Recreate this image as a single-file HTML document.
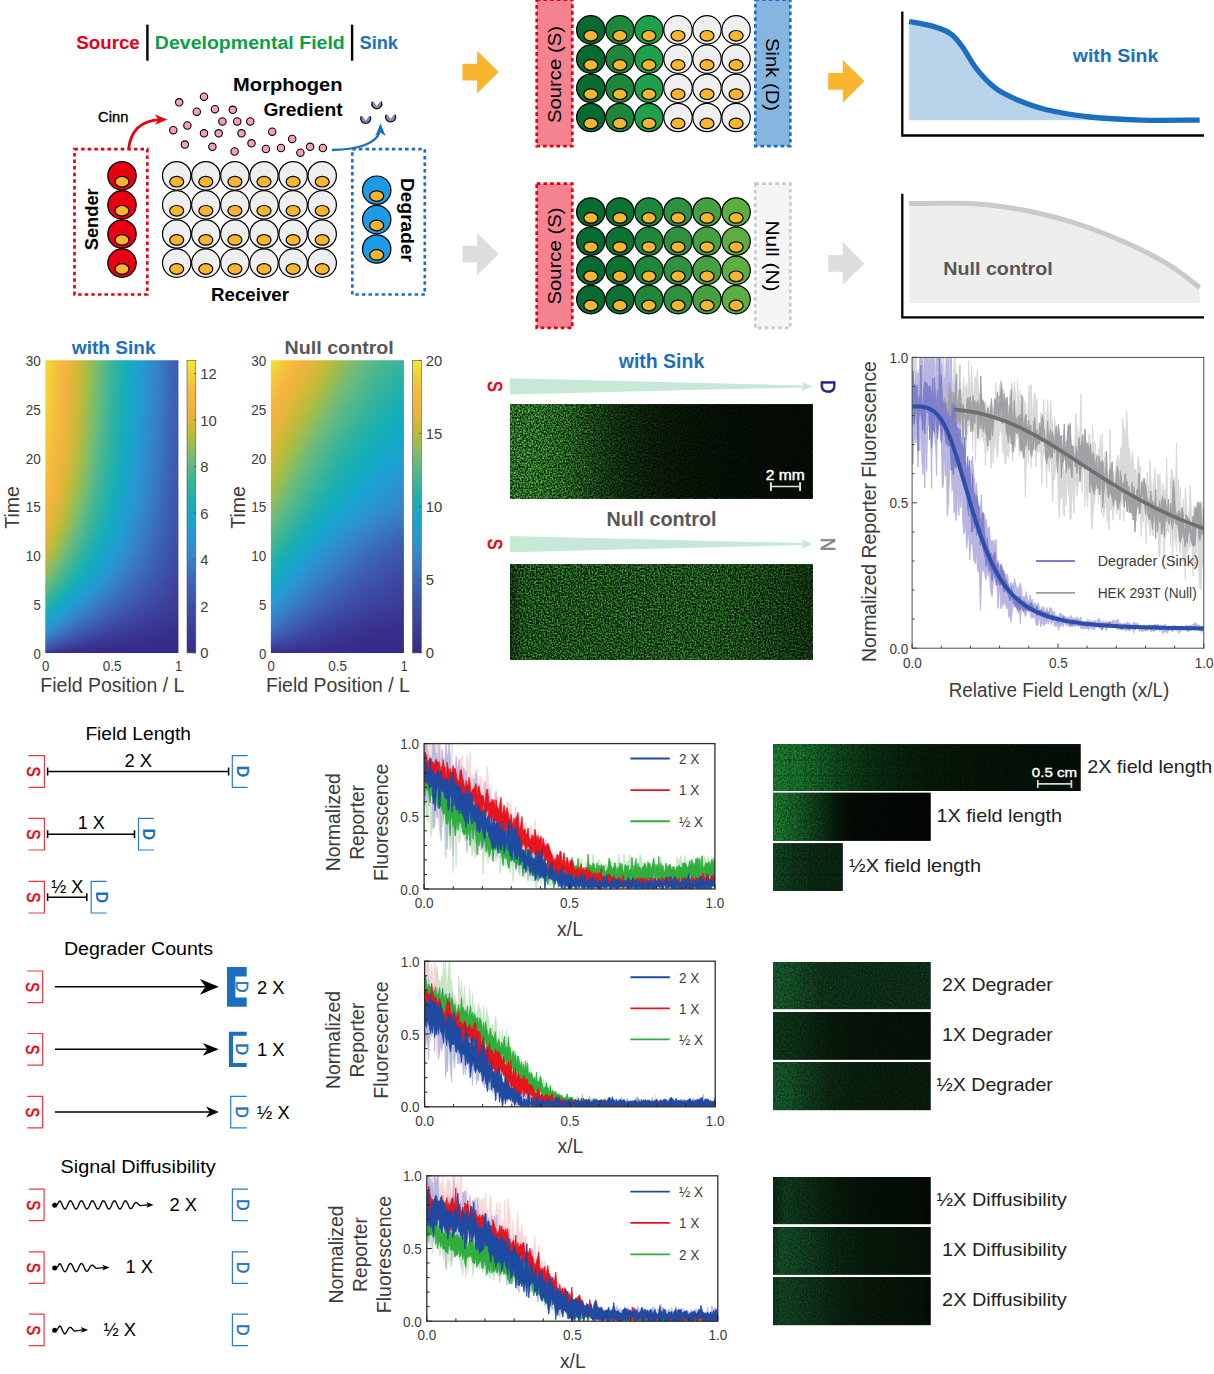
<!DOCTYPE html>
<html><head><meta charset="utf-8"><title>figure</title>
<style>
html,body{margin:0;padding:0;background:#fff;}
svg{display:block;font-family:"Liberation Sans", sans-serif;}
text{font-family:"Liberation Sans", sans-serif;}
</style></head><body>
<svg width="1214" height="1374" viewBox="0 0 1214 1374">
<rect width="1214" height="1374" fill="#fff"/>
<text x="76.30" y="48.80" font-size="18" text-anchor="start" fill="#e60012" font-weight="bold" textLength="63.50" lengthAdjust="spacingAndGlyphs">Source</text>
<rect x="146.2" y="24.7" width="2.4" height="36" fill="#000"/>
<text x="154.80" y="48.80" font-size="18" text-anchor="start" fill="#0b9f48" font-weight="bold" textLength="190.00" lengthAdjust="spacingAndGlyphs">Developmental Field</text>
<rect x="350.9" y="24.7" width="2.4" height="36" fill="#000"/>
<text x="359.50" y="48.80" font-size="18" text-anchor="start" fill="#1b6fbe" font-weight="bold" textLength="38.50" lengthAdjust="spacingAndGlyphs">Sink</text>
<text x="342.60" y="91.40" font-size="18.5" text-anchor="end" fill="#000" font-weight="bold" textLength="109.50" lengthAdjust="spacingAndGlyphs">Morphogen</text>
<text x="342.60" y="115.50" font-size="18.5" text-anchor="end" fill="#000" font-weight="bold" textLength="79.20" lengthAdjust="spacingAndGlyphs">Gredient</text>
<text x="98.10" y="121.70" font-size="14.5" text-anchor="start" fill="#000" textLength="30.30" lengthAdjust="spacingAndGlyphs" stroke="#000" stroke-width="0.35">Cinn</text>
<path d="M128.7 148.5 C131 128 144 120.5 160 119.6" fill="none" stroke="#e60012" stroke-width="2.8"/>
<path d="M167.5 119.5 L154.6 114.6 L158.6 119.7 L154.9 124.8 Z" fill="#e60012"/>
<path d="M332 150 C356 149.5 376 145 380 131" fill="none" stroke="#1b6fbe" stroke-width="2.4"/>
<path d="M380.5 123.3 L375.3 135.9 L380.3 132.6 L385.6 136 Z" fill="#1b6fbe"/>
<circle cx="179.2" cy="102.3" r="3.7" fill="#f4a1b1" stroke="#000" stroke-width="1.1"/><circle cx="204.0" cy="96.7" r="3.7" fill="#f4a1b1" stroke="#000" stroke-width="1.1"/><circle cx="196.8" cy="111.7" r="3.7" fill="#f4a1b1" stroke="#000" stroke-width="1.1"/><circle cx="214.9" cy="109.2" r="3.7" fill="#f4a1b1" stroke="#000" stroke-width="1.1"/><circle cx="232.8" cy="109.8" r="3.7" fill="#f4a1b1" stroke="#000" stroke-width="1.1"/><circle cx="222.4" cy="121.4" r="3.7" fill="#f4a1b1" stroke="#000" stroke-width="1.1"/><circle cx="237.2" cy="121.4" r="3.7" fill="#f4a1b1" stroke="#000" stroke-width="1.1"/><circle cx="250.3" cy="121.4" r="3.7" fill="#f4a1b1" stroke="#000" stroke-width="1.1"/><circle cx="173.3" cy="130.2" r="3.7" fill="#f4a1b1" stroke="#000" stroke-width="1.1"/><circle cx="187.4" cy="125.5" r="3.7" fill="#f4a1b1" stroke="#000" stroke-width="1.1"/><circle cx="204.0" cy="133.3" r="3.7" fill="#f4a1b1" stroke="#000" stroke-width="1.1"/><circle cx="218.7" cy="133.3" r="3.7" fill="#f4a1b1" stroke="#000" stroke-width="1.1"/><circle cx="241.5" cy="133.3" r="3.7" fill="#f4a1b1" stroke="#000" stroke-width="1.1"/><circle cx="272.2" cy="131.7" r="3.7" fill="#f4a1b1" stroke="#000" stroke-width="1.1"/><circle cx="184.9" cy="144.6" r="3.7" fill="#f4a1b1" stroke="#000" stroke-width="1.1"/><circle cx="212.4" cy="146.8" r="3.7" fill="#f4a1b1" stroke="#000" stroke-width="1.1"/><circle cx="234.6" cy="151.5" r="3.7" fill="#f4a1b1" stroke="#000" stroke-width="1.1"/><circle cx="251.5" cy="143.3" r="3.7" fill="#f4a1b1" stroke="#000" stroke-width="1.1"/><circle cx="265.9" cy="149.0" r="3.7" fill="#f4a1b1" stroke="#000" stroke-width="1.1"/><circle cx="281.0" cy="148.0" r="3.7" fill="#f4a1b1" stroke="#000" stroke-width="1.1"/><circle cx="292.2" cy="138.9" r="3.7" fill="#f4a1b1" stroke="#000" stroke-width="1.1"/><circle cx="300.4" cy="152.7" r="3.7" fill="#f4a1b1" stroke="#000" stroke-width="1.1"/><circle cx="310.1" cy="146.8" r="3.7" fill="#f4a1b1" stroke="#000" stroke-width="1.1"/><circle cx="322.9" cy="148.0" r="3.7" fill="#f4a1b1" stroke="#000" stroke-width="1.1"/>
<path d="M372.1 102.1 A5.0 5.0 0 1 0 381.5 102.1 L380.2 101.4 L376.8 106.0 L373.4 101.4 Z" fill="#8189b7"/><path d="M372.1 102.1 A5.0 5.0 0 1 0 381.5 102.1" fill="none" stroke="#111" stroke-width="1.3" stroke-linecap="round"/>
<path d="M361.0 116.7 A5.0 5.0 0 1 0 370.4 116.7 L369.1 116.0 L365.7 120.6 L362.3 116.0 Z" fill="#8189b7"/><path d="M361.0 116.7 A5.0 5.0 0 1 0 370.4 116.7" fill="none" stroke="#111" stroke-width="1.3" stroke-linecap="round"/>
<path d="M385.9 115.2 A5.0 5.0 0 1 0 395.3 115.2 L394.0 114.5 L390.6 119.1 L387.2 114.5 Z" fill="#8189b7"/><path d="M385.9 115.2 A5.0 5.0 0 1 0 395.3 115.2" fill="none" stroke="#111" stroke-width="1.3" stroke-linecap="round"/>
<rect x="74.5" y="149.2" width="72.8" height="145.3" fill="none" stroke="#e60012" stroke-width="2.7" stroke-dasharray="3.5 3.1"/>
<rect x="352.3" y="149.2" width="72.5" height="145.3" fill="none" stroke="#1b6fbe" stroke-width="2.7" stroke-dasharray="3.5 3.1"/>
<circle cx="122.0" cy="175.8" r="14.2" fill="#e60012" stroke="#000" stroke-width="1.2"/><ellipse cx="122.0" cy="181.7" rx="7" ry="5.3" fill="#f9b52e" stroke="#000" stroke-width="1.2"/>
<circle cx="122.0" cy="204.9" r="14.2" fill="#e60012" stroke="#000" stroke-width="1.2"/><ellipse cx="122.0" cy="210.8" rx="7" ry="5.3" fill="#f9b52e" stroke="#000" stroke-width="1.2"/>
<circle cx="122.0" cy="234.0" r="14.2" fill="#e60012" stroke="#000" stroke-width="1.2"/><ellipse cx="122.0" cy="239.9" rx="7" ry="5.3" fill="#f9b52e" stroke="#000" stroke-width="1.2"/>
<circle cx="122.0" cy="263.1" r="14.2" fill="#e60012" stroke="#000" stroke-width="1.2"/><ellipse cx="122.0" cy="269.0" rx="7" ry="5.3" fill="#f9b52e" stroke="#000" stroke-width="1.2"/>
<circle cx="176.7" cy="175.8" r="14.2" fill="#efefef" stroke="#000" stroke-width="1.2"/><ellipse cx="176.7" cy="181.7" rx="7" ry="5.3" fill="#f9b52e" stroke="#000" stroke-width="1.2"/>
<circle cx="205.8" cy="175.8" r="14.2" fill="#efefef" stroke="#000" stroke-width="1.2"/><ellipse cx="205.8" cy="181.7" rx="7" ry="5.3" fill="#f9b52e" stroke="#000" stroke-width="1.2"/>
<circle cx="234.9" cy="175.8" r="14.2" fill="#efefef" stroke="#000" stroke-width="1.2"/><ellipse cx="234.9" cy="181.7" rx="7" ry="5.3" fill="#f9b52e" stroke="#000" stroke-width="1.2"/>
<circle cx="264.0" cy="175.8" r="14.2" fill="#efefef" stroke="#000" stroke-width="1.2"/><ellipse cx="264.0" cy="181.7" rx="7" ry="5.3" fill="#f9b52e" stroke="#000" stroke-width="1.2"/>
<circle cx="293.1" cy="175.8" r="14.2" fill="#efefef" stroke="#000" stroke-width="1.2"/><ellipse cx="293.1" cy="181.7" rx="7" ry="5.3" fill="#f9b52e" stroke="#000" stroke-width="1.2"/>
<circle cx="322.2" cy="175.8" r="14.2" fill="#efefef" stroke="#000" stroke-width="1.2"/><ellipse cx="322.2" cy="181.7" rx="7" ry="5.3" fill="#f9b52e" stroke="#000" stroke-width="1.2"/>
<circle cx="176.7" cy="204.9" r="14.2" fill="#efefef" stroke="#000" stroke-width="1.2"/><ellipse cx="176.7" cy="210.8" rx="7" ry="5.3" fill="#f9b52e" stroke="#000" stroke-width="1.2"/>
<circle cx="205.8" cy="204.9" r="14.2" fill="#efefef" stroke="#000" stroke-width="1.2"/><ellipse cx="205.8" cy="210.8" rx="7" ry="5.3" fill="#f9b52e" stroke="#000" stroke-width="1.2"/>
<circle cx="234.9" cy="204.9" r="14.2" fill="#efefef" stroke="#000" stroke-width="1.2"/><ellipse cx="234.9" cy="210.8" rx="7" ry="5.3" fill="#f9b52e" stroke="#000" stroke-width="1.2"/>
<circle cx="264.0" cy="204.9" r="14.2" fill="#efefef" stroke="#000" stroke-width="1.2"/><ellipse cx="264.0" cy="210.8" rx="7" ry="5.3" fill="#f9b52e" stroke="#000" stroke-width="1.2"/>
<circle cx="293.1" cy="204.9" r="14.2" fill="#efefef" stroke="#000" stroke-width="1.2"/><ellipse cx="293.1" cy="210.8" rx="7" ry="5.3" fill="#f9b52e" stroke="#000" stroke-width="1.2"/>
<circle cx="322.2" cy="204.9" r="14.2" fill="#efefef" stroke="#000" stroke-width="1.2"/><ellipse cx="322.2" cy="210.8" rx="7" ry="5.3" fill="#f9b52e" stroke="#000" stroke-width="1.2"/>
<circle cx="176.7" cy="234.0" r="14.2" fill="#efefef" stroke="#000" stroke-width="1.2"/><ellipse cx="176.7" cy="239.9" rx="7" ry="5.3" fill="#f9b52e" stroke="#000" stroke-width="1.2"/>
<circle cx="205.8" cy="234.0" r="14.2" fill="#efefef" stroke="#000" stroke-width="1.2"/><ellipse cx="205.8" cy="239.9" rx="7" ry="5.3" fill="#f9b52e" stroke="#000" stroke-width="1.2"/>
<circle cx="234.9" cy="234.0" r="14.2" fill="#efefef" stroke="#000" stroke-width="1.2"/><ellipse cx="234.9" cy="239.9" rx="7" ry="5.3" fill="#f9b52e" stroke="#000" stroke-width="1.2"/>
<circle cx="264.0" cy="234.0" r="14.2" fill="#efefef" stroke="#000" stroke-width="1.2"/><ellipse cx="264.0" cy="239.9" rx="7" ry="5.3" fill="#f9b52e" stroke="#000" stroke-width="1.2"/>
<circle cx="293.1" cy="234.0" r="14.2" fill="#efefef" stroke="#000" stroke-width="1.2"/><ellipse cx="293.1" cy="239.9" rx="7" ry="5.3" fill="#f9b52e" stroke="#000" stroke-width="1.2"/>
<circle cx="322.2" cy="234.0" r="14.2" fill="#efefef" stroke="#000" stroke-width="1.2"/><ellipse cx="322.2" cy="239.9" rx="7" ry="5.3" fill="#f9b52e" stroke="#000" stroke-width="1.2"/>
<circle cx="176.7" cy="263.1" r="14.2" fill="#efefef" stroke="#000" stroke-width="1.2"/><ellipse cx="176.7" cy="269.0" rx="7" ry="5.3" fill="#f9b52e" stroke="#000" stroke-width="1.2"/>
<circle cx="205.8" cy="263.1" r="14.2" fill="#efefef" stroke="#000" stroke-width="1.2"/><ellipse cx="205.8" cy="269.0" rx="7" ry="5.3" fill="#f9b52e" stroke="#000" stroke-width="1.2"/>
<circle cx="234.9" cy="263.1" r="14.2" fill="#efefef" stroke="#000" stroke-width="1.2"/><ellipse cx="234.9" cy="269.0" rx="7" ry="5.3" fill="#f9b52e" stroke="#000" stroke-width="1.2"/>
<circle cx="264.0" cy="263.1" r="14.2" fill="#efefef" stroke="#000" stroke-width="1.2"/><ellipse cx="264.0" cy="269.0" rx="7" ry="5.3" fill="#f9b52e" stroke="#000" stroke-width="1.2"/>
<circle cx="293.1" cy="263.1" r="14.2" fill="#efefef" stroke="#000" stroke-width="1.2"/><ellipse cx="293.1" cy="269.0" rx="7" ry="5.3" fill="#f9b52e" stroke="#000" stroke-width="1.2"/>
<circle cx="322.2" cy="263.1" r="14.2" fill="#efefef" stroke="#000" stroke-width="1.2"/><ellipse cx="322.2" cy="269.0" rx="7" ry="5.3" fill="#f9b52e" stroke="#000" stroke-width="1.2"/>
<circle cx="376.7" cy="190.2" r="14.2" fill="#1e9be6" stroke="#000" stroke-width="1.2"/><ellipse cx="376.7" cy="196.1" rx="7" ry="5.3" fill="#f9b52e" stroke="#000" stroke-width="1.2"/>
<circle cx="376.7" cy="219.6" r="14.2" fill="#1e9be6" stroke="#000" stroke-width="1.2"/><ellipse cx="376.7" cy="225.5" rx="7" ry="5.3" fill="#f9b52e" stroke="#000" stroke-width="1.2"/>
<circle cx="376.7" cy="249.0" r="14.2" fill="#1e9be6" stroke="#000" stroke-width="1.2"/><ellipse cx="376.7" cy="254.9" rx="7" ry="5.3" fill="#f9b52e" stroke="#000" stroke-width="1.2"/>
<text x="97.80" y="219.30" font-size="18.5" text-anchor="middle" fill="#000" font-weight="bold" transform="rotate(-90 97.80 219.30)" textLength="62.00" lengthAdjust="spacingAndGlyphs">Sender</text>
<text x="401.20" y="220.00" font-size="18.5" text-anchor="middle" fill="#000" font-weight="bold" transform="rotate(90 401.20 220.00)" textLength="84.00" lengthAdjust="spacingAndGlyphs">Degrader</text>
<text x="250.00" y="300.90" font-size="18.5" text-anchor="middle" fill="#000" font-weight="bold" textLength="78.00" lengthAdjust="spacingAndGlyphs">Receiver</text>
<path d="M462.5 63.7 H477.1 V50.7 L498.7 72.1 L477.1 93.5 V80.5 H462.5 Z" fill="#f9b52e"/>
<path d="M828.2 72.9 H842.8 V59.9 L864.4 81.3 L842.8 102.7 V89.7 H828.2 Z" fill="#f9b52e"/>
<path d="M462.5 245.7 H477.1 V232.7 L498.7 254.1 L477.1 275.5 V262.5 H462.5 Z" fill="#dcdddd"/>
<path d="M828.2 255.0 H842.8 V242.0 L864.4 263.4 L842.8 284.8 V271.8 H828.2 Z" fill="#dcdddd"/>
<rect x="536.7" y="-0.3" width="35.6" height="146.5" fill="#f5828f" stroke="#e60012" stroke-width="2.7" stroke-dasharray="3.7 3"/>
<rect x="755.3" y="-0.3" width="35.0" height="146.5" fill="#86b5df" stroke="#1b6fbe" stroke-width="2.7" stroke-dasharray="3.7 3"/>
<circle cx="590.8" cy="29.9" r="14.2" fill="#066b31" stroke="#000" stroke-width="1.2"/><ellipse cx="590.8" cy="35.8" rx="7" ry="5.3" fill="#f9b52e" stroke="#000" stroke-width="1.2"/>
<circle cx="619.9" cy="29.9" r="14.2" fill="#1f873b" stroke="#000" stroke-width="1.2"/><ellipse cx="619.9" cy="35.8" rx="7" ry="5.3" fill="#f9b52e" stroke="#000" stroke-width="1.2"/>
<circle cx="648.9" cy="29.9" r="14.2" fill="#1fa04a" stroke="#000" stroke-width="1.2"/><ellipse cx="648.9" cy="35.8" rx="7" ry="5.3" fill="#f9b52e" stroke="#000" stroke-width="1.2"/>
<circle cx="678.0" cy="29.9" r="14.2" fill="#efefef" stroke="#000" stroke-width="1.2"/><ellipse cx="678.0" cy="35.8" rx="7" ry="5.3" fill="#f9b52e" stroke="#000" stroke-width="1.2"/>
<circle cx="707.0" cy="29.9" r="14.2" fill="#efefef" stroke="#000" stroke-width="1.2"/><ellipse cx="707.0" cy="35.8" rx="7" ry="5.3" fill="#f9b52e" stroke="#000" stroke-width="1.2"/>
<circle cx="736.1" cy="29.9" r="14.2" fill="#efefef" stroke="#000" stroke-width="1.2"/><ellipse cx="736.1" cy="35.8" rx="7" ry="5.3" fill="#f9b52e" stroke="#000" stroke-width="1.2"/>
<circle cx="590.8" cy="59.1" r="14.2" fill="#066b31" stroke="#000" stroke-width="1.2"/><ellipse cx="590.8" cy="65.0" rx="7" ry="5.3" fill="#f9b52e" stroke="#000" stroke-width="1.2"/>
<circle cx="619.9" cy="59.1" r="14.2" fill="#1f873b" stroke="#000" stroke-width="1.2"/><ellipse cx="619.9" cy="65.0" rx="7" ry="5.3" fill="#f9b52e" stroke="#000" stroke-width="1.2"/>
<circle cx="648.9" cy="59.1" r="14.2" fill="#1fa04a" stroke="#000" stroke-width="1.2"/><ellipse cx="648.9" cy="65.0" rx="7" ry="5.3" fill="#f9b52e" stroke="#000" stroke-width="1.2"/>
<circle cx="678.0" cy="59.1" r="14.2" fill="#efefef" stroke="#000" stroke-width="1.2"/><ellipse cx="678.0" cy="65.0" rx="7" ry="5.3" fill="#f9b52e" stroke="#000" stroke-width="1.2"/>
<circle cx="707.0" cy="59.1" r="14.2" fill="#efefef" stroke="#000" stroke-width="1.2"/><ellipse cx="707.0" cy="65.0" rx="7" ry="5.3" fill="#f9b52e" stroke="#000" stroke-width="1.2"/>
<circle cx="736.1" cy="59.1" r="14.2" fill="#efefef" stroke="#000" stroke-width="1.2"/><ellipse cx="736.1" cy="65.0" rx="7" ry="5.3" fill="#f9b52e" stroke="#000" stroke-width="1.2"/>
<circle cx="590.8" cy="88.3" r="14.2" fill="#066b31" stroke="#000" stroke-width="1.2"/><ellipse cx="590.8" cy="94.2" rx="7" ry="5.3" fill="#f9b52e" stroke="#000" stroke-width="1.2"/>
<circle cx="619.9" cy="88.3" r="14.2" fill="#1f873b" stroke="#000" stroke-width="1.2"/><ellipse cx="619.9" cy="94.2" rx="7" ry="5.3" fill="#f9b52e" stroke="#000" stroke-width="1.2"/>
<circle cx="648.9" cy="88.3" r="14.2" fill="#1fa04a" stroke="#000" stroke-width="1.2"/><ellipse cx="648.9" cy="94.2" rx="7" ry="5.3" fill="#f9b52e" stroke="#000" stroke-width="1.2"/>
<circle cx="678.0" cy="88.3" r="14.2" fill="#efefef" stroke="#000" stroke-width="1.2"/><ellipse cx="678.0" cy="94.2" rx="7" ry="5.3" fill="#f9b52e" stroke="#000" stroke-width="1.2"/>
<circle cx="707.0" cy="88.3" r="14.2" fill="#efefef" stroke="#000" stroke-width="1.2"/><ellipse cx="707.0" cy="94.2" rx="7" ry="5.3" fill="#f9b52e" stroke="#000" stroke-width="1.2"/>
<circle cx="736.1" cy="88.3" r="14.2" fill="#efefef" stroke="#000" stroke-width="1.2"/><ellipse cx="736.1" cy="94.2" rx="7" ry="5.3" fill="#f9b52e" stroke="#000" stroke-width="1.2"/>
<circle cx="590.8" cy="117.5" r="14.2" fill="#066b31" stroke="#000" stroke-width="1.2"/><ellipse cx="590.8" cy="123.4" rx="7" ry="5.3" fill="#f9b52e" stroke="#000" stroke-width="1.2"/>
<circle cx="619.9" cy="117.5" r="14.2" fill="#1f873b" stroke="#000" stroke-width="1.2"/><ellipse cx="619.9" cy="123.4" rx="7" ry="5.3" fill="#f9b52e" stroke="#000" stroke-width="1.2"/>
<circle cx="648.9" cy="117.5" r="14.2" fill="#1fa04a" stroke="#000" stroke-width="1.2"/><ellipse cx="648.9" cy="123.4" rx="7" ry="5.3" fill="#f9b52e" stroke="#000" stroke-width="1.2"/>
<circle cx="678.0" cy="117.5" r="14.2" fill="#efefef" stroke="#000" stroke-width="1.2"/><ellipse cx="678.0" cy="123.4" rx="7" ry="5.3" fill="#f9b52e" stroke="#000" stroke-width="1.2"/>
<circle cx="707.0" cy="117.5" r="14.2" fill="#efefef" stroke="#000" stroke-width="1.2"/><ellipse cx="707.0" cy="123.4" rx="7" ry="5.3" fill="#f9b52e" stroke="#000" stroke-width="1.2"/>
<circle cx="736.1" cy="117.5" r="14.2" fill="#efefef" stroke="#000" stroke-width="1.2"/><ellipse cx="736.1" cy="123.4" rx="7" ry="5.3" fill="#f9b52e" stroke="#000" stroke-width="1.2"/>
<text x="561.30" y="74.50" font-size="18.5" text-anchor="middle" fill="#000" transform="rotate(-90 561.30 74.50)" textLength="97.00" lengthAdjust="spacingAndGlyphs">Source (S)</text>
<text x="766.30" y="74.50" font-size="18.5" text-anchor="middle" fill="#000" transform="rotate(90 766.30 74.50)" textLength="73.00" lengthAdjust="spacingAndGlyphs">Sink (D)</text>
<rect x="536.7" y="183.7" width="35.6" height="144.1" fill="#f5828f" stroke="#e60012" stroke-width="2.7" stroke-dasharray="3.7 3"/>
<rect x="755.3" y="183.7" width="35.0" height="144.1" fill="#f5f5f5" stroke="#c9caca" stroke-width="2.7" stroke-dasharray="3.7 3"/>
<circle cx="590.8" cy="212.0" r="14.2" fill="#066b31" stroke="#000" stroke-width="1.2"/><ellipse cx="590.8" cy="217.9" rx="7" ry="5.3" fill="#f9b52e" stroke="#000" stroke-width="1.2"/>
<circle cx="619.9" cy="212.0" r="14.2" fill="#0c7234" stroke="#000" stroke-width="1.2"/><ellipse cx="619.9" cy="217.9" rx="7" ry="5.3" fill="#f9b52e" stroke="#000" stroke-width="1.2"/>
<circle cx="648.9" cy="212.0" r="14.2" fill="#1f873b" stroke="#000" stroke-width="1.2"/><ellipse cx="648.9" cy="217.9" rx="7" ry="5.3" fill="#f9b52e" stroke="#000" stroke-width="1.2"/>
<circle cx="678.0" cy="212.0" r="14.2" fill="#2f9140" stroke="#000" stroke-width="1.2"/><ellipse cx="678.0" cy="217.9" rx="7" ry="5.3" fill="#f9b52e" stroke="#000" stroke-width="1.2"/>
<circle cx="707.0" cy="212.0" r="14.2" fill="#45a041" stroke="#000" stroke-width="1.2"/><ellipse cx="707.0" cy="217.9" rx="7" ry="5.3" fill="#f9b52e" stroke="#000" stroke-width="1.2"/>
<circle cx="736.1" cy="212.0" r="14.2" fill="#5bae3f" stroke="#000" stroke-width="1.2"/><ellipse cx="736.1" cy="217.9" rx="7" ry="5.3" fill="#f9b52e" stroke="#000" stroke-width="1.2"/>
<circle cx="590.8" cy="241.2" r="14.2" fill="#066b31" stroke="#000" stroke-width="1.2"/><ellipse cx="590.8" cy="247.1" rx="7" ry="5.3" fill="#f9b52e" stroke="#000" stroke-width="1.2"/>
<circle cx="619.9" cy="241.2" r="14.2" fill="#0c7234" stroke="#000" stroke-width="1.2"/><ellipse cx="619.9" cy="247.1" rx="7" ry="5.3" fill="#f9b52e" stroke="#000" stroke-width="1.2"/>
<circle cx="648.9" cy="241.2" r="14.2" fill="#1f873b" stroke="#000" stroke-width="1.2"/><ellipse cx="648.9" cy="247.1" rx="7" ry="5.3" fill="#f9b52e" stroke="#000" stroke-width="1.2"/>
<circle cx="678.0" cy="241.2" r="14.2" fill="#2f9140" stroke="#000" stroke-width="1.2"/><ellipse cx="678.0" cy="247.1" rx="7" ry="5.3" fill="#f9b52e" stroke="#000" stroke-width="1.2"/>
<circle cx="707.0" cy="241.2" r="14.2" fill="#45a041" stroke="#000" stroke-width="1.2"/><ellipse cx="707.0" cy="247.1" rx="7" ry="5.3" fill="#f9b52e" stroke="#000" stroke-width="1.2"/>
<circle cx="736.1" cy="241.2" r="14.2" fill="#5bae3f" stroke="#000" stroke-width="1.2"/><ellipse cx="736.1" cy="247.1" rx="7" ry="5.3" fill="#f9b52e" stroke="#000" stroke-width="1.2"/>
<circle cx="590.8" cy="270.4" r="14.2" fill="#066b31" stroke="#000" stroke-width="1.2"/><ellipse cx="590.8" cy="276.3" rx="7" ry="5.3" fill="#f9b52e" stroke="#000" stroke-width="1.2"/>
<circle cx="619.9" cy="270.4" r="14.2" fill="#0c7234" stroke="#000" stroke-width="1.2"/><ellipse cx="619.9" cy="276.3" rx="7" ry="5.3" fill="#f9b52e" stroke="#000" stroke-width="1.2"/>
<circle cx="648.9" cy="270.4" r="14.2" fill="#1f873b" stroke="#000" stroke-width="1.2"/><ellipse cx="648.9" cy="276.3" rx="7" ry="5.3" fill="#f9b52e" stroke="#000" stroke-width="1.2"/>
<circle cx="678.0" cy="270.4" r="14.2" fill="#2f9140" stroke="#000" stroke-width="1.2"/><ellipse cx="678.0" cy="276.3" rx="7" ry="5.3" fill="#f9b52e" stroke="#000" stroke-width="1.2"/>
<circle cx="707.0" cy="270.4" r="14.2" fill="#45a041" stroke="#000" stroke-width="1.2"/><ellipse cx="707.0" cy="276.3" rx="7" ry="5.3" fill="#f9b52e" stroke="#000" stroke-width="1.2"/>
<circle cx="736.1" cy="270.4" r="14.2" fill="#5bae3f" stroke="#000" stroke-width="1.2"/><ellipse cx="736.1" cy="276.3" rx="7" ry="5.3" fill="#f9b52e" stroke="#000" stroke-width="1.2"/>
<circle cx="590.8" cy="299.6" r="14.2" fill="#066b31" stroke="#000" stroke-width="1.2"/><ellipse cx="590.8" cy="305.5" rx="7" ry="5.3" fill="#f9b52e" stroke="#000" stroke-width="1.2"/>
<circle cx="619.9" cy="299.6" r="14.2" fill="#0c7234" stroke="#000" stroke-width="1.2"/><ellipse cx="619.9" cy="305.5" rx="7" ry="5.3" fill="#f9b52e" stroke="#000" stroke-width="1.2"/>
<circle cx="648.9" cy="299.6" r="14.2" fill="#1f873b" stroke="#000" stroke-width="1.2"/><ellipse cx="648.9" cy="305.5" rx="7" ry="5.3" fill="#f9b52e" stroke="#000" stroke-width="1.2"/>
<circle cx="678.0" cy="299.6" r="14.2" fill="#2f9140" stroke="#000" stroke-width="1.2"/><ellipse cx="678.0" cy="305.5" rx="7" ry="5.3" fill="#f9b52e" stroke="#000" stroke-width="1.2"/>
<circle cx="707.0" cy="299.6" r="14.2" fill="#45a041" stroke="#000" stroke-width="1.2"/><ellipse cx="707.0" cy="305.5" rx="7" ry="5.3" fill="#f9b52e" stroke="#000" stroke-width="1.2"/>
<circle cx="736.1" cy="299.6" r="14.2" fill="#5bae3f" stroke="#000" stroke-width="1.2"/><ellipse cx="736.1" cy="305.5" rx="7" ry="5.3" fill="#f9b52e" stroke="#000" stroke-width="1.2"/>
<text x="561.30" y="256.00" font-size="18.5" text-anchor="middle" fill="#000" transform="rotate(-90 561.30 256.00)" textLength="97.00" lengthAdjust="spacingAndGlyphs">Source (S)</text>
<text x="766.30" y="256.00" font-size="18.5" text-anchor="middle" fill="#000" transform="rotate(90 766.30 256.00)" textLength="71.00" lengthAdjust="spacingAndGlyphs">Null (N)</text>
<path d="M909.1 21.5 C913.4 22.4 927.7 24.8 934.7 26.9 C941.7 29.0 946.5 30.8 951.1 34.1 C955.7 37.4 958.0 40.8 962.3 46.7 C966.7 52.7 971.7 62.9 977.4 69.9 C983.0 76.9 989.3 83.6 996.1 88.7 C1002.9 93.7 1010.0 96.8 1018.3 100.3 C1026.5 103.7 1033.6 106.7 1045.6 109.5 C1057.5 112.3 1074.0 115.2 1089.9 117.0 C1105.8 118.7 1122.8 119.5 1141.1 120.1 C1159.4 120.6 1189.9 120.1 1199.7 120.1 L1199.7 120.3 L909.1 120.3 Z" fill="#b9d4ea"/>
<path d="M909.1 21.5 C913.4 22.4 927.7 24.8 934.7 26.9 C941.7 29.0 946.5 30.8 951.1 34.1 C955.7 37.4 958.0 40.8 962.3 46.7 C966.7 52.7 971.7 62.9 977.4 69.9 C983.0 76.9 989.3 83.6 996.1 88.7 C1002.9 93.7 1010.0 96.8 1018.3 100.3 C1026.5 103.7 1033.6 106.7 1045.6 109.5 C1057.5 112.3 1074.0 115.2 1089.9 117.0 C1105.8 118.7 1122.8 119.5 1141.1 120.1 C1159.4 120.6 1189.9 120.1 1199.7 120.1" fill="none" stroke="#1b6fbe" stroke-width="5.3"/>
<path d="M902.3 11.6 V135.5 H1204" fill="none" stroke="#000" stroke-width="2.3"/>
<text x="1072.80" y="62.00" font-size="19" text-anchor="start" fill="#1b6fbe" font-weight="bold" textLength="85.50" lengthAdjust="spacingAndGlyphs">with Sink</text>
<path d="M909.1 203.6 C914.8 203.6 933.0 203.3 943.2 203.3 C953.5 203.3 960.3 203.0 970.5 203.6 C980.8 204.2 993.3 205.4 1004.6 207.0 C1016.0 208.6 1027.4 210.6 1038.7 213.2 C1050.1 215.7 1061.5 218.8 1072.9 222.4 C1084.2 226.0 1095.6 230.1 1107.0 234.7 C1118.3 239.2 1130.3 244.3 1141.1 249.7 C1151.9 255.0 1162.0 260.4 1171.8 266.7 C1181.5 273.0 1195.1 284.0 1199.7 287.5 L1199.7 303 L909.1 303 Z" fill="#eeeeee"/>
<path d="M909.1 203.6 C914.8 203.6 933.0 203.3 943.2 203.3 C953.5 203.3 960.3 203.0 970.5 203.6 C980.8 204.2 993.3 205.4 1004.6 207.0 C1016.0 208.6 1027.4 210.6 1038.7 213.2 C1050.1 215.7 1061.5 218.8 1072.9 222.4 C1084.2 226.0 1095.6 230.1 1107.0 234.7 C1118.3 239.2 1130.3 244.3 1141.1 249.7 C1151.9 255.0 1162.0 260.4 1171.8 266.7 C1181.5 273.0 1195.1 284.0 1199.7 287.5" fill="none" stroke="#c9caca" stroke-width="5"/>
<path d="M902.3 193.7 V317.3 H1204" fill="none" stroke="#000" stroke-width="2.3"/>
<text x="943.20" y="274.50" font-size="19" text-anchor="start" fill="#595757" font-weight="bold" textLength="109.50" lengthAdjust="spacingAndGlyphs">Null control</text>
<defs>
<linearGradient id="h0r0"><stop offset="0%" stop-color="#3a3a96"/><stop offset="8.3%" stop-color="#393490"/><stop offset="16.7%" stop-color="#37308d"/><stop offset="25%" stop-color="#372d8a"/><stop offset="33.3%" stop-color="#362c89"/><stop offset="41.7%" stop-color="#362b88"/><stop offset="50%" stop-color="#362b88"/><stop offset="58.3%" stop-color="#362b88"/><stop offset="66.7%" stop-color="#362b88"/><stop offset="75%" stop-color="#362b88"/><stop offset="83.3%" stop-color="#362b88"/><stop offset="91.7%" stop-color="#362b88"/><stop offset="100%" stop-color="#362b88"/></linearGradient>
<linearGradient id="h0r1"><stop offset="0%" stop-color="#3d52a9"/><stop offset="8.3%" stop-color="#3c449e"/><stop offset="16.7%" stop-color="#3a3a96"/><stop offset="25%" stop-color="#393490"/><stop offset="33.3%" stop-color="#37308d"/><stop offset="41.7%" stop-color="#372e8b"/><stop offset="50%" stop-color="#362c89"/><stop offset="58.3%" stop-color="#362c89"/><stop offset="66.7%" stop-color="#362b88"/><stop offset="75%" stop-color="#362b88"/><stop offset="83.3%" stop-color="#362b88"/><stop offset="91.7%" stop-color="#362b88"/><stop offset="100%" stop-color="#362b88"/></linearGradient>
<linearGradient id="h0r2"><stop offset="0%" stop-color="#3b61b4"/><stop offset="8.3%" stop-color="#3d50a7"/><stop offset="16.7%" stop-color="#3c449e"/><stop offset="25%" stop-color="#3b3c98"/><stop offset="33.3%" stop-color="#393692"/><stop offset="41.7%" stop-color="#38328e"/><stop offset="50%" stop-color="#372f8c"/><stop offset="58.3%" stop-color="#372d8a"/><stop offset="66.7%" stop-color="#362c89"/><stop offset="75%" stop-color="#362c89"/><stop offset="83.3%" stop-color="#362b88"/><stop offset="91.7%" stop-color="#362b88"/><stop offset="100%" stop-color="#362b88"/></linearGradient>
<linearGradient id="h0r3"><stop offset="0%" stop-color="#3a6ebd"/><stop offset="8.3%" stop-color="#3c5bb0"/><stop offset="16.7%" stop-color="#3d4da5"/><stop offset="25%" stop-color="#3c439e"/><stop offset="33.3%" stop-color="#3b3c98"/><stop offset="41.7%" stop-color="#393793"/><stop offset="50%" stop-color="#38338f"/><stop offset="58.3%" stop-color="#38308d"/><stop offset="66.7%" stop-color="#372e8b"/><stop offset="75%" stop-color="#372d8a"/><stop offset="83.3%" stop-color="#362c89"/><stop offset="91.7%" stop-color="#362c89"/><stop offset="100%" stop-color="#362c88"/></linearGradient>
<linearGradient id="h0r4"><stop offset="0%" stop-color="#387ac4"/><stop offset="8.3%" stop-color="#3b65b7"/><stop offset="16.7%" stop-color="#3c56ac"/><stop offset="25%" stop-color="#3d4aa3"/><stop offset="33.3%" stop-color="#3c429d"/><stop offset="41.7%" stop-color="#3b3b97"/><stop offset="50%" stop-color="#393793"/><stop offset="58.3%" stop-color="#383390"/><stop offset="66.7%" stop-color="#38318d"/><stop offset="75%" stop-color="#372f8c"/><stop offset="83.3%" stop-color="#372e8a"/><stop offset="91.7%" stop-color="#372d8a"/><stop offset="100%" stop-color="#362c89"/></linearGradient>
<linearGradient id="h0r5"><stop offset="0%" stop-color="#3584ca"/><stop offset="8.3%" stop-color="#3a70be"/><stop offset="16.7%" stop-color="#3c5fb3"/><stop offset="25%" stop-color="#3d52a9"/><stop offset="33.3%" stop-color="#3c48a2"/><stop offset="41.7%" stop-color="#3b419c"/><stop offset="50%" stop-color="#3b3b97"/><stop offset="58.3%" stop-color="#393793"/><stop offset="66.7%" stop-color="#383390"/><stop offset="75%" stop-color="#38318e"/><stop offset="83.3%" stop-color="#372f8c"/><stop offset="91.7%" stop-color="#372e8b"/><stop offset="100%" stop-color="#372d8a"/></linearGradient>
<linearGradient id="h0r6"><stop offset="0%" stop-color="#2e8dce"/><stop offset="8.3%" stop-color="#3879c3"/><stop offset="16.7%" stop-color="#3b67b8"/><stop offset="25%" stop-color="#3c59ae"/><stop offset="33.3%" stop-color="#3d4ea6"/><stop offset="41.7%" stop-color="#3c46a0"/><stop offset="50%" stop-color="#3b3f9a"/><stop offset="58.3%" stop-color="#3a3a96"/><stop offset="66.7%" stop-color="#393693"/><stop offset="75%" stop-color="#383390"/><stop offset="83.3%" stop-color="#38318e"/><stop offset="91.7%" stop-color="#372f8c"/><stop offset="100%" stop-color="#372e8b"/></linearGradient>
<linearGradient id="h0r7"><stop offset="0%" stop-color="#2995d1"/><stop offset="8.3%" stop-color="#3682c9"/><stop offset="16.7%" stop-color="#3a70be"/><stop offset="25%" stop-color="#3c60b4"/><stop offset="33.3%" stop-color="#3d54ab"/><stop offset="41.7%" stop-color="#3d4ba4"/><stop offset="50%" stop-color="#3c449e"/><stop offset="58.3%" stop-color="#3b3e99"/><stop offset="66.7%" stop-color="#3a3995"/><stop offset="75%" stop-color="#393692"/><stop offset="83.3%" stop-color="#383390"/><stop offset="91.7%" stop-color="#38318e"/><stop offset="100%" stop-color="#372f8c"/></linearGradient>
<linearGradient id="h0r8"><stop offset="0%" stop-color="#229cd2"/><stop offset="8.3%" stop-color="#318acc"/><stop offset="16.7%" stop-color="#3878c2"/><stop offset="25%" stop-color="#3b67b9"/><stop offset="33.3%" stop-color="#3c5aaf"/><stop offset="41.7%" stop-color="#3d50a7"/><stop offset="50%" stop-color="#3c48a1"/><stop offset="58.3%" stop-color="#3c429c"/><stop offset="66.7%" stop-color="#3b3c98"/><stop offset="75%" stop-color="#3a3895"/><stop offset="83.3%" stop-color="#393592"/><stop offset="91.7%" stop-color="#38338f"/><stop offset="100%" stop-color="#38318d"/></linearGradient>
<linearGradient id="h0r9"><stop offset="0%" stop-color="#1ba2cf"/><stop offset="8.3%" stop-color="#2c91cf"/><stop offset="16.7%" stop-color="#377fc7"/><stop offset="25%" stop-color="#3a6ebd"/><stop offset="33.3%" stop-color="#3c60b4"/><stop offset="41.7%" stop-color="#3c55ab"/><stop offset="50%" stop-color="#3d4ca5"/><stop offset="58.3%" stop-color="#3c459f"/><stop offset="66.7%" stop-color="#3b409b"/><stop offset="75%" stop-color="#3b3b97"/><stop offset="83.3%" stop-color="#3a3794"/><stop offset="91.7%" stop-color="#393491"/><stop offset="100%" stop-color="#38328e"/></linearGradient>
<linearGradient id="h0r10"><stop offset="0%" stop-color="#16a6c9"/><stop offset="8.3%" stop-color="#2797d2"/><stop offset="16.7%" stop-color="#3386ca"/><stop offset="25%" stop-color="#3975c1"/><stop offset="33.3%" stop-color="#3b66b8"/><stop offset="41.7%" stop-color="#3c5aaf"/><stop offset="50%" stop-color="#3d50a8"/><stop offset="58.3%" stop-color="#3c49a2"/><stop offset="66.7%" stop-color="#3c439d"/><stop offset="75%" stop-color="#3b3e99"/><stop offset="83.3%" stop-color="#3a3996"/><stop offset="91.7%" stop-color="#393692"/><stop offset="100%" stop-color="#383390"/></linearGradient>
<linearGradient id="h0r11"><stop offset="0%" stop-color="#12aac2"/><stop offset="8.3%" stop-color="#219dd1"/><stop offset="16.7%" stop-color="#2f8ccd"/><stop offset="25%" stop-color="#387cc5"/><stop offset="33.3%" stop-color="#3a6cbc"/><stop offset="41.7%" stop-color="#3c60b3"/><stop offset="50%" stop-color="#3c55ac"/><stop offset="58.3%" stop-color="#3d4da5"/><stop offset="66.7%" stop-color="#3c46a0"/><stop offset="75%" stop-color="#3b409b"/><stop offset="83.3%" stop-color="#3b3c98"/><stop offset="91.7%" stop-color="#3a3894"/><stop offset="100%" stop-color="#393491"/></linearGradient>
<linearGradient id="h0r12"><stop offset="0%" stop-color="#16acba"/><stop offset="8.3%" stop-color="#1ba2cf"/><stop offset="16.7%" stop-color="#2b92d0"/><stop offset="25%" stop-color="#3682c9"/><stop offset="33.3%" stop-color="#3973bf"/><stop offset="41.7%" stop-color="#3b65b7"/><stop offset="50%" stop-color="#3c5aaf"/><stop offset="58.3%" stop-color="#3d50a8"/><stop offset="66.7%" stop-color="#3c49a2"/><stop offset="75%" stop-color="#3c439e"/><stop offset="83.3%" stop-color="#3b3e99"/><stop offset="91.7%" stop-color="#3a3996"/><stop offset="100%" stop-color="#393692"/></linearGradient>
<linearGradient id="h0r13"><stop offset="0%" stop-color="#1aafb2"/><stop offset="8.3%" stop-color="#17a6ca"/><stop offset="16.7%" stop-color="#2798d3"/><stop offset="25%" stop-color="#3288cb"/><stop offset="33.3%" stop-color="#3879c3"/><stop offset="41.7%" stop-color="#3a6aba"/><stop offset="50%" stop-color="#3c5eb2"/><stop offset="58.3%" stop-color="#3d54ab"/><stop offset="66.7%" stop-color="#3d4ca5"/><stop offset="75%" stop-color="#3c46a0"/><stop offset="83.3%" stop-color="#3b409b"/><stop offset="91.7%" stop-color="#3b3b97"/><stop offset="100%" stop-color="#393793"/></linearGradient>
<linearGradient id="h0r14"><stop offset="0%" stop-color="#22b1aa"/><stop offset="8.3%" stop-color="#13a9c4"/><stop offset="16.7%" stop-color="#229dd2"/><stop offset="25%" stop-color="#2e8dce"/><stop offset="33.3%" stop-color="#377ec6"/><stop offset="41.7%" stop-color="#3a6fbd"/><stop offset="50%" stop-color="#3b62b5"/><stop offset="58.3%" stop-color="#3c58ae"/><stop offset="66.7%" stop-color="#3d4fa7"/><stop offset="75%" stop-color="#3c48a2"/><stop offset="83.3%" stop-color="#3c429d"/><stop offset="91.7%" stop-color="#3b3d98"/><stop offset="100%" stop-color="#3a3894"/></linearGradient>
<linearGradient id="h0r15"><stop offset="0%" stop-color="#2ab3a2"/><stop offset="8.3%" stop-color="#14abbd"/><stop offset="16.7%" stop-color="#1ca1d0"/><stop offset="25%" stop-color="#2b92d0"/><stop offset="33.3%" stop-color="#3583c9"/><stop offset="41.7%" stop-color="#3974c1"/><stop offset="50%" stop-color="#3b67b8"/><stop offset="58.3%" stop-color="#3c5cb1"/><stop offset="66.7%" stop-color="#3d52a9"/><stop offset="75%" stop-color="#3d4ba3"/><stop offset="83.3%" stop-color="#3c449e"/><stop offset="91.7%" stop-color="#3b3e9a"/><stop offset="100%" stop-color="#3a3995"/></linearGradient>
<linearGradient id="h0r16"><stop offset="0%" stop-color="#34b49b"/><stop offset="8.3%" stop-color="#18aeb7"/><stop offset="16.7%" stop-color="#18a5cc"/><stop offset="25%" stop-color="#2797d2"/><stop offset="33.3%" stop-color="#3288cb"/><stop offset="41.7%" stop-color="#3879c4"/><stop offset="50%" stop-color="#3a6bbb"/><stop offset="58.3%" stop-color="#3c60b3"/><stop offset="66.7%" stop-color="#3c56ac"/><stop offset="75%" stop-color="#3d4da5"/><stop offset="83.3%" stop-color="#3c46a0"/><stop offset="91.7%" stop-color="#3b409b"/><stop offset="100%" stop-color="#3a3a96"/></linearGradient>
<linearGradient id="h0r17"><stop offset="0%" stop-color="#3eb596"/><stop offset="8.3%" stop-color="#1cafb0"/><stop offset="16.7%" stop-color="#15a7c7"/><stop offset="25%" stop-color="#239bd2"/><stop offset="33.3%" stop-color="#2f8dcd"/><stop offset="41.7%" stop-color="#377ec6"/><stop offset="50%" stop-color="#3a70be"/><stop offset="58.3%" stop-color="#3b63b6"/><stop offset="66.7%" stop-color="#3c59ae"/><stop offset="75%" stop-color="#3d4fa7"/><stop offset="83.3%" stop-color="#3c48a1"/><stop offset="91.7%" stop-color="#3c419c"/><stop offset="100%" stop-color="#3b3b97"/></linearGradient>
<linearGradient id="h0r18"><stop offset="0%" stop-color="#48b790"/><stop offset="8.3%" stop-color="#23b1a9"/><stop offset="16.7%" stop-color="#12aac2"/><stop offset="25%" stop-color="#1f9fd1"/><stop offset="33.3%" stop-color="#2c91cf"/><stop offset="41.7%" stop-color="#3683c9"/><stop offset="50%" stop-color="#3974c0"/><stop offset="58.3%" stop-color="#3b66b8"/><stop offset="66.7%" stop-color="#3c5cb0"/><stop offset="75%" stop-color="#3d52a9"/><stop offset="83.3%" stop-color="#3c4aa3"/><stop offset="91.7%" stop-color="#3c439d"/><stop offset="100%" stop-color="#3b3c98"/></linearGradient>
<linearGradient id="h0r19"><stop offset="0%" stop-color="#52b88b"/><stop offset="8.3%" stop-color="#2ab3a2"/><stop offset="16.7%" stop-color="#15acbc"/><stop offset="25%" stop-color="#1aa3cf"/><stop offset="33.3%" stop-color="#2995d1"/><stop offset="41.7%" stop-color="#3387cb"/><stop offset="50%" stop-color="#3878c3"/><stop offset="58.3%" stop-color="#3a6aba"/><stop offset="66.7%" stop-color="#3c5fb3"/><stop offset="75%" stop-color="#3d54ab"/><stop offset="83.3%" stop-color="#3d4ca4"/><stop offset="91.7%" stop-color="#3c449f"/><stop offset="100%" stop-color="#3b3d99"/></linearGradient>
<linearGradient id="h0r20"><stop offset="0%" stop-color="#5cba86"/><stop offset="8.3%" stop-color="#32b49c"/><stop offset="16.7%" stop-color="#18aeb6"/><stop offset="25%" stop-color="#17a5cb"/><stop offset="33.3%" stop-color="#2699d3"/><stop offset="41.7%" stop-color="#308acc"/><stop offset="50%" stop-color="#387cc5"/><stop offset="58.3%" stop-color="#3a6ebd"/><stop offset="66.7%" stop-color="#3b61b5"/><stop offset="75%" stop-color="#3c57ad"/><stop offset="83.3%" stop-color="#3d4da6"/><stop offset="91.7%" stop-color="#3c46a0"/><stop offset="100%" stop-color="#3b3e9a"/></linearGradient>
<linearGradient id="h0r21"><stop offset="0%" stop-color="#66ba7f"/><stop offset="8.3%" stop-color="#3bb597"/><stop offset="16.7%" stop-color="#1cafb0"/><stop offset="25%" stop-color="#15a8c6"/><stop offset="33.3%" stop-color="#229cd2"/><stop offset="41.7%" stop-color="#2e8ece"/><stop offset="50%" stop-color="#3780c7"/><stop offset="58.3%" stop-color="#3971bf"/><stop offset="66.7%" stop-color="#3b64b7"/><stop offset="75%" stop-color="#3c59af"/><stop offset="83.3%" stop-color="#3d4fa7"/><stop offset="91.7%" stop-color="#3c47a1"/><stop offset="100%" stop-color="#3b3f9b"/></linearGradient>
<linearGradient id="h0r22"><stop offset="0%" stop-color="#71bb76"/><stop offset="8.3%" stop-color="#44b693"/><stop offset="16.7%" stop-color="#22b1aa"/><stop offset="25%" stop-color="#12aac2"/><stop offset="33.3%" stop-color="#1e9fd0"/><stop offset="41.7%" stop-color="#2b91d0"/><stop offset="50%" stop-color="#3583c9"/><stop offset="58.3%" stop-color="#3975c1"/><stop offset="66.7%" stop-color="#3b67b8"/><stop offset="75%" stop-color="#3c5bb0"/><stop offset="83.3%" stop-color="#3d51a8"/><stop offset="91.7%" stop-color="#3c48a2"/><stop offset="100%" stop-color="#3b409b"/></linearGradient>
<linearGradient id="h0r23"><stop offset="0%" stop-color="#7bbc6f"/><stop offset="8.3%" stop-color="#4cb78e"/><stop offset="16.7%" stop-color="#27b2a5"/><stop offset="25%" stop-color="#14abbd"/><stop offset="33.3%" stop-color="#1ba2cf"/><stop offset="41.7%" stop-color="#2995d1"/><stop offset="50%" stop-color="#3386cb"/><stop offset="58.3%" stop-color="#3878c3"/><stop offset="66.7%" stop-color="#3a6aba"/><stop offset="75%" stop-color="#3c5eb2"/><stop offset="83.3%" stop-color="#3d53aa"/><stop offset="91.7%" stop-color="#3c49a3"/><stop offset="100%" stop-color="#3c419c"/></linearGradient>
<linearGradient id="h0r24"><stop offset="0%" stop-color="#86bc64"/><stop offset="8.3%" stop-color="#54b88a"/><stop offset="16.7%" stop-color="#2db39f"/><stop offset="25%" stop-color="#17adb9"/><stop offset="33.3%" stop-color="#18a5cc"/><stop offset="41.7%" stop-color="#2798d3"/><stop offset="50%" stop-color="#3189cc"/><stop offset="58.3%" stop-color="#387bc4"/><stop offset="66.7%" stop-color="#3a6cbc"/><stop offset="75%" stop-color="#3c60b3"/><stop offset="83.3%" stop-color="#3d54ab"/><stop offset="91.7%" stop-color="#3d4ba4"/><stop offset="100%" stop-color="#3c429d"/></linearGradient>
<linearGradient id="h0r25"><stop offset="0%" stop-color="#92bd58"/><stop offset="8.3%" stop-color="#5cba86"/><stop offset="16.7%" stop-color="#34b49b"/><stop offset="25%" stop-color="#19aeb4"/><stop offset="33.3%" stop-color="#16a6c9"/><stop offset="41.7%" stop-color="#249bd2"/><stop offset="50%" stop-color="#2f8ccd"/><stop offset="58.3%" stop-color="#377ec6"/><stop offset="66.7%" stop-color="#3a6fbd"/><stop offset="75%" stop-color="#3b62b5"/><stop offset="83.3%" stop-color="#3c56ac"/><stop offset="91.7%" stop-color="#3d4ca4"/><stop offset="100%" stop-color="#3c439e"/></linearGradient>
<linearGradient id="h0r26"><stop offset="0%" stop-color="#9cbd4c"/><stop offset="8.3%" stop-color="#64ba80"/><stop offset="16.7%" stop-color="#3bb597"/><stop offset="25%" stop-color="#1db0af"/><stop offset="33.3%" stop-color="#14a8c5"/><stop offset="41.7%" stop-color="#219dd1"/><stop offset="50%" stop-color="#2d8fce"/><stop offset="58.3%" stop-color="#3781c8"/><stop offset="66.7%" stop-color="#3972bf"/><stop offset="75%" stop-color="#3b64b6"/><stop offset="83.3%" stop-color="#3c58ae"/><stop offset="91.7%" stop-color="#3d4da5"/><stop offset="100%" stop-color="#3c449e"/></linearGradient>
<linearGradient id="h0r27"><stop offset="0%" stop-color="#a6bd43"/><stop offset="8.3%" stop-color="#6dbb79"/><stop offset="16.7%" stop-color="#42b694"/><stop offset="25%" stop-color="#21b1ab"/><stop offset="33.3%" stop-color="#12aac2"/><stop offset="41.7%" stop-color="#1ea0d0"/><stop offset="50%" stop-color="#2b92d0"/><stop offset="58.3%" stop-color="#3583c9"/><stop offset="66.7%" stop-color="#3974c0"/><stop offset="75%" stop-color="#3b65b8"/><stop offset="83.3%" stop-color="#3c59af"/><stop offset="91.7%" stop-color="#3d4ea6"/><stop offset="100%" stop-color="#3c459f"/></linearGradient>
<linearGradient id="h0r28"><stop offset="0%" stop-color="#afbc40"/><stop offset="8.3%" stop-color="#76bb73"/><stop offset="16.7%" stop-color="#49b790"/><stop offset="25%" stop-color="#26b2a6"/><stop offset="33.3%" stop-color="#14abbe"/><stop offset="41.7%" stop-color="#1ba2cf"/><stop offset="50%" stop-color="#2994d1"/><stop offset="58.3%" stop-color="#3486ca"/><stop offset="66.7%" stop-color="#3977c2"/><stop offset="75%" stop-color="#3b68b9"/><stop offset="83.3%" stop-color="#3c5bb0"/><stop offset="91.7%" stop-color="#3d4fa7"/><stop offset="100%" stop-color="#3c459f"/></linearGradient>
<linearGradient id="h0r29"><stop offset="0%" stop-color="#b7bb3c"/><stop offset="8.3%" stop-color="#7ebc6d"/><stop offset="16.7%" stop-color="#4fb88c"/><stop offset="25%" stop-color="#2ab3a2"/><stop offset="33.3%" stop-color="#16acba"/><stop offset="41.7%" stop-color="#19a4cd"/><stop offset="50%" stop-color="#2797d2"/><stop offset="58.3%" stop-color="#3288cb"/><stop offset="66.7%" stop-color="#3879c3"/><stop offset="75%" stop-color="#3a6aba"/><stop offset="83.3%" stop-color="#3c5cb1"/><stop offset="91.7%" stop-color="#3d50a8"/><stop offset="100%" stop-color="#3c46a0"/></linearGradient>
<linearGradient id="h0r30"><stop offset="0%" stop-color="#bfba39"/><stop offset="8.3%" stop-color="#87bc64"/><stop offset="16.7%" stop-color="#56b989"/><stop offset="25%" stop-color="#30b39e"/><stop offset="33.3%" stop-color="#18aeb7"/><stop offset="41.7%" stop-color="#17a5cb"/><stop offset="50%" stop-color="#2699d3"/><stop offset="58.3%" stop-color="#308acc"/><stop offset="66.7%" stop-color="#387bc5"/><stop offset="75%" stop-color="#3a6bbb"/><stop offset="83.3%" stop-color="#3c5eb2"/><stop offset="91.7%" stop-color="#3d51a9"/><stop offset="100%" stop-color="#3c47a1"/></linearGradient>
<linearGradient id="h0r31"><stop offset="0%" stop-color="#c6ba37"/><stop offset="8.3%" stop-color="#8fbc5a"/><stop offset="16.7%" stop-color="#5cb986"/><stop offset="25%" stop-color="#35b49b"/><stop offset="33.3%" stop-color="#19afb3"/><stop offset="41.7%" stop-color="#16a7c8"/><stop offset="50%" stop-color="#239bd2"/><stop offset="58.3%" stop-color="#2f8ccd"/><stop offset="66.7%" stop-color="#387dc6"/><stop offset="75%" stop-color="#3a6dbc"/><stop offset="83.3%" stop-color="#3c5fb3"/><stop offset="91.7%" stop-color="#3d52aa"/><stop offset="100%" stop-color="#3c48a1"/></linearGradient>
<linearGradient id="h0r32"><stop offset="0%" stop-color="#ccb938"/><stop offset="8.3%" stop-color="#98bd51"/><stop offset="16.7%" stop-color="#62ba82"/><stop offset="25%" stop-color="#3bb598"/><stop offset="33.3%" stop-color="#1cb0b0"/><stop offset="41.7%" stop-color="#14a8c5"/><stop offset="50%" stop-color="#219dd1"/><stop offset="58.3%" stop-color="#2e8ece"/><stop offset="66.7%" stop-color="#377fc7"/><stop offset="75%" stop-color="#3a6fbd"/><stop offset="83.3%" stop-color="#3b60b4"/><stop offset="91.7%" stop-color="#3d53aa"/><stop offset="100%" stop-color="#3c48a2"/></linearGradient>
<linearGradient id="h0r33"><stop offset="0%" stop-color="#d2b839"/><stop offset="8.3%" stop-color="#a0bd49"/><stop offset="16.7%" stop-color="#69bb7d"/><stop offset="25%" stop-color="#40b595"/><stop offset="33.3%" stop-color="#20b0ac"/><stop offset="41.7%" stop-color="#13aac3"/><stop offset="50%" stop-color="#1f9fd1"/><stop offset="58.3%" stop-color="#2c90cf"/><stop offset="66.7%" stop-color="#3781c8"/><stop offset="75%" stop-color="#3971be"/><stop offset="83.3%" stop-color="#3b62b5"/><stop offset="91.7%" stop-color="#3d54ab"/><stop offset="100%" stop-color="#3c49a2"/></linearGradient>
<linearGradient id="h0r34"><stop offset="0%" stop-color="#d8b839"/><stop offset="8.3%" stop-color="#a7bd43"/><stop offset="16.7%" stop-color="#70bb78"/><stop offset="25%" stop-color="#45b692"/><stop offset="33.3%" stop-color="#23b1a9"/><stop offset="41.7%" stop-color="#13abc0"/><stop offset="50%" stop-color="#1da0d0"/><stop offset="58.3%" stop-color="#2b92d0"/><stop offset="66.7%" stop-color="#3683c9"/><stop offset="75%" stop-color="#3973bf"/><stop offset="83.3%" stop-color="#3b63b6"/><stop offset="91.7%" stop-color="#3c55ac"/><stop offset="100%" stop-color="#3c49a3"/></linearGradient>
<linearGradient id="h0r35"><stop offset="0%" stop-color="#ddb73a"/><stop offset="8.3%" stop-color="#aebc40"/><stop offset="16.7%" stop-color="#76bb73"/><stop offset="25%" stop-color="#4ab78f"/><stop offset="33.3%" stop-color="#27b2a5"/><stop offset="41.7%" stop-color="#14abbd"/><stop offset="50%" stop-color="#1ba2cf"/><stop offset="58.3%" stop-color="#2a94d1"/><stop offset="66.7%" stop-color="#3485ca"/><stop offset="75%" stop-color="#3974c0"/><stop offset="83.3%" stop-color="#3b64b7"/><stop offset="91.7%" stop-color="#3c56ac"/><stop offset="100%" stop-color="#3c4aa3"/></linearGradient>
<linearGradient id="h0r36"><stop offset="0%" stop-color="#e1b63b"/><stop offset="8.3%" stop-color="#b4bc3e"/><stop offset="16.7%" stop-color="#7cbc6e"/><stop offset="25%" stop-color="#4fb78d"/><stop offset="33.3%" stop-color="#2ab3a2"/><stop offset="41.7%" stop-color="#16acbb"/><stop offset="50%" stop-color="#19a3ce"/><stop offset="58.3%" stop-color="#2896d2"/><stop offset="66.7%" stop-color="#3386ca"/><stop offset="75%" stop-color="#3976c1"/><stop offset="83.3%" stop-color="#3b65b7"/><stop offset="91.7%" stop-color="#3c57ad"/><stop offset="100%" stop-color="#3d4ba3"/></linearGradient>
<linearGradient id="h0r37"><stop offset="0%" stop-color="#e5b63c"/><stop offset="8.3%" stop-color="#babb3b"/><stop offset="16.7%" stop-color="#82bc68"/><stop offset="25%" stop-color="#53b88a"/><stop offset="33.3%" stop-color="#2eb39f"/><stop offset="41.7%" stop-color="#17adb8"/><stop offset="50%" stop-color="#18a5cc"/><stop offset="58.3%" stop-color="#2797d2"/><stop offset="66.7%" stop-color="#3288cb"/><stop offset="75%" stop-color="#3877c2"/><stop offset="83.3%" stop-color="#3b66b8"/><stop offset="91.7%" stop-color="#3c58ae"/><stop offset="100%" stop-color="#3d4ba4"/></linearGradient>
<linearGradient id="h0r38"><stop offset="0%" stop-color="#e8b53d"/><stop offset="8.3%" stop-color="#bfba39"/><stop offset="16.7%" stop-color="#89bc61"/><stop offset="25%" stop-color="#58b988"/><stop offset="33.3%" stop-color="#32b49d"/><stop offset="41.7%" stop-color="#18aeb6"/><stop offset="50%" stop-color="#17a6ca"/><stop offset="58.3%" stop-color="#2699d3"/><stop offset="66.7%" stop-color="#3189cc"/><stop offset="75%" stop-color="#3879c3"/><stop offset="83.3%" stop-color="#3b67b9"/><stop offset="91.7%" stop-color="#3c59ae"/><stop offset="100%" stop-color="#3d4ca4"/></linearGradient>
<linearGradient id="h0r39"><stop offset="0%" stop-color="#ebb43d"/><stop offset="8.3%" stop-color="#c5ba37"/><stop offset="16.7%" stop-color="#8fbc5b"/><stop offset="25%" stop-color="#5cba86"/><stop offset="33.3%" stop-color="#36b49b"/><stop offset="41.7%" stop-color="#19afb3"/><stop offset="50%" stop-color="#16a7c8"/><stop offset="58.3%" stop-color="#249ad2"/><stop offset="66.7%" stop-color="#308acc"/><stop offset="75%" stop-color="#387ac4"/><stop offset="83.3%" stop-color="#3b69ba"/><stop offset="91.7%" stop-color="#3c5aaf"/><stop offset="100%" stop-color="#3d4ca5"/></linearGradient>
<linearGradient id="h0r40"><stop offset="0%" stop-color="#eeb43e"/><stop offset="8.3%" stop-color="#c9b938"/><stop offset="16.7%" stop-color="#95bd54"/><stop offset="25%" stop-color="#60ba83"/><stop offset="33.3%" stop-color="#39b599"/><stop offset="41.7%" stop-color="#1bafb1"/><stop offset="50%" stop-color="#15a7c7"/><stop offset="58.3%" stop-color="#239cd2"/><stop offset="66.7%" stop-color="#2f8ccd"/><stop offset="75%" stop-color="#387bc5"/><stop offset="83.3%" stop-color="#3a6aba"/><stop offset="91.7%" stop-color="#3c5bb0"/><stop offset="100%" stop-color="#3d4da5"/></linearGradient>
<linearGradient id="h0r41"><stop offset="0%" stop-color="#f1b33f"/><stop offset="8.3%" stop-color="#ceb938"/><stop offset="16.7%" stop-color="#9bbd4e"/><stop offset="25%" stop-color="#65ba7f"/><stop offset="33.3%" stop-color="#3db596"/><stop offset="41.7%" stop-color="#1eb0ae"/><stop offset="50%" stop-color="#14a8c5"/><stop offset="58.3%" stop-color="#229dd2"/><stop offset="66.7%" stop-color="#2e8dce"/><stop offset="75%" stop-color="#387cc5"/><stop offset="83.3%" stop-color="#3a6bbb"/><stop offset="91.7%" stop-color="#3c5bb0"/><stop offset="100%" stop-color="#3d4da5"/></linearGradient>
<linearGradient id="h0r42"><stop offset="0%" stop-color="#f2b33f"/><stop offset="8.3%" stop-color="#d2b839"/><stop offset="16.7%" stop-color="#a0bd48"/><stop offset="25%" stop-color="#6abb7c"/><stop offset="33.3%" stop-color="#41b594"/><stop offset="41.7%" stop-color="#20b0ac"/><stop offset="50%" stop-color="#13a9c3"/><stop offset="58.3%" stop-color="#209ed1"/><stop offset="66.7%" stop-color="#2e8ece"/><stop offset="75%" stop-color="#377ec6"/><stop offset="83.3%" stop-color="#3a6cbb"/><stop offset="91.7%" stop-color="#3c5cb1"/><stop offset="100%" stop-color="#3d4da6"/></linearGradient>
<linearGradient id="h0r43"><stop offset="0%" stop-color="#f3b43f"/><stop offset="8.3%" stop-color="#d6b839"/><stop offset="16.7%" stop-color="#a6bd43"/><stop offset="25%" stop-color="#6ebb78"/><stop offset="33.3%" stop-color="#44b693"/><stop offset="41.7%" stop-color="#22b1aa"/><stop offset="50%" stop-color="#12aac2"/><stop offset="58.3%" stop-color="#1f9fd1"/><stop offset="66.7%" stop-color="#2d8fcf"/><stop offset="75%" stop-color="#377fc7"/><stop offset="83.3%" stop-color="#3a6dbc"/><stop offset="91.7%" stop-color="#3c5db1"/><stop offset="100%" stop-color="#3d4ea6"/></linearGradient>
<linearGradient id="h0r44"><stop offset="0%" stop-color="#f3b43f"/><stop offset="8.3%" stop-color="#dab839"/><stop offset="16.7%" stop-color="#aabc42"/><stop offset="25%" stop-color="#73bb75"/><stop offset="33.3%" stop-color="#47b691"/><stop offset="41.7%" stop-color="#25b1a7"/><stop offset="50%" stop-color="#13abc0"/><stop offset="58.3%" stop-color="#1ea0d0"/><stop offset="66.7%" stop-color="#2c91cf"/><stop offset="75%" stop-color="#3780c7"/><stop offset="83.3%" stop-color="#3a6ebd"/><stop offset="91.7%" stop-color="#3c5db2"/><stop offset="100%" stop-color="#3d4ea6"/></linearGradient>
<linearGradient id="h0r45"><stop offset="0%" stop-color="#f4b540"/><stop offset="8.3%" stop-color="#ddb73a"/><stop offset="16.7%" stop-color="#aebc40"/><stop offset="25%" stop-color="#77bc72"/><stop offset="33.3%" stop-color="#4bb78f"/><stop offset="41.7%" stop-color="#27b2a5"/><stop offset="50%" stop-color="#14abbe"/><stop offset="58.3%" stop-color="#1ca1d0"/><stop offset="66.7%" stop-color="#2b92d0"/><stop offset="75%" stop-color="#3781c8"/><stop offset="83.3%" stop-color="#3a6fbd"/><stop offset="91.7%" stop-color="#3c5eb2"/><stop offset="100%" stop-color="#3d4fa7"/></linearGradient>
<linearGradient id="h0r46"><stop offset="0%" stop-color="#f5b540"/><stop offset="8.3%" stop-color="#e0b73a"/><stop offset="16.7%" stop-color="#b2bc3e"/><stop offset="25%" stop-color="#7bbc6f"/><stop offset="33.3%" stop-color="#4eb78d"/><stop offset="41.7%" stop-color="#29b2a3"/><stop offset="50%" stop-color="#15acbc"/><stop offset="58.3%" stop-color="#1ba2cf"/><stop offset="66.7%" stop-color="#2a93d0"/><stop offset="75%" stop-color="#3682c8"/><stop offset="83.3%" stop-color="#3a70be"/><stop offset="91.7%" stop-color="#3c5fb2"/><stop offset="100%" stop-color="#3d4fa7"/></linearGradient>
<linearGradient id="h0r47"><stop offset="0%" stop-color="#f5b640"/><stop offset="8.3%" stop-color="#e2b63b"/><stop offset="16.7%" stop-color="#b6bb3d"/><stop offset="25%" stop-color="#7fbc6c"/><stop offset="33.3%" stop-color="#51b88c"/><stop offset="41.7%" stop-color="#2bb3a1"/><stop offset="50%" stop-color="#16acbb"/><stop offset="58.3%" stop-color="#1aa3cf"/><stop offset="66.7%" stop-color="#2a94d1"/><stop offset="75%" stop-color="#3683c9"/><stop offset="83.3%" stop-color="#3970be"/><stop offset="91.7%" stop-color="#3c5fb3"/><stop offset="100%" stop-color="#3d50a7"/></linearGradient>
<linearGradient id="h0r48"><stop offset="0%" stop-color="#f6b640"/><stop offset="8.3%" stop-color="#e5b63c"/><stop offset="16.7%" stop-color="#babb3b"/><stop offset="25%" stop-color="#83bc68"/><stop offset="33.3%" stop-color="#54b88a"/><stop offset="41.7%" stop-color="#2db39f"/><stop offset="50%" stop-color="#16adb9"/><stop offset="58.3%" stop-color="#19a4ce"/><stop offset="66.7%" stop-color="#2995d1"/><stop offset="75%" stop-color="#3584c9"/><stop offset="83.3%" stop-color="#3971bf"/><stop offset="91.7%" stop-color="#3c60b3"/><stop offset="100%" stop-color="#3d50a8"/></linearGradient>
<linearGradient id="h0r49"><stop offset="0%" stop-color="#f6b73f"/><stop offset="8.3%" stop-color="#e7b53c"/><stop offset="16.7%" stop-color="#bebb39"/><stop offset="25%" stop-color="#87bc63"/><stop offset="33.3%" stop-color="#56b989"/><stop offset="41.7%" stop-color="#30b39e"/><stop offset="50%" stop-color="#17adb8"/><stop offset="58.3%" stop-color="#19a4cd"/><stop offset="66.7%" stop-color="#2896d1"/><stop offset="75%" stop-color="#3485ca"/><stop offset="83.3%" stop-color="#3972bf"/><stop offset="91.7%" stop-color="#3c60b4"/><stop offset="100%" stop-color="#3d50a8"/></linearGradient>
<linearGradient id="h0r50"><stop offset="0%" stop-color="#f6b93f"/><stop offset="8.3%" stop-color="#e9b53d"/><stop offset="16.7%" stop-color="#c1ba38"/><stop offset="25%" stop-color="#8bbc5f"/><stop offset="33.3%" stop-color="#59b987"/><stop offset="41.7%" stop-color="#32b49d"/><stop offset="50%" stop-color="#18aeb6"/><stop offset="58.3%" stop-color="#18a5cc"/><stop offset="66.7%" stop-color="#2897d2"/><stop offset="75%" stop-color="#3485ca"/><stop offset="83.3%" stop-color="#3973c0"/><stop offset="91.7%" stop-color="#3b61b4"/><stop offset="100%" stop-color="#3d51a8"/></linearGradient>
<linearGradient id="h0r51"><stop offset="0%" stop-color="#f6ba3e"/><stop offset="8.3%" stop-color="#ebb43d"/><stop offset="16.7%" stop-color="#c5ba37"/><stop offset="25%" stop-color="#8fbc5b"/><stop offset="33.3%" stop-color="#5cb986"/><stop offset="41.7%" stop-color="#34b49b"/><stop offset="50%" stop-color="#19aeb5"/><stop offset="58.3%" stop-color="#17a5cb"/><stop offset="66.7%" stop-color="#2797d2"/><stop offset="75%" stop-color="#3386ca"/><stop offset="83.3%" stop-color="#3973c0"/><stop offset="91.7%" stop-color="#3b61b4"/><stop offset="100%" stop-color="#3d51a9"/></linearGradient>
<linearGradient id="h0r52"><stop offset="0%" stop-color="#f6bc3d"/><stop offset="8.3%" stop-color="#edb43e"/><stop offset="16.7%" stop-color="#c7ba37"/><stop offset="25%" stop-color="#93bd57"/><stop offset="33.3%" stop-color="#5eba85"/><stop offset="41.7%" stop-color="#37b49a"/><stop offset="50%" stop-color="#19afb4"/><stop offset="58.3%" stop-color="#17a6ca"/><stop offset="66.7%" stop-color="#2798d3"/><stop offset="75%" stop-color="#3387cb"/><stop offset="83.3%" stop-color="#3974c0"/><stop offset="91.7%" stop-color="#3b62b5"/><stop offset="100%" stop-color="#3d51a9"/></linearGradient>
<linearGradient id="h0r53"><stop offset="0%" stop-color="#f5bd3c"/><stop offset="8.3%" stop-color="#eeb43e"/><stop offset="16.7%" stop-color="#cab938"/><stop offset="25%" stop-color="#96bd53"/><stop offset="33.3%" stop-color="#61ba83"/><stop offset="41.7%" stop-color="#39b599"/><stop offset="50%" stop-color="#1aafb2"/><stop offset="58.3%" stop-color="#16a6c9"/><stop offset="66.7%" stop-color="#2699d3"/><stop offset="75%" stop-color="#3288cb"/><stop offset="83.3%" stop-color="#3975c1"/><stop offset="91.7%" stop-color="#3b62b5"/><stop offset="100%" stop-color="#3d52a9"/></linearGradient>
<linearGradient id="h0r54"><stop offset="0%" stop-color="#f5be3c"/><stop offset="8.3%" stop-color="#f0b33f"/><stop offset="16.7%" stop-color="#cdb938"/><stop offset="25%" stop-color="#9abd4f"/><stop offset="33.3%" stop-color="#64ba81"/><stop offset="41.7%" stop-color="#3bb598"/><stop offset="50%" stop-color="#1bafb1"/><stop offset="58.3%" stop-color="#16a7c8"/><stop offset="66.7%" stop-color="#259ad3"/><stop offset="75%" stop-color="#3288cb"/><stop offset="83.3%" stop-color="#3975c1"/><stop offset="91.7%" stop-color="#3b63b5"/><stop offset="100%" stop-color="#3d52a9"/></linearGradient>
<linearGradient id="h0r55"><stop offset="0%" stop-color="#f5c03b"/><stop offset="8.3%" stop-color="#f1b33f"/><stop offset="16.7%" stop-color="#cfb938"/><stop offset="25%" stop-color="#9dbd4c"/><stop offset="33.3%" stop-color="#66ba7f"/><stop offset="41.7%" stop-color="#3db597"/><stop offset="50%" stop-color="#1cb0b0"/><stop offset="58.3%" stop-color="#15a7c7"/><stop offset="66.7%" stop-color="#249ad2"/><stop offset="75%" stop-color="#3189cc"/><stop offset="83.3%" stop-color="#3976c2"/><stop offset="91.7%" stop-color="#3b63b6"/><stop offset="100%" stop-color="#3d52aa"/></linearGradient>
<linearGradient id="h0r56"><stop offset="0%" stop-color="#f5c13b"/><stop offset="8.3%" stop-color="#f2b33f"/><stop offset="16.7%" stop-color="#d1b938"/><stop offset="25%" stop-color="#a0bd48"/><stop offset="33.3%" stop-color="#69bb7d"/><stop offset="41.7%" stop-color="#3fb596"/><stop offset="50%" stop-color="#1eb0ae"/><stop offset="58.3%" stop-color="#14a8c6"/><stop offset="66.7%" stop-color="#249bd2"/><stop offset="75%" stop-color="#3189cc"/><stop offset="83.3%" stop-color="#3977c2"/><stop offset="91.7%" stop-color="#3b63b6"/><stop offset="100%" stop-color="#3d53aa"/></linearGradient>
<linearGradient id="h0r57"><stop offset="0%" stop-color="#f5c23a"/><stop offset="8.3%" stop-color="#f2b43f"/><stop offset="16.7%" stop-color="#d4b839"/><stop offset="25%" stop-color="#a3bd45"/><stop offset="33.3%" stop-color="#6bbb7b"/><stop offset="41.7%" stop-color="#41b594"/><stop offset="50%" stop-color="#1fb0ad"/><stop offset="58.3%" stop-color="#14a8c5"/><stop offset="66.7%" stop-color="#239bd2"/><stop offset="75%" stop-color="#318acc"/><stop offset="83.3%" stop-color="#3877c2"/><stop offset="91.7%" stop-color="#3b64b6"/><stop offset="100%" stop-color="#3d53aa"/></linearGradient>
<linearGradient id="h0r58"><stop offset="0%" stop-color="#f5c339"/><stop offset="8.3%" stop-color="#f2b43f"/><stop offset="16.7%" stop-color="#d6b839"/><stop offset="25%" stop-color="#a6bd43"/><stop offset="33.3%" stop-color="#6ebb79"/><stop offset="41.7%" stop-color="#42b693"/><stop offset="50%" stop-color="#20b0ac"/><stop offset="58.3%" stop-color="#13a9c4"/><stop offset="66.7%" stop-color="#229cd2"/><stop offset="75%" stop-color="#308bcc"/><stop offset="83.3%" stop-color="#3878c3"/><stop offset="91.7%" stop-color="#3b64b7"/><stop offset="100%" stop-color="#3d53aa"/></linearGradient>
<linearGradient id="h0r59"><stop offset="0%" stop-color="#f5c539"/><stop offset="8.3%" stop-color="#f3b43f"/><stop offset="16.7%" stop-color="#d8b839"/><stop offset="25%" stop-color="#a8bd42"/><stop offset="33.3%" stop-color="#70bb77"/><stop offset="41.7%" stop-color="#44b693"/><stop offset="50%" stop-color="#21b1ab"/><stop offset="58.3%" stop-color="#13a9c4"/><stop offset="66.7%" stop-color="#229dd2"/><stop offset="75%" stop-color="#308bcd"/><stop offset="83.3%" stop-color="#3878c3"/><stop offset="91.7%" stop-color="#3b65b7"/><stop offset="100%" stop-color="#3d54aa"/></linearGradient>
<linearGradient id="h0r60"><stop offset="0%" stop-color="#f5c638"/><stop offset="8.3%" stop-color="#f3b43f"/><stop offset="16.7%" stop-color="#dab839"/><stop offset="25%" stop-color="#aabc41"/><stop offset="33.3%" stop-color="#72bb75"/><stop offset="41.7%" stop-color="#46b692"/><stop offset="50%" stop-color="#22b1aa"/><stop offset="58.3%" stop-color="#13aac3"/><stop offset="66.7%" stop-color="#219dd1"/><stop offset="75%" stop-color="#2f8ccd"/><stop offset="83.3%" stop-color="#3879c3"/><stop offset="91.7%" stop-color="#3b65b7"/><stop offset="100%" stop-color="#3d54ab"/></linearGradient>
<linearGradient id="h0r61"><stop offset="0%" stop-color="#f4c738"/><stop offset="8.3%" stop-color="#f4b540"/><stop offset="16.7%" stop-color="#dcb73a"/><stop offset="25%" stop-color="#adbc40"/><stop offset="33.3%" stop-color="#74bb74"/><stop offset="41.7%" stop-color="#47b691"/><stop offset="50%" stop-color="#24b1a8"/><stop offset="58.3%" stop-color="#12aac2"/><stop offset="66.7%" stop-color="#219ed1"/><stop offset="75%" stop-color="#2f8ccd"/><stop offset="83.3%" stop-color="#3879c3"/><stop offset="91.7%" stop-color="#3b65b7"/><stop offset="100%" stop-color="#3d54ab"/></linearGradient>
<linearGradient id="h0r62"><stop offset="0%" stop-color="#f4c937"/><stop offset="8.3%" stop-color="#f4b540"/><stop offset="16.7%" stop-color="#deb73a"/><stop offset="25%" stop-color="#afbc40"/><stop offset="33.3%" stop-color="#77bb72"/><stop offset="41.7%" stop-color="#49b790"/><stop offset="50%" stop-color="#25b1a7"/><stop offset="58.3%" stop-color="#12aac1"/><stop offset="66.7%" stop-color="#209ed1"/><stop offset="75%" stop-color="#2f8dcd"/><stop offset="83.3%" stop-color="#387ac4"/><stop offset="91.7%" stop-color="#3b66b8"/><stop offset="100%" stop-color="#3d54ab"/></linearGradient>
<linearGradient id="h0r63"><stop offset="0%" stop-color="#f4ca36"/><stop offset="8.3%" stop-color="#f4b540"/><stop offset="16.7%" stop-color="#dfb73a"/><stop offset="25%" stop-color="#b1bc3f"/><stop offset="33.3%" stop-color="#79bc71"/><stop offset="41.7%" stop-color="#4ab78f"/><stop offset="50%" stop-color="#26b2a6"/><stop offset="58.3%" stop-color="#13aac1"/><stop offset="66.7%" stop-color="#1f9ed1"/><stop offset="75%" stop-color="#2e8dce"/><stop offset="83.3%" stop-color="#387ac4"/><stop offset="91.7%" stop-color="#3b66b8"/><stop offset="100%" stop-color="#3d55ab"/></linearGradient>
<linearGradient id="h0r64"><stop offset="0%" stop-color="#f3cb36"/><stop offset="8.3%" stop-color="#f5b540"/><stop offset="16.7%" stop-color="#e1b73a"/><stop offset="25%" stop-color="#b3bc3e"/><stop offset="33.3%" stop-color="#7abc6f"/><stop offset="41.7%" stop-color="#4cb78e"/><stop offset="50%" stop-color="#26b2a6"/><stop offset="58.3%" stop-color="#13abc0"/><stop offset="66.7%" stop-color="#1f9fd1"/><stop offset="75%" stop-color="#2e8ece"/><stop offset="83.3%" stop-color="#387bc4"/><stop offset="91.7%" stop-color="#3b66b8"/><stop offset="100%" stop-color="#3c55ab"/></linearGradient>
<linearGradient id="h0r65"><stop offset="0%" stop-color="#f3cd35"/><stop offset="8.3%" stop-color="#f5b540"/><stop offset="16.7%" stop-color="#e2b63b"/><stop offset="25%" stop-color="#b5bb3d"/><stop offset="33.3%" stop-color="#7cbc6e"/><stop offset="41.7%" stop-color="#4db78d"/><stop offset="50%" stop-color="#27b2a5"/><stop offset="58.3%" stop-color="#13abbf"/><stop offset="66.7%" stop-color="#1e9fd0"/><stop offset="75%" stop-color="#2e8ece"/><stop offset="83.3%" stop-color="#387bc5"/><stop offset="91.7%" stop-color="#3b67b8"/><stop offset="100%" stop-color="#3c55ac"/></linearGradient>
<linearGradient id="h0r66"><stop offset="0%" stop-color="#f3ce35"/><stop offset="8.3%" stop-color="#f5b640"/><stop offset="16.7%" stop-color="#e3b63b"/><stop offset="25%" stop-color="#b7bb3c"/><stop offset="33.3%" stop-color="#7ebc6d"/><stop offset="41.7%" stop-color="#4fb78d"/><stop offset="50%" stop-color="#28b2a4"/><stop offset="58.3%" stop-color="#14abbe"/><stop offset="66.7%" stop-color="#1ea0d0"/><stop offset="75%" stop-color="#2d8fce"/><stop offset="83.3%" stop-color="#387cc5"/><stop offset="91.7%" stop-color="#3b67b9"/><stop offset="100%" stop-color="#3c55ac"/></linearGradient>
<linearGradient id="h0r67"><stop offset="0%" stop-color="#f3cf34"/><stop offset="8.3%" stop-color="#f6b640"/><stop offset="16.7%" stop-color="#e4b63b"/><stop offset="25%" stop-color="#b8bb3c"/><stop offset="33.3%" stop-color="#80bc6b"/><stop offset="41.7%" stop-color="#50b88c"/><stop offset="50%" stop-color="#29b2a3"/><stop offset="58.3%" stop-color="#14abbe"/><stop offset="66.7%" stop-color="#1da0d0"/><stop offset="75%" stop-color="#2d8fce"/><stop offset="83.3%" stop-color="#387cc5"/><stop offset="91.7%" stop-color="#3b67b9"/><stop offset="100%" stop-color="#3c56ac"/></linearGradient>
<linearGradient id="h0r68"><stop offset="0%" stop-color="#f3d034"/><stop offset="8.3%" stop-color="#f6b640"/><stop offset="16.7%" stop-color="#e5b63c"/><stop offset="25%" stop-color="#babb3b"/><stop offset="33.3%" stop-color="#82bc69"/><stop offset="41.7%" stop-color="#51b88b"/><stop offset="50%" stop-color="#2ab3a2"/><stop offset="58.3%" stop-color="#14acbd"/><stop offset="66.7%" stop-color="#1da0d0"/><stop offset="75%" stop-color="#2d8fcf"/><stop offset="83.3%" stop-color="#387cc5"/><stop offset="91.7%" stop-color="#3b68b9"/><stop offset="100%" stop-color="#3c56ac"/></linearGradient>
<linearGradient id="h0r69"><stop offset="0%" stop-color="#f2d134"/><stop offset="8.3%" stop-color="#f6b640"/><stop offset="16.7%" stop-color="#e6b63c"/><stop offset="25%" stop-color="#bcbb3a"/><stop offset="33.3%" stop-color="#83bc67"/><stop offset="41.7%" stop-color="#52b88b"/><stop offset="50%" stop-color="#2bb3a1"/><stop offset="58.3%" stop-color="#15acbc"/><stop offset="66.7%" stop-color="#1da1d0"/><stop offset="75%" stop-color="#2d90cf"/><stop offset="83.3%" stop-color="#387dc5"/><stop offset="91.7%" stop-color="#3b68b9"/><stop offset="100%" stop-color="#3c56ac"/></linearGradient>
<linearGradient id="h0r70"><stop offset="0%" stop-color="#f2d233"/><stop offset="8.3%" stop-color="#f6b740"/><stop offset="16.7%" stop-color="#e7b53c"/><stop offset="25%" stop-color="#bdbb3a"/><stop offset="33.3%" stop-color="#85bc65"/><stop offset="41.7%" stop-color="#54b88a"/><stop offset="50%" stop-color="#2bb3a1"/><stop offset="58.3%" stop-color="#15acbc"/><stop offset="66.7%" stop-color="#1ca1d0"/><stop offset="75%" stop-color="#2c90cf"/><stop offset="83.3%" stop-color="#387dc6"/><stop offset="91.7%" stop-color="#3b68b9"/><stop offset="100%" stop-color="#3c56ac"/></linearGradient>
<linearGradient id="h0r71"><stop offset="0%" stop-color="#f2d333"/><stop offset="8.3%" stop-color="#f6b83f"/><stop offset="16.7%" stop-color="#e7b53c"/><stop offset="25%" stop-color="#bfba39"/><stop offset="33.3%" stop-color="#87bc63"/><stop offset="41.7%" stop-color="#55b88a"/><stop offset="50%" stop-color="#2cb3a0"/><stop offset="58.3%" stop-color="#15acbb"/><stop offset="66.7%" stop-color="#1ca1d0"/><stop offset="75%" stop-color="#2c90cf"/><stop offset="83.3%" stop-color="#387dc6"/><stop offset="91.7%" stop-color="#3b68b9"/><stop offset="100%" stop-color="#3c56ac"/></linearGradient>
<linearGradient id="h0r72"><stop offset="0%" stop-color="#f2d432"/><stop offset="8.3%" stop-color="#f6b83f"/><stop offset="16.7%" stop-color="#e8b53d"/><stop offset="25%" stop-color="#c0ba39"/><stop offset="33.3%" stop-color="#89bc62"/><stop offset="41.7%" stop-color="#56b989"/><stop offset="50%" stop-color="#2db39f"/><stop offset="58.3%" stop-color="#16acbb"/><stop offset="66.7%" stop-color="#1ba2cf"/><stop offset="75%" stop-color="#2c91cf"/><stop offset="83.3%" stop-color="#387ec6"/><stop offset="91.7%" stop-color="#3b69ba"/><stop offset="100%" stop-color="#3c56ac"/></linearGradient>
<linearGradient id="h0r73"><stop offset="0%" stop-color="#f2d532"/><stop offset="8.3%" stop-color="#f6b93f"/><stop offset="16.7%" stop-color="#e9b53d"/><stop offset="25%" stop-color="#c2ba38"/><stop offset="33.3%" stop-color="#8abc60"/><stop offset="41.7%" stop-color="#57b988"/><stop offset="50%" stop-color="#2eb39f"/><stop offset="58.3%" stop-color="#16acba"/><stop offset="66.7%" stop-color="#1ba2cf"/><stop offset="75%" stop-color="#2c91cf"/><stop offset="83.3%" stop-color="#377ec6"/><stop offset="91.7%" stop-color="#3b69ba"/><stop offset="100%" stop-color="#3c57ad"/></linearGradient>
<linearGradient id="h0r74"><stop offset="0%" stop-color="#f1d532"/><stop offset="8.3%" stop-color="#f6ba3e"/><stop offset="16.7%" stop-color="#eab53d"/><stop offset="25%" stop-color="#c3ba37"/><stop offset="33.3%" stop-color="#8cbc5e"/><stop offset="41.7%" stop-color="#58b988"/><stop offset="50%" stop-color="#2fb39e"/><stop offset="58.3%" stop-color="#16adba"/><stop offset="66.7%" stop-color="#1ba2cf"/><stop offset="75%" stop-color="#2b91d0"/><stop offset="83.3%" stop-color="#377ec6"/><stop offset="91.7%" stop-color="#3b69ba"/><stop offset="100%" stop-color="#3c57ad"/></linearGradient>
<linearGradient id="h0r75"><stop offset="0%" stop-color="#f1d631"/><stop offset="8.3%" stop-color="#f6ba3e"/><stop offset="16.7%" stop-color="#ebb43d"/><stop offset="25%" stop-color="#c4ba37"/><stop offset="33.3%" stop-color="#8dbc5d"/><stop offset="41.7%" stop-color="#59b987"/><stop offset="50%" stop-color="#30b39e"/><stop offset="58.3%" stop-color="#16adb9"/><stop offset="66.7%" stop-color="#1aa3cf"/><stop offset="75%" stop-color="#2b92d0"/><stop offset="83.3%" stop-color="#377ec7"/><stop offset="91.7%" stop-color="#3b69ba"/><stop offset="100%" stop-color="#3c57ad"/></linearGradient>
<linearGradient id="h0r76"><stop offset="0%" stop-color="#f1d731"/><stop offset="8.3%" stop-color="#f6bb3e"/><stop offset="16.7%" stop-color="#ebb43d"/><stop offset="25%" stop-color="#c5ba37"/><stop offset="33.3%" stop-color="#8ebc5b"/><stop offset="41.7%" stop-color="#5ab987"/><stop offset="50%" stop-color="#31b49d"/><stop offset="58.3%" stop-color="#17adb9"/><stop offset="66.7%" stop-color="#1aa3cf"/><stop offset="75%" stop-color="#2b92d0"/><stop offset="83.3%" stop-color="#377fc7"/><stop offset="91.7%" stop-color="#3a6aba"/><stop offset="100%" stop-color="#3c57ad"/></linearGradient>
<linearGradient id="h0r77"><stop offset="0%" stop-color="#f1d831"/><stop offset="8.3%" stop-color="#f6bb3d"/><stop offset="16.7%" stop-color="#ecb43e"/><stop offset="25%" stop-color="#c6ba37"/><stop offset="33.3%" stop-color="#90bc5a"/><stop offset="41.7%" stop-color="#5bb986"/><stop offset="50%" stop-color="#31b49d"/><stop offset="58.3%" stop-color="#17adb8"/><stop offset="66.7%" stop-color="#1aa3cf"/><stop offset="75%" stop-color="#2b92d0"/><stop offset="83.3%" stop-color="#377fc7"/><stop offset="91.7%" stop-color="#3a6aba"/><stop offset="100%" stop-color="#3c57ad"/></linearGradient>
<linearGradient id="h0r78"><stop offset="0%" stop-color="#f1d831"/><stop offset="8.3%" stop-color="#f6bc3d"/><stop offset="16.7%" stop-color="#edb43e"/><stop offset="25%" stop-color="#c7ba37"/><stop offset="33.3%" stop-color="#91bc59"/><stop offset="41.7%" stop-color="#5bb986"/><stop offset="50%" stop-color="#32b49d"/><stop offset="58.3%" stop-color="#17adb8"/><stop offset="66.7%" stop-color="#1aa3ce"/><stop offset="75%" stop-color="#2b92d0"/><stop offset="83.3%" stop-color="#377fc7"/><stop offset="91.7%" stop-color="#3a6aba"/><stop offset="100%" stop-color="#3c57ad"/></linearGradient>
<linearGradient id="h0r79"><stop offset="0%" stop-color="#f1d931"/><stop offset="8.3%" stop-color="#f6bc3d"/><stop offset="16.7%" stop-color="#edb43e"/><stop offset="25%" stop-color="#c8ba37"/><stop offset="33.3%" stop-color="#92bd57"/><stop offset="41.7%" stop-color="#5cba85"/><stop offset="50%" stop-color="#33b49c"/><stop offset="58.3%" stop-color="#17adb7"/><stop offset="66.7%" stop-color="#19a3ce"/><stop offset="75%" stop-color="#2a93d0"/><stop offset="83.3%" stop-color="#3780c7"/><stop offset="91.7%" stop-color="#3a6aba"/><stop offset="100%" stop-color="#3c57ad"/></linearGradient>
<linearGradient id="h0r80"><stop offset="0%" stop-color="#f1da31"/><stop offset="8.3%" stop-color="#f6bd3d"/><stop offset="16.7%" stop-color="#eeb43e"/><stop offset="25%" stop-color="#c9b938"/><stop offset="33.3%" stop-color="#93bd56"/><stop offset="41.7%" stop-color="#5dba85"/><stop offset="50%" stop-color="#34b49c"/><stop offset="58.3%" stop-color="#18adb7"/><stop offset="66.7%" stop-color="#19a4ce"/><stop offset="75%" stop-color="#2a93d0"/><stop offset="83.3%" stop-color="#3780c7"/><stop offset="91.7%" stop-color="#3a6abb"/><stop offset="100%" stop-color="#3c58ad"/></linearGradient>
<linearGradient id="h0r81"><stop offset="0%" stop-color="#f1da32"/><stop offset="8.3%" stop-color="#f5bd3c"/><stop offset="16.7%" stop-color="#eeb43e"/><stop offset="25%" stop-color="#cab938"/><stop offset="33.3%" stop-color="#94bd55"/><stop offset="41.7%" stop-color="#5eba85"/><stop offset="50%" stop-color="#34b49b"/><stop offset="58.3%" stop-color="#18aeb6"/><stop offset="66.7%" stop-color="#19a4cd"/><stop offset="75%" stop-color="#2a93d0"/><stop offset="83.3%" stop-color="#3780c7"/><stop offset="91.7%" stop-color="#3a6bbb"/><stop offset="100%" stop-color="#3c58ad"/></linearGradient>
<linearGradient id="h0r82"><stop offset="0%" stop-color="#f1db32"/><stop offset="8.3%" stop-color="#f5be3c"/><stop offset="16.7%" stop-color="#efb33e"/><stop offset="25%" stop-color="#cbb938"/><stop offset="33.3%" stop-color="#96bd54"/><stop offset="41.7%" stop-color="#5fba84"/><stop offset="50%" stop-color="#35b49b"/><stop offset="58.3%" stop-color="#18aeb6"/><stop offset="66.7%" stop-color="#19a4cd"/><stop offset="75%" stop-color="#2a93d0"/><stop offset="83.3%" stop-color="#3780c8"/><stop offset="91.7%" stop-color="#3a6bbb"/><stop offset="100%" stop-color="#3c58ad"/></linearGradient>
<linearGradient id="h0r83"><stop offset="0%" stop-color="#f1db32"/><stop offset="8.3%" stop-color="#f5be3c"/><stop offset="16.7%" stop-color="#f0b33f"/><stop offset="25%" stop-color="#cbb938"/><stop offset="33.3%" stop-color="#97bd52"/><stop offset="41.7%" stop-color="#5fba84"/><stop offset="50%" stop-color="#36b49b"/><stop offset="58.3%" stop-color="#18aeb6"/><stop offset="66.7%" stop-color="#19a4cd"/><stop offset="75%" stop-color="#2a94d1"/><stop offset="83.3%" stop-color="#3780c8"/><stop offset="91.7%" stop-color="#3a6bbb"/><stop offset="100%" stop-color="#3c58ae"/></linearGradient>
<linearGradient id="h0r84"><stop offset="0%" stop-color="#f0dc32"/><stop offset="8.3%" stop-color="#f5bf3c"/><stop offset="16.7%" stop-color="#f0b33f"/><stop offset="25%" stop-color="#ccb938"/><stop offset="33.3%" stop-color="#98bd51"/><stop offset="41.7%" stop-color="#60ba83"/><stop offset="50%" stop-color="#36b49a"/><stop offset="58.3%" stop-color="#18aeb5"/><stop offset="66.7%" stop-color="#19a4cd"/><stop offset="75%" stop-color="#2a94d1"/><stop offset="83.3%" stop-color="#3781c8"/><stop offset="91.7%" stop-color="#3a6bbb"/><stop offset="100%" stop-color="#3c58ae"/></linearGradient>
<linearGradient id="h0r85"><stop offset="0%" stop-color="#f0dc32"/><stop offset="8.3%" stop-color="#f5bf3c"/><stop offset="16.7%" stop-color="#f1b33f"/><stop offset="25%" stop-color="#cdb938"/><stop offset="33.3%" stop-color="#99bd50"/><stop offset="41.7%" stop-color="#61ba83"/><stop offset="50%" stop-color="#37b49a"/><stop offset="58.3%" stop-color="#18aeb5"/><stop offset="66.7%" stop-color="#18a4cc"/><stop offset="75%" stop-color="#2994d1"/><stop offset="83.3%" stop-color="#3781c8"/><stop offset="91.7%" stop-color="#3a6bbb"/><stop offset="100%" stop-color="#3c58ae"/></linearGradient>
<linearGradient id="h0r86"><stop offset="0%" stop-color="#f0dd32"/><stop offset="8.3%" stop-color="#f5bf3b"/><stop offset="16.7%" stop-color="#f1b33f"/><stop offset="25%" stop-color="#ceb938"/><stop offset="33.3%" stop-color="#9abd4f"/><stop offset="41.7%" stop-color="#62ba82"/><stop offset="50%" stop-color="#37b49a"/><stop offset="58.3%" stop-color="#19aeb5"/><stop offset="66.7%" stop-color="#18a5cc"/><stop offset="75%" stop-color="#2994d1"/><stop offset="83.3%" stop-color="#3781c8"/><stop offset="91.7%" stop-color="#3a6bbb"/><stop offset="100%" stop-color="#3c58ae"/></linearGradient>
<linearGradient id="h0r87"><stop offset="0%" stop-color="#f0dd32"/><stop offset="8.3%" stop-color="#f5c03b"/><stop offset="16.7%" stop-color="#f1b33f"/><stop offset="25%" stop-color="#ceb938"/><stop offset="33.3%" stop-color="#9abd4e"/><stop offset="41.7%" stop-color="#62ba81"/><stop offset="50%" stop-color="#38b499"/><stop offset="58.3%" stop-color="#19aeb4"/><stop offset="66.7%" stop-color="#18a5cc"/><stop offset="75%" stop-color="#2994d1"/><stop offset="83.3%" stop-color="#3781c8"/><stop offset="91.7%" stop-color="#3a6bbb"/><stop offset="100%" stop-color="#3c58ae"/></linearGradient>
<linearGradient id="h0r88"><stop offset="0%" stop-color="#f0de32"/><stop offset="8.3%" stop-color="#f5c03b"/><stop offset="16.7%" stop-color="#f1b33f"/><stop offset="25%" stop-color="#cfb938"/><stop offset="33.3%" stop-color="#9bbd4d"/><stop offset="41.7%" stop-color="#63ba81"/><stop offset="50%" stop-color="#38b499"/><stop offset="58.3%" stop-color="#19aeb4"/><stop offset="66.7%" stop-color="#18a5cc"/><stop offset="75%" stop-color="#2995d1"/><stop offset="83.3%" stop-color="#3781c8"/><stop offset="91.7%" stop-color="#3a6cbb"/><stop offset="100%" stop-color="#3c58ae"/></linearGradient>
<linearGradient id="h0r89"><stop offset="0%" stop-color="#f0de32"/><stop offset="8.3%" stop-color="#f5c03b"/><stop offset="16.7%" stop-color="#f1b33f"/><stop offset="25%" stop-color="#d0b938"/><stop offset="33.3%" stop-color="#9cbd4d"/><stop offset="41.7%" stop-color="#64ba80"/><stop offset="50%" stop-color="#39b599"/><stop offset="58.3%" stop-color="#19aeb4"/><stop offset="66.7%" stop-color="#18a5cc"/><stop offset="75%" stop-color="#2995d1"/><stop offset="83.3%" stop-color="#3781c8"/><stop offset="91.7%" stop-color="#3a6cbb"/><stop offset="100%" stop-color="#3c58ae"/></linearGradient>
<linearGradient id="h0r90"><stop offset="0%" stop-color="#f0df32"/><stop offset="8.3%" stop-color="#f5c13b"/><stop offset="16.7%" stop-color="#f2b33f"/><stop offset="25%" stop-color="#d0b938"/><stop offset="33.3%" stop-color="#9dbd4c"/><stop offset="41.7%" stop-color="#64ba80"/><stop offset="50%" stop-color="#39b599"/><stop offset="58.3%" stop-color="#19afb4"/><stop offset="66.7%" stop-color="#18a5cb"/><stop offset="75%" stop-color="#2995d1"/><stop offset="83.3%" stop-color="#3782c8"/><stop offset="91.7%" stop-color="#3a6cbb"/><stop offset="100%" stop-color="#3c58ae"/></linearGradient>
<linearGradient id="h0r91"><stop offset="0%" stop-color="#f0df32"/><stop offset="8.3%" stop-color="#f5c13b"/><stop offset="16.7%" stop-color="#f2b33f"/><stop offset="25%" stop-color="#d1b938"/><stop offset="33.3%" stop-color="#9ebd4b"/><stop offset="41.7%" stop-color="#65ba7f"/><stop offset="50%" stop-color="#3ab598"/><stop offset="58.3%" stop-color="#19afb3"/><stop offset="66.7%" stop-color="#18a5cb"/><stop offset="75%" stop-color="#2995d1"/><stop offset="83.3%" stop-color="#3782c8"/><stop offset="91.7%" stop-color="#3a6cbc"/><stop offset="100%" stop-color="#3c59ae"/></linearGradient>
<linearGradient id="h0r92"><stop offset="0%" stop-color="#f0df32"/><stop offset="8.3%" stop-color="#f5c13a"/><stop offset="16.7%" stop-color="#f2b33f"/><stop offset="25%" stop-color="#d1b938"/><stop offset="33.3%" stop-color="#9ebd4a"/><stop offset="41.7%" stop-color="#66ba7f"/><stop offset="50%" stop-color="#3ab598"/><stop offset="58.3%" stop-color="#1aafb3"/><stop offset="66.7%" stop-color="#18a5cb"/><stop offset="75%" stop-color="#2995d1"/><stop offset="83.3%" stop-color="#3682c8"/><stop offset="91.7%" stop-color="#3a6cbc"/><stop offset="100%" stop-color="#3c59ae"/></linearGradient>
<linearGradient id="h0r93"><stop offset="0%" stop-color="#f0e032"/><stop offset="8.3%" stop-color="#f5c23a"/><stop offset="16.7%" stop-color="#f2b43f"/><stop offset="25%" stop-color="#d2b839"/><stop offset="33.3%" stop-color="#9fbd49"/><stop offset="41.7%" stop-color="#66ba7f"/><stop offset="50%" stop-color="#3bb598"/><stop offset="58.3%" stop-color="#1aafb3"/><stop offset="66.7%" stop-color="#17a5cb"/><stop offset="75%" stop-color="#2995d1"/><stop offset="83.3%" stop-color="#3682c8"/><stop offset="91.7%" stop-color="#3a6cbc"/><stop offset="100%" stop-color="#3c59ae"/></linearGradient>
<linearGradient id="h0r94"><stop offset="0%" stop-color="#f0e033"/><stop offset="8.3%" stop-color="#f5c23a"/><stop offset="16.7%" stop-color="#f2b43f"/><stop offset="25%" stop-color="#d2b839"/><stop offset="33.3%" stop-color="#a0bd49"/><stop offset="41.7%" stop-color="#67ba7e"/><stop offset="50%" stop-color="#3bb598"/><stop offset="58.3%" stop-color="#1aafb2"/><stop offset="66.7%" stop-color="#17a5cb"/><stop offset="75%" stop-color="#2896d1"/><stop offset="83.3%" stop-color="#3682c8"/><stop offset="91.7%" stop-color="#3a6cbc"/><stop offset="100%" stop-color="#3c59ae"/></linearGradient>
<linearGradient id="h0r95"><stop offset="0%" stop-color="#f0e133"/><stop offset="8.3%" stop-color="#f5c23a"/><stop offset="16.7%" stop-color="#f2b43f"/><stop offset="25%" stop-color="#d3b839"/><stop offset="33.3%" stop-color="#a0bd48"/><stop offset="41.7%" stop-color="#67bb7e"/><stop offset="50%" stop-color="#3bb597"/><stop offset="58.3%" stop-color="#1aafb2"/><stop offset="66.7%" stop-color="#17a5ca"/><stop offset="75%" stop-color="#2896d1"/><stop offset="83.3%" stop-color="#3682c9"/><stop offset="91.7%" stop-color="#3a6cbc"/><stop offset="100%" stop-color="#3c59ae"/></linearGradient>
<linearGradient id="h0r96"><stop offset="0%" stop-color="#f0e133"/><stop offset="8.3%" stop-color="#f5c23a"/><stop offset="16.7%" stop-color="#f2b43f"/><stop offset="25%" stop-color="#d3b839"/><stop offset="33.3%" stop-color="#a1bd47"/><stop offset="41.7%" stop-color="#68bb7d"/><stop offset="50%" stop-color="#3cb597"/><stop offset="58.3%" stop-color="#1aafb2"/><stop offset="66.7%" stop-color="#17a6ca"/><stop offset="75%" stop-color="#2896d2"/><stop offset="83.3%" stop-color="#3682c9"/><stop offset="91.7%" stop-color="#3a6dbc"/><stop offset="100%" stop-color="#3c59ae"/></linearGradient>
<linearGradient id="h0r97"><stop offset="0%" stop-color="#f0e133"/><stop offset="8.3%" stop-color="#f5c33a"/><stop offset="16.7%" stop-color="#f2b43f"/><stop offset="25%" stop-color="#d4b839"/><stop offset="33.3%" stop-color="#a2bd47"/><stop offset="41.7%" stop-color="#68bb7d"/><stop offset="50%" stop-color="#3cb597"/><stop offset="58.3%" stop-color="#1aafb2"/><stop offset="66.7%" stop-color="#17a6ca"/><stop offset="75%" stop-color="#2896d2"/><stop offset="83.3%" stop-color="#3682c9"/><stop offset="91.7%" stop-color="#3a6dbc"/><stop offset="100%" stop-color="#3c59ae"/></linearGradient>
<linearGradient id="cb0" x1="0" y1="1" x2="0" y2="0"><stop offset="0%" stop-color="#362b88"/><stop offset="3.1%" stop-color="#38328e"/><stop offset="6.2%" stop-color="#3a3894"/><stop offset="9.4%" stop-color="#3b3f9b"/><stop offset="12.5%" stop-color="#3c47a0"/><stop offset="15.6%" stop-color="#3d4ea6"/><stop offset="18.8%" stop-color="#3c57ad"/><stop offset="21.9%" stop-color="#3c60b3"/><stop offset="25%" stop-color="#3a69ba"/><stop offset="28.1%" stop-color="#3974c0"/><stop offset="31.2%" stop-color="#377ec6"/><stop offset="34.4%" stop-color="#3288cb"/><stop offset="37.5%" stop-color="#2b92d0"/><stop offset="40.6%" stop-color="#249bd2"/><stop offset="43.8%" stop-color="#1ba2cf"/><stop offset="46.9%" stop-color="#14a8c6"/><stop offset="50%" stop-color="#16acba"/><stop offset="53.1%" stop-color="#1fb0ad"/><stop offset="56.2%" stop-color="#2eb39f"/><stop offset="59.4%" stop-color="#41b694"/><stop offset="62.5%" stop-color="#55b889"/><stop offset="65.6%" stop-color="#6cbb7a"/><stop offset="68.8%" stop-color="#86bc65"/><stop offset="71.9%" stop-color="#a3bd45"/><stop offset="75%" stop-color="#bcbb3a"/><stop offset="78.1%" stop-color="#d2b839"/><stop offset="81.2%" stop-color="#e5b63c"/><stop offset="84.4%" stop-color="#f1b33f"/><stop offset="87.5%" stop-color="#f5b640"/><stop offset="90.6%" stop-color="#f5bf3b"/><stop offset="93.8%" stop-color="#f3cc36"/><stop offset="96.9%" stop-color="#f1db32"/><stop offset="100%" stop-color="#efe934"/></linearGradient>
<clipPath id="hc0"><rect x="45.3" y="360.3" width="133.1" height="292.6"/></clipPath>
</defs>
<g clip-path="url(#hc0)"><rect x="44" y="650" width="135" height="3.5" fill="url(#h0r0)"/><rect x="44" y="647" width="135" height="3.5" fill="url(#h0r1)"/><rect x="44" y="644" width="135" height="3.5" fill="url(#h0r2)"/><rect x="44" y="641" width="135" height="3.5" fill="url(#h0r3)"/><rect x="44" y="638" width="135" height="3.5" fill="url(#h0r4)"/><rect x="44" y="635" width="135" height="3.5" fill="url(#h0r5)"/><rect x="44" y="632" width="135" height="3.5" fill="url(#h0r6)"/><rect x="44" y="629" width="135" height="3.5" fill="url(#h0r7)"/><rect x="44" y="626" width="135" height="3.5" fill="url(#h0r8)"/><rect x="44" y="623" width="135" height="3.5" fill="url(#h0r9)"/><rect x="44" y="620" width="135" height="3.5" fill="url(#h0r10)"/><rect x="44" y="617" width="135" height="3.5" fill="url(#h0r11)"/><rect x="44" y="614" width="135" height="3.5" fill="url(#h0r12)"/><rect x="44" y="611" width="135" height="3.5" fill="url(#h0r13)"/><rect x="44" y="608" width="135" height="3.5" fill="url(#h0r14)"/><rect x="44" y="605" width="135" height="3.5" fill="url(#h0r15)"/><rect x="44" y="602" width="135" height="3.5" fill="url(#h0r16)"/><rect x="44" y="599" width="135" height="3.5" fill="url(#h0r17)"/><rect x="44" y="596" width="135" height="3.5" fill="url(#h0r18)"/><rect x="44" y="593" width="135" height="3.5" fill="url(#h0r19)"/><rect x="44" y="590" width="135" height="3.5" fill="url(#h0r20)"/><rect x="44" y="587" width="135" height="3.5" fill="url(#h0r21)"/><rect x="44" y="584" width="135" height="3.5" fill="url(#h0r22)"/><rect x="44" y="581" width="135" height="3.5" fill="url(#h0r23)"/><rect x="44" y="578" width="135" height="3.5" fill="url(#h0r24)"/><rect x="44" y="575" width="135" height="3.5" fill="url(#h0r25)"/><rect x="44" y="572" width="135" height="3.5" fill="url(#h0r26)"/><rect x="44" y="569" width="135" height="3.5" fill="url(#h0r27)"/><rect x="44" y="566" width="135" height="3.5" fill="url(#h0r28)"/><rect x="44" y="563" width="135" height="3.5" fill="url(#h0r29)"/><rect x="44" y="560" width="135" height="3.5" fill="url(#h0r30)"/><rect x="44" y="557" width="135" height="3.5" fill="url(#h0r31)"/><rect x="44" y="554" width="135" height="3.5" fill="url(#h0r32)"/><rect x="44" y="551" width="135" height="3.5" fill="url(#h0r33)"/><rect x="44" y="548" width="135" height="3.5" fill="url(#h0r34)"/><rect x="44" y="545" width="135" height="3.5" fill="url(#h0r35)"/><rect x="44" y="542" width="135" height="3.5" fill="url(#h0r36)"/><rect x="44" y="539" width="135" height="3.5" fill="url(#h0r37)"/><rect x="44" y="536" width="135" height="3.5" fill="url(#h0r38)"/><rect x="44" y="533" width="135" height="3.5" fill="url(#h0r39)"/><rect x="44" y="530" width="135" height="3.5" fill="url(#h0r40)"/><rect x="44" y="527" width="135" height="3.5" fill="url(#h0r41)"/><rect x="44" y="524" width="135" height="3.5" fill="url(#h0r42)"/><rect x="44" y="521" width="135" height="3.5" fill="url(#h0r43)"/><rect x="44" y="518" width="135" height="3.5" fill="url(#h0r44)"/><rect x="44" y="515" width="135" height="3.5" fill="url(#h0r45)"/><rect x="44" y="512" width="135" height="3.5" fill="url(#h0r46)"/><rect x="44" y="509" width="135" height="3.5" fill="url(#h0r47)"/><rect x="44" y="506" width="135" height="3.5" fill="url(#h0r48)"/><rect x="44" y="503" width="135" height="3.5" fill="url(#h0r49)"/><rect x="44" y="500" width="135" height="3.5" fill="url(#h0r50)"/><rect x="44" y="497" width="135" height="3.5" fill="url(#h0r51)"/><rect x="44" y="494" width="135" height="3.5" fill="url(#h0r52)"/><rect x="44" y="491" width="135" height="3.5" fill="url(#h0r53)"/><rect x="44" y="488" width="135" height="3.5" fill="url(#h0r54)"/><rect x="44" y="485" width="135" height="3.5" fill="url(#h0r55)"/><rect x="44" y="482" width="135" height="3.5" fill="url(#h0r56)"/><rect x="44" y="479" width="135" height="3.5" fill="url(#h0r57)"/><rect x="44" y="476" width="135" height="3.5" fill="url(#h0r58)"/><rect x="44" y="473" width="135" height="3.5" fill="url(#h0r59)"/><rect x="44" y="470" width="135" height="3.5" fill="url(#h0r60)"/><rect x="44" y="467" width="135" height="3.5" fill="url(#h0r61)"/><rect x="44" y="464" width="135" height="3.5" fill="url(#h0r62)"/><rect x="44" y="461" width="135" height="3.5" fill="url(#h0r63)"/><rect x="44" y="458" width="135" height="3.5" fill="url(#h0r64)"/><rect x="44" y="455" width="135" height="3.5" fill="url(#h0r65)"/><rect x="44" y="452" width="135" height="3.5" fill="url(#h0r66)"/><rect x="44" y="449" width="135" height="3.5" fill="url(#h0r67)"/><rect x="44" y="446" width="135" height="3.5" fill="url(#h0r68)"/><rect x="44" y="443" width="135" height="3.5" fill="url(#h0r69)"/><rect x="44" y="440" width="135" height="3.5" fill="url(#h0r70)"/><rect x="44" y="437" width="135" height="3.5" fill="url(#h0r71)"/><rect x="44" y="434" width="135" height="3.5" fill="url(#h0r72)"/><rect x="44" y="431" width="135" height="3.5" fill="url(#h0r73)"/><rect x="44" y="428" width="135" height="3.5" fill="url(#h0r74)"/><rect x="44" y="425" width="135" height="3.5" fill="url(#h0r75)"/><rect x="44" y="422" width="135" height="3.5" fill="url(#h0r76)"/><rect x="44" y="419" width="135" height="3.5" fill="url(#h0r77)"/><rect x="44" y="416" width="135" height="3.5" fill="url(#h0r78)"/><rect x="44" y="413" width="135" height="3.5" fill="url(#h0r79)"/><rect x="44" y="410" width="135" height="3.5" fill="url(#h0r80)"/><rect x="44" y="407" width="135" height="3.5" fill="url(#h0r81)"/><rect x="44" y="404" width="135" height="3.5" fill="url(#h0r82)"/><rect x="44" y="401" width="135" height="3.5" fill="url(#h0r83)"/><rect x="44" y="398" width="135" height="3.5" fill="url(#h0r84)"/><rect x="44" y="395" width="135" height="3.5" fill="url(#h0r85)"/><rect x="44" y="392" width="135" height="3.5" fill="url(#h0r86)"/><rect x="44" y="389" width="135" height="3.5" fill="url(#h0r87)"/><rect x="44" y="386" width="135" height="3.5" fill="url(#h0r88)"/><rect x="44" y="383" width="135" height="3.5" fill="url(#h0r89)"/><rect x="44" y="380" width="135" height="3.5" fill="url(#h0r90)"/><rect x="44" y="377" width="135" height="3.5" fill="url(#h0r91)"/><rect x="44" y="374" width="135" height="3.5" fill="url(#h0r92)"/><rect x="44" y="371" width="135" height="3.5" fill="url(#h0r93)"/><rect x="44" y="368" width="135" height="3.5" fill="url(#h0r94)"/><rect x="44" y="365" width="135" height="3.5" fill="url(#h0r95)"/><rect x="44" y="362" width="135" height="3.5" fill="url(#h0r96)"/><rect x="44" y="359" width="135" height="3.5" fill="url(#h0r97)"/></g>
<rect x="187.0" y="360.3" width="8.8" height="292.6" fill="url(#cb0)" stroke="#555" stroke-width="0.6"/>
<path d="M193.6 652.9 H195.8" stroke="#333" stroke-width="0.6"/><text x="200.20" y="658.40" font-size="14.8" text-anchor="start" fill="#3c3c3c">0</text>
<path d="M193.6 606.3 H195.8" stroke="#333" stroke-width="0.6"/><text x="200.20" y="611.84" font-size="14.8" text-anchor="start" fill="#3c3c3c">2</text>
<path d="M193.6 559.8 H195.8" stroke="#333" stroke-width="0.6"/><text x="200.20" y="565.29" font-size="14.8" text-anchor="start" fill="#3c3c3c">4</text>
<path d="M193.6 513.2 H195.8" stroke="#333" stroke-width="0.6"/><text x="200.20" y="518.73" font-size="14.8" text-anchor="start" fill="#3c3c3c">6</text>
<path d="M193.6 466.7 H195.8" stroke="#333" stroke-width="0.6"/><text x="200.20" y="472.18" font-size="14.8" text-anchor="start" fill="#3c3c3c">8</text>
<path d="M193.6 420.1 H195.8" stroke="#333" stroke-width="0.6"/><text x="200.20" y="425.62" font-size="14.8" text-anchor="start" fill="#3c3c3c">10</text>
<path d="M193.6 373.6 H195.8" stroke="#333" stroke-width="0.6"/><text x="200.20" y="379.07" font-size="14.8" text-anchor="start" fill="#3c3c3c">12</text>
<text x="40.70" y="658.60" font-size="14.8" text-anchor="end" fill="#3c3c3c" textLength="7.30" lengthAdjust="spacingAndGlyphs">0</text>
<text x="40.70" y="609.83" font-size="14.8" text-anchor="end" fill="#3c3c3c" textLength="7.30" lengthAdjust="spacingAndGlyphs">5</text>
<text x="40.70" y="561.07" font-size="14.8" text-anchor="end" fill="#3c3c3c" textLength="15.00" lengthAdjust="spacingAndGlyphs">10</text>
<text x="40.70" y="512.30" font-size="14.8" text-anchor="end" fill="#3c3c3c" textLength="15.00" lengthAdjust="spacingAndGlyphs">15</text>
<text x="40.70" y="463.53" font-size="14.8" text-anchor="end" fill="#3c3c3c" textLength="15.00" lengthAdjust="spacingAndGlyphs">20</text>
<text x="40.70" y="414.77" font-size="14.8" text-anchor="end" fill="#3c3c3c" textLength="15.00" lengthAdjust="spacingAndGlyphs">25</text>
<text x="40.70" y="366.00" font-size="14.8" text-anchor="end" fill="#3c3c3c" textLength="15.00" lengthAdjust="spacingAndGlyphs">30</text>
<text x="45.60" y="671.20" font-size="14.8" text-anchor="middle" fill="#3c3c3c" textLength="7.30" lengthAdjust="spacingAndGlyphs">0</text>
<text x="112.15" y="671.20" font-size="14.8" text-anchor="middle" fill="#3c3c3c" textLength="18.80" lengthAdjust="spacingAndGlyphs">0.5</text>
<text x="178.70" y="671.20" font-size="14.8" text-anchor="middle" fill="#3c3c3c" textLength="7.30" lengthAdjust="spacingAndGlyphs">1</text>
<text x="112.35" y="691.90" font-size="19.3" text-anchor="middle" fill="#3c3c3c" textLength="144.00" lengthAdjust="spacingAndGlyphs">Field Position / L</text>
<text x="19.30" y="507.40" font-size="19.3" text-anchor="middle" fill="#3c3c3c" transform="rotate(-90 19.30 507.40)" textLength="42.50" lengthAdjust="spacingAndGlyphs">Time</text>
<text x="113.65" y="354.40" font-size="18" text-anchor="middle" fill="#1b6fbe" font-weight="bold" textLength="83.70" lengthAdjust="spacingAndGlyphs">with Sink</text>
<defs>
<linearGradient id="h1r0"><stop offset="0%" stop-color="#37308d"/><stop offset="8.3%" stop-color="#372f8c"/><stop offset="16.7%" stop-color="#372e8b"/><stop offset="25%" stop-color="#372e8a"/><stop offset="33.3%" stop-color="#372d8a"/><stop offset="41.7%" stop-color="#362c89"/><stop offset="50%" stop-color="#362c89"/><stop offset="58.3%" stop-color="#362b88"/><stop offset="66.7%" stop-color="#362b88"/><stop offset="75%" stop-color="#362b88"/><stop offset="83.3%" stop-color="#362b88"/><stop offset="91.7%" stop-color="#362b88"/><stop offset="100%" stop-color="#362b88"/></linearGradient>
<linearGradient id="h1r1"><stop offset="0%" stop-color="#3a3a96"/><stop offset="8.3%" stop-color="#3a3793"/><stop offset="16.7%" stop-color="#393591"/><stop offset="25%" stop-color="#38328f"/><stop offset="33.3%" stop-color="#38318d"/><stop offset="41.7%" stop-color="#372f8c"/><stop offset="50%" stop-color="#372e8a"/><stop offset="58.3%" stop-color="#362d89"/><stop offset="66.7%" stop-color="#362c89"/><stop offset="75%" stop-color="#362b88"/><stop offset="83.3%" stop-color="#362b88"/><stop offset="91.7%" stop-color="#362b88"/><stop offset="100%" stop-color="#362b88"/></linearGradient>
<linearGradient id="h1r2"><stop offset="0%" stop-color="#3c449e"/><stop offset="8.3%" stop-color="#3b3f9a"/><stop offset="16.7%" stop-color="#3b3b97"/><stop offset="25%" stop-color="#3a3794"/><stop offset="33.3%" stop-color="#393491"/><stop offset="41.7%" stop-color="#38328e"/><stop offset="50%" stop-color="#372f8c"/><stop offset="58.3%" stop-color="#372e8b"/><stop offset="66.7%" stop-color="#362c89"/><stop offset="75%" stop-color="#362c88"/><stop offset="83.3%" stop-color="#362b88"/><stop offset="91.7%" stop-color="#362b88"/><stop offset="100%" stop-color="#362b88"/></linearGradient>
<linearGradient id="h1r3"><stop offset="0%" stop-color="#3d4ea6"/><stop offset="8.3%" stop-color="#3c47a1"/><stop offset="16.7%" stop-color="#3c419c"/><stop offset="25%" stop-color="#3b3c98"/><stop offset="33.3%" stop-color="#3a3894"/><stop offset="41.7%" stop-color="#393491"/><stop offset="50%" stop-color="#38318e"/><stop offset="58.3%" stop-color="#372f8c"/><stop offset="66.7%" stop-color="#372d8a"/><stop offset="75%" stop-color="#362c89"/><stop offset="83.3%" stop-color="#362b88"/><stop offset="91.7%" stop-color="#362b88"/><stop offset="100%" stop-color="#362c89"/></linearGradient>
<linearGradient id="h1r4"><stop offset="0%" stop-color="#3c58ae"/><stop offset="8.3%" stop-color="#3d4ea7"/><stop offset="16.7%" stop-color="#3c47a1"/><stop offset="25%" stop-color="#3c419c"/><stop offset="33.3%" stop-color="#3b3b97"/><stop offset="41.7%" stop-color="#3a3793"/><stop offset="50%" stop-color="#383390"/><stop offset="58.3%" stop-color="#38308d"/><stop offset="66.7%" stop-color="#372e8b"/><stop offset="75%" stop-color="#362d8a"/><stop offset="83.3%" stop-color="#362c89"/><stop offset="91.7%" stop-color="#362c89"/><stop offset="100%" stop-color="#362c89"/></linearGradient>
<linearGradient id="h1r5"><stop offset="0%" stop-color="#3b61b4"/><stop offset="8.3%" stop-color="#3c56ac"/><stop offset="16.7%" stop-color="#3d4da5"/><stop offset="25%" stop-color="#3c459f"/><stop offset="33.3%" stop-color="#3b3f9a"/><stop offset="41.7%" stop-color="#3a3a96"/><stop offset="50%" stop-color="#393692"/><stop offset="58.3%" stop-color="#38328f"/><stop offset="66.7%" stop-color="#372f8c"/><stop offset="75%" stop-color="#372e8a"/><stop offset="83.3%" stop-color="#362c89"/><stop offset="91.7%" stop-color="#362c89"/><stop offset="100%" stop-color="#362d8a"/></linearGradient>
<linearGradient id="h1r6"><stop offset="0%" stop-color="#3b69ba"/><stop offset="8.3%" stop-color="#3c5db1"/><stop offset="16.7%" stop-color="#3d52a9"/><stop offset="25%" stop-color="#3c49a3"/><stop offset="33.3%" stop-color="#3c429d"/><stop offset="41.7%" stop-color="#3b3c98"/><stop offset="50%" stop-color="#3a3894"/><stop offset="58.3%" stop-color="#393490"/><stop offset="66.7%" stop-color="#38318e"/><stop offset="75%" stop-color="#372f8b"/><stop offset="83.3%" stop-color="#372d8a"/><stop offset="91.7%" stop-color="#372d8a"/><stop offset="100%" stop-color="#372d8a"/></linearGradient>
<linearGradient id="h1r7"><stop offset="0%" stop-color="#3970be"/><stop offset="8.3%" stop-color="#3b62b5"/><stop offset="16.7%" stop-color="#3c57ad"/><stop offset="25%" stop-color="#3d4da6"/><stop offset="33.3%" stop-color="#3c46a0"/><stop offset="41.7%" stop-color="#3b3f9b"/><stop offset="50%" stop-color="#3a3a96"/><stop offset="58.3%" stop-color="#393692"/><stop offset="66.7%" stop-color="#38338f"/><stop offset="75%" stop-color="#38308d"/><stop offset="83.3%" stop-color="#372f8b"/><stop offset="91.7%" stop-color="#372e8b"/><stop offset="100%" stop-color="#372e8b"/></linearGradient>
<linearGradient id="h1r8"><stop offset="0%" stop-color="#3977c2"/><stop offset="8.3%" stop-color="#3b68b9"/><stop offset="16.7%" stop-color="#3c5cb1"/><stop offset="25%" stop-color="#3d51a9"/><stop offset="33.3%" stop-color="#3c49a2"/><stop offset="41.7%" stop-color="#3c429d"/><stop offset="50%" stop-color="#3b3d98"/><stop offset="58.3%" stop-color="#3a3894"/><stop offset="66.7%" stop-color="#393591"/><stop offset="75%" stop-color="#38328e"/><stop offset="83.3%" stop-color="#37308d"/><stop offset="91.7%" stop-color="#372f8c"/><stop offset="100%" stop-color="#372f8c"/></linearGradient>
<linearGradient id="h1r9"><stop offset="0%" stop-color="#387dc5"/><stop offset="8.3%" stop-color="#3a6dbc"/><stop offset="16.7%" stop-color="#3b60b4"/><stop offset="25%" stop-color="#3c56ac"/><stop offset="33.3%" stop-color="#3d4da5"/><stop offset="41.7%" stop-color="#3c46a0"/><stop offset="50%" stop-color="#3b3f9b"/><stop offset="58.3%" stop-color="#3b3b97"/><stop offset="66.7%" stop-color="#393793"/><stop offset="75%" stop-color="#393490"/><stop offset="83.3%" stop-color="#38328e"/><stop offset="91.7%" stop-color="#38308d"/><stop offset="100%" stop-color="#37308d"/></linearGradient>
<linearGradient id="h1r10"><stop offset="0%" stop-color="#3682c8"/><stop offset="8.3%" stop-color="#3973c0"/><stop offset="16.7%" stop-color="#3b65b7"/><stop offset="25%" stop-color="#3c5aaf"/><stop offset="33.3%" stop-color="#3d50a8"/><stop offset="41.7%" stop-color="#3c49a2"/><stop offset="50%" stop-color="#3c439d"/><stop offset="58.3%" stop-color="#3b3d99"/><stop offset="66.7%" stop-color="#3a3995"/><stop offset="75%" stop-color="#393692"/><stop offset="83.3%" stop-color="#393490"/><stop offset="91.7%" stop-color="#38328f"/><stop offset="100%" stop-color="#38328e"/></linearGradient>
<linearGradient id="h1r11"><stop offset="0%" stop-color="#3386ca"/><stop offset="8.3%" stop-color="#3878c2"/><stop offset="16.7%" stop-color="#3a6aba"/><stop offset="25%" stop-color="#3c5eb2"/><stop offset="33.3%" stop-color="#3d54ab"/><stop offset="41.7%" stop-color="#3d4ca5"/><stop offset="50%" stop-color="#3c46a0"/><stop offset="58.3%" stop-color="#3b409b"/><stop offset="66.7%" stop-color="#3b3c98"/><stop offset="75%" stop-color="#3a3895"/><stop offset="83.3%" stop-color="#393692"/><stop offset="91.7%" stop-color="#393491"/><stop offset="100%" stop-color="#383390"/></linearGradient>
<linearGradient id="h1r12"><stop offset="0%" stop-color="#308acc"/><stop offset="8.3%" stop-color="#387cc5"/><stop offset="16.7%" stop-color="#3a6ebd"/><stop offset="25%" stop-color="#3b62b5"/><stop offset="33.3%" stop-color="#3c58ae"/><stop offset="41.7%" stop-color="#3d4fa7"/><stop offset="50%" stop-color="#3c49a2"/><stop offset="58.3%" stop-color="#3c439e"/><stop offset="66.7%" stop-color="#3b3e9a"/><stop offset="75%" stop-color="#3b3b97"/><stop offset="83.3%" stop-color="#3a3894"/><stop offset="91.7%" stop-color="#393692"/><stop offset="100%" stop-color="#393591"/></linearGradient>
<linearGradient id="h1r13"><stop offset="0%" stop-color="#2e8ece"/><stop offset="8.3%" stop-color="#3781c8"/><stop offset="16.7%" stop-color="#3973c0"/><stop offset="25%" stop-color="#3b66b8"/><stop offset="33.3%" stop-color="#3c5cb1"/><stop offset="41.7%" stop-color="#3d53aa"/><stop offset="50%" stop-color="#3d4ca4"/><stop offset="58.3%" stop-color="#3c46a0"/><stop offset="66.7%" stop-color="#3c419c"/><stop offset="75%" stop-color="#3b3d99"/><stop offset="83.3%" stop-color="#3a3a96"/><stop offset="91.7%" stop-color="#3a3894"/><stop offset="100%" stop-color="#393693"/></linearGradient>
<linearGradient id="h1r14"><stop offset="0%" stop-color="#2b92d0"/><stop offset="8.3%" stop-color="#3485ca"/><stop offset="16.7%" stop-color="#3877c2"/><stop offset="25%" stop-color="#3a6abb"/><stop offset="33.3%" stop-color="#3c60b3"/><stop offset="41.7%" stop-color="#3c57ad"/><stop offset="50%" stop-color="#3d4fa7"/><stop offset="58.3%" stop-color="#3c49a2"/><stop offset="66.7%" stop-color="#3c449e"/><stop offset="75%" stop-color="#3b409b"/><stop offset="83.3%" stop-color="#3b3c98"/><stop offset="91.7%" stop-color="#3a3a96"/><stop offset="100%" stop-color="#3a3894"/></linearGradient>
<linearGradient id="h1r15"><stop offset="0%" stop-color="#2896d2"/><stop offset="8.3%" stop-color="#3288cb"/><stop offset="16.7%" stop-color="#387bc5"/><stop offset="25%" stop-color="#3a6fbd"/><stop offset="33.3%" stop-color="#3b63b6"/><stop offset="41.7%" stop-color="#3c5aaf"/><stop offset="50%" stop-color="#3d52a9"/><stop offset="58.3%" stop-color="#3d4ca4"/><stop offset="66.7%" stop-color="#3c46a0"/><stop offset="75%" stop-color="#3c429d"/><stop offset="83.3%" stop-color="#3b3e9a"/><stop offset="91.7%" stop-color="#3b3c98"/><stop offset="100%" stop-color="#3a3a96"/></linearGradient>
<linearGradient id="h1r16"><stop offset="0%" stop-color="#259ad3"/><stop offset="8.3%" stop-color="#2f8ccd"/><stop offset="16.7%" stop-color="#3780c7"/><stop offset="25%" stop-color="#3973c0"/><stop offset="33.3%" stop-color="#3b67b8"/><stop offset="41.7%" stop-color="#3c5eb2"/><stop offset="50%" stop-color="#3c55ac"/><stop offset="58.3%" stop-color="#3d4ea6"/><stop offset="66.7%" stop-color="#3c49a2"/><stop offset="75%" stop-color="#3c449e"/><stop offset="83.3%" stop-color="#3b409b"/><stop offset="91.7%" stop-color="#3b3d99"/><stop offset="100%" stop-color="#3b3b97"/></linearGradient>
<linearGradient id="h1r17"><stop offset="0%" stop-color="#229dd2"/><stop offset="8.3%" stop-color="#2c90cf"/><stop offset="16.7%" stop-color="#3583c9"/><stop offset="25%" stop-color="#3977c2"/><stop offset="33.3%" stop-color="#3a6bbb"/><stop offset="41.7%" stop-color="#3b61b4"/><stop offset="50%" stop-color="#3c58ae"/><stop offset="58.3%" stop-color="#3d51a8"/><stop offset="66.7%" stop-color="#3d4ba4"/><stop offset="75%" stop-color="#3c46a0"/><stop offset="83.3%" stop-color="#3c429d"/><stop offset="91.7%" stop-color="#3b3f9a"/><stop offset="100%" stop-color="#3b3d98"/></linearGradient>
<linearGradient id="h1r18"><stop offset="0%" stop-color="#1ea0d0"/><stop offset="8.3%" stop-color="#2a94d1"/><stop offset="16.7%" stop-color="#3387cb"/><stop offset="25%" stop-color="#387bc4"/><stop offset="33.3%" stop-color="#3a6ebd"/><stop offset="41.7%" stop-color="#3b64b6"/><stop offset="50%" stop-color="#3c5bb0"/><stop offset="58.3%" stop-color="#3d53aa"/><stop offset="66.7%" stop-color="#3d4da5"/><stop offset="75%" stop-color="#3c48a2"/><stop offset="83.3%" stop-color="#3c449e"/><stop offset="91.7%" stop-color="#3b419c"/><stop offset="100%" stop-color="#3b3e9a"/></linearGradient>
<linearGradient id="h1r19"><stop offset="0%" stop-color="#1aa3cf"/><stop offset="8.3%" stop-color="#2797d2"/><stop offset="16.7%" stop-color="#308acc"/><stop offset="25%" stop-color="#377ec6"/><stop offset="33.3%" stop-color="#3972bf"/><stop offset="41.7%" stop-color="#3b67b8"/><stop offset="50%" stop-color="#3c5eb2"/><stop offset="58.3%" stop-color="#3c56ac"/><stop offset="66.7%" stop-color="#3d4fa7"/><stop offset="75%" stop-color="#3c4aa3"/><stop offset="83.3%" stop-color="#3c46a0"/><stop offset="91.7%" stop-color="#3c429d"/><stop offset="100%" stop-color="#3b3f9b"/></linearGradient>
<linearGradient id="h1r20"><stop offset="0%" stop-color="#18a5cb"/><stop offset="8.3%" stop-color="#249ad2"/><stop offset="16.7%" stop-color="#2e8ece"/><stop offset="25%" stop-color="#3682c8"/><stop offset="33.3%" stop-color="#3976c1"/><stop offset="41.7%" stop-color="#3a6aba"/><stop offset="50%" stop-color="#3b61b4"/><stop offset="58.3%" stop-color="#3c59ae"/><stop offset="66.7%" stop-color="#3d52a9"/><stop offset="75%" stop-color="#3d4ca5"/><stop offset="83.3%" stop-color="#3c48a1"/><stop offset="91.7%" stop-color="#3c449e"/><stop offset="100%" stop-color="#3c419c"/></linearGradient>
<linearGradient id="h1r21"><stop offset="0%" stop-color="#16a7c8"/><stop offset="8.3%" stop-color="#219dd1"/><stop offset="16.7%" stop-color="#2c91cf"/><stop offset="25%" stop-color="#3485ca"/><stop offset="33.3%" stop-color="#3879c3"/><stop offset="41.7%" stop-color="#3a6ebc"/><stop offset="50%" stop-color="#3b63b6"/><stop offset="58.3%" stop-color="#3c5bb0"/><stop offset="66.7%" stop-color="#3d54ab"/><stop offset="75%" stop-color="#3d4ea6"/><stop offset="83.3%" stop-color="#3c49a2"/><stop offset="91.7%" stop-color="#3c459f"/><stop offset="100%" stop-color="#3c429d"/></linearGradient>
<linearGradient id="h1r22"><stop offset="0%" stop-color="#13a9c4"/><stop offset="8.3%" stop-color="#1ea0d0"/><stop offset="16.7%" stop-color="#2994d1"/><stop offset="25%" stop-color="#3288cb"/><stop offset="33.3%" stop-color="#387cc5"/><stop offset="41.7%" stop-color="#3971be"/><stop offset="50%" stop-color="#3b66b8"/><stop offset="58.3%" stop-color="#3c5eb2"/><stop offset="66.7%" stop-color="#3c56ac"/><stop offset="75%" stop-color="#3d50a8"/><stop offset="83.3%" stop-color="#3d4ba4"/><stop offset="91.7%" stop-color="#3c47a1"/><stop offset="100%" stop-color="#3c449e"/></linearGradient>
<linearGradient id="h1r23"><stop offset="0%" stop-color="#13abc0"/><stop offset="8.3%" stop-color="#1ba3cf"/><stop offset="16.7%" stop-color="#2797d2"/><stop offset="25%" stop-color="#308bcd"/><stop offset="33.3%" stop-color="#3780c7"/><stop offset="41.7%" stop-color="#3974c0"/><stop offset="50%" stop-color="#3b69ba"/><stop offset="58.3%" stop-color="#3b60b4"/><stop offset="66.7%" stop-color="#3c59ae"/><stop offset="75%" stop-color="#3d52a9"/><stop offset="83.3%" stop-color="#3d4da5"/><stop offset="91.7%" stop-color="#3c48a2"/><stop offset="100%" stop-color="#3c459f"/></linearGradient>
<linearGradient id="h1r24"><stop offset="0%" stop-color="#15acbc"/><stop offset="8.3%" stop-color="#18a5cc"/><stop offset="16.7%" stop-color="#249ad2"/><stop offset="25%" stop-color="#2e8ece"/><stop offset="33.3%" stop-color="#3683c9"/><stop offset="41.7%" stop-color="#3877c2"/><stop offset="50%" stop-color="#3a6cbc"/><stop offset="58.3%" stop-color="#3b63b6"/><stop offset="66.7%" stop-color="#3c5bb0"/><stop offset="75%" stop-color="#3d54ab"/><stop offset="83.3%" stop-color="#3d4ea6"/><stop offset="91.7%" stop-color="#3c4aa3"/><stop offset="100%" stop-color="#3c46a0"/></linearGradient>
<linearGradient id="h1r25"><stop offset="0%" stop-color="#17adb8"/><stop offset="8.3%" stop-color="#16a6c9"/><stop offset="16.7%" stop-color="#219dd1"/><stop offset="25%" stop-color="#2c91cf"/><stop offset="33.3%" stop-color="#3486ca"/><stop offset="41.7%" stop-color="#387ac4"/><stop offset="50%" stop-color="#3a6fbd"/><stop offset="58.3%" stop-color="#3b65b7"/><stop offset="66.7%" stop-color="#3c5db2"/><stop offset="75%" stop-color="#3c56ac"/><stop offset="83.3%" stop-color="#3d50a8"/><stop offset="91.7%" stop-color="#3d4ba4"/><stop offset="100%" stop-color="#3c48a1"/></linearGradient>
<linearGradient id="h1r26"><stop offset="0%" stop-color="#19afb4"/><stop offset="8.3%" stop-color="#14a8c5"/><stop offset="16.7%" stop-color="#1e9fd0"/><stop offset="25%" stop-color="#2994d1"/><stop offset="33.3%" stop-color="#3288cb"/><stop offset="41.7%" stop-color="#387dc6"/><stop offset="50%" stop-color="#3972bf"/><stop offset="58.3%" stop-color="#3b68b9"/><stop offset="66.7%" stop-color="#3c60b3"/><stop offset="75%" stop-color="#3c58ae"/><stop offset="83.3%" stop-color="#3d52a9"/><stop offset="91.7%" stop-color="#3d4da5"/><stop offset="100%" stop-color="#3c49a2"/></linearGradient>
<linearGradient id="h1r27"><stop offset="0%" stop-color="#1db0af"/><stop offset="8.3%" stop-color="#12aac2"/><stop offset="16.7%" stop-color="#1ca2d0"/><stop offset="25%" stop-color="#2797d2"/><stop offset="33.3%" stop-color="#308bcd"/><stop offset="41.7%" stop-color="#3780c8"/><stop offset="50%" stop-color="#3975c1"/><stop offset="58.3%" stop-color="#3a6bbb"/><stop offset="66.7%" stop-color="#3b62b5"/><stop offset="75%" stop-color="#3c5bb0"/><stop offset="83.3%" stop-color="#3d54ab"/><stop offset="91.7%" stop-color="#3d4fa7"/><stop offset="100%" stop-color="#3d4aa3"/></linearGradient>
<linearGradient id="h1r28"><stop offset="0%" stop-color="#21b1ab"/><stop offset="8.3%" stop-color="#14abbe"/><stop offset="16.7%" stop-color="#19a4ce"/><stop offset="25%" stop-color="#259ad3"/><stop offset="33.3%" stop-color="#2e8ece"/><stop offset="41.7%" stop-color="#3683c9"/><stop offset="50%" stop-color="#3878c3"/><stop offset="58.3%" stop-color="#3a6dbc"/><stop offset="66.7%" stop-color="#3b64b7"/><stop offset="75%" stop-color="#3c5db1"/><stop offset="83.3%" stop-color="#3c56ac"/><stop offset="91.7%" stop-color="#3d50a8"/><stop offset="100%" stop-color="#3d4ca5"/></linearGradient>
<linearGradient id="h1r29"><stop offset="0%" stop-color="#26b2a6"/><stop offset="8.3%" stop-color="#16acbb"/><stop offset="16.7%" stop-color="#17a5ca"/><stop offset="25%" stop-color="#229cd2"/><stop offset="33.3%" stop-color="#2c91cf"/><stop offset="41.7%" stop-color="#3486ca"/><stop offset="50%" stop-color="#387bc4"/><stop offset="58.3%" stop-color="#3970be"/><stop offset="66.7%" stop-color="#3b67b8"/><stop offset="75%" stop-color="#3c5fb3"/><stop offset="83.3%" stop-color="#3c58ae"/><stop offset="91.7%" stop-color="#3d52a9"/><stop offset="100%" stop-color="#3d4da6"/></linearGradient>
<linearGradient id="h1r30"><stop offset="0%" stop-color="#2ab3a2"/><stop offset="8.3%" stop-color="#18adb7"/><stop offset="16.7%" stop-color="#15a7c7"/><stop offset="25%" stop-color="#209ed1"/><stop offset="33.3%" stop-color="#2a94d1"/><stop offset="41.7%" stop-color="#3288cb"/><stop offset="50%" stop-color="#377ec6"/><stop offset="58.3%" stop-color="#3973c0"/><stop offset="66.7%" stop-color="#3a69ba"/><stop offset="75%" stop-color="#3b61b5"/><stop offset="83.3%" stop-color="#3c5aaf"/><stop offset="91.7%" stop-color="#3d54ab"/><stop offset="100%" stop-color="#3d4fa7"/></linearGradient>
<linearGradient id="h1r31"><stop offset="0%" stop-color="#2fb39e"/><stop offset="8.3%" stop-color="#19afb3"/><stop offset="16.7%" stop-color="#13a9c4"/><stop offset="25%" stop-color="#1da1d0"/><stop offset="33.3%" stop-color="#2896d2"/><stop offset="41.7%" stop-color="#308bcd"/><stop offset="50%" stop-color="#3781c8"/><stop offset="58.3%" stop-color="#3976c2"/><stop offset="66.7%" stop-color="#3a6cbc"/><stop offset="75%" stop-color="#3b64b6"/><stop offset="83.3%" stop-color="#3c5db1"/><stop offset="91.7%" stop-color="#3c56ac"/><stop offset="100%" stop-color="#3d51a8"/></linearGradient>
<linearGradient id="h1r32"><stop offset="0%" stop-color="#34b49b"/><stop offset="8.3%" stop-color="#1db0af"/><stop offset="16.7%" stop-color="#12aac1"/><stop offset="25%" stop-color="#1aa3cf"/><stop offset="33.3%" stop-color="#2699d3"/><stop offset="41.7%" stop-color="#2e8ece"/><stop offset="50%" stop-color="#3584c9"/><stop offset="58.3%" stop-color="#3879c3"/><stop offset="66.7%" stop-color="#3a6fbd"/><stop offset="75%" stop-color="#3b66b8"/><stop offset="83.3%" stop-color="#3c5fb3"/><stop offset="91.7%" stop-color="#3c59ae"/><stop offset="100%" stop-color="#3d53aa"/></linearGradient>
<linearGradient id="h1r33"><stop offset="0%" stop-color="#3ab598"/><stop offset="8.3%" stop-color="#21b1ab"/><stop offset="16.7%" stop-color="#14abbe"/><stop offset="25%" stop-color="#18a5cc"/><stop offset="33.3%" stop-color="#239bd2"/><stop offset="41.7%" stop-color="#2c91cf"/><stop offset="50%" stop-color="#3386ca"/><stop offset="58.3%" stop-color="#387cc5"/><stop offset="66.7%" stop-color="#3972bf"/><stop offset="75%" stop-color="#3b69ba"/><stop offset="83.3%" stop-color="#3b61b5"/><stop offset="91.7%" stop-color="#3c5bb0"/><stop offset="100%" stop-color="#3c55ac"/></linearGradient>
<linearGradient id="h1r34"><stop offset="0%" stop-color="#3fb595"/><stop offset="8.3%" stop-color="#25b1a7"/><stop offset="16.7%" stop-color="#16adba"/><stop offset="25%" stop-color="#16a6c9"/><stop offset="33.3%" stop-color="#209ed1"/><stop offset="41.7%" stop-color="#2a93d0"/><stop offset="50%" stop-color="#3189cc"/><stop offset="58.3%" stop-color="#377fc7"/><stop offset="66.7%" stop-color="#3975c1"/><stop offset="75%" stop-color="#3a6cbb"/><stop offset="83.3%" stop-color="#3b64b6"/><stop offset="91.7%" stop-color="#3c5db2"/><stop offset="100%" stop-color="#3c58ad"/></linearGradient>
<linearGradient id="h1r35"><stop offset="0%" stop-color="#45b692"/><stop offset="8.3%" stop-color="#29b2a3"/><stop offset="16.7%" stop-color="#18aeb6"/><stop offset="25%" stop-color="#15a8c6"/><stop offset="33.3%" stop-color="#1ea0d0"/><stop offset="41.7%" stop-color="#2896d2"/><stop offset="50%" stop-color="#2f8ccd"/><stop offset="58.3%" stop-color="#3682c9"/><stop offset="66.7%" stop-color="#3878c3"/><stop offset="75%" stop-color="#3a6fbd"/><stop offset="83.3%" stop-color="#3b66b8"/><stop offset="91.7%" stop-color="#3c60b3"/><stop offset="100%" stop-color="#3c5aaf"/></linearGradient>
<linearGradient id="h1r36"><stop offset="0%" stop-color="#4ab78f"/><stop offset="8.3%" stop-color="#2db39f"/><stop offset="16.7%" stop-color="#1aafb3"/><stop offset="25%" stop-color="#13a9c3"/><stop offset="33.3%" stop-color="#1ba2cf"/><stop offset="41.7%" stop-color="#2699d3"/><stop offset="50%" stop-color="#2d8fce"/><stop offset="58.3%" stop-color="#3485ca"/><stop offset="66.7%" stop-color="#387bc5"/><stop offset="75%" stop-color="#3972bf"/><stop offset="83.3%" stop-color="#3a6aba"/><stop offset="91.7%" stop-color="#3b63b5"/><stop offset="100%" stop-color="#3c5db1"/></linearGradient>
<linearGradient id="h1r37"><stop offset="0%" stop-color="#50b88c"/><stop offset="8.3%" stop-color="#33b49c"/><stop offset="16.7%" stop-color="#1db0af"/><stop offset="25%" stop-color="#13abc0"/><stop offset="33.3%" stop-color="#19a4cd"/><stop offset="41.7%" stop-color="#239bd2"/><stop offset="50%" stop-color="#2b92d0"/><stop offset="58.3%" stop-color="#3288cb"/><stop offset="66.7%" stop-color="#377fc7"/><stop offset="75%" stop-color="#3975c1"/><stop offset="83.3%" stop-color="#3a6dbc"/><stop offset="91.7%" stop-color="#3b65b7"/><stop offset="100%" stop-color="#3c5fb3"/></linearGradient>
<linearGradient id="h1r38"><stop offset="0%" stop-color="#55b889"/><stop offset="8.3%" stop-color="#38b499"/><stop offset="16.7%" stop-color="#21b1ab"/><stop offset="25%" stop-color="#15acbc"/><stop offset="33.3%" stop-color="#17a6ca"/><stop offset="41.7%" stop-color="#209ed1"/><stop offset="50%" stop-color="#2994d1"/><stop offset="58.3%" stop-color="#308bcd"/><stop offset="66.7%" stop-color="#3682c8"/><stop offset="75%" stop-color="#3879c3"/><stop offset="83.3%" stop-color="#3970be"/><stop offset="91.7%" stop-color="#3b68b9"/><stop offset="100%" stop-color="#3b62b5"/></linearGradient>
<linearGradient id="h1r39"><stop offset="0%" stop-color="#5ab987"/><stop offset="8.3%" stop-color="#3db597"/><stop offset="16.7%" stop-color="#25b1a7"/><stop offset="25%" stop-color="#17adb9"/><stop offset="33.3%" stop-color="#15a7c7"/><stop offset="41.7%" stop-color="#1da0d0"/><stop offset="50%" stop-color="#2797d2"/><stop offset="58.3%" stop-color="#2e8ece"/><stop offset="66.7%" stop-color="#3485ca"/><stop offset="75%" stop-color="#387cc5"/><stop offset="83.3%" stop-color="#3974c0"/><stop offset="91.7%" stop-color="#3a6cbb"/><stop offset="100%" stop-color="#3b65b7"/></linearGradient>
<linearGradient id="h1r40"><stop offset="0%" stop-color="#5fba84"/><stop offset="8.3%" stop-color="#42b694"/><stop offset="16.7%" stop-color="#29b2a3"/><stop offset="25%" stop-color="#18aeb5"/><stop offset="33.3%" stop-color="#13a9c4"/><stop offset="41.7%" stop-color="#1ba2cf"/><stop offset="50%" stop-color="#259ad3"/><stop offset="58.3%" stop-color="#2c91cf"/><stop offset="66.7%" stop-color="#3288cb"/><stop offset="75%" stop-color="#377fc7"/><stop offset="83.3%" stop-color="#3877c2"/><stop offset="91.7%" stop-color="#3a6fbd"/><stop offset="100%" stop-color="#3b68b9"/></linearGradient>
<linearGradient id="h1r41"><stop offset="0%" stop-color="#65ba7f"/><stop offset="8.3%" stop-color="#47b691"/><stop offset="16.7%" stop-color="#2db3a0"/><stop offset="25%" stop-color="#1aafb2"/><stop offset="33.3%" stop-color="#13aac1"/><stop offset="41.7%" stop-color="#19a4cd"/><stop offset="50%" stop-color="#229cd2"/><stop offset="58.3%" stop-color="#2a94d0"/><stop offset="66.7%" stop-color="#308bcc"/><stop offset="75%" stop-color="#3683c9"/><stop offset="83.3%" stop-color="#387ac4"/><stop offset="91.7%" stop-color="#3973bf"/><stop offset="100%" stop-color="#3a6cbb"/></linearGradient>
<linearGradient id="h1r42"><stop offset="0%" stop-color="#6bbb7b"/><stop offset="8.3%" stop-color="#4cb78e"/><stop offset="16.7%" stop-color="#32b49d"/><stop offset="25%" stop-color="#1eb0ae"/><stop offset="33.3%" stop-color="#14abbd"/><stop offset="41.7%" stop-color="#17a6ca"/><stop offset="50%" stop-color="#1f9fd1"/><stop offset="58.3%" stop-color="#2896d2"/><stop offset="66.7%" stop-color="#2e8ece"/><stop offset="75%" stop-color="#3485ca"/><stop offset="83.3%" stop-color="#377ec6"/><stop offset="91.7%" stop-color="#3976c1"/><stop offset="100%" stop-color="#3a6fbd"/></linearGradient>
<linearGradient id="h1r43"><stop offset="0%" stop-color="#71bb77"/><stop offset="8.3%" stop-color="#51b88b"/><stop offset="16.7%" stop-color="#37b49a"/><stop offset="25%" stop-color="#22b1aa"/><stop offset="33.3%" stop-color="#16acba"/><stop offset="41.7%" stop-color="#15a7c7"/><stop offset="50%" stop-color="#1da1d0"/><stop offset="58.3%" stop-color="#2699d3"/><stop offset="66.7%" stop-color="#2c90cf"/><stop offset="75%" stop-color="#3288cb"/><stop offset="83.3%" stop-color="#3781c8"/><stop offset="91.7%" stop-color="#3879c3"/><stop offset="100%" stop-color="#3972bf"/></linearGradient>
<linearGradient id="h1r44"><stop offset="0%" stop-color="#77bb72"/><stop offset="8.3%" stop-color="#56b989"/><stop offset="16.7%" stop-color="#3bb597"/><stop offset="25%" stop-color="#25b2a7"/><stop offset="33.3%" stop-color="#18aeb7"/><stop offset="41.7%" stop-color="#13a9c4"/><stop offset="50%" stop-color="#1aa3cf"/><stop offset="58.3%" stop-color="#239bd2"/><stop offset="66.7%" stop-color="#2a93d0"/><stop offset="75%" stop-color="#308bcd"/><stop offset="83.3%" stop-color="#3584c9"/><stop offset="91.7%" stop-color="#387dc5"/><stop offset="100%" stop-color="#3976c1"/></linearGradient>
<linearGradient id="h1r45"><stop offset="0%" stop-color="#7cbc6e"/><stop offset="8.3%" stop-color="#5bb986"/><stop offset="16.7%" stop-color="#40b595"/><stop offset="25%" stop-color="#29b2a3"/><stop offset="33.3%" stop-color="#19afb4"/><stop offset="41.7%" stop-color="#12aac1"/><stop offset="50%" stop-color="#18a4cc"/><stop offset="58.3%" stop-color="#219dd1"/><stop offset="66.7%" stop-color="#2896d2"/><stop offset="75%" stop-color="#2e8ece"/><stop offset="83.3%" stop-color="#3386cb"/><stop offset="91.7%" stop-color="#3780c7"/><stop offset="100%" stop-color="#3879c3"/></linearGradient>
<linearGradient id="h1r46"><stop offset="0%" stop-color="#82bc69"/><stop offset="8.3%" stop-color="#5fba84"/><stop offset="16.7%" stop-color="#45b692"/><stop offset="25%" stop-color="#2cb3a0"/><stop offset="33.3%" stop-color="#1cafb0"/><stop offset="41.7%" stop-color="#14abbe"/><stop offset="50%" stop-color="#17a6ca"/><stop offset="58.3%" stop-color="#1ea0d0"/><stop offset="66.7%" stop-color="#2798d3"/><stop offset="75%" stop-color="#2c90cf"/><stop offset="83.3%" stop-color="#3189cc"/><stop offset="91.7%" stop-color="#3682c9"/><stop offset="100%" stop-color="#387cc5"/></linearGradient>
<linearGradient id="h1r47"><stop offset="0%" stop-color="#88bc62"/><stop offset="8.3%" stop-color="#65ba80"/><stop offset="16.7%" stop-color="#49b790"/><stop offset="25%" stop-color="#31b49d"/><stop offset="33.3%" stop-color="#1fb0ad"/><stop offset="41.7%" stop-color="#15acbb"/><stop offset="50%" stop-color="#15a7c7"/><stop offset="58.3%" stop-color="#1ca1d0"/><stop offset="66.7%" stop-color="#249ad2"/><stop offset="75%" stop-color="#2a93d0"/><stop offset="83.3%" stop-color="#308ccd"/><stop offset="91.7%" stop-color="#3485ca"/><stop offset="100%" stop-color="#377fc7"/></linearGradient>
<linearGradient id="h1r48"><stop offset="0%" stop-color="#8fbc5b"/><stop offset="8.3%" stop-color="#6abb7c"/><stop offset="16.7%" stop-color="#4eb78d"/><stop offset="25%" stop-color="#35b49b"/><stop offset="33.3%" stop-color="#22b1aa"/><stop offset="41.7%" stop-color="#17adb8"/><stop offset="50%" stop-color="#14a9c5"/><stop offset="58.3%" stop-color="#1aa3cf"/><stop offset="66.7%" stop-color="#229cd2"/><stop offset="75%" stop-color="#2995d1"/><stop offset="83.3%" stop-color="#2e8ece"/><stop offset="91.7%" stop-color="#3387cb"/><stop offset="100%" stop-color="#3781c8"/></linearGradient>
<linearGradient id="h1r49"><stop offset="0%" stop-color="#94bd55"/><stop offset="8.3%" stop-color="#6fbb78"/><stop offset="16.7%" stop-color="#52b88b"/><stop offset="25%" stop-color="#39b599"/><stop offset="33.3%" stop-color="#25b1a7"/><stop offset="41.7%" stop-color="#18aeb6"/><stop offset="50%" stop-color="#12aac3"/><stop offset="58.3%" stop-color="#18a4cc"/><stop offset="66.7%" stop-color="#209ed1"/><stop offset="75%" stop-color="#2797d2"/><stop offset="83.3%" stop-color="#2c90cf"/><stop offset="91.7%" stop-color="#318acc"/><stop offset="100%" stop-color="#3584c9"/></linearGradient>
<linearGradient id="h1r50"><stop offset="0%" stop-color="#9abd4f"/><stop offset="8.3%" stop-color="#74bb74"/><stop offset="16.7%" stop-color="#56b989"/><stop offset="25%" stop-color="#3db596"/><stop offset="33.3%" stop-color="#28b2a4"/><stop offset="41.7%" stop-color="#19afb3"/><stop offset="50%" stop-color="#13abc0"/><stop offset="58.3%" stop-color="#17a6ca"/><stop offset="66.7%" stop-color="#1ea0d0"/><stop offset="75%" stop-color="#2699d3"/><stop offset="83.3%" stop-color="#2b92d0"/><stop offset="91.7%" stop-color="#2f8ccd"/><stop offset="100%" stop-color="#3486ca"/></linearGradient>
<linearGradient id="h1r51"><stop offset="0%" stop-color="#a0bd49"/><stop offset="8.3%" stop-color="#79bc70"/><stop offset="16.7%" stop-color="#5ab987"/><stop offset="25%" stop-color="#41b694"/><stop offset="33.3%" stop-color="#2bb3a1"/><stop offset="41.7%" stop-color="#1bafb1"/><stop offset="50%" stop-color="#14abbe"/><stop offset="58.3%" stop-color="#16a7c8"/><stop offset="66.7%" stop-color="#1ca1d0"/><stop offset="75%" stop-color="#249bd2"/><stop offset="83.3%" stop-color="#2994d1"/><stop offset="91.7%" stop-color="#2e8ece"/><stop offset="100%" stop-color="#3288cb"/></linearGradient>
<linearGradient id="h1r52"><stop offset="0%" stop-color="#a5bd44"/><stop offset="8.3%" stop-color="#7ebc6d"/><stop offset="16.7%" stop-color="#5eba85"/><stop offset="25%" stop-color="#45b692"/><stop offset="33.3%" stop-color="#2eb39f"/><stop offset="41.7%" stop-color="#1eb0ae"/><stop offset="50%" stop-color="#15acbb"/><stop offset="58.3%" stop-color="#15a8c6"/><stop offset="66.7%" stop-color="#1aa3cf"/><stop offset="75%" stop-color="#229cd2"/><stop offset="83.3%" stop-color="#2896d2"/><stop offset="91.7%" stop-color="#2d90cf"/><stop offset="100%" stop-color="#318acc"/></linearGradient>
<linearGradient id="h1r53"><stop offset="0%" stop-color="#aabc42"/><stop offset="8.3%" stop-color="#83bc68"/><stop offset="16.7%" stop-color="#62ba82"/><stop offset="25%" stop-color="#48b790"/><stop offset="33.3%" stop-color="#32b49d"/><stop offset="41.7%" stop-color="#21b0ab"/><stop offset="50%" stop-color="#17adb9"/><stop offset="58.3%" stop-color="#13a9c4"/><stop offset="66.7%" stop-color="#19a4cd"/><stop offset="75%" stop-color="#209ed1"/><stop offset="83.3%" stop-color="#2798d3"/><stop offset="91.7%" stop-color="#2b92d0"/><stop offset="100%" stop-color="#2f8ccd"/></linearGradient>
<linearGradient id="h1r54"><stop offset="0%" stop-color="#aebc40"/><stop offset="8.3%" stop-color="#88bc62"/><stop offset="16.7%" stop-color="#66ba7e"/><stop offset="25%" stop-color="#4cb78e"/><stop offset="33.3%" stop-color="#35b49b"/><stop offset="41.7%" stop-color="#23b1a9"/><stop offset="50%" stop-color="#18aeb7"/><stop offset="58.3%" stop-color="#12aac2"/><stop offset="66.7%" stop-color="#18a5cb"/><stop offset="75%" stop-color="#1e9fd0"/><stop offset="83.3%" stop-color="#259ad3"/><stop offset="91.7%" stop-color="#2a93d0"/><stop offset="100%" stop-color="#2e8ece"/></linearGradient>
<linearGradient id="h1r55"><stop offset="0%" stop-color="#b3bc3e"/><stop offset="8.3%" stop-color="#8dbc5d"/><stop offset="16.7%" stop-color="#6bbb7b"/><stop offset="25%" stop-color="#50b88c"/><stop offset="33.3%" stop-color="#39b599"/><stop offset="41.7%" stop-color="#26b2a6"/><stop offset="50%" stop-color="#19aeb4"/><stop offset="58.3%" stop-color="#13abc0"/><stop offset="66.7%" stop-color="#17a6c9"/><stop offset="75%" stop-color="#1ca1d0"/><stop offset="83.3%" stop-color="#239bd2"/><stop offset="91.7%" stop-color="#2995d1"/><stop offset="100%" stop-color="#2d90cf"/></linearGradient>
<linearGradient id="h1r56"><stop offset="0%" stop-color="#b7bb3c"/><stop offset="8.3%" stop-color="#92bd57"/><stop offset="16.7%" stop-color="#6fbb78"/><stop offset="25%" stop-color="#53b88a"/><stop offset="33.3%" stop-color="#3cb597"/><stop offset="41.7%" stop-color="#28b2a4"/><stop offset="50%" stop-color="#1aafb2"/><stop offset="58.3%" stop-color="#14abbe"/><stop offset="66.7%" stop-color="#16a7c8"/><stop offset="75%" stop-color="#1ba2cf"/><stop offset="83.3%" stop-color="#229dd2"/><stop offset="91.7%" stop-color="#2797d2"/><stop offset="100%" stop-color="#2b92d0"/></linearGradient>
<linearGradient id="h1r57"><stop offset="0%" stop-color="#bbbb3b"/><stop offset="8.3%" stop-color="#97bd52"/><stop offset="16.7%" stop-color="#73bb75"/><stop offset="25%" stop-color="#56b989"/><stop offset="33.3%" stop-color="#3fb595"/><stop offset="41.7%" stop-color="#2ab3a2"/><stop offset="50%" stop-color="#1cafb0"/><stop offset="58.3%" stop-color="#15acbc"/><stop offset="66.7%" stop-color="#14a8c6"/><stop offset="75%" stop-color="#19a4ce"/><stop offset="83.3%" stop-color="#209ed1"/><stop offset="91.7%" stop-color="#2699d3"/><stop offset="100%" stop-color="#2a93d0"/></linearGradient>
<linearGradient id="h1r58"><stop offset="0%" stop-color="#bfba39"/><stop offset="8.3%" stop-color="#9cbd4d"/><stop offset="16.7%" stop-color="#77bc72"/><stop offset="25%" stop-color="#5ab987"/><stop offset="33.3%" stop-color="#42b694"/><stop offset="41.7%" stop-color="#2db39f"/><stop offset="50%" stop-color="#1eb0ae"/><stop offset="58.3%" stop-color="#16adba"/><stop offset="66.7%" stop-color="#13a9c4"/><stop offset="75%" stop-color="#18a4cc"/><stop offset="83.3%" stop-color="#1e9fd0"/><stop offset="91.7%" stop-color="#249ad2"/><stop offset="100%" stop-color="#2995d1"/></linearGradient>
<linearGradient id="h1r59"><stop offset="0%" stop-color="#c4ba37"/><stop offset="8.3%" stop-color="#a1bd48"/><stop offset="16.7%" stop-color="#7bbc6f"/><stop offset="25%" stop-color="#5dba85"/><stop offset="33.3%" stop-color="#45b692"/><stop offset="41.7%" stop-color="#30b39e"/><stop offset="50%" stop-color="#21b0ab"/><stop offset="58.3%" stop-color="#17adb8"/><stop offset="66.7%" stop-color="#12aac2"/><stop offset="75%" stop-color="#17a5cb"/><stop offset="83.3%" stop-color="#1da1d0"/><stop offset="91.7%" stop-color="#239cd2"/><stop offset="100%" stop-color="#2797d2"/></linearGradient>
<linearGradient id="h1r60"><stop offset="0%" stop-color="#c7ba37"/><stop offset="8.3%" stop-color="#a5bd44"/><stop offset="16.7%" stop-color="#7fbc6b"/><stop offset="25%" stop-color="#61ba83"/><stop offset="33.3%" stop-color="#49b790"/><stop offset="41.7%" stop-color="#33b49c"/><stop offset="50%" stop-color="#23b1a9"/><stop offset="58.3%" stop-color="#18aeb6"/><stop offset="66.7%" stop-color="#13aac1"/><stop offset="75%" stop-color="#16a6c9"/><stop offset="83.3%" stop-color="#1ba2cf"/><stop offset="91.7%" stop-color="#219dd1"/><stop offset="100%" stop-color="#2699d3"/></linearGradient>
<linearGradient id="h1r61"><stop offset="0%" stop-color="#cbb938"/><stop offset="8.3%" stop-color="#a9bd42"/><stop offset="16.7%" stop-color="#84bc66"/><stop offset="25%" stop-color="#65ba80"/><stop offset="33.3%" stop-color="#4cb78e"/><stop offset="41.7%" stop-color="#36b49a"/><stop offset="50%" stop-color="#25b2a7"/><stop offset="58.3%" stop-color="#19aeb4"/><stop offset="66.7%" stop-color="#14abbe"/><stop offset="75%" stop-color="#15a7c7"/><stop offset="83.3%" stop-color="#1aa3ce"/><stop offset="91.7%" stop-color="#1f9ed1"/><stop offset="100%" stop-color="#259ad3"/></linearGradient>
<linearGradient id="h1r62"><stop offset="0%" stop-color="#ceb938"/><stop offset="8.3%" stop-color="#adbc40"/><stop offset="16.7%" stop-color="#89bc61"/><stop offset="25%" stop-color="#69bb7d"/><stop offset="33.3%" stop-color="#4fb88c"/><stop offset="41.7%" stop-color="#3ab598"/><stop offset="50%" stop-color="#28b2a4"/><stop offset="58.3%" stop-color="#1aafb2"/><stop offset="66.7%" stop-color="#15acbc"/><stop offset="75%" stop-color="#14a8c5"/><stop offset="83.3%" stop-color="#19a4cd"/><stop offset="91.7%" stop-color="#1ea0d0"/><stop offset="100%" stop-color="#239bd2"/></linearGradient>
<linearGradient id="h1r63"><stop offset="0%" stop-color="#d2b839"/><stop offset="8.3%" stop-color="#b2bc3e"/><stop offset="16.7%" stop-color="#8ebc5c"/><stop offset="25%" stop-color="#6dbb7a"/><stop offset="33.3%" stop-color="#53b88b"/><stop offset="41.7%" stop-color="#3db597"/><stop offset="50%" stop-color="#2ab3a2"/><stop offset="58.3%" stop-color="#1db0af"/><stop offset="66.7%" stop-color="#16acba"/><stop offset="75%" stop-color="#13a9c4"/><stop offset="83.3%" stop-color="#17a5cb"/><stop offset="91.7%" stop-color="#1ca1d0"/><stop offset="100%" stop-color="#219dd1"/></linearGradient>
<linearGradient id="h1r64"><stop offset="0%" stop-color="#d5b839"/><stop offset="8.3%" stop-color="#b6bb3d"/><stop offset="16.7%" stop-color="#93bd57"/><stop offset="25%" stop-color="#71bb77"/><stop offset="33.3%" stop-color="#56b989"/><stop offset="41.7%" stop-color="#40b595"/><stop offset="50%" stop-color="#2cb3a0"/><stop offset="58.3%" stop-color="#1fb0ad"/><stop offset="66.7%" stop-color="#17adb8"/><stop offset="75%" stop-color="#12aac2"/><stop offset="83.3%" stop-color="#16a6c9"/><stop offset="91.7%" stop-color="#1ba3cf"/><stop offset="100%" stop-color="#209ed1"/></linearGradient>
<linearGradient id="h1r65"><stop offset="0%" stop-color="#d9b839"/><stop offset="8.3%" stop-color="#babb3b"/><stop offset="16.7%" stop-color="#97bd52"/><stop offset="25%" stop-color="#75bb73"/><stop offset="33.3%" stop-color="#59b987"/><stop offset="41.7%" stop-color="#43b693"/><stop offset="50%" stop-color="#30b39e"/><stop offset="58.3%" stop-color="#21b1ab"/><stop offset="66.7%" stop-color="#18aeb6"/><stop offset="75%" stop-color="#13abc0"/><stop offset="83.3%" stop-color="#15a7c7"/><stop offset="91.7%" stop-color="#19a4ce"/><stop offset="100%" stop-color="#1e9fd0"/></linearGradient>
<linearGradient id="h1r66"><stop offset="0%" stop-color="#dcb73a"/><stop offset="8.3%" stop-color="#bebb39"/><stop offset="16.7%" stop-color="#9cbd4c"/><stop offset="25%" stop-color="#79bc70"/><stop offset="33.3%" stop-color="#5dba85"/><stop offset="41.7%" stop-color="#47b691"/><stop offset="50%" stop-color="#33b49c"/><stop offset="58.3%" stop-color="#24b1a8"/><stop offset="66.7%" stop-color="#19aeb4"/><stop offset="75%" stop-color="#14abbe"/><stop offset="83.3%" stop-color="#14a8c6"/><stop offset="91.7%" stop-color="#18a4cc"/><stop offset="100%" stop-color="#1da1d0"/></linearGradient>
<linearGradient id="h1r67"><stop offset="0%" stop-color="#e0b73a"/><stop offset="8.3%" stop-color="#c2ba38"/><stop offset="16.7%" stop-color="#a1bd47"/><stop offset="25%" stop-color="#7ebc6d"/><stop offset="33.3%" stop-color="#61ba83"/><stop offset="41.7%" stop-color="#4ab78f"/><stop offset="50%" stop-color="#36b49a"/><stop offset="58.3%" stop-color="#26b2a6"/><stop offset="66.7%" stop-color="#1aafb2"/><stop offset="75%" stop-color="#15acbc"/><stop offset="83.3%" stop-color="#13a9c4"/><stop offset="91.7%" stop-color="#17a5cb"/><stop offset="100%" stop-color="#1ba2cf"/></linearGradient>
<linearGradient id="h1r68"><stop offset="0%" stop-color="#e2b63b"/><stop offset="8.3%" stop-color="#c6ba37"/><stop offset="16.7%" stop-color="#a6bd43"/><stop offset="25%" stop-color="#82bc68"/><stop offset="33.3%" stop-color="#65ba80"/><stop offset="41.7%" stop-color="#4eb78d"/><stop offset="50%" stop-color="#3ab598"/><stop offset="58.3%" stop-color="#29b2a3"/><stop offset="66.7%" stop-color="#1db0af"/><stop offset="75%" stop-color="#16adba"/><stop offset="83.3%" stop-color="#12aac2"/><stop offset="91.7%" stop-color="#16a6c9"/><stop offset="100%" stop-color="#1aa3cf"/></linearGradient>
<linearGradient id="h1r69"><stop offset="0%" stop-color="#e4b63b"/><stop offset="8.3%" stop-color="#cab938"/><stop offset="16.7%" stop-color="#aabc42"/><stop offset="25%" stop-color="#87bc63"/><stop offset="33.3%" stop-color="#69bb7c"/><stop offset="41.7%" stop-color="#51b88b"/><stop offset="50%" stop-color="#3db596"/><stop offset="58.3%" stop-color="#2bb3a1"/><stop offset="66.7%" stop-color="#1fb0ad"/><stop offset="75%" stop-color="#17adb8"/><stop offset="83.3%" stop-color="#13aac1"/><stop offset="91.7%" stop-color="#15a7c7"/><stop offset="100%" stop-color="#19a4cd"/></linearGradient>
<linearGradient id="h1r70"><stop offset="0%" stop-color="#e6b53c"/><stop offset="8.3%" stop-color="#cdb938"/><stop offset="16.7%" stop-color="#aebc40"/><stop offset="25%" stop-color="#8cbc5e"/><stop offset="33.3%" stop-color="#6dbb79"/><stop offset="41.7%" stop-color="#55b88a"/><stop offset="50%" stop-color="#40b595"/><stop offset="58.3%" stop-color="#2eb39f"/><stop offset="66.7%" stop-color="#21b1ab"/><stop offset="75%" stop-color="#18aeb5"/><stop offset="83.3%" stop-color="#14abbf"/><stop offset="91.7%" stop-color="#14a8c6"/><stop offset="100%" stop-color="#18a5cc"/></linearGradient>
<linearGradient id="h1r71"><stop offset="0%" stop-color="#e8b53d"/><stop offset="8.3%" stop-color="#d0b938"/><stop offset="16.7%" stop-color="#b2bc3e"/><stop offset="25%" stop-color="#91bc59"/><stop offset="33.3%" stop-color="#72bb76"/><stop offset="41.7%" stop-color="#58b988"/><stop offset="50%" stop-color="#44b693"/><stop offset="58.3%" stop-color="#31b49d"/><stop offset="66.7%" stop-color="#24b1a8"/><stop offset="75%" stop-color="#19afb3"/><stop offset="83.3%" stop-color="#15acbd"/><stop offset="91.7%" stop-color="#13a9c4"/><stop offset="100%" stop-color="#17a6ca"/></linearGradient>
<linearGradient id="h1r72"><stop offset="0%" stop-color="#ebb43d"/><stop offset="8.3%" stop-color="#d4b839"/><stop offset="16.7%" stop-color="#b6bb3d"/><stop offset="25%" stop-color="#96bd53"/><stop offset="33.3%" stop-color="#76bb73"/><stop offset="41.7%" stop-color="#5cb986"/><stop offset="50%" stop-color="#47b691"/><stop offset="58.3%" stop-color="#35b49b"/><stop offset="66.7%" stop-color="#26b2a6"/><stop offset="75%" stop-color="#1bafb1"/><stop offset="83.3%" stop-color="#16acbb"/><stop offset="91.7%" stop-color="#12aac3"/><stop offset="100%" stop-color="#16a6c9"/></linearGradient>
<linearGradient id="h1r73"><stop offset="0%" stop-color="#edb43e"/><stop offset="8.3%" stop-color="#d7b839"/><stop offset="16.7%" stop-color="#babb3b"/><stop offset="25%" stop-color="#9bbd4e"/><stop offset="33.3%" stop-color="#7abc70"/><stop offset="41.7%" stop-color="#5fba84"/><stop offset="50%" stop-color="#4bb78f"/><stop offset="58.3%" stop-color="#38b499"/><stop offset="66.7%" stop-color="#28b2a4"/><stop offset="75%" stop-color="#1db0af"/><stop offset="83.3%" stop-color="#17adb9"/><stop offset="91.7%" stop-color="#13aac1"/><stop offset="100%" stop-color="#15a7c7"/></linearGradient>
<linearGradient id="h1r74"><stop offset="0%" stop-color="#efb33e"/><stop offset="8.3%" stop-color="#dbb73a"/><stop offset="16.7%" stop-color="#bfbb39"/><stop offset="25%" stop-color="#a0bd49"/><stop offset="33.3%" stop-color="#7ebc6c"/><stop offset="41.7%" stop-color="#63ba81"/><stop offset="50%" stop-color="#4eb78d"/><stop offset="58.3%" stop-color="#3bb598"/><stop offset="66.7%" stop-color="#2bb3a1"/><stop offset="75%" stop-color="#1fb0ad"/><stop offset="83.3%" stop-color="#18aeb7"/><stop offset="91.7%" stop-color="#13abbf"/><stop offset="100%" stop-color="#14a8c6"/></linearGradient>
<linearGradient id="h1r75"><stop offset="0%" stop-color="#f1b33f"/><stop offset="8.3%" stop-color="#deb73a"/><stop offset="16.7%" stop-color="#c3ba38"/><stop offset="25%" stop-color="#a4bd44"/><stop offset="33.3%" stop-color="#83bc68"/><stop offset="41.7%" stop-color="#68bb7e"/><stop offset="50%" stop-color="#51b88b"/><stop offset="58.3%" stop-color="#3eb596"/><stop offset="66.7%" stop-color="#2db39f"/><stop offset="75%" stop-color="#21b1ab"/><stop offset="83.3%" stop-color="#19aeb5"/><stop offset="91.7%" stop-color="#14abbd"/><stop offset="100%" stop-color="#13a9c4"/></linearGradient>
<linearGradient id="h1r76"><stop offset="0%" stop-color="#f2b33f"/><stop offset="8.3%" stop-color="#e1b73a"/><stop offset="16.7%" stop-color="#c6ba37"/><stop offset="25%" stop-color="#a9bd42"/><stop offset="33.3%" stop-color="#88bc62"/><stop offset="41.7%" stop-color="#6cbb7a"/><stop offset="50%" stop-color="#55b88a"/><stop offset="58.3%" stop-color="#41b694"/><stop offset="66.7%" stop-color="#30b49e"/><stop offset="75%" stop-color="#24b1a8"/><stop offset="83.3%" stop-color="#1aafb3"/><stop offset="91.7%" stop-color="#15acbb"/><stop offset="100%" stop-color="#13a9c3"/></linearGradient>
<linearGradient id="h1r77"><stop offset="0%" stop-color="#f2b43f"/><stop offset="8.3%" stop-color="#e3b63b"/><stop offset="16.7%" stop-color="#cab938"/><stop offset="25%" stop-color="#adbc40"/><stop offset="33.3%" stop-color="#8dbc5d"/><stop offset="41.7%" stop-color="#70bb77"/><stop offset="50%" stop-color="#58b988"/><stop offset="58.3%" stop-color="#45b692"/><stop offset="66.7%" stop-color="#33b49c"/><stop offset="75%" stop-color="#26b2a6"/><stop offset="83.3%" stop-color="#1bafb1"/><stop offset="91.7%" stop-color="#16adba"/><stop offset="100%" stop-color="#12aac1"/></linearGradient>
<linearGradient id="h1r78"><stop offset="0%" stop-color="#f3b43f"/><stop offset="8.3%" stop-color="#e5b63c"/><stop offset="16.7%" stop-color="#ceb938"/><stop offset="25%" stop-color="#b1bc3f"/><stop offset="33.3%" stop-color="#92bd58"/><stop offset="41.7%" stop-color="#74bb74"/><stop offset="50%" stop-color="#5bb986"/><stop offset="58.3%" stop-color="#48b690"/><stop offset="66.7%" stop-color="#36b49a"/><stop offset="75%" stop-color="#28b2a4"/><stop offset="83.3%" stop-color="#1db0af"/><stop offset="91.7%" stop-color="#17adb8"/><stop offset="100%" stop-color="#13abc0"/></linearGradient>
<linearGradient id="h1r79"><stop offset="0%" stop-color="#f4b540"/><stop offset="8.3%" stop-color="#e8b53c"/><stop offset="16.7%" stop-color="#d1b938"/><stop offset="25%" stop-color="#b5bb3d"/><stop offset="33.3%" stop-color="#96bd53"/><stop offset="41.7%" stop-color="#78bc71"/><stop offset="50%" stop-color="#5fba84"/><stop offset="58.3%" stop-color="#4bb78f"/><stop offset="66.7%" stop-color="#39b599"/><stop offset="75%" stop-color="#2ab3a2"/><stop offset="83.3%" stop-color="#1fb0ad"/><stop offset="91.7%" stop-color="#18aeb6"/><stop offset="100%" stop-color="#14abbe"/></linearGradient>
<linearGradient id="h1r80"><stop offset="0%" stop-color="#f4b540"/><stop offset="8.3%" stop-color="#eab43d"/><stop offset="16.7%" stop-color="#d5b839"/><stop offset="25%" stop-color="#b9bb3b"/><stop offset="33.3%" stop-color="#9bbd4d"/><stop offset="41.7%" stop-color="#7cbc6e"/><stop offset="50%" stop-color="#62ba81"/><stop offset="58.3%" stop-color="#4eb78d"/><stop offset="66.7%" stop-color="#3cb597"/><stop offset="75%" stop-color="#2cb3a0"/><stop offset="83.3%" stop-color="#21b1ab"/><stop offset="91.7%" stop-color="#19aeb4"/><stop offset="100%" stop-color="#15acbc"/></linearGradient>
<linearGradient id="h1r81"><stop offset="0%" stop-color="#f5b640"/><stop offset="8.3%" stop-color="#edb43e"/><stop offset="16.7%" stop-color="#d9b839"/><stop offset="25%" stop-color="#bebb3a"/><stop offset="33.3%" stop-color="#a0bd48"/><stop offset="41.7%" stop-color="#80bc6b"/><stop offset="50%" stop-color="#66ba7e"/><stop offset="58.3%" stop-color="#51b88b"/><stop offset="66.7%" stop-color="#3fb595"/><stop offset="75%" stop-color="#2fb39e"/><stop offset="83.3%" stop-color="#23b1a9"/><stop offset="91.7%" stop-color="#1aafb2"/><stop offset="100%" stop-color="#16acba"/></linearGradient>
<linearGradient id="h1r82"><stop offset="0%" stop-color="#f6b640"/><stop offset="8.3%" stop-color="#f0b33f"/><stop offset="16.7%" stop-color="#ddb73a"/><stop offset="25%" stop-color="#c2ba38"/><stop offset="33.3%" stop-color="#a5bd44"/><stop offset="41.7%" stop-color="#85bc66"/><stop offset="50%" stop-color="#6abb7c"/><stop offset="58.3%" stop-color="#54b88a"/><stop offset="66.7%" stop-color="#42b694"/><stop offset="75%" stop-color="#32b49d"/><stop offset="83.3%" stop-color="#25b2a7"/><stop offset="91.7%" stop-color="#1cafb0"/><stop offset="100%" stop-color="#17adb8"/></linearGradient>
<linearGradient id="h1r83"><stop offset="0%" stop-color="#f6b83f"/><stop offset="8.3%" stop-color="#f1b33f"/><stop offset="16.7%" stop-color="#e0b73a"/><stop offset="25%" stop-color="#c6ba37"/><stop offset="33.3%" stop-color="#a9bd42"/><stop offset="41.7%" stop-color="#8abc61"/><stop offset="50%" stop-color="#6ebb79"/><stop offset="58.3%" stop-color="#57b988"/><stop offset="66.7%" stop-color="#45b692"/><stop offset="75%" stop-color="#35b49b"/><stop offset="83.3%" stop-color="#27b2a5"/><stop offset="91.7%" stop-color="#1eb0ae"/><stop offset="100%" stop-color="#18aeb7"/></linearGradient>
<linearGradient id="h1r84"><stop offset="0%" stop-color="#f6bb3e"/><stop offset="8.3%" stop-color="#f2b43f"/><stop offset="16.7%" stop-color="#e3b63b"/><stop offset="25%" stop-color="#cab938"/><stop offset="33.3%" stop-color="#adbc40"/><stop offset="41.7%" stop-color="#8ebc5c"/><stop offset="50%" stop-color="#72bb76"/><stop offset="58.3%" stop-color="#5bb986"/><stop offset="66.7%" stop-color="#48b690"/><stop offset="75%" stop-color="#38b49a"/><stop offset="83.3%" stop-color="#2ab2a2"/><stop offset="91.7%" stop-color="#20b0ac"/><stop offset="100%" stop-color="#19aeb5"/></linearGradient>
<linearGradient id="h1r85"><stop offset="0%" stop-color="#f5bd3c"/><stop offset="8.3%" stop-color="#f3b43f"/><stop offset="16.7%" stop-color="#e5b63c"/><stop offset="25%" stop-color="#ceb938"/><stop offset="33.3%" stop-color="#b1bc3f"/><stop offset="41.7%" stop-color="#93bd57"/><stop offset="50%" stop-color="#76bb73"/><stop offset="58.3%" stop-color="#5eba85"/><stop offset="66.7%" stop-color="#4bb78f"/><stop offset="75%" stop-color="#3ab598"/><stop offset="83.3%" stop-color="#2cb3a0"/><stop offset="91.7%" stop-color="#22b1aa"/><stop offset="100%" stop-color="#1aafb3"/></linearGradient>
<linearGradient id="h1r86"><stop offset="0%" stop-color="#f5c03b"/><stop offset="8.3%" stop-color="#f4b540"/><stop offset="16.7%" stop-color="#e8b53d"/><stop offset="25%" stop-color="#d1b938"/><stop offset="33.3%" stop-color="#b6bb3d"/><stop offset="41.7%" stop-color="#97bd52"/><stop offset="50%" stop-color="#7abc70"/><stop offset="58.3%" stop-color="#61ba83"/><stop offset="66.7%" stop-color="#4eb78d"/><stop offset="75%" stop-color="#3db596"/><stop offset="83.3%" stop-color="#2eb39f"/><stop offset="91.7%" stop-color="#24b1a8"/><stop offset="100%" stop-color="#1bafb1"/></linearGradient>
<linearGradient id="h1r87"><stop offset="0%" stop-color="#f5c23a"/><stop offset="8.3%" stop-color="#f5b540"/><stop offset="16.7%" stop-color="#ebb43d"/><stop offset="25%" stop-color="#d5b839"/><stop offset="33.3%" stop-color="#babb3b"/><stop offset="41.7%" stop-color="#9cbd4d"/><stop offset="50%" stop-color="#7dbc6d"/><stop offset="58.3%" stop-color="#64ba80"/><stop offset="66.7%" stop-color="#51b88c"/><stop offset="75%" stop-color="#40b595"/><stop offset="83.3%" stop-color="#31b49d"/><stop offset="91.7%" stop-color="#26b2a6"/><stop offset="100%" stop-color="#1db0af"/></linearGradient>
<linearGradient id="h1r88"><stop offset="0%" stop-color="#f5c539"/><stop offset="8.3%" stop-color="#f5b640"/><stop offset="16.7%" stop-color="#eeb43e"/><stop offset="25%" stop-color="#d9b839"/><stop offset="33.3%" stop-color="#bebb39"/><stop offset="41.7%" stop-color="#a1bd48"/><stop offset="50%" stop-color="#81bc69"/><stop offset="58.3%" stop-color="#68bb7d"/><stop offset="66.7%" stop-color="#54b88a"/><stop offset="75%" stop-color="#42b693"/><stop offset="83.3%" stop-color="#33b49c"/><stop offset="91.7%" stop-color="#28b2a4"/><stop offset="100%" stop-color="#1fb0ad"/></linearGradient>
<linearGradient id="h1r89"><stop offset="0%" stop-color="#f4c937"/><stop offset="8.3%" stop-color="#f6b740"/><stop offset="16.7%" stop-color="#f0b33f"/><stop offset="25%" stop-color="#ddb73a"/><stop offset="33.3%" stop-color="#c2ba38"/><stop offset="41.7%" stop-color="#a5bd44"/><stop offset="50%" stop-color="#86bc65"/><stop offset="58.3%" stop-color="#6cbb7b"/><stop offset="66.7%" stop-color="#56b989"/><stop offset="75%" stop-color="#45b692"/><stop offset="83.3%" stop-color="#36b49a"/><stop offset="91.7%" stop-color="#2ab2a2"/><stop offset="100%" stop-color="#21b1ab"/></linearGradient>
<linearGradient id="h1r90"><stop offset="0%" stop-color="#f3cc36"/><stop offset="8.3%" stop-color="#f6b93e"/><stop offset="16.7%" stop-color="#f2b33f"/><stop offset="25%" stop-color="#e0b73a"/><stop offset="33.3%" stop-color="#c6ba37"/><stop offset="41.7%" stop-color="#a9bd42"/><stop offset="50%" stop-color="#8abc60"/><stop offset="58.3%" stop-color="#6fbb78"/><stop offset="66.7%" stop-color="#59b987"/><stop offset="75%" stop-color="#48b690"/><stop offset="83.3%" stop-color="#39b599"/><stop offset="91.7%" stop-color="#2cb3a0"/><stop offset="100%" stop-color="#23b1a9"/></linearGradient>
<linearGradient id="h1r91"><stop offset="0%" stop-color="#f2d034"/><stop offset="8.3%" stop-color="#f6bc3d"/><stop offset="16.7%" stop-color="#f2b43f"/><stop offset="25%" stop-color="#e3b63b"/><stop offset="33.3%" stop-color="#cab938"/><stop offset="41.7%" stop-color="#adbc40"/><stop offset="50%" stop-color="#8ebc5c"/><stop offset="58.3%" stop-color="#72bb75"/><stop offset="66.7%" stop-color="#5cba86"/><stop offset="75%" stop-color="#4bb78f"/><stop offset="83.3%" stop-color="#3bb597"/><stop offset="91.7%" stop-color="#2eb39f"/><stop offset="100%" stop-color="#25b2a7"/></linearGradient>
<linearGradient id="h1r92"><stop offset="0%" stop-color="#f2d432"/><stop offset="8.3%" stop-color="#f5be3c"/><stop offset="16.7%" stop-color="#f3b43f"/><stop offset="25%" stop-color="#e5b63c"/><stop offset="33.3%" stop-color="#cdb938"/><stop offset="41.7%" stop-color="#b1bc3f"/><stop offset="50%" stop-color="#92bd57"/><stop offset="58.3%" stop-color="#76bb73"/><stop offset="66.7%" stop-color="#5eba84"/><stop offset="75%" stop-color="#4db78e"/><stop offset="83.3%" stop-color="#3eb596"/><stop offset="91.7%" stop-color="#31b49d"/><stop offset="100%" stop-color="#27b2a5"/></linearGradient>
<linearGradient id="h1r93"><stop offset="0%" stop-color="#f1d831"/><stop offset="8.3%" stop-color="#f5c13b"/><stop offset="16.7%" stop-color="#f4b540"/><stop offset="25%" stop-color="#e8b53d"/><stop offset="33.3%" stop-color="#d1b938"/><stop offset="41.7%" stop-color="#b5bb3d"/><stop offset="50%" stop-color="#96bd53"/><stop offset="58.3%" stop-color="#79bc70"/><stop offset="66.7%" stop-color="#62ba82"/><stop offset="75%" stop-color="#50b88c"/><stop offset="83.3%" stop-color="#41b594"/><stop offset="91.7%" stop-color="#34b49c"/><stop offset="100%" stop-color="#29b2a3"/></linearGradient>
<linearGradient id="h1r94"><stop offset="0%" stop-color="#f1db32"/><stop offset="8.3%" stop-color="#f5c439"/><stop offset="16.7%" stop-color="#f5b540"/><stop offset="25%" stop-color="#ebb43d"/><stop offset="33.3%" stop-color="#d4b839"/><stop offset="41.7%" stop-color="#b8bb3c"/><stop offset="50%" stop-color="#9bbd4e"/><stop offset="58.3%" stop-color="#7dbc6e"/><stop offset="66.7%" stop-color="#65ba80"/><stop offset="75%" stop-color="#52b88b"/><stop offset="83.3%" stop-color="#43b693"/><stop offset="91.7%" stop-color="#36b49a"/><stop offset="100%" stop-color="#2cb3a0"/></linearGradient>
<linearGradient id="h1r95"><stop offset="0%" stop-color="#f0df32"/><stop offset="8.3%" stop-color="#f4c738"/><stop offset="16.7%" stop-color="#f6b640"/><stop offset="25%" stop-color="#edb43e"/><stop offset="33.3%" stop-color="#d8b839"/><stop offset="41.7%" stop-color="#bcbb3a"/><stop offset="50%" stop-color="#9fbd4a"/><stop offset="58.3%" stop-color="#80bc6b"/><stop offset="66.7%" stop-color="#68bb7d"/><stop offset="75%" stop-color="#55b889"/><stop offset="83.3%" stop-color="#46b692"/><stop offset="91.7%" stop-color="#39b599"/><stop offset="100%" stop-color="#2eb39f"/></linearGradient>
<linearGradient id="h1r96"><stop offset="0%" stop-color="#f0e333"/><stop offset="8.3%" stop-color="#f4cb36"/><stop offset="16.7%" stop-color="#f6b83f"/><stop offset="25%" stop-color="#f0b33f"/><stop offset="33.3%" stop-color="#dcb73a"/><stop offset="41.7%" stop-color="#c0ba39"/><stop offset="50%" stop-color="#a3bd45"/><stop offset="58.3%" stop-color="#84bc67"/><stop offset="66.7%" stop-color="#6bbb7b"/><stop offset="75%" stop-color="#58b988"/><stop offset="83.3%" stop-color="#48b790"/><stop offset="91.7%" stop-color="#3cb597"/><stop offset="100%" stop-color="#31b49d"/></linearGradient>
<linearGradient id="h1r97"><stop offset="0%" stop-color="#efe734"/><stop offset="8.3%" stop-color="#f3ce35"/><stop offset="16.7%" stop-color="#f6ba3e"/><stop offset="25%" stop-color="#f1b33f"/><stop offset="33.3%" stop-color="#dfb73a"/><stop offset="41.7%" stop-color="#c4ba37"/><stop offset="50%" stop-color="#a6bd43"/><stop offset="58.3%" stop-color="#88bc63"/><stop offset="66.7%" stop-color="#6ebb78"/><stop offset="75%" stop-color="#5ab987"/><stop offset="83.3%" stop-color="#4bb78f"/><stop offset="91.7%" stop-color="#3eb596"/><stop offset="100%" stop-color="#34b49c"/></linearGradient>
<linearGradient id="cb1" x1="0" y1="1" x2="0" y2="0"><stop offset="0%" stop-color="#362b88"/><stop offset="3.1%" stop-color="#38328e"/><stop offset="6.2%" stop-color="#3a3894"/><stop offset="9.4%" stop-color="#3b3f9b"/><stop offset="12.5%" stop-color="#3c47a0"/><stop offset="15.6%" stop-color="#3d4ea6"/><stop offset="18.8%" stop-color="#3c57ad"/><stop offset="21.9%" stop-color="#3c60b3"/><stop offset="25%" stop-color="#3a69ba"/><stop offset="28.1%" stop-color="#3974c0"/><stop offset="31.2%" stop-color="#377ec6"/><stop offset="34.4%" stop-color="#3288cb"/><stop offset="37.5%" stop-color="#2b92d0"/><stop offset="40.6%" stop-color="#249bd2"/><stop offset="43.8%" stop-color="#1ba2cf"/><stop offset="46.9%" stop-color="#14a8c6"/><stop offset="50%" stop-color="#16acba"/><stop offset="53.1%" stop-color="#1fb0ad"/><stop offset="56.2%" stop-color="#2eb39f"/><stop offset="59.4%" stop-color="#41b694"/><stop offset="62.5%" stop-color="#55b889"/><stop offset="65.6%" stop-color="#6cbb7a"/><stop offset="68.8%" stop-color="#86bc65"/><stop offset="71.9%" stop-color="#a3bd45"/><stop offset="75%" stop-color="#bcbb3a"/><stop offset="78.1%" stop-color="#d2b839"/><stop offset="81.2%" stop-color="#e5b63c"/><stop offset="84.4%" stop-color="#f1b33f"/><stop offset="87.5%" stop-color="#f5b640"/><stop offset="90.6%" stop-color="#f5bf3b"/><stop offset="93.8%" stop-color="#f3cc36"/><stop offset="96.9%" stop-color="#f1db32"/><stop offset="100%" stop-color="#efe934"/></linearGradient>
<clipPath id="hc1"><rect x="270.9" y="360.3" width="133.0" height="292.6"/></clipPath>
</defs>
<g clip-path="url(#hc1)"><rect x="270" y="650" width="135" height="3.5" fill="url(#h1r0)"/><rect x="270" y="647" width="135" height="3.5" fill="url(#h1r1)"/><rect x="270" y="644" width="135" height="3.5" fill="url(#h1r2)"/><rect x="270" y="641" width="135" height="3.5" fill="url(#h1r3)"/><rect x="270" y="638" width="135" height="3.5" fill="url(#h1r4)"/><rect x="270" y="635" width="135" height="3.5" fill="url(#h1r5)"/><rect x="270" y="632" width="135" height="3.5" fill="url(#h1r6)"/><rect x="270" y="629" width="135" height="3.5" fill="url(#h1r7)"/><rect x="270" y="626" width="135" height="3.5" fill="url(#h1r8)"/><rect x="270" y="623" width="135" height="3.5" fill="url(#h1r9)"/><rect x="270" y="620" width="135" height="3.5" fill="url(#h1r10)"/><rect x="270" y="617" width="135" height="3.5" fill="url(#h1r11)"/><rect x="270" y="614" width="135" height="3.5" fill="url(#h1r12)"/><rect x="270" y="611" width="135" height="3.5" fill="url(#h1r13)"/><rect x="270" y="608" width="135" height="3.5" fill="url(#h1r14)"/><rect x="270" y="605" width="135" height="3.5" fill="url(#h1r15)"/><rect x="270" y="602" width="135" height="3.5" fill="url(#h1r16)"/><rect x="270" y="599" width="135" height="3.5" fill="url(#h1r17)"/><rect x="270" y="596" width="135" height="3.5" fill="url(#h1r18)"/><rect x="270" y="593" width="135" height="3.5" fill="url(#h1r19)"/><rect x="270" y="590" width="135" height="3.5" fill="url(#h1r20)"/><rect x="270" y="587" width="135" height="3.5" fill="url(#h1r21)"/><rect x="270" y="584" width="135" height="3.5" fill="url(#h1r22)"/><rect x="270" y="581" width="135" height="3.5" fill="url(#h1r23)"/><rect x="270" y="578" width="135" height="3.5" fill="url(#h1r24)"/><rect x="270" y="575" width="135" height="3.5" fill="url(#h1r25)"/><rect x="270" y="572" width="135" height="3.5" fill="url(#h1r26)"/><rect x="270" y="569" width="135" height="3.5" fill="url(#h1r27)"/><rect x="270" y="566" width="135" height="3.5" fill="url(#h1r28)"/><rect x="270" y="563" width="135" height="3.5" fill="url(#h1r29)"/><rect x="270" y="560" width="135" height="3.5" fill="url(#h1r30)"/><rect x="270" y="557" width="135" height="3.5" fill="url(#h1r31)"/><rect x="270" y="554" width="135" height="3.5" fill="url(#h1r32)"/><rect x="270" y="551" width="135" height="3.5" fill="url(#h1r33)"/><rect x="270" y="548" width="135" height="3.5" fill="url(#h1r34)"/><rect x="270" y="545" width="135" height="3.5" fill="url(#h1r35)"/><rect x="270" y="542" width="135" height="3.5" fill="url(#h1r36)"/><rect x="270" y="539" width="135" height="3.5" fill="url(#h1r37)"/><rect x="270" y="536" width="135" height="3.5" fill="url(#h1r38)"/><rect x="270" y="533" width="135" height="3.5" fill="url(#h1r39)"/><rect x="270" y="530" width="135" height="3.5" fill="url(#h1r40)"/><rect x="270" y="527" width="135" height="3.5" fill="url(#h1r41)"/><rect x="270" y="524" width="135" height="3.5" fill="url(#h1r42)"/><rect x="270" y="521" width="135" height="3.5" fill="url(#h1r43)"/><rect x="270" y="518" width="135" height="3.5" fill="url(#h1r44)"/><rect x="270" y="515" width="135" height="3.5" fill="url(#h1r45)"/><rect x="270" y="512" width="135" height="3.5" fill="url(#h1r46)"/><rect x="270" y="509" width="135" height="3.5" fill="url(#h1r47)"/><rect x="270" y="506" width="135" height="3.5" fill="url(#h1r48)"/><rect x="270" y="503" width="135" height="3.5" fill="url(#h1r49)"/><rect x="270" y="500" width="135" height="3.5" fill="url(#h1r50)"/><rect x="270" y="497" width="135" height="3.5" fill="url(#h1r51)"/><rect x="270" y="494" width="135" height="3.5" fill="url(#h1r52)"/><rect x="270" y="491" width="135" height="3.5" fill="url(#h1r53)"/><rect x="270" y="488" width="135" height="3.5" fill="url(#h1r54)"/><rect x="270" y="485" width="135" height="3.5" fill="url(#h1r55)"/><rect x="270" y="482" width="135" height="3.5" fill="url(#h1r56)"/><rect x="270" y="479" width="135" height="3.5" fill="url(#h1r57)"/><rect x="270" y="476" width="135" height="3.5" fill="url(#h1r58)"/><rect x="270" y="473" width="135" height="3.5" fill="url(#h1r59)"/><rect x="270" y="470" width="135" height="3.5" fill="url(#h1r60)"/><rect x="270" y="467" width="135" height="3.5" fill="url(#h1r61)"/><rect x="270" y="464" width="135" height="3.5" fill="url(#h1r62)"/><rect x="270" y="461" width="135" height="3.5" fill="url(#h1r63)"/><rect x="270" y="458" width="135" height="3.5" fill="url(#h1r64)"/><rect x="270" y="455" width="135" height="3.5" fill="url(#h1r65)"/><rect x="270" y="452" width="135" height="3.5" fill="url(#h1r66)"/><rect x="270" y="449" width="135" height="3.5" fill="url(#h1r67)"/><rect x="270" y="446" width="135" height="3.5" fill="url(#h1r68)"/><rect x="270" y="443" width="135" height="3.5" fill="url(#h1r69)"/><rect x="270" y="440" width="135" height="3.5" fill="url(#h1r70)"/><rect x="270" y="437" width="135" height="3.5" fill="url(#h1r71)"/><rect x="270" y="434" width="135" height="3.5" fill="url(#h1r72)"/><rect x="270" y="431" width="135" height="3.5" fill="url(#h1r73)"/><rect x="270" y="428" width="135" height="3.5" fill="url(#h1r74)"/><rect x="270" y="425" width="135" height="3.5" fill="url(#h1r75)"/><rect x="270" y="422" width="135" height="3.5" fill="url(#h1r76)"/><rect x="270" y="419" width="135" height="3.5" fill="url(#h1r77)"/><rect x="270" y="416" width="135" height="3.5" fill="url(#h1r78)"/><rect x="270" y="413" width="135" height="3.5" fill="url(#h1r79)"/><rect x="270" y="410" width="135" height="3.5" fill="url(#h1r80)"/><rect x="270" y="407" width="135" height="3.5" fill="url(#h1r81)"/><rect x="270" y="404" width="135" height="3.5" fill="url(#h1r82)"/><rect x="270" y="401" width="135" height="3.5" fill="url(#h1r83)"/><rect x="270" y="398" width="135" height="3.5" fill="url(#h1r84)"/><rect x="270" y="395" width="135" height="3.5" fill="url(#h1r85)"/><rect x="270" y="392" width="135" height="3.5" fill="url(#h1r86)"/><rect x="270" y="389" width="135" height="3.5" fill="url(#h1r87)"/><rect x="270" y="386" width="135" height="3.5" fill="url(#h1r88)"/><rect x="270" y="383" width="135" height="3.5" fill="url(#h1r89)"/><rect x="270" y="380" width="135" height="3.5" fill="url(#h1r90)"/><rect x="270" y="377" width="135" height="3.5" fill="url(#h1r91)"/><rect x="270" y="374" width="135" height="3.5" fill="url(#h1r92)"/><rect x="270" y="371" width="135" height="3.5" fill="url(#h1r93)"/><rect x="270" y="368" width="135" height="3.5" fill="url(#h1r94)"/><rect x="270" y="365" width="135" height="3.5" fill="url(#h1r95)"/><rect x="270" y="362" width="135" height="3.5" fill="url(#h1r96)"/><rect x="270" y="359" width="135" height="3.5" fill="url(#h1r97)"/></g>
<rect x="412.5" y="360.3" width="8.8" height="292.6" fill="url(#cb1)" stroke="#555" stroke-width="0.6"/>
<path d="M419.1 652.9 H421.3" stroke="#333" stroke-width="0.6"/><text x="425.70" y="658.40" font-size="14.8" text-anchor="start" fill="#3c3c3c">0</text>
<path d="M419.1 579.8 H421.3" stroke="#333" stroke-width="0.6"/><text x="425.70" y="585.25" font-size="14.8" text-anchor="start" fill="#3c3c3c">5</text>
<path d="M419.1 506.6 H421.3" stroke="#333" stroke-width="0.6"/><text x="425.70" y="512.10" font-size="14.8" text-anchor="start" fill="#3c3c3c">10</text>
<path d="M419.1 433.4 H421.3" stroke="#333" stroke-width="0.6"/><text x="425.70" y="438.95" font-size="14.8" text-anchor="start" fill="#3c3c3c">15</text>
<path d="M419.1 360.3 H421.3" stroke="#333" stroke-width="0.6"/><text x="425.70" y="365.80" font-size="14.8" text-anchor="start" fill="#3c3c3c">20</text>
<text x="266.30" y="658.60" font-size="14.8" text-anchor="end" fill="#3c3c3c" textLength="7.30" lengthAdjust="spacingAndGlyphs">0</text>
<text x="266.30" y="609.83" font-size="14.8" text-anchor="end" fill="#3c3c3c" textLength="7.30" lengthAdjust="spacingAndGlyphs">5</text>
<text x="266.30" y="561.07" font-size="14.8" text-anchor="end" fill="#3c3c3c" textLength="15.00" lengthAdjust="spacingAndGlyphs">10</text>
<text x="266.30" y="512.30" font-size="14.8" text-anchor="end" fill="#3c3c3c" textLength="15.00" lengthAdjust="spacingAndGlyphs">15</text>
<text x="266.30" y="463.53" font-size="14.8" text-anchor="end" fill="#3c3c3c" textLength="15.00" lengthAdjust="spacingAndGlyphs">20</text>
<text x="266.30" y="414.77" font-size="14.8" text-anchor="end" fill="#3c3c3c" textLength="15.00" lengthAdjust="spacingAndGlyphs">25</text>
<text x="266.30" y="366.00" font-size="14.8" text-anchor="end" fill="#3c3c3c" textLength="15.00" lengthAdjust="spacingAndGlyphs">30</text>
<text x="271.20" y="671.20" font-size="14.8" text-anchor="middle" fill="#3c3c3c" textLength="7.30" lengthAdjust="spacingAndGlyphs">0</text>
<text x="337.70" y="671.20" font-size="14.8" text-anchor="middle" fill="#3c3c3c" textLength="18.80" lengthAdjust="spacingAndGlyphs">0.5</text>
<text x="404.20" y="671.20" font-size="14.8" text-anchor="middle" fill="#3c3c3c" textLength="7.30" lengthAdjust="spacingAndGlyphs">1</text>
<text x="337.90" y="691.90" font-size="19.3" text-anchor="middle" fill="#3c3c3c" textLength="144.00" lengthAdjust="spacingAndGlyphs">Field Position / L</text>
<text x="244.90" y="507.40" font-size="19.3" text-anchor="middle" fill="#3c3c3c" transform="rotate(-90 244.90 507.40)" textLength="42.50" lengthAdjust="spacingAndGlyphs">Time</text>
<text x="339.20" y="354.40" font-size="18" text-anchor="middle" fill="#595757" font-weight="bold" textLength="109.30" lengthAdjust="spacingAndGlyphs">Null control</text>
<defs>
<filter id="gn" x="0" y="0" width="100%" height="100%" color-interpolation-filters="sRGB"><feTurbulence type="fractalNoise" baseFrequency="0.63 0.57" numOctaves="3" seed="7"/><feColorMatrix type="matrix" values="0.75 0 0 0 -0.22  1.4 0 0 0 -0.29  0.45 0 0 0 -0.09  0 0 0 0 1"/></filter>
<filter id="gn2" x="0" y="0" width="100%" height="100%" color-interpolation-filters="sRGB"><feTurbulence type="fractalNoise" baseFrequency="0.63 0.57" numOctaves="3" seed="23"/><feColorMatrix type="matrix" values="0.55 0 0 0 -0.175  1.15 0 0 0 -0.27  0.35 0 0 0 -0.08  0 0 0 0 1"/></filter>
<linearGradient id="fd1"><stop offset="0%" stop-color="#020602" stop-opacity="0.000"/><stop offset="4.2%" stop-color="#020602" stop-opacity="0.002"/><stop offset="8.3%" stop-color="#020602" stop-opacity="0.016"/><stop offset="12.5%" stop-color="#020602" stop-opacity="0.056"/><stop offset="16.7%" stop-color="#020602" stop-opacity="0.128"/><stop offset="20.8%" stop-color="#020602" stop-opacity="0.230"/><stop offset="25%" stop-color="#020602" stop-opacity="0.347"/><stop offset="29.2%" stop-color="#020602" stop-opacity="0.463"/><stop offset="33.3%" stop-color="#020602" stop-opacity="0.566"/><stop offset="37.5%" stop-color="#020602" stop-opacity="0.651"/><stop offset="41.7%" stop-color="#020602" stop-opacity="0.719"/><stop offset="45.8%" stop-color="#020602" stop-opacity="0.771"/><stop offset="50%" stop-color="#020602" stop-opacity="0.812"/><stop offset="54.2%" stop-color="#020602" stop-opacity="0.843"/><stop offset="58.3%" stop-color="#020602" stop-opacity="0.867"/><stop offset="62.5%" stop-color="#020602" stop-opacity="0.885"/><stop offset="66.7%" stop-color="#020602" stop-opacity="0.900"/><stop offset="70.8%" stop-color="#020602" stop-opacity="0.912"/><stop offset="75%" stop-color="#020602" stop-opacity="0.921"/><stop offset="79.2%" stop-color="#020602" stop-opacity="0.928"/><stop offset="83.3%" stop-color="#020602" stop-opacity="0.934"/><stop offset="87.5%" stop-color="#020602" stop-opacity="0.939"/><stop offset="91.7%" stop-color="#020602" stop-opacity="0.944"/><stop offset="95.8%" stop-color="#020602" stop-opacity="0.947"/><stop offset="100%" stop-color="#020602" stop-opacity="0.950"/></linearGradient>
<linearGradient id="fd2"><stop offset="0%" stop-color="#020602" stop-opacity="0.400"/><stop offset="2.5%" stop-color="#020602" stop-opacity="0.150"/><stop offset="5%" stop-color="#020602" stop-opacity="0.000"/><stop offset="7.5%" stop-color="#020602" stop-opacity="0.000"/><stop offset="10%" stop-color="#020602" stop-opacity="0.000"/><stop offset="12.5%" stop-color="#020602" stop-opacity="0.000"/><stop offset="15%" stop-color="#020602" stop-opacity="0.000"/><stop offset="17.5%" stop-color="#020602" stop-opacity="0.000"/><stop offset="20%" stop-color="#020602" stop-opacity="0.000"/><stop offset="22.5%" stop-color="#020602" stop-opacity="0.000"/><stop offset="25%" stop-color="#020602" stop-opacity="0.000"/><stop offset="27.5%" stop-color="#020602" stop-opacity="0.000"/><stop offset="30%" stop-color="#020602" stop-opacity="0.000"/><stop offset="32.5%" stop-color="#020602" stop-opacity="0.000"/><stop offset="35%" stop-color="#020602" stop-opacity="0.000"/><stop offset="37.5%" stop-color="#020602" stop-opacity="0.000"/><stop offset="40%" stop-color="#020602" stop-opacity="0.000"/><stop offset="42.5%" stop-color="#020602" stop-opacity="0.000"/><stop offset="45%" stop-color="#020602" stop-opacity="0.000"/><stop offset="47.5%" stop-color="#020602" stop-opacity="0.000"/><stop offset="50%" stop-color="#020602" stop-opacity="0.000"/><stop offset="52.5%" stop-color="#020602" stop-opacity="0.000"/><stop offset="55%" stop-color="#020602" stop-opacity="0.000"/><stop offset="57.5%" stop-color="#020602" stop-opacity="0.000"/><stop offset="60%" stop-color="#020602" stop-opacity="0.000"/><stop offset="62.5%" stop-color="#020602" stop-opacity="0.007"/><stop offset="65%" stop-color="#020602" stop-opacity="0.020"/><stop offset="67.5%" stop-color="#020602" stop-opacity="0.037"/><stop offset="70%" stop-color="#020602" stop-opacity="0.056"/><stop offset="72.5%" stop-color="#020602" stop-opacity="0.079"/><stop offset="75%" stop-color="#020602" stop-opacity="0.103"/><stop offset="77.5%" stop-color="#020602" stop-opacity="0.130"/><stop offset="80%" stop-color="#020602" stop-opacity="0.159"/><stop offset="82.5%" stop-color="#020602" stop-opacity="0.190"/><stop offset="85%" stop-color="#020602" stop-opacity="0.222"/><stop offset="87.5%" stop-color="#020602" stop-opacity="0.257"/><stop offset="90%" stop-color="#020602" stop-opacity="0.292"/><stop offset="92.5%" stop-color="#020602" stop-opacity="0.330"/><stop offset="95%" stop-color="#020602" stop-opacity="0.368"/><stop offset="97.5%" stop-color="#020602" stop-opacity="0.408"/><stop offset="100%" stop-color="#020602" stop-opacity="0.450"/></linearGradient>
</defs>
<rect x="510.0" y="404.2" width="302.7" height="94.5" fill="#0a2a0a"/><rect x="510.0" y="404.2" width="302.7" height="94.5" filter="url(#gn)"/><rect x="510.0" y="404.2" width="302.7" height="94.5" fill="url(#fd1)"/>
<rect x="510.0" y="564.7" width="302.7" height="94.5" fill="#0a2a0a"/><rect x="510.0" y="564.7" width="302.7" height="94.5" filter="url(#gn2)"/><rect x="510.0" y="564.7" width="302.7" height="94.5" fill="url(#fd2)"/>
<path d="M510.0 378.2 L803 385.4 L801.6 381.8 L812.6 386.4 L801.6 391.0 L803 387.4 L510.0 394.6 Z" fill="#c7e8d7"/>
<text x="487.90" y="386.40" font-size="20.5" text-anchor="middle" fill="#e60012" transform="rotate(90 487.90 386.40)" textLength="10.70" lengthAdjust="spacingAndGlyphs" stroke="#e60012" stroke-width="0.75">S</text>
<text x="821.00" y="386.70" font-size="20.5" text-anchor="middle" fill="#1d2088" transform="rotate(90 821.00 386.70)" textLength="13.40" lengthAdjust="spacingAndGlyphs" stroke="#1d2088" stroke-width="0.75">D</text>
<path d="M510.0 535.9 L803 543.1 L801.6 539.5 L812.6 544.1 L801.6 548.7 L803 545.1 L510.0 552.3 Z" fill="#c7e8d7"/>
<text x="487.90" y="544.10" font-size="20.5" text-anchor="middle" fill="#e60012" transform="rotate(90 487.90 544.10)" textLength="10.70" lengthAdjust="spacingAndGlyphs" stroke="#e60012" stroke-width="0.75">S</text>
<text x="821.00" y="544.40" font-size="20.5" text-anchor="middle" fill="#898989" transform="rotate(90 821.00 544.40)" textLength="13.40" lengthAdjust="spacingAndGlyphs" stroke="#898989" stroke-width="0.75">N</text>
<text x="661.50" y="368.20" font-size="19.5" text-anchor="middle" fill="#1b6fbe" font-weight="bold" textLength="85.50" lengthAdjust="spacingAndGlyphs">with Sink</text>
<text x="661.50" y="526.20" font-size="19.5" text-anchor="middle" fill="#595757" font-weight="bold" textLength="110.00" lengthAdjust="spacingAndGlyphs">Null control</text>
<text x="785.30" y="480.20" font-size="14.2" text-anchor="middle" fill="#fff" textLength="39.00" lengthAdjust="spacingAndGlyphs" stroke="#fff" stroke-width="0.45">2 mm</text>
<path d="M770.9 486.5 H800.1" stroke="#e4e4e0" stroke-width="1.5" fill="none"/><path d="M770.9 482.3 V490.9 M800.1 482.3 V490.9" stroke="#e4e4e0" stroke-width="1.9" fill="none"/>
<clipPath id="cF"><rect x="912.1" y="357.4" width="291.7" height="290.8"/></clipPath>
<g clip-path="url(#cF)" fill="none" stroke-linejoin="round">
<path d="M912.1 337.1L913.1 352.2L914.1 350.3L915 345L916 358.5L917 378.8L918 371.4L918.9 369.2L919.9 370.5L920.9 344.5L921.9 357.8L922.8 369.7L923.8 369.3L924.8 342.5L925.8 371L926.7 324.3L927.7 359.8L928.7 380.1L929.7 393.8L930.6 407.2L931.6 353L932.6 376.4L933.6 394.5L934.5 363.7L935.5 359.8L936.5 346.8L937.5 361.7L938.4 351.6L939.4 376.3L940.4 371.3L941.4 366.1L942.3 355.7L943.3 343.1L944.3 370.6L945.3 379L946.2 367.6L947.2 360.6L948.2 374.1L949.2 383.6L950.1 339.8L951.1 379.9L952.1 378.6L953.1 390.9L954.1 362.7L955 355.9L956 387.8L957 372.8L958 385.7L958.9 408.2L959.9 390.1L960.9 388.7L961.9 403.8L962.8 389.9L963.8 377.4L964.8 402.4L965.8 388L966.7 383.5L967.7 402.5L968.7 360.8L969.7 393.7L970.6 387L971.6 366L972.6 387.7L973.6 400.3L974.5 377.7L975.5 376.9L976.5 380L977.5 369.8L978.4 392.9L979.4 393.8L980.4 410.1L981.4 390L982.3 401.8L983.3 399.9L984.3 411.4L985.3 401.6L986.2 405.1L987.2 422.8L988.2 416.8L989.2 405.2L990.1 424.4L991.1 412.7L992.1 425L993.1 407.3L994 408.8L995 400.8L996 382.5L997 422.9L998 395L998.9 395.6L999.9 384.6L1000.9 379.8L1001.9 405.8L1002.8 410.2L1003.8 388.9L1004.8 415.3L1005.8 425.5L1006.7 420.6L1007.7 418.2L1008.7 439.2L1009.7 393.3L1010.6 404.7L1011.6 382.3L1012.6 387.5L1013.6 400.2L1014.5 381.5L1015.5 397.2L1016.5 423.2L1017.5 380.8L1018.4 396.6L1019.4 404.6L1020.4 390L1021.4 413.7L1022.3 427.1L1023.3 397.7L1024.3 401.7L1025.3 402.4L1026.2 414.1L1027.2 422.6L1028.2 401.3L1029.2 385.1L1030.1 398.2L1031.1 384.3L1032.1 408.4L1033.1 426.3L1034 394.5L1035 392.8L1036 401.8L1037 399.4L1038 429.3L1038.9 423.7L1039.9 438.4L1040.9 412.8L1041.9 438.8L1042.8 419.2L1043.8 399.2L1044.8 432.6L1045.8 424.6L1046.7 415.4L1047.7 399.6L1048.7 430.1L1049.7 421.1L1050.6 400.2L1051.6 415.5L1052.6 423.7L1053.6 449.1L1054.5 416.8L1055.5 426.6L1056.5 439.9L1057.5 431.5L1058.4 449.1L1059.4 449.5L1060.4 460.1L1061.4 436.3L1062.3 434.9L1063.3 465.3L1064.3 472.6L1065.3 472.9L1066.2 441L1067.2 461.6L1068.2 458.3L1069.2 452.7L1070.1 464.2L1071.1 446.6L1072.1 461.9L1073.1 474.9L1074 449.7L1075 439.1L1076 414L1077 427.3L1077.9 434.9L1078.9 444.8L1079.9 430.9L1080.9 393.6L1081.9 436.8L1082.8 447.2L1083.8 441.7L1084.8 448.8L1085.8 458.4L1086.7 454.4L1087.7 456L1088.7 435.4L1089.7 433.3L1090.6 462.2L1091.6 473.3L1092.6 425.8L1093.6 457.6L1094.5 441.8L1095.5 445.2L1096.5 465.9L1097.5 459.1L1098.4 448.5L1099.4 459.4L1100.4 436.1L1101.4 460.2L1102.3 433.7L1103.3 476.6L1104.3 464L1105.3 451.2L1106.2 458L1107.2 485L1108.2 492.8L1109.2 476.5L1110.1 430L1111.1 470.9L1112.1 475.8L1113.1 478.6L1114 471.8L1115 488.2L1116 466.8L1117 458.6L1117.9 454.6L1118.9 464.4L1119.9 460.3L1120.9 447.4L1121.9 454.3L1122.8 418.5L1123.8 442.5L1124.8 428.4L1125.8 441.4L1126.7 411.1L1127.7 433.9L1128.7 453.6L1129.7 448.3L1130.6 471.9L1131.6 457.1L1132.6 451.3L1133.6 467L1134.5 470L1135.5 469L1136.5 483.9L1137.5 463.6L1138.4 456.5L1139.4 468.2L1140.4 466.1L1141.4 505L1142.3 480.5L1143.3 479.7L1144.3 483.4L1145.3 502.4L1146.2 494.9L1147.2 472.4L1148.2 492L1149.2 484.8L1150.1 460.6L1151.1 483L1152.1 507.9L1153.1 485.3L1154 478.3L1155 468.3L1156 501.6L1157 492.8L1157.9 473.8L1158.9 484.7L1159.9 474.2L1160.9 497.8L1161.8 493.7L1162.8 483L1163.8 497.5L1164.8 489.3L1165.8 497.3L1166.7 458.5L1167.7 503.6L1168.7 503.4L1169.7 510.2L1170.6 481.8L1171.6 468.7L1172.6 473.9L1173.6 479.7L1174.5 478.4L1175.5 497L1176.5 443L1177.5 503.2L1178.4 479.2L1179.4 499.6L1180.4 487.2L1181.4 533.4L1182.3 521.6L1183.3 498.8L1184.3 531.7L1185.3 488.2L1186.2 501L1187.2 532.3L1188.2 522.4L1189.2 506.6L1190.1 485.8L1191.1 504.9L1192.1 532.2L1193.1 514.2L1194 505.4L1195 512.7L1196 507.7L1197 502.7L1197.9 501.7L1198.9 509.9L1199.9 515.4L1200.9 525.5L1201.8 501.1L1202.8 515.1L1203.8 515.7L1203.8 567.5L1202.8 561.1L1201.8 568.7L1200.9 589.8L1199.9 588.4L1198.9 575.7L1197.9 544.1L1197 537.8L1196 556.7L1195 570L1194 534.5L1193.1 576L1192.1 547.9L1191.1 532.3L1190.1 547.7L1189.2 540.1L1188.2 549.8L1187.2 553.7L1186.2 542.1L1185.3 579.8L1184.3 548.2L1183.3 561.7L1182.3 547L1181.4 535.5L1180.4 553.4L1179.4 549.8L1178.4 528.4L1177.5 512.1L1176.5 551.1L1175.5 540.7L1174.5 538.9L1173.6 519.2L1172.6 568.7L1171.6 517.4L1170.6 546.4L1169.7 505.1L1168.7 532.7L1167.7 530.7L1166.7 525L1165.8 538.3L1164.8 538.9L1163.8 562.2L1162.8 531L1161.8 513.8L1160.9 518.4L1159.9 557.3L1158.9 554.5L1157.9 524.2L1157 502.1L1156 533.3L1155 510.8L1154 500.5L1153.1 536L1152.1 532.6L1151.1 510.5L1150.1 535.6L1149.2 526L1148.2 522.6L1147.2 502.3L1146.2 543.5L1145.3 525.8L1144.3 502L1143.3 521.8L1142.3 510L1141.4 536.9L1140.4 515.1L1139.4 503L1138.4 516.1L1137.5 495.2L1136.5 521L1135.5 479.6L1134.5 502.4L1133.6 519.5L1132.6 489.8L1131.6 514.6L1130.6 491.5L1129.7 497.8L1128.7 504.4L1127.7 489.9L1126.7 510.2L1125.8 475.2L1124.8 468.9L1123.8 520.9L1122.8 477.4L1121.9 503.9L1120.9 505.3L1119.9 519.7L1118.9 492.9L1117.9 502.6L1117 514.3L1116 500.9L1115 503.5L1114 508.3L1113.1 520.3L1112.1 506.1L1111.1 510.2L1110.1 494.8L1109.2 529.5L1108.2 519L1107.2 521.9L1106.2 497.4L1105.3 503.1L1104.3 513.7L1103.3 517.6L1102.3 486.5L1101.4 512.8L1100.4 495.8L1099.4 483.8L1098.4 503.8L1097.5 486.4L1096.5 489.6L1095.5 488.8L1094.5 504.8L1093.6 503.5L1092.6 523.6L1091.6 529.4L1090.6 493.1L1089.7 490.7L1088.7 475.9L1087.7 506.9L1086.7 494.1L1085.8 470.3L1084.8 507.2L1083.8 458.4L1082.8 468.2L1081.9 493.2L1080.9 478.2L1079.9 441.2L1078.9 476.1L1077.9 486.9L1077 495.9L1076 472.5L1075 486.6L1074 513.2L1073.1 499.5L1072.1 477.9L1071.1 518.6L1070.1 519.9L1069.2 497.2L1068.2 490.8L1067.2 473.8L1066.2 505.5L1065.3 489.4L1064.3 516.9L1063.3 511.2L1062.3 479.3L1061.4 498.5L1060.4 492.2L1059.4 518.2L1058.4 506.9L1057.5 470.1L1056.5 455.8L1055.5 470L1054.5 479.9L1053.6 478.1L1052.6 501.6L1051.6 471.3L1050.6 444.3L1049.7 472.8L1048.7 468L1047.7 441.7L1046.7 487.5L1045.8 458.1L1044.8 452.4L1043.8 455.6L1042.8 451.4L1041.9 483.8L1040.9 454.6L1039.9 452L1038.9 437.9L1038 453L1037 442.9L1036 467.1L1035 433.1L1034 423.4L1033.1 451L1032.1 428.4L1031.1 467.7L1030.1 430.5L1029.2 449.9L1028.2 463.1L1027.2 432.3L1026.2 464.6L1025.3 497.3L1024.3 457L1023.3 458.5L1022.3 422.9L1021.4 427.8L1020.4 445.9L1019.4 455.6L1018.4 426.7L1017.5 438.5L1016.5 419.2L1015.5 447.6L1014.5 437.3L1013.6 444.7L1012.6 461.1L1011.6 447.6L1010.6 436.6L1009.7 438.9L1008.7 457.3L1007.7 455.6L1006.7 450L1005.8 464.1L1004.8 462.3L1003.8 444L1002.8 453L1001.9 434.4L1000.9 424.1L999.9 432.5L998.9 435.6L998 453.9L997 457.6L996 418.1L995 448.4L994 447.6L993.1 463.6L992.1 429.9L991.1 468.7L990.1 438.5L989.2 443.9L988.2 451.5L987.2 447.1L986.2 449.5L985.3 465.7L984.3 416.9L983.3 442L982.3 434.7L981.4 437.5L980.4 417.9L979.4 441.3L978.4 425.9L977.5 397.7L976.5 421.5L975.5 461.5L974.5 418.9L973.6 412.7L972.6 449.6L971.6 409.9L970.6 419.3L969.7 425.6L968.7 420L967.7 435.1L966.7 431.9L965.8 454L964.8 439.5L963.8 410.6L962.8 440.8L961.9 419.8L960.9 432.7L959.9 438.3L958.9 427.9L958 440.9L957 435.7L956 427L955 437.7L954.1 410.4L953.1 433.5L952.1 394L951.1 405.1L950.1 424.8L949.2 449.9L948.2 429.5L947.2 406.5L946.2 432.8L945.3 407.7L944.3 385.4L943.3 431.7L942.3 402.5L941.4 403.5L940.4 403.8L939.4 423.6L938.4 414L937.5 401.5L936.5 418.3L935.5 430.1L934.5 444.5L933.6 406.9L932.6 402.9L931.6 412.5L930.6 420L929.7 437.6L928.7 403.9L927.7 385.7L926.7 415.9L925.8 408.3L924.8 402.1L923.8 417.5L922.8 395L921.9 435.3L920.9 385.6L919.9 442.9L918.9 389.7L918 421.3L917 398.1L916 393.6L915 395.7L914.1 413.2L913.1 436.3L912.1 417.3Z" fill="#d8dad9" stroke="#d8dad9" stroke-width="1.0"/>
<path d="M912.1 396.6L913.1 387.9L914.1 384L915 388.3L916 371L917 406.9L918 372.8L918.9 409.8L919.9 354.7L920.9 358.6L921.9 327.7L922.8 362.1L923.8 386.9L924.8 352.4L925.8 339.5L926.7 396L927.7 352.6L928.7 367.8L929.7 347.5L930.6 378.3L931.6 341.7L932.6 321.3L933.6 346.4L934.5 371.5L935.5 393.9L936.5 360.4L937.5 320.1L938.4 340.6L939.4 385.2L940.4 338.6L941.4 377L942.3 363.9L943.3 395.3L944.3 377.6L945.3 410L946.2 357.1L947.2 379.2L948.2 354.7L949.2 400L950.1 373L951.1 337.8L952.1 401.9L953.1 392L954.1 406.6L955 383.1L956 398.5L957 399.1L958 434.5L958.9 420.5L959.9 364.9L960.9 435.7L961.9 437L962.8 422.7L963.8 439.5L964.8 446.9L965.8 465.1L966.7 489.7L967.7 471.4L968.7 466.4L969.7 480.3L970.6 475.4L971.6 461.6L972.6 456.5L973.6 477L974.5 478.3L975.5 493.9L976.5 483.2L977.5 498.1L978.4 511.4L979.4 507.7L980.4 509.4L981.4 494.6L982.3 518.1L983.3 531.9L984.3 514.5L985.3 520.2L986.2 519.7L987.2 529.4L988.2 528.2L989.2 526.6L990.1 538.2L991.1 542.6L992.1 540.3L993.1 548.8L994 540.1L995 555.8L996 539.4L997 565.1L998 559.9L998.9 563.3L999.9 569.1L1000.9 563.6L1001.9 565.8L1002.8 568.3L1003.8 578.3L1004.8 585.4L1005.8 573.7L1006.7 579.4L1007.7 574.3L1008.7 587.4L1009.7 592.4L1010.6 582.3L1011.6 583.2L1012.6 585.4L1013.6 584.5L1014.5 578.6L1015.5 584.5L1016.5 586.7L1017.5 592.1L1018.4 586.9L1019.4 588L1020.4 582.8L1021.4 589.4L1022.3 597.7L1023.3 596.9L1024.3 596.6L1025.3 599.8L1026.2 591.5L1027.2 598.2L1028.2 600.4L1029.2 601.4L1030.1 595.2L1031.1 601.7L1032.1 599.3L1033.1 603.3L1034 606.8L1035 602.5L1036 606.6L1037 604.5L1038 602.9L1038.9 605L1039.9 614.5L1040.9 609.7L1041.9 606.7L1042.8 610.7L1043.8 606.6L1044.8 614.4L1045.8 610.8L1046.7 607.6L1047.7 610.1L1048.7 614.8L1049.7 607.8L1050.6 607.7L1051.6 608.4L1052.6 614.3L1053.6 611L1054.5 611.7L1055.5 616L1056.5 615.5L1057.5 617.3L1058.4 617L1059.4 614.3L1060.4 612.9L1061.4 614.3L1062.3 617.1L1063.3 614.7L1064.3 617.3L1065.3 615.9L1066.2 618L1067.2 617.6L1068.2 617.9L1069.2 616.8L1070.1 619.4L1071.1 615.3L1072.1 619.3L1073.1 617.6L1074 621.2L1075 618.9L1076 617.4L1077 617L1077.9 618.5L1078.9 619.8L1079.9 618.4L1080.9 616.9L1081.9 625.3L1082.8 625.1L1083.8 622.1L1084.8 624.9L1085.8 621.6L1086.7 621.4L1087.7 619.5L1088.7 622.6L1089.7 620.1L1090.6 621.6L1091.6 622.8L1092.6 620.6L1093.6 622.4L1094.5 622L1095.5 620L1096.5 622.6L1097.5 620.8L1098.4 618.1L1099.4 618.8L1100.4 621.6L1101.4 621.7L1102.3 623.1L1103.3 621L1104.3 622.1L1105.3 622.8L1106.2 620.9L1107.2 623.2L1108.2 622.2L1109.2 624.8L1110.1 621.8L1111.1 622.4L1112.1 620.9L1113.1 620.2L1114 620.1L1115 623.1L1116 620.9L1117 620L1117.9 618.9L1118.9 622.6L1119.9 623.4L1120.9 622.9L1121.9 625.2L1122.8 623.6L1123.8 623.9L1124.8 623L1125.8 625.1L1126.7 622.5L1127.7 621.8L1128.7 624.4L1129.7 622.7L1130.6 625.9L1131.6 625L1132.6 625.1L1133.6 622.2L1134.5 622.6L1135.5 623.8L1136.5 623.8L1137.5 623.1L1138.4 625.2L1139.4 626.1L1140.4 625.4L1141.4 626L1142.3 627.7L1143.3 627.6L1144.3 627.3L1145.3 629.6L1146.2 626.4L1147.2 627.3L1148.2 625.4L1149.2 624.9L1150.1 625.6L1151.1 625.3L1152.1 626.3L1153.1 627L1154 626.5L1155 624.3L1156 626.1L1157 624.1L1157.9 624L1158.9 626.7L1159.9 625.5L1160.9 625L1161.8 627L1162.8 627.4L1163.8 629.2L1164.8 623.9L1165.8 626.8L1166.7 629.1L1167.7 626.5L1168.7 626L1169.7 626.8L1170.6 626.7L1171.6 628.3L1172.6 626L1173.6 625.8L1174.5 625.4L1175.5 625.9L1176.5 626.4L1177.5 628.1L1178.4 626.1L1179.4 626.5L1180.4 627.4L1181.4 626.6L1182.3 627.6L1183.3 626.3L1184.3 626.7L1185.3 626.1L1186.2 625.6L1187.2 625.3L1188.2 627.1L1189.2 625.3L1190.1 627.1L1191.1 624.9L1192.1 628L1193.1 624L1194 625.6L1195 622.6L1196 623.2L1197 626.1L1197.9 624.8L1198.9 624.7L1199.9 625.8L1200.9 627L1201.8 627.1L1202.8 626.6L1203.8 625.6L1203.8 630.8L1202.8 630.6L1201.8 632.5L1200.9 630.3L1199.9 630.3L1198.9 628.9L1197.9 628.3L1197 630L1196 628.9L1195 629.8L1194 629.4L1193.1 629.3L1192.1 629.5L1191.1 630.4L1190.1 629.8L1189.2 630.2L1188.2 632.2L1187.2 631.1L1186.2 629.7L1185.3 629.7L1184.3 627.9L1183.3 628.6L1182.3 630.6L1181.4 629.9L1180.4 630.5L1179.4 633.9L1178.4 630.5L1177.5 628.6L1176.5 631.2L1175.5 628.5L1174.5 628.8L1173.6 630.2L1172.6 631.7L1171.6 630.1L1170.6 631.1L1169.7 629.3L1168.7 629.3L1167.7 633.4L1166.7 631.7L1165.8 632L1164.8 632L1163.8 631.2L1162.8 633.7L1161.8 629.8L1160.9 629.3L1159.9 631.3L1158.9 629.6L1157.9 629.1L1157 629.3L1156 630.8L1155 629.6L1154 631.8L1153.1 631.3L1152.1 629.7L1151.1 632L1150.1 628.2L1149.2 629.9L1148.2 628.4L1147.2 631.4L1146.2 628.8L1145.3 631.1L1144.3 630.3L1143.3 631.2L1142.3 631.8L1141.4 631L1140.4 628.5L1139.4 631.9L1138.4 626.9L1137.5 626.8L1136.5 628.2L1135.5 628.5L1134.5 628.7L1133.6 632.9L1132.6 627.4L1131.6 627.4L1130.6 628.2L1129.7 628.2L1128.7 629.8L1127.7 629.9L1126.7 629.8L1125.8 631.2L1124.8 629.6L1123.8 628.2L1122.8 629.9L1121.9 627.3L1120.9 629.4L1119.9 629.1L1118.9 625.8L1117.9 630.1L1117 623.9L1116 628L1115 626.6L1114 627.8L1113.1 625.5L1112.1 626.5L1111.1 625.2L1110.1 627.1L1109.2 626.4L1108.2 627.3L1107.2 626.2L1106.2 631.1L1105.3 627.6L1104.3 626.7L1103.3 627.5L1102.3 630.5L1101.4 629.9L1100.4 626.6L1099.4 628.6L1098.4 625.9L1097.5 625.4L1096.5 627L1095.5 626.9L1094.5 629.8L1093.6 629.8L1092.6 626.4L1091.6 629.9L1090.6 627.4L1089.7 626.9L1088.7 630.3L1087.7 627.4L1086.7 629L1085.8 628.3L1084.8 628.1L1083.8 629.2L1082.8 627.1L1081.9 629.1L1080.9 628.3L1079.9 625.2L1078.9 625.4L1077.9 626.8L1077 624.5L1076 625.8L1075 626.9L1074 626.1L1073.1 625.2L1072.1 622.2L1071.1 625.8L1070.1 626.5L1069.2 627L1068.2 625.7L1067.2 622.3L1066.2 625.9L1065.3 622.4L1064.3 621L1063.3 626.7L1062.3 625.5L1061.4 624.1L1060.4 626.7L1059.4 626.9L1058.4 630L1057.5 624.6L1056.5 626.1L1055.5 626.1L1054.5 626.1L1053.6 620.9L1052.6 617.6L1051.6 625.1L1050.6 621.3L1049.7 618.2L1048.7 623.7L1047.7 619.8L1046.7 623.9L1045.8 620.8L1044.8 624.8L1043.8 625.6L1042.8 623.4L1041.9 620.1L1040.9 627L1039.9 620.5L1038.9 615.6L1038 625L1037 626L1036 624L1035 613.8L1034 618.4L1033.1 615.4L1032.1 618.5L1031.1 617.6L1030.1 612L1029.2 612.2L1028.2 610.5L1027.2 609.5L1026.2 614.9L1025.3 616.5L1024.3 611.3L1023.3 610.1L1022.3 601.2L1021.4 606.8L1020.4 623.4L1019.4 607.1L1018.4 613.9L1017.5 606.9L1016.5 606.9L1015.5 606.6L1014.5 608.2L1013.6 604.8L1012.6 606L1011.6 618.1L1010.6 622.4L1009.7 613.3L1008.7 617.3L1007.7 603.9L1006.7 608.8L1005.8 604.8L1004.8 604.3L1003.8 600.6L1002.8 606.3L1001.9 597.4L1000.9 608.7L999.9 591.9L998.9 591.8L998 608.5L997 582.8L996 586L995 581.7L994 569.9L993.1 585L992.1 596.5L991.1 593.3L990.1 585.5L989.2 564.9L988.2 576.4L987.2 565.1L986.2 579.7L985.3 577.4L984.3 569.8L983.3 571.5L982.3 565.7L981.4 580.9L980.4 610.4L979.4 567.5L978.4 572.4L977.5 568.2L976.5 552.2L975.5 563.8L974.5 561.4L973.6 560.2L972.6 542.4L971.6 542.1L970.6 546.6L969.7 559.9L968.7 529L967.7 538L966.7 547.9L965.8 527.5L964.8 529L963.8 533.8L962.8 521.2L961.9 480.9L960.9 507.5L959.9 475.7L958.9 515.3L958 470.3L957 508.3L956 520.4L955 497.6L954.1 512.7L953.1 468L952.1 491.3L951.1 454.4L950.1 447.1L949.2 483.5L948.2 505.8L947.2 515.8L946.2 426.3L945.3 475.8L944.3 448.9L943.3 484.8L942.3 487.8L941.4 441.4L940.4 438.9L939.4 392.5L938.4 428.4L937.5 416.4L936.5 475.6L935.5 436.2L934.5 436L933.6 398L932.6 395.3L931.6 488.4L930.6 429.6L929.7 392.7L928.7 425.4L927.7 418.2L926.7 471.3L925.8 399.8L924.8 487.5L923.8 458.6L922.8 474.3L921.9 458.8L920.9 392L919.9 451L918.9 423.2L918 467.1L917 422.7L916 442.5L915 442.5L914.1 426.1L913.1 463.6L912.1 464.5Z" fill="#b8b5e1" stroke="#b8b5e1" stroke-width="1.0"/>
<path d="M939.5 396.6L940.5 399.3L941.5 391.8L942.5 412.7L943.4 402.1L944.4 397.9L945.4 401.1L946.4 402.8L947.4 418.5L948.4 402.5L949.3 383.6L950.3 390.3L951.3 392.1L952.3 410L953.3 392L954.3 396.9L955.2 393.2L956.2 374.6L957.2 412.1L958.2 402.7L959.2 390L960.2 389.9L961.1 400.8L962.1 411.3L963.1 404.2L964.1 409L965.1 417.2L966 415L967 399.7L968 397.4L969 407.4L970 396.4L971 400.6L971.9 416.2L972.9 395.3L973.9 409.3L974.9 400.5L975.9 403.9L976.9 409.4L977.8 400.6L978.8 410.1L979.8 404.7L980.8 376L981.8 409.9L982.7 400.6L983.7 401.4L984.7 407.1L985.7 416.9L986.7 420L987.7 407.5L988.6 411.6L989.6 418.8L990.6 406.6L991.6 398.5L992.6 422.1L993.6 422.9L994.5 398.8L995.5 401.1L996.5 401.7L997.5 391.7L998.5 416.5L999.4 395.9L1000.4 397.7L1001.4 382.6L1002.4 392.4L1003.4 404.1L1004.4 393.7L1005.3 406L1006.3 397.3L1007.3 397.5L1008.3 426.5L1009.3 404.8L1010.3 409L1011.2 389.3L1012.2 414.7L1013.2 425.4L1014.2 400.4L1015.2 417.6L1016.2 417.6L1017.1 429.5L1018.1 415.8L1019.1 423.3L1020.1 414.2L1021.1 420.2L1022 395.4L1023 421.2L1024 434.9L1025 416.5L1026 414.6L1027 435.4L1027.9 425.6L1028.9 420.2L1029.9 435.2L1030.9 425L1031.9 443.1L1032.9 435.5L1033.8 422.1L1034.8 417.5L1035.8 433.9L1036.8 447.5L1037.8 433.5L1038.7 438.5L1039.7 423L1040.7 430.7L1041.7 418.3L1042.7 415.2L1043.7 429.6L1044.6 446.1L1045.6 440.9L1046.6 445.2L1047.6 420.9L1048.6 441.8L1049.6 435L1050.5 429.1L1051.5 438.1L1052.5 431.1L1053.5 439.6L1054.5 444L1055.4 431.6L1056.4 426L1057.4 441.4L1058.4 424.4L1059.4 434L1060.4 437.9L1061.3 435.4L1062.3 454.6L1063.3 442.3L1064.3 423.9L1065.3 450.2L1066.3 445.3L1067.2 438.6L1068.2 424.7L1069.2 429L1070.2 423.3L1071.2 444.5L1072.2 445.5L1073.1 452.6L1074.1 458L1075.1 462.4L1076.1 446.3L1077.1 450.4L1078 457.1L1079 437.6L1080 444.6L1081 451.5L1082 438.5L1083 434.7L1083.9 462.2L1084.9 428.8L1085.9 441.7L1086.9 448L1087.9 442.8L1088.9 452.4L1089.8 447.7L1090.8 443.6L1091.8 464.9L1092.8 452.4L1093.8 455.5L1094.7 462.1L1095.7 466.6L1096.7 455.6L1097.7 480.9L1098.7 456L1099.7 460.5L1100.6 463.4L1101.6 462.9L1102.6 460L1103.6 465.5L1104.6 481.2L1105.6 474.1L1106.5 451.6L1107.5 484.1L1108.5 482.2L1109.5 469.2L1110.5 471.5L1111.4 464.2L1112.4 461.9L1113.4 488.1L1114.4 489.6L1115.4 487.8L1116.4 475.5L1117.3 466.1L1118.3 473.1L1119.3 494.5L1120.3 471.2L1121.3 477.5L1122.3 487.7L1123.2 483.1L1124.2 481.8L1125.2 473.1L1126.2 480.2L1127.2 481.9L1128.2 489.2L1129.1 486.2L1130.1 496.6L1131.1 495.1L1132.1 481.8L1133.1 500.6L1134 486.7L1135 497.6L1136 495.5L1137 489.1L1138 489.5L1139 472.8L1139.9 490.4L1140.9 502.6L1141.9 481.7L1142.9 492.1L1143.9 478.1L1144.9 482.5L1145.8 486.6L1146.8 495.8L1147.8 502.6L1148.8 499.9L1149.8 506.4L1150.7 491.1L1151.7 500.6L1152.7 501.3L1153.7 502.2L1154.7 509.4L1155.7 489.2L1156.6 520.4L1157.6 510.5L1158.6 508.1L1159.6 500.5L1160.6 512.7L1161.6 501.5L1162.5 496.5L1163.5 502.2L1164.5 499.5L1165.5 499.2L1166.5 509.4L1167.4 512.5L1168.4 499.1L1169.4 524L1170.4 503L1171.4 516L1172.4 500.5L1173.3 480.6L1174.3 490.5L1175.3 509.3L1176.3 514L1177.3 516L1178.3 512L1179.2 510.3L1180.2 516.8L1181.2 512.1L1182.2 507.5L1183.2 513L1184.2 530.5L1185.1 528.5L1186.1 514.5L1187.1 516L1188.1 519.9L1189.1 518.6L1190 521.4L1191 538.8L1192 526.5L1193 516L1194 518.3L1195 508.5L1195.9 507.1L1196.9 511.6L1197.9 502.4L1198.9 516.1L1199.9 502L1200.9 506.6L1201.8 532.2L1202.8 526.6L1203.8 508.5L1203.8 530L1202.8 535.1L1201.8 533.7L1200.9 534.7L1199.9 541L1198.9 537.9L1197.9 523L1196.9 518.8L1195.9 530.6L1195 545.3L1194 546.3L1193 546L1192 543.4L1191 540.5L1190 528.2L1189.1 533.2L1188.1 534.1L1187.1 543.4L1186.1 533.9L1185.1 547.2L1184.2 538.8L1183.2 535L1182.2 532.5L1181.2 538.4L1180.2 542.3L1179.2 537.1L1178.3 528.7L1177.3 521.7L1176.3 524.8L1175.3 521.8L1174.3 516.1L1173.3 522.6L1172.4 529.1L1171.4 521.8L1170.4 514.8L1169.4 524.9L1168.4 521L1167.4 510.5L1166.5 521.4L1165.5 511.6L1164.5 536.5L1163.5 523.2L1162.5 527.9L1161.6 534.5L1160.6 517L1159.6 522.8L1158.6 506.9L1157.6 531.9L1156.6 511.3L1155.7 538.5L1154.7 514.6L1153.7 512.3L1152.7 529.6L1151.7 522.1L1150.7 518L1149.8 519.3L1148.8 519.6L1147.8 515.2L1146.8 498.1L1145.8 514.4L1144.9 508.3L1143.9 500.4L1142.9 496.7L1141.9 485.2L1140.9 505.6L1139.9 514L1139 506.8L1138 507.1L1137 505.4L1136 515.5L1135 531.8L1134 502.8L1133.1 520.2L1132.1 506.7L1131.1 513.1L1130.1 511.4L1129.1 512.6L1128.2 497.1L1127.2 511.9L1126.2 500.9L1125.2 499.4L1124.2 507.1L1123.2 491.7L1122.3 492.8L1121.3 491.3L1120.3 500.6L1119.3 502.7L1118.3 509.5L1117.3 505.9L1116.4 495.2L1115.4 499.9L1114.4 495L1113.4 506L1112.4 499L1111.4 494.9L1110.5 492.7L1109.5 493L1108.5 498.1L1107.5 493.2L1106.5 481.9L1105.6 478.6L1104.6 486.7L1103.6 494.9L1102.6 507.4L1101.6 471.9L1100.6 485L1099.7 495L1098.7 486.2L1097.7 488.5L1096.7 481.7L1095.7 487L1094.7 490.1L1093.8 494.4L1092.8 489.9L1091.8 486.1L1090.8 472.1L1089.8 492.5L1088.9 454.5L1087.9 468L1086.9 468.7L1085.9 467L1084.9 469.8L1083.9 464.2L1083 466.6L1082 466.1L1081 469.4L1080 481.5L1079 464.4L1078 453.6L1077.1 473.5L1076.1 464.7L1075.1 466.7L1074.1 456.8L1073.1 446.1L1072.2 477.6L1071.2 473.4L1070.2 463.6L1069.2 467.5L1068.2 469.3L1067.2 456.2L1066.3 472.8L1065.3 456.5L1064.3 458.4L1063.3 462.1L1062.3 464.1L1061.3 477.9L1060.4 443.5L1059.4 450.8L1058.4 460L1057.4 472.4L1056.4 450.2L1055.4 447.4L1054.5 452.8L1053.5 441.5L1052.5 458L1051.5 454.9L1050.5 458.9L1049.6 450.9L1048.6 457.5L1047.6 457.5L1046.6 464.2L1045.6 455L1044.6 429.4L1043.7 429.9L1042.7 435.6L1041.7 441.6L1040.7 436.4L1039.7 443.8L1038.7 441.9L1037.8 445L1036.8 429.5L1035.8 450.7L1034.8 433L1033.8 449.4L1032.9 445.1L1031.9 456.7L1030.9 454.7L1029.9 434.8L1028.9 450.3L1027.9 443.4L1027 428.4L1026 446.5L1025 443.3L1024 458.1L1023 453.5L1022 444.6L1021.1 451.4L1020.1 450.3L1019.1 435L1018.1 427.5L1017.1 434L1016.2 430.6L1015.2 432.2L1014.2 444.7L1013.2 452L1012.2 442.9L1011.2 443.8L1010.3 427.5L1009.3 433.6L1008.3 442.6L1007.3 434.6L1006.3 433.9L1005.3 416.1L1004.4 421.2L1003.4 422.2L1002.4 424.2L1001.4 400.1L1000.4 421.3L999.4 415.8L998.5 409.4L997.5 409.5L996.5 421.1L995.5 417.6L994.5 414.2L993.6 422.3L992.6 436.1L991.6 420.7L990.6 440.1L989.6 439.9L988.6 433.7L987.7 445.9L986.7 435.3L985.7 432.8L984.7 418.6L983.7 432.3L982.7 428.2L981.8 415.7L980.8 428.5L979.8 417.1L978.8 429.4L977.8 438.7L976.9 414.3L975.9 402.5L974.9 423.5L973.9 413.5L972.9 431.2L971.9 411L971 432.2L970 416.1L969 418.5L968 420.8L967 418.4L966 440.4L965.1 416.9L964.1 414.3L963.1 439.7L962.1 420.5L961.1 406.1L960.2 423.8L959.2 418.6L958.2 421.8L957.2 423.9L956.2 411.7L955.2 410.8L954.3 411.9L953.3 431.1L952.3 412.3L951.3 415.1L950.3 425.6L949.3 417.3L948.4 406.8L947.4 411.3L946.4 418.6L945.4 429.1L944.4 415.1L943.4 429.4L942.5 420.9L941.5 414.3L940.5 424.1L939.5 399.8Z" fill="#a1a0a4" stroke="#a1a0a4" stroke-width="1.0"/>
<path d="M912.1 371.9L913.1 370.6L914.1 391.2L915 383.8L916 396.8L917 385L918 403.7L918.9 397.2L919.9 395.4L920.9 365.2L921.9 419.9L922.8 404.3L923.8 388L924.8 381L925.8 384.2L926.7 382.8L927.7 385.7L928.7 390L929.7 385.5L930.6 388L931.6 402.6L932.6 378.5L933.6 404.7L934.5 377.7L935.5 398.5L936.5 402.1L937.5 390.4L938.4 424.3L939.4 358.5L940.4 385.7L941.4 375.4L942.3 401.9L943.3 401.3L944.3 408L945.3 402.8L946.2 409.2L947.2 419.8L948.2 411.4L949.2 422.2L950.1 415.6L951.1 439.3L952.1 403.3L953.1 408.5L954.1 403.7L955 404.9L956 420.4L957 431.9L958 427.3L958.9 440.1L959.9 429.1L960.9 442.2L961.9 442.2L962.8 447.3L963.8 449.4L964.8 437.6L965.8 470.8L966.7 469.3L967.7 456.5L968.7 476.2L969.7 460.5L970.6 486.8L971.6 491.3L972.6 473.7L973.6 496.7L974.5 492.9L975.5 497.4L976.5 495.2L977.5 499.8L978.4 505.7L979.4 506.6L980.4 526.2L981.4 526.4L982.3 512.9L983.3 512.8L984.3 531.2L985.3 537.8L986.2 551.6L987.2 538.3L988.2 547.2L989.2 550.3L990.1 553.1L991.1 552.9L992.1 557.5L993.1 557L994 553.4L995 552.4L996 564.1L997 564.4L998 562.9L998.9 569L999.9 574.9L1000.9 565L1001.9 568.7L1002.8 574L1003.8 570.6L1004.8 577.2L1005.8 580.7L1006.7 580.5L1007.7 583.6L1008.7 584.8L1009.7 590.3L1010.6 591.7L1011.6 586.6L1012.6 595.6L1013.6 594.7L1014.5 598.8L1015.5 601.5L1016.5 600.7L1017.5 601.1L1018.4 597.8L1019.4 596L1020.4 596.9L1021.4 602L1022.3 603.9L1023.3 600.3L1024.3 600.6L1025.3 605.5L1026.2 601.9L1027.2 604.6L1028.2 605.9L1029.2 603.4L1030.1 606.8L1031.1 602.3L1032.1 604.8L1033.1 605.7L1034 608.6L1035 608.2L1036 608.2L1037 606.2L1038 610L1038.9 611.1L1039.9 609.7L1040.9 610.5L1041.9 610.5L1042.8 611.3L1043.8 613L1044.8 612.3L1045.8 612.1L1046.7 613.1L1047.7 612.1L1048.7 612.2L1049.7 616.3L1050.6 616.8L1051.6 615L1052.6 614.6L1053.6 615.8L1054.5 616.3L1055.5 617.5L1056.5 617.4L1057.5 619.3L1058.4 618.5L1059.4 617L1060.4 618.5L1061.4 619L1062.3 618.6L1063.3 616.7L1064.3 618.8L1065.3 620.2L1066.2 620.2L1067.2 619.3L1068.2 621.8L1069.2 620.1L1070.1 621.1L1071.1 621.5L1072.1 623L1073.1 620.9L1074 620.5L1075 619.4L1076 620.4L1077 622.2L1077.9 621.7L1078.9 620.9L1079.9 621.8L1080.9 621.6L1081.9 622.4L1082.8 623.7L1083.8 624.8L1084.8 623.4L1085.8 623.3L1086.7 623.3L1087.7 625.4L1088.7 624.4L1089.7 623.4L1090.6 623L1091.6 623.3L1092.6 623.4L1093.6 624.4L1094.5 622.3L1095.5 624.2L1096.5 624.8L1097.5 624.2L1098.4 624.5L1099.4 624.7L1100.4 622.9L1101.4 624.5L1102.3 624.7L1103.3 623.4L1104.3 624.3L1105.3 624.1L1106.2 624.1L1107.2 623.2L1108.2 623.8L1109.2 621.4L1110.1 623.9L1111.1 624.4L1112.1 624.4L1113.1 625L1114 624.4L1115 625L1116 625.9L1117 626L1117.9 624.5L1118.9 625.7L1119.9 624.4L1120.9 625.3L1121.9 626.9L1122.8 626.8L1123.8 626.8L1124.8 625.3L1125.8 625.3L1126.7 626.2L1127.7 626.8L1128.7 627.4L1129.7 627.6L1130.6 627.1L1131.6 625.8L1132.6 626.5L1133.6 626.7L1134.5 626.1L1135.5 625.9L1136.5 626.6L1137.5 627.7L1138.4 625.8L1139.4 626.8L1140.4 625.4L1141.4 627.6L1142.3 627.4L1143.3 626.1L1144.3 625.2L1145.3 627.5L1146.2 626.5L1147.2 626.1L1148.2 625.9L1149.2 624.8L1150.1 625.8L1151.1 626.8L1152.1 625L1153.1 626.1L1154 625.1L1155 626.1L1156 625.3L1157 626.8L1157.9 625.1L1158.9 626.5L1159.9 626.8L1160.9 627.3L1161.8 625.7L1162.8 628L1163.8 625.7L1164.8 626.3L1165.8 627.4L1166.7 627.1L1167.7 626.6L1168.7 627.7L1169.7 627.5L1170.6 627.4L1171.6 625.9L1172.6 626.7L1173.6 627.5L1174.5 627.3L1175.5 626.8L1176.5 627.1L1177.5 627.3L1178.4 627.8L1179.4 627.4L1180.4 626.4L1181.4 627.9L1182.3 628.1L1183.3 627.8L1184.3 628L1185.3 626.9L1186.2 627L1187.2 627.5L1188.2 626.7L1189.2 627L1190.1 626.1L1191.1 627.2L1192.1 627.4L1193.1 628L1194 628.2L1195 629.7L1196 627.8L1197 627.1L1197.9 628L1198.9 627.7L1199.9 628.6L1200.9 627.9L1201.8 626.4L1202.8 627.6L1203.8 627L1203.8 628.8L1202.8 627.7L1201.8 629.9L1200.9 629.1L1199.9 629.1L1198.9 629.9L1197.9 629.9L1197 629.2L1196 628.6L1195 629.5L1194 629.9L1193.1 629.5L1192.1 628.4L1191.1 628L1190.1 628.4L1189.2 629.3L1188.2 630.1L1187.2 628.3L1186.2 629.6L1185.3 628.2L1184.3 629L1183.3 627.5L1182.3 629.1L1181.4 628.3L1180.4 628.8L1179.4 629.4L1178.4 629.7L1177.5 628L1176.5 628.4L1175.5 628.2L1174.5 629.2L1173.6 630.3L1172.6 628.9L1171.6 627.5L1170.6 628.3L1169.7 628.4L1168.7 629.3L1167.7 627.8L1166.7 627.8L1165.8 628L1164.8 629.2L1163.8 628.3L1162.8 628.1L1161.8 629.4L1160.9 628.8L1159.9 629.2L1158.9 627.8L1157.9 628.9L1157 627.5L1156 628.7L1155 626.8L1154 627.6L1153.1 627.9L1152.1 628.5L1151.1 626.8L1150.1 627.7L1149.2 627.2L1148.2 627.7L1147.2 627.7L1146.2 628.9L1145.3 628.9L1144.3 628.3L1143.3 628.1L1142.3 628.3L1141.4 628.1L1140.4 628.1L1139.4 628.3L1138.4 626.7L1137.5 628.1L1136.5 627.6L1135.5 629.7L1134.5 627.9L1133.6 628.2L1132.6 627.3L1131.6 627.6L1130.6 628.6L1129.7 630.6L1128.7 629.1L1127.7 628.2L1126.7 627.8L1125.8 627.9L1124.8 628.1L1123.8 628L1122.8 629L1121.9 629.6L1120.9 628.8L1119.9 627.4L1118.9 626.7L1117.9 627.5L1117 627.3L1116 628.4L1115 626L1114 626.5L1113.1 626.1L1112.1 627.7L1111.1 625.9L1110.1 625.9L1109.2 625.7L1108.2 626.6L1107.2 626.6L1106.2 626.9L1105.3 626.5L1104.3 625.1L1103.3 626.6L1102.3 629.2L1101.4 627.1L1100.4 626L1099.4 627.5L1098.4 625.1L1097.5 625.3L1096.5 627L1095.5 626.4L1094.5 626L1093.6 625.5L1092.6 625.9L1091.6 626.3L1090.6 624.2L1089.7 623.4L1088.7 626.5L1087.7 626.9L1086.7 625.1L1085.8 626.4L1084.8 624.8L1083.8 624.8L1082.8 625.5L1081.9 625.1L1080.9 625.4L1079.9 624.4L1078.9 625.4L1077.9 624.4L1077 621.8L1076 623.8L1075 623.5L1074 622.2L1073.1 623.6L1072.1 626.5L1071.1 623.1L1070.1 625.4L1069.2 623.4L1068.2 623.4L1067.2 622.7L1066.2 623.7L1065.3 622.8L1064.3 622.6L1063.3 622.4L1062.3 622.2L1061.4 621.8L1060.4 621.6L1059.4 621.4L1058.4 622L1057.5 622.9L1056.5 619.2L1055.5 620.1L1054.5 616.9L1053.6 618.7L1052.6 621.1L1051.6 616.6L1050.6 619.8L1049.7 617.6L1048.7 617.9L1047.7 616.4L1046.7 619.2L1045.8 617.7L1044.8 616.7L1043.8 618.1L1042.8 615.9L1041.9 617L1040.9 616.2L1039.9 615L1038.9 615.3L1038 613.2L1037 615.8L1036 611.2L1035 612L1034 611.8L1033.1 612L1032.1 611.5L1031.1 610.8L1030.1 609.8L1029.2 610.6L1028.2 610.9L1027.2 608.6L1026.2 611.1L1025.3 609L1024.3 610L1023.3 612.1L1022.3 606.5L1021.4 606.6L1020.4 610.2L1019.4 610.5L1018.4 604.8L1017.5 610.7L1016.5 607L1015.5 605.9L1014.5 604.7L1013.6 602.8L1012.6 600.1L1011.6 597.7L1010.6 598.9L1009.7 600.9L1008.7 594.9L1007.7 594L1006.7 589.9L1005.8 588.2L1004.8 592.3L1003.8 591.1L1002.8 587.1L1001.9 581.6L1000.9 585L999.9 585.5L998.9 583.2L998 579.2L997 585.4L996 578.6L995 578.1L994 575.5L993.1 567.9L992.1 581.2L991.1 571.3L990.1 568.9L989.2 571.9L988.2 561.7L987.2 563L986.2 566.3L985.3 558.3L984.3 553.6L983.3 550L982.3 542.2L981.4 540.1L980.4 545.1L979.4 531.4L978.4 529.6L977.5 527.3L976.5 535.5L975.5 517.7L974.5 529L973.6 516.2L972.6 532L971.6 531.7L970.6 509L969.7 493.3L968.7 515.8L967.7 508.1L966.7 492.2L965.8 484.3L964.8 467.6L963.8 478.2L962.8 480L961.9 480.9L960.9 474.3L959.9 469.6L958.9 461.8L958 464L957 459.5L956 467.9L955 465.1L954.1 466.6L953.1 474.7L952.1 462.7L951.1 470.3L950.1 442.4L949.2 445.7L948.2 446.3L947.2 443.1L946.2 444.4L945.3 437.2L944.3 427.6L943.3 419.3L942.3 432.6L941.4 442.6L940.4 421.2L939.4 424L938.4 426.2L937.5 439.1L936.5 424.4L935.5 406.7L934.5 433.3L933.6 429.5L932.6 431.6L931.6 447.7L930.6 411.8L929.7 439.6L928.7 408.7L927.7 412.9L926.7 399.6L925.8 408.7L924.8 433.8L923.8 418.3L922.8 431.1L921.9 412.8L920.9 401.9L919.9 416.3L918.9 407.3L918 451.1L917 415.3L916 400L915 416.7L914.1 424.2L913.1 424.1L912.1 393.2Z" fill="#7f80c9" stroke="#7f80c9" stroke-width="1.0"/>
<path d="M953.8 409.4L958.1 409.8L962.3 410.3L966.5 410.9L970.8 411.6L975 412.4L979.2 413.3L983.5 414.3L987.7 415.4L991.9 416.7L996.2 418L1000.4 419.5L1004.7 421L1008.9 422.7L1013.1 424.5L1017.4 426.4L1021.6 428.4L1025.8 430.5L1030.1 432.7L1034.3 434.9L1038.6 437.3L1042.8 439.7L1047 442.2L1051.3 444.8L1055.5 447.4L1059.7 450.1L1064 452.8L1068.2 455.5L1072.5 458.2L1076.7 461L1080.9 463.8L1085.2 466.5L1089.4 469.3L1093.6 472L1097.9 474.8L1102.1 477.5L1106.3 480.2L1110.6 482.8L1114.8 485.4L1119.1 488L1123.3 490.5L1127.5 493L1131.8 495.4L1136 497.8L1140.2 500.1L1144.5 502.4L1148.7 504.6L1153 506.8L1157.2 508.9L1161.4 510.9L1165.7 512.9L1169.9 514.9L1174.1 516.8L1178.4 518.6L1182.6 520.4L1186.9 522.1L1191.1 523.7L1195.3 525.3L1199.6 526.9L1203.8 528.4" stroke="#6f6f6f" stroke-width="3.7"/>
<path d="M912.1 406.5L914.6 406.5L917 406.6L919.5 406.6L921.9 406.8L924.4 407.2L926.8 407.7L929.3 408.6L931.7 409.9L934.2 411.6L936.6 413.9L939.1 416.7L941.5 420.2L944 424.4L946.4 429.4L948.9 435L951.3 441.2L953.8 448.1L956.2 455.5L958.7 463.4L961.1 471.5L963.6 479.9L966 488.4L968.5 496.8L970.9 505.2L973.4 513.3L975.8 521.1L978.3 528.7L980.7 535.8L983.2 542.6L985.6 549L988.1 554.9L990.5 560.5L993 565.7L995.4 570.4L997.9 574.8L1000.3 578.9L1002.8 582.6L1005.2 586.1L1007.7 589.2L1010.2 592.2L1012.6 594.8L1015.1 597.3L1017.5 599.5L1020 601.6L1022.4 603.5L1024.9 605.3L1027.3 606.9L1029.8 608.3L1032.2 609.7L1034.7 611L1037.1 612.1L1039.6 613.2L1042 614.2L1044.5 615.1L1046.9 616L1049.4 616.8L1051.8 617.5L1054.3 618.2L1056.7 618.8L1059.2 619.4L1061.6 619.9L1064.1 620.5L1066.5 620.9L1069 621.4L1071.4 621.8L1073.9 622.2L1076.3 622.5L1078.8 622.9L1081.2 623.2L1083.7 623.5L1086.1 623.8L1088.6 624.1L1091 624.3L1093.5 624.5L1095.9 624.8L1098.4 625L1100.8 625.2L1103.3 625.3L1105.7 625.5L1108.2 625.7L1110.7 625.8L1113.1 626L1115.6 626.1L1118 626.3L1120.5 626.4L1122.9 626.5L1125.4 626.6L1127.8 626.7L1130.3 626.8L1132.7 626.9L1135.2 627L1137.6 627.1L1140.1 627.2L1142.5 627.3L1145 627.3L1147.4 627.4L1149.9 627.5L1152.3 627.5L1154.8 627.6L1157.2 627.7L1159.7 627.7L1162.1 627.8L1164.6 627.8L1167 627.9L1169.5 627.9L1171.9 628L1174.4 628L1176.8 628.1L1179.3 628.1L1181.7 628.1L1184.2 628.2L1186.6 628.2L1189.1 628.2L1191.5 628.3L1194 628.3L1196.4 628.3L1198.9 628.4L1201.3 628.4L1203.8 628.4" stroke="#2b4ea8" stroke-width="4"/>
</g>
<rect x="912.1" y="357.4" width="291.7" height="290.8" fill="none" stroke="#4d4d4d" stroke-width="1"/>
<path d="M912.1 648.2 v-4.8 M912.1 648.2 h4.8 M941.3 648.2 v-2.5 M912.1 619.1 h2.5 M970.4 648.2 v-2.5 M912.1 590.0 h2.5 M999.6 648.2 v-2.5 M912.1 561.0 h2.5 M1028.8 648.2 v-2.5 M912.1 531.9 h2.5 M1058.0 648.2 v-4.8 M912.1 502.8 h4.8 M1087.1 648.2 v-2.5 M912.1 473.7 h2.5 M1116.3 648.2 v-2.5 M912.1 444.6 h2.5 M1145.5 648.2 v-2.5 M912.1 415.6 h2.5 M1174.6 648.2 v-2.5 M912.1 386.5 h2.5 M1203.8 648.2 v-4.8 M912.1 357.4 h4.8 " stroke="#333" stroke-width="0.9" fill="none"/>
<text x="908.20" y="653.70" font-size="14.8" text-anchor="end" fill="#3c3c3c" textLength="18.80" lengthAdjust="spacingAndGlyphs">0.0</text>
<text x="912.50" y="667.70" font-size="14.8" text-anchor="middle" fill="#3c3c3c" textLength="18.80" lengthAdjust="spacingAndGlyphs">0.0</text>
<text x="908.20" y="508.30" font-size="14.8" text-anchor="end" fill="#3c3c3c" textLength="18.80" lengthAdjust="spacingAndGlyphs">0.5</text>
<text x="1058.35" y="667.70" font-size="14.8" text-anchor="middle" fill="#3c3c3c" textLength="18.80" lengthAdjust="spacingAndGlyphs">0.5</text>
<text x="908.20" y="362.90" font-size="14.8" text-anchor="end" fill="#3c3c3c" textLength="18.80" lengthAdjust="spacingAndGlyphs">1.0</text>
<text x="1204.20" y="667.70" font-size="14.8" text-anchor="middle" fill="#3c3c3c" textLength="18.80" lengthAdjust="spacingAndGlyphs">1.0</text>
<text x="1059.00" y="696.80" font-size="19.3" text-anchor="middle" fill="#3c3c3c" textLength="220.70" lengthAdjust="spacingAndGlyphs">Relative Field Length (x/L)</text>
<text x="876.00" y="511.60" font-size="19.3" text-anchor="middle" fill="#3c3c3c" transform="rotate(-90 876.00 511.60)" textLength="301.00" lengthAdjust="spacingAndGlyphs">Normalized Reporter Fluorescence</text>
<path d="M1036 561 H1075" stroke="#7f80c9" stroke-width="1.8"/><path d="M1036 592.8 H1075" stroke="#9d9d9d" stroke-width="1.8"/>
<text x="1097.70" y="566.00" font-size="14" text-anchor="start" fill="#3c3c3c" textLength="101.00" lengthAdjust="spacingAndGlyphs">Degrader (Sink)</text>
<text x="1097.70" y="597.80" font-size="14" text-anchor="start" fill="#3c3c3c" textLength="99.00" lengthAdjust="spacingAndGlyphs">HEK 293T (Null)</text>
<text x="138.20" y="739.70" font-size="18" text-anchor="middle" fill="#000" textLength="105.60" lengthAdjust="spacingAndGlyphs">Field Length</text>
<path d="M28.5 755.7 H44.4 V787.3 H28.5" fill="none" stroke="#ea3a45" stroke-width="1.2"/><text x="27.18" y="771.70" font-size="18.5" text-anchor="middle" fill="#e60012" transform="rotate(90 27.18 771.70)" textLength="10.18" lengthAdjust="spacingAndGlyphs" stroke="#e60012" stroke-width="0.55">S</text>

<path d="M47.6 771.5 H228.6 M47.6 767.6 v7.8 M228.6 767.6 v7.8" stroke="#000" stroke-width="1.5" fill="none"/><text x="138.20" y="767.10" font-size="18" text-anchor="middle" fill="#000" textLength="27.50" lengthAdjust="spacingAndGlyphs">2 X</text>
<path d="M247.7 755.7 H232.3 V787.3 H247.7" fill="none" stroke="#2a7cc6" stroke-width="1.2"/><text x="237.25" y="771.50" font-size="16" text-anchor="middle" fill="#1b6fbe" font-weight="bold" transform="rotate(90 237.25 771.50)">D</text>

<path d="M28.5 818.4 H44.4 V850.0 H28.5" fill="none" stroke="#ea3a45" stroke-width="1.2"/><text x="27.18" y="834.40" font-size="18.5" text-anchor="middle" fill="#e60012" transform="rotate(90 27.18 834.40)" textLength="10.18" lengthAdjust="spacingAndGlyphs" stroke="#e60012" stroke-width="0.55">S</text>

<path d="M47.6 834.2 H134.5 M47.6 830.3 v7.8 M134.5 830.3 v7.8" stroke="#000" stroke-width="1.5" fill="none"/><text x="91.20" y="829.40" font-size="18" text-anchor="middle" fill="#000" textLength="27.00" lengthAdjust="spacingAndGlyphs">1 X</text>
<path d="M153.9 818.4 H138.5 V850.0 H153.9" fill="none" stroke="#2a7cc6" stroke-width="1.2"/><text x="143.45" y="834.20" font-size="16" text-anchor="middle" fill="#1b6fbe" font-weight="bold" transform="rotate(90 143.45 834.20)">D</text>

<path d="M28.5 881.4 H44.4 V913.0 H28.5" fill="none" stroke="#ea3a45" stroke-width="1.2"/><text x="27.18" y="897.40" font-size="18.5" text-anchor="middle" fill="#e60012" transform="rotate(90 27.18 897.40)" textLength="10.18" lengthAdjust="spacingAndGlyphs" stroke="#e60012" stroke-width="0.55">S</text>

<path d="M47.6 897.2 H86.8 M47.6 893.3 v7.8 M86.8 893.3 v7.8" stroke="#000" stroke-width="1.5" fill="none"/><text x="67.20" y="892.60" font-size="18" text-anchor="middle" fill="#000" textLength="32.00" lengthAdjust="spacingAndGlyphs">½ X</text>
<path d="M106.6 881.4 H91.2 V913.0 H106.6" fill="none" stroke="#2a7cc6" stroke-width="1.2"/><text x="96.15" y="897.20" font-size="16" text-anchor="middle" fill="#1b6fbe" font-weight="bold" transform="rotate(90 96.15 897.20)">D</text>

<text x="138.50" y="955.20" font-size="18" text-anchor="middle" fill="#000" textLength="149.20" lengthAdjust="spacingAndGlyphs">Degrader Counts</text>
<path d="M27.3 971.0 H42.6 V1002.6 H27.3" fill="none" stroke="#ea3a45" stroke-width="1.2"/><text x="25.73" y="987.00" font-size="17.5" text-anchor="middle" fill="#e60012" transform="rotate(90 25.73 987.00)" textLength="9.62" lengthAdjust="spacingAndGlyphs" stroke="#e60012" stroke-width="0.55">S</text>

<path d="M55 986.8 H207.4" stroke="#000" stroke-width="1.5" fill="none"/><path d="M218.8 986.8 L199.8 978.9 L205.5 986.8 L199.8 994.7 Z" fill="#000"/>
<text x="257.10" y="993.80" font-size="18" text-anchor="start" fill="#000" textLength="27.50" lengthAdjust="spacingAndGlyphs">2 X</text>
<path d="M27.3 1033.5 H42.6 V1065.1 H27.3" fill="none" stroke="#ea3a45" stroke-width="1.2"/><text x="25.73" y="1049.50" font-size="17.5" text-anchor="middle" fill="#e60012" transform="rotate(90 25.73 1049.50)" textLength="9.62" lengthAdjust="spacingAndGlyphs" stroke="#e60012" stroke-width="0.55">S</text>

<path d="M55 1049.3 H209.1" stroke="#000" stroke-width="1.5" fill="none"/><path d="M218.8 1049.3 L202.7 1042.9 L207.5 1049.3 L202.7 1055.7 Z" fill="#000"/>
<text x="257.10" y="1056.30" font-size="18" text-anchor="start" fill="#000" textLength="27.50" lengthAdjust="spacingAndGlyphs">1 X</text>
<path d="M27.3 1096.3 H42.6 V1127.9 H27.3" fill="none" stroke="#ea3a45" stroke-width="1.2"/><text x="25.73" y="1112.30" font-size="17.5" text-anchor="middle" fill="#e60012" transform="rotate(90 25.73 1112.30)" textLength="9.62" lengthAdjust="spacingAndGlyphs" stroke="#e60012" stroke-width="0.55">S</text>

<path d="M55 1112.1 H211.1" stroke="#000" stroke-width="1.5" fill="none"/><path d="M218.8 1112.1 L206.0 1106.6 L209.8 1112.1 L206.0 1117.5 Z" fill="#000"/>
<text x="257.10" y="1118.50" font-size="18" text-anchor="start" fill="#000" textLength="32.50" lengthAdjust="spacingAndGlyphs">½ X</text>
<path d="M227 967.1 H246.7 V976.5 H235.4 V997.5 H246.7 V1006.8 H227 Z" fill="#1b6fbe"/><text x="236.20" y="986.80" font-size="16" text-anchor="middle" fill="#1b6fbe" transform="rotate(90 236.20 986.80)" stroke="#1b6fbe" stroke-width="0.4">D</text>

<path d="M228.9 1031.8 H246.7 V1035.8 H233.1 V1062.9 H246.7 V1066.9 H228.9 Z" fill="#1b6fbe"/><text x="236.20" y="1049.30" font-size="16" text-anchor="middle" fill="#1b6fbe" transform="rotate(90 236.20 1049.30)" stroke="#1b6fbe" stroke-width="0.4">D</text>

<path d="M246.7 1096.3 H230.7 V1127.9 H246.7" fill="none" stroke="#2a7cc6" stroke-width="1.2"/><text x="235.70" y="1112.10" font-size="17" text-anchor="middle" fill="#1b6fbe" transform="rotate(90 235.70 1112.10)" textLength="11.30" lengthAdjust="spacingAndGlyphs" stroke="#1b6fbe" stroke-width="0.45">D</text>

<text x="138.10" y="1173.00" font-size="18" text-anchor="middle" fill="#000" textLength="155.00" lengthAdjust="spacingAndGlyphs">Signal Diffusibility</text>
<path d="M28.8 1189.1 H44.1 V1220.7 H28.8" fill="none" stroke="#ea3a45" stroke-width="1.2"/><text x="26.96" y="1205.10" font-size="18" text-anchor="middle" fill="#e60012" transform="rotate(90 26.96 1205.10)" textLength="9.90" lengthAdjust="spacingAndGlyphs" stroke="#e60012" stroke-width="0.55">S</text>

<circle cx="54.7" cy="1205.2" r="2.5" fill="#000"/><path d="M54.7 1204.9 L56.7 1204.9L57.2 1204.4L57.8 1203.6L58.4 1202.7L58.9 1201.8L59.5 1201.1L60.0 1201.0L60.6 1201.6L61.1 1202.5L61.7 1203.6L62.2 1204.9L62.8 1206.2L63.3 1207.3L63.9 1208.2L64.4 1208.8L65.0 1209.0L65.5 1208.8L66.0 1208.2L66.6 1207.3L67.2 1206.2L67.7 1204.9L68.2 1203.6L68.8 1202.5L69.3 1201.6L69.9 1201.0L70.5 1200.8L71.0 1201.0L71.5 1201.6L72.1 1202.5L72.7 1203.6L73.2 1204.9L73.8 1206.2L74.3 1207.3L74.8 1208.2L75.4 1208.8L76.0 1209.0L76.5 1208.8L77.0 1208.2L77.6 1207.3L78.2 1206.2L78.7 1204.9L79.2 1203.6L79.8 1202.5L80.3 1201.6L80.9 1201.0L81.5 1200.8L82.0 1201.0L82.6 1201.6L83.1 1202.5L83.7 1203.6L84.2 1204.9L84.8 1206.2L85.3 1207.3L85.8 1208.2L86.4 1208.8L87.0 1209.0L87.5 1208.8L88.0 1208.2L88.6 1207.3L89.2 1206.2L89.7 1204.9L90.2 1203.6L90.8 1202.5L91.3 1201.6L91.9 1201.0L92.5 1200.8L93.0 1201.0L93.5 1201.6L94.1 1202.5L94.7 1203.6L95.2 1204.9L95.8 1206.2L96.3 1207.3L96.8 1208.2L97.4 1208.8L97.9 1209.0L98.5 1208.8L99.0 1208.2L99.6 1207.3L100.2 1206.2L100.7 1204.9L101.2 1203.6L101.8 1202.5L102.3 1201.6L102.9 1201.0L103.5 1200.8L104.0 1201.0L104.5 1201.6L105.1 1202.5L105.7 1203.6L106.2 1204.9L106.8 1206.2L107.3 1207.3L107.8 1208.2L108.4 1208.8L109.0 1209.0L109.5 1208.8L110.1 1208.2L110.6 1207.3L111.2 1206.2L111.7 1204.9L112.2 1203.6L112.8 1202.5L113.3 1201.6L113.9 1201.0L114.4 1200.8L115.0 1201.0L115.6 1201.6L116.1 1202.5L116.6 1203.6L117.2 1204.9L117.8 1206.2L118.3 1207.3L118.8 1208.2L119.4 1208.8L119.9 1209.0L120.5 1208.8L121.0 1208.2L121.6 1207.3L122.2 1206.2L122.7 1204.9L123.2 1203.6L123.8 1202.5L124.3 1201.6L124.9 1201.0L125.4 1200.8L126.0 1201.0L126.5 1201.6L127.1 1202.5L127.7 1203.6L128.2 1204.9L128.8 1206.2L129.3 1207.3L129.8 1208.1L130.4 1208.5L130.9 1208.6L131.5 1208.3L132.1 1207.7L132.6 1206.8L133.2 1205.9L133.7 1204.9L134.2 1204.0L134.8 1203.3L135.3 1202.8L135.9 1202.5L136.4 1202.5L137.0 1202.8L137.6 1203.2L138.1 1203.7L138.6 1204.3L139.2 1204.9L139.8 1205.4L140.3 1205.7 L148.3 1204.9" fill="none" stroke="#000" stroke-width="1.35" stroke-linejoin="round"/><path d="M153.6 1204.9 L146.3 1202.0 L148.1 1204.9 L146.3 1207.8 Z" fill="#000"/>
<text x="169.40" y="1210.80" font-size="18" text-anchor="start" fill="#000" textLength="27.50" lengthAdjust="spacingAndGlyphs">2 X</text>
<path d="M248.0 1189.1 H232.4 V1220.7 H248.0" fill="none" stroke="#2a7cc6" stroke-width="1.2"/><text x="237.40" y="1204.90" font-size="17" text-anchor="middle" fill="#1b6fbe" transform="rotate(90 237.40 1204.90)" textLength="11.30" lengthAdjust="spacingAndGlyphs" stroke="#1b6fbe" stroke-width="0.45">D</text>

<path d="M28.8 1251.8 H44.1 V1283.4 H28.8" fill="none" stroke="#ea3a45" stroke-width="1.2"/><text x="26.96" y="1267.80" font-size="18" text-anchor="middle" fill="#e60012" transform="rotate(90 26.96 1267.80)" textLength="9.90" lengthAdjust="spacingAndGlyphs" stroke="#e60012" stroke-width="0.55">S</text>

<circle cx="54.7" cy="1267.9" r="2.5" fill="#000"/><path d="M54.7 1267.6 L56.7 1267.6L57.2 1267.1L57.8 1266.3L58.4 1265.4L58.9 1264.5L59.5 1263.8L60.0 1263.7L60.6 1264.3L61.1 1265.2L61.7 1266.3L62.2 1267.6L62.8 1268.9L63.3 1270.0L63.9 1270.9L64.4 1271.5L65.0 1271.7L65.5 1271.5L66.0 1270.9L66.6 1270.0L67.2 1268.9L67.7 1267.6L68.2 1266.3L68.8 1265.2L69.4 1264.3L69.9 1263.7L70.5 1263.5L71.0 1263.7L71.6 1264.3L72.1 1265.2L72.7 1266.3L73.2 1267.6L73.8 1268.9L74.3 1270.0L74.8 1270.9L75.4 1271.5L76.0 1271.7L76.5 1271.5L77.0 1270.9L77.6 1270.0L78.2 1268.9L78.7 1267.6L79.2 1266.3L79.8 1265.2L80.4 1264.3L80.9 1263.7L81.5 1263.5L82.0 1263.7L82.6 1264.3L83.1 1265.2L83.7 1266.3L84.2 1267.6L84.8 1268.9L85.3 1270.0L85.9 1270.8L86.4 1271.2L87.0 1271.3L87.5 1271.0L88.1 1270.4L88.6 1269.5L89.2 1268.6L89.7 1267.6L90.2 1266.7L90.8 1266.0L91.3 1265.5L91.9 1265.2L92.5 1265.2L93.0 1265.5L93.6 1265.9L94.1 1266.4L94.7 1267.0L95.2 1267.6L95.8 1268.1L96.3 1268.4 L104.3 1267.6" fill="none" stroke="#000" stroke-width="1.35" stroke-linejoin="round"/><path d="M109.6 1267.6 L102.3 1264.7 L104.1 1267.6 L102.3 1270.5 Z" fill="#000"/>
<text x="125.60" y="1273.30" font-size="18" text-anchor="start" fill="#000" textLength="27.50" lengthAdjust="spacingAndGlyphs">1 X</text>
<path d="M248.0 1251.8 H232.4 V1283.4 H248.0" fill="none" stroke="#2a7cc6" stroke-width="1.2"/><text x="237.40" y="1267.60" font-size="17" text-anchor="middle" fill="#1b6fbe" transform="rotate(90 237.40 1267.60)" textLength="11.30" lengthAdjust="spacingAndGlyphs" stroke="#1b6fbe" stroke-width="0.45">D</text>

<path d="M28.8 1314.1 H44.1 V1345.7 H28.8" fill="none" stroke="#ea3a45" stroke-width="1.2"/><text x="26.96" y="1330.10" font-size="18" text-anchor="middle" fill="#e60012" transform="rotate(90 26.96 1330.10)" textLength="9.90" lengthAdjust="spacingAndGlyphs" stroke="#e60012" stroke-width="0.55">S</text>

<circle cx="54.7" cy="1330.2" r="2.5" fill="#000"/><path d="M54.7 1329.9 L56.7 1329.9L57.2 1329.4L57.8 1328.6L58.4 1327.7L58.9 1326.8L59.5 1326.1L60.0 1326.0L60.6 1326.6L61.1 1327.5L61.7 1328.6L62.2 1329.9L62.8 1331.2L63.3 1332.3L63.9 1333.2L64.4 1333.7L65.0 1333.7L65.5 1333.4L66.0 1332.8L66.6 1331.9L67.2 1330.9L67.7 1329.9L68.2 1329.0L68.8 1328.2L69.4 1327.7L69.9 1327.4L70.5 1327.4L71.0 1327.6L71.5 1328.1L72.1 1328.7L72.7 1329.3L73.2 1329.9L73.8 1330.4L74.3 1330.8L74.8 1331.1 L82.8 1329.9" fill="none" stroke="#000" stroke-width="1.35" stroke-linejoin="round"/><path d="M88.1 1329.9 L80.8 1327.0 L82.6 1329.9 L80.8 1332.8 Z" fill="#000"/>
<text x="103.40" y="1335.80" font-size="18" text-anchor="start" fill="#000" textLength="32.50" lengthAdjust="spacingAndGlyphs">½ X</text>
<path d="M248.0 1314.1 H232.4 V1345.7 H248.0" fill="none" stroke="#2a7cc6" stroke-width="1.2"/><text x="237.40" y="1329.90" font-size="17" text-anchor="middle" fill="#1b6fbe" transform="rotate(90 237.40 1329.90)" textLength="11.30" lengthAdjust="spacingAndGlyphs" stroke="#1b6fbe" stroke-width="0.45">D</text>

<clipPath id="cH1"><rect x="424.1" y="743.6" width="290.8" height="145.4"/></clipPath>
<g clip-path="url(#cH1)" stroke-linejoin="round">
<path d="M424.1 728.6L425.1 735.9L426.1 742.7L427.1 746.1L428.1 753L429.1 788.2L430.1 750.3L431.1 786.5L432.1 752.5L433.1 783.9L434.1 745.6L435.1 717.1L436.1 774.5L437.1 770.5L438.1 761.7L439.1 786.7L440.1 768.3L441.1 807.7L442.1 795.1L443.1 781.7L444.1 761.8L445.1 777.6L446.1 760.4L447.1 753.9L448.1 774.5L449.1 801.8L450.1 764.4L451.1 783L452.1 796.5L453.1 807.2L454.1 785.3L455.1 793.3L456.1 768.8L457.1 792.9L458.1 804.2L459.1 796.7L460.1 775.2L461.1 800.1L462.1 800.7L463.1 782.9L464.1 801.1L465.1 788.7L466.1 799.9L467.1 815.4L468.1 819L469.1 804.9L470.1 821.7L471.1 821.8L472.1 813.5L473.1 825.8L474.1 812.4L475.1 819.5L476.1 819.7L477.1 826.7L478.1 818.7L479.1 818.7L480.1 821.6L481.1 823.7L482.1 816.4L483.1 800.2L484.1 826.6L485.1 820.6L486.1 813.6L487.1 827.9L488.1 813.2L489.1 812.1L490.1 809.1L491.1 805.7L492.1 829L493.1 823.8L494.1 825.5L495.1 826.8L496.1 840.1L497 828.3L498 823.3L499 816.8L500 824.9L501 832.4L502 830.9L503 828.5L504 840.8L505 834.9L506 833.9L507 842.1L508 834L509 835.3L510 830.7L511 830.4L512 841.4L513 837.5L514 833.3L515 837.7L516 849.4L517 829.5L518 835.8L519 848.6L520 836.4L521 852.4L522 841.7L523 846L524 844.8L525 856L526 854.8L527 859.7L528 858.3L529 847.4L530 848.8L531 854L532 863.8L533 864.4L534 857L535 862.7L536 852.8L537 870.7L538 869.6L539 850.7L540 860.7L541 849.7L542 854L543 856.3L544 861.5L545 866.8L546 852.4L547 873.3L548 869.5L549 863.8L550 871.1L551 864.2L552 859.6L553 864.3L554 869.8L555 872.7L556 857.4L557 873.6L558 857.6L559 864.8L560 863.9L561 857.8L562 867.4L563 861.2L564 867.1L565 874.2L566 866.1L567 865.4L568 865.7L569 864.6L570 857.8L571 868.2L572 878.3L573 860.9L574 863.6L575 866L576 865.4L577 871.8L578 864.7L579 857.7L580 861.5L581 860.5L582 858.4L583 877.9L584 869.3L585 867.3L586 861.9L587 870.8L588 873.1L589 869.9L590 874.5L591 867.2L592 867L593 853.9L594 866.7L595 868L596 867.1L597 870.7L598 860L599 859.5L600 866.9L601 862.3L602 866.7L603 864.8L604 865.2L605 863.1L606 865.4L607 864.9L608 867.3L609 863L610 859.2L611 864.7L612 869.3L613 862.4L614 868.9L615 862.8L616 865.5L617 866.5L618 860.2L619 854L620 866.6L621 861.7L622 871.6L623 869.8L624 854.4L625 860.7L626 868.8L627 861.7L628 860.8L629 861.4L630 854.4L631 862.1L632 858.7L633 861.9L634 861.3L635 863.5L636 864.6L637 864.5L638 869.3L639 865.3L640 854L641 856.6L642 862.4L642.9 862.8L643.9 865.9L644.9 868.3L645.9 870.1L646.9 867.5L647.9 872.3L648.9 863.3L649.9 864.1L650.9 869.9L651.9 868.7L652.9 869.2L653.9 863.6L654.9 860.5L655.9 866.5L656.9 863.5L657.9 867.5L658.9 873.4L659.9 872.8L660.9 857.6L661.9 865.9L662.9 870.1L663.9 867.9L664.9 869.9L665.9 869.9L666.9 863.9L667.9 870.5L668.9 868.5L669.9 868.5L670.9 863.3L671.9 876.4L672.9 869.8L673.9 868L674.9 871L675.9 868.2L676.9 856.4L677.9 866.9L678.9 859.2L679.9 860.4L680.9 855.7L681.9 863.7L682.9 863.7L683.9 861L684.9 855.6L685.9 861.9L686.9 867L687.9 859.9L688.9 863.7L689.9 868.8L690.9 862.2L691.9 858.9L692.9 868.1L693.9 869.1L694.9 864.5L695.9 871.5L696.9 867.5L697.9 873.1L698.9 868.9L699.9 868L700.9 860.2L701.9 862.9L702.9 855.7L703.9 859.4L704.9 856.8L705.9 860.4L706.9 863.6L707.9 855.7L708.9 870.2L709.9 860.1L710.9 870L711.9 856L712.9 867.3L713.9 870.8L714.9 865.3L714.9 878.9L713.9 877.2L712.9 881.4L711.9 886.2L710.9 879.6L709.9 891.4L708.9 885.1L707.9 880.2L706.9 892.4L705.9 878.1L704.9 892.1L703.9 866.3L702.9 883.8L701.9 875.7L700.9 887.8L699.9 881.4L698.9 878.3L697.9 890L696.9 892.7L695.9 881.7L694.9 885.7L693.9 881.4L692.9 875L691.9 881.9L690.9 882.4L689.9 875.7L688.9 882.4L687.9 874.4L686.9 877.5L685.9 886.9L684.9 882L683.9 875.4L682.9 883L681.9 886.8L680.9 882.6L679.9 883.1L678.9 885.7L677.9 883.5L676.9 890.8L675.9 886.3L674.9 883.7L673.9 886.2L672.9 885.5L671.9 889.6L670.9 881.5L669.9 891.8L668.9 886.7L667.9 883.8L666.9 881.2L665.9 890.4L664.9 878.4L663.9 885.3L662.9 881L661.9 879.6L660.9 881.8L659.9 886.2L658.9 889.2L657.9 896.3L656.9 881.9L655.9 887.6L654.9 881.3L653.9 886.3L652.9 882.2L651.9 895.8L650.9 880.2L649.9 879.4L648.9 879.6L647.9 886.7L646.9 875.2L645.9 884.3L644.9 878.9L643.9 875.9L642.9 882.4L642 873.2L641 874.9L640 874.1L639 875.5L638 883.6L637 877.4L636 880.4L635 883.2L634 882.6L633 887.7L632 889.9L631 876.3L630 881.8L629 877.2L628 881.8L627 893L626 880L625 870.4L624 883.1L623 873.1L622 882L621 877.1L620 884.8L619 882.8L618 883.4L617 880.4L616 886.7L615 882.5L614 881.6L613 882.7L612 884.6L611 886.8L610 885.7L609 881.3L608 882.6L607 886.3L606 877.4L605 892.1L604 884.5L603 884.6L602 890.9L601 890.2L600 884.2L599 881.1L598 879.8L597 884L596 875.3L595 884.3L594 887.9L593 885.8L592 878L591 879.1L590 894.9L589 878.4L588 885.7L587 883L586 890.4L585 877.7L584 877.6L583 887L582 887.1L581 883.3L580 875.9L579 893.5L578 878.7L577 887.7L576 884.3L575 889.7L574 882L573 885.7L572 887.4L571 884.8L570 885.6L569 885.7L568 889.5L567 882.1L566 889.3L565 876.9L564 883L563 887.7L562 888.6L561 887.7L560 883.6L559 879.5L558 889.9L557 873.4L556 875.8L555 878L554 887.4L553 880L552 881.4L551 885.6L550 886.2L549 882.2L548 875.1L547 883.2L546 877.7L545 882.7L544 874.3L543 874.6L542 876.4L541 884.4L540 876L539 875.5L538 871.3L537 887L536 892.3L535 876.3L534 872.5L533 882.1L532 873.1L531 882.1L530 860.9L529 878.4L528 879.5L527 861.6L526 870.7L525 877.7L524 866.4L523 871.8L522 871.3L521 863.8L520 876.5L519 868.9L518 857.7L517 858.9L516 867.9L515 858.2L514 864.5L513 882L512 856.4L511 866L510 873L509 859.3L508 863.2L507 853.3L506 862.7L505 865.6L504 859.2L503 867.3L502 849.1L501 861.5L500 873.2L499 841.7L498 858.8L497 843.8L496.1 861.6L495.1 858.6L494.1 847.2L493.1 851.1L492.1 854.4L491.1 860.3L490.1 853.9L489.1 842.7L488.1 862.8L487.1 846.9L486.1 849.7L485.1 855.6L484.1 849.9L483.1 874.2L482.1 843.6L481.1 842.6L480.1 846.1L479.1 846.9L478.1 842.1L477.1 834.2L476.1 856L475.1 857.7L474.1 844.9L473.1 852.2L472.1 855.8L471.1 848.3L470.1 837.4L469.1 841.2L468.1 825.2L467.1 835.8L466.1 839.7L465.1 841.5L464.1 834.8L463.1 828.3L462.1 831.9L461.1 826.5L460.1 841.2L459.1 842.6L458.1 825L457.1 826.9L456.1 866.9L455.1 828.9L454.1 836.4L453.1 872.8L452.1 838L451.1 842.3L450.1 850.2L449.1 838.6L448.1 821.1L447.1 835.7L446.1 857.9L445.1 854.7L444.1 799.2L443.1 823L442.1 827.1L441.1 826.7L440.1 834.2L439.1 825.5L438.1 814.1L437.1 816.6L436.1 812.1L435.1 826.4L434.1 824.8L433.1 826.2L432.1 830L431.1 836.6L430.1 809.7L429.1 784L428.1 822.8L427.1 815.3L426.1 815.7L425.1 765.2L424.1 796.8Z" fill="#c6e4c6" stroke="#c6e4c6" stroke-width="0.8"/>
<path d="M424.1 718.8L425.1 740.2L426.1 738.5L427.1 736.3L428.1 750.7L429.1 745.4L430.1 743L431.1 737L432.1 758.9L433.1 731.9L434.1 742.4L435.1 743L436.1 744.8L437.1 731.6L438.1 749.8L439.1 759.2L440.1 737.2L441.1 755L442.1 760.2L443.1 755.5L444.1 764.7L445.1 763.2L446.1 750.3L447.1 766.7L448.1 754.2L449.1 776.3L450.1 783.7L451.1 772.6L452.1 742.8L453.1 773.6L454.1 779.7L455.1 766.2L456.1 779.2L457.1 772.1L458.1 786.6L459.1 758.9L460.1 763L461.1 758.8L462.1 754.8L463.1 767.7L464.1 769.7L465.1 777.6L466.1 769.7L467.1 755.9L468.1 759.2L469.1 777.6L470.1 751.5L471.1 777.6L472.1 778.1L473.1 774.5L474.1 785.6L475.1 769.9L476.1 783.5L477.1 769.1L478.1 781.2L479.1 788.5L480.1 776.2L481.1 777.7L482.1 799.5L483.1 779.1L484.1 798.4L485.1 784.8L486.1 787.4L487.1 765.8L488.1 776L489.1 798.4L490.1 805.3L491.1 784.7L492.1 811.2L493.1 822.9L494.1 798.5L495.1 792.1L496.1 809.3L497 800.2L498 796.2L499 803.3L500 812.5L501 806.1L502 803.8L503 803.3L504 803.5L505 805.9L506 807.9L507 801L508 802.9L509 802.2L510 813.2L511 803.6L512 821.3L513 815L514 821.3L515 812.3L516 806L517 818.7L518 823.3L519 814.7L520 818L521 823.7L522 828.8L523 829.1L524 822L525 822.3L526 822.7L527 837.3L528 834.5L529 827.6L530 833.2L531 824.6L532 838.7L533 841.1L534 831L535 819.2L536 839.2L537 841.7L538 831L539 838.3L540 846.1L541 839.6L542 843.8L543 846.1L544 839.7L545 847.5L546 838.6L547 844L548 847.9L549 849.5L550 857.5L551 851.5L552 855.9L553 851.6L554 858.4L555 856.8L556 850.8L557 854.7L558 855.7L559 857L560 862.1L561 856.9L562 862.5L563 861.6L564 860.8L565 857.7L566 857.8L567 865.4L568 862.2L569 867.3L570 864.1L571 865.4L572 867.2L573 864.7L574 871L575 870.5L576 868.8L577 867.9L578 869.2L579 872L580 868.7L581 874.4L582 873.1L583 874.6L584 873.7L585 875.9L586 875.5L587 869.9L588 871.4L589 870.4L590 870.2L591 872.5L592 875.5L593 876.7L594 877.9L595 875.5L596 876.9L597 874.8L598 877L599 876.9L600 874.5L601 875.7L602 875.7L603 879.2L604 875L605 874.9L606 877.6L607 873.8L608 878L609 877L610 876.9L611 878.6L612 878L613 878L614 875.1L615 880.4L616 880.9L617 882L618 880.2L619 878.6L620 879.1L621 880.6L622 878.7L623 881.5L624 878.5L625 877.4L626 879.5L627 879.6L628 881.8L629 879.3L630 879.7L631 878.7L632 879.8L633 879.9L634 880.4L635 875.2L636 880.9L637 880.5L638 879.5L639 880.1L640 876.8L641 879.6L642 878.6L642.9 878.9L643.9 878.4L644.9 879.6L645.9 879.4L646.9 878.1L647.9 879.7L648.9 879.8L649.9 882.3L650.9 882.2L651.9 882.5L652.9 879.7L653.9 883.2L654.9 881L655.9 881.3L656.9 877.5L657.9 882.5L658.9 883L659.9 880.8L660.9 880.9L661.9 879.8L662.9 880.2L663.9 879.2L664.9 880.5L665.9 877.9L666.9 881.8L667.9 879.7L668.9 881L669.9 879.9L670.9 882.4L671.9 880.8L672.9 882.7L673.9 881.2L674.9 882.4L675.9 879.8L676.9 882L677.9 879.9L678.9 880.5L679.9 882.6L680.9 878.8L681.9 881.8L682.9 878.4L683.9 878.5L684.9 880.5L685.9 878.6L686.9 878.2L687.9 880.3L688.9 878.1L689.9 880.8L690.9 879.8L691.9 876.4L692.9 875.4L693.9 880.2L694.9 880.7L695.9 882.2L696.9 881.3L697.9 879.4L698.9 876.8L699.9 879.4L700.9 881.2L701.9 879.8L702.9 876L703.9 875.7L704.9 879.5L705.9 878.6L706.9 878.5L707.9 879.3L708.9 877.5L709.9 876.8L710.9 879.1L711.9 877.5L712.9 878.8L713.9 876L714.9 876.3L714.9 882.6L713.9 884.2L712.9 885.8L711.9 883.4L710.9 883.2L709.9 884.4L708.9 883.4L707.9 883.9L706.9 884.9L705.9 889.2L704.9 890.8L703.9 886.5L702.9 887.2L701.9 884.5L700.9 887.5L699.9 883.3L698.9 881.7L697.9 883.3L696.9 883L695.9 884L694.9 885.5L693.9 886.8L692.9 887.5L691.9 884.1L690.9 885.9L689.9 882.1L688.9 885.9L687.9 885.3L686.9 885.2L685.9 882.5L684.9 881.4L683.9 884.6L682.9 885.8L681.9 882.5L680.9 884.9L679.9 890L678.9 884.6L677.9 884.9L676.9 886.5L675.9 884.7L674.9 885.3L673.9 885.2L672.9 883.2L671.9 881.9L670.9 882.2L669.9 886L668.9 885.8L667.9 885.3L666.9 885.1L665.9 885.6L664.9 887.6L663.9 885.3L662.9 886.2L661.9 886.1L660.9 886.9L659.9 886.1L658.9 890.3L657.9 890.1L656.9 887.8L655.9 887.9L654.9 888.5L653.9 888L652.9 887.9L651.9 885.7L650.9 884L649.9 882.9L648.9 887.8L647.9 883.7L646.9 886.6L645.9 885.2L644.9 887.6L643.9 885L642.9 887.3L642 885.5L641 885.5L640 885.3L639 882.6L638 886.4L637 884.6L636 886.6L635 886L634 887.3L633 884.7L632 888.7L631 881.4L630 885.2L629 884L628 883.6L627 885.5L626 887.6L625 884.7L624 887.7L623 883.1L622 885.3L621 885.6L620 887.6L619 885.6L618 883.4L617 883.6L616 885.4L615 884.9L614 883.3L613 881.7L612 884.6L611 883.9L610 885.5L609 886L608 887.9L607 881.2L606 880.4L605 883.4L604 883.9L603 882.2L602 879.3L601 886.5L600 883.7L599 881.3L598 882.8L597 883.9L596 884.5L595 879L594 884.9L593 881.5L592 878.3L591 880.6L590 882.5L589 882.5L588 879.6L587 877.9L586 879.4L585 884.8L584 878.7L583 879.7L582 882.5L581 880.4L580 881.7L579 878.3L578 880.1L577 880.9L576 882.4L575 883.6L574 874L573 876.7L572 879.8L571 873.1L570 874L569 874.2L568 873.4L567 874.9L566 877.2L565 870.8L564 872.9L563 870.1L562 870.5L561 874.1L560 878.5L559 861.6L558 870.3L557 871.6L556 870.3L555 863.4L554 871.8L553 871.2L552 863.3L551 865.8L550 861.1L549 872.6L548 859L547 861.7L546 857.7L545 858.5L544 855L543 855.9L542 864.8L541 861L540 857.1L539 856.7L538 855.6L537 857.8L536 851.8L535 854L534 865.9L533 849.3L532 849.7L531 851.2L530 850.2L529 858.7L528 854L527 842.2L526 848.4L525 840.9L524 848.8L523 857.8L522 837.1L521 852.1L520 850.1L519 836.5L518 847.3L517 848.3L516 835.2L515 840.8L514 832.8L513 833.4L512 836.3L511 828.7L510 844L509 831.7L508 839.6L507 847L506 831L505 821.3L504 839.3L503 821.5L502 831L501 832.1L500 831.3L499 823.4L498 820.2L497 841.2L496.1 835L495.1 826.3L494.1 836.2L493.1 831.2L492.1 817.8L491.1 828.5L490.1 836.7L489.1 827.7L488.1 825.2L487.1 811.2L486.1 803.3L485.1 802.3L484.1 812L483.1 835.3L482.1 842.3L481.1 800.8L480.1 812.3L479.1 800.8L478.1 819.3L477.1 820.9L476.1 813.5L475.1 812L474.1 810L473.1 804.9L472.1 803L471.1 815.3L470.1 816.9L469.1 814.6L468.1 802.3L467.1 793L466.1 800.7L465.1 802.8L464.1 808.9L463.1 790.3L462.1 819.4L461.1 810.5L460.1 802.2L459.1 808.6L458.1 795.9L457.1 804.4L456.1 810.4L455.1 792.6L454.1 810.8L453.1 797.3L452.1 802.6L451.1 780L450.1 793.1L449.1 804.7L448.1 801.5L447.1 788.8L446.1 777.5L445.1 802L444.1 785.2L443.1 796.1L442.1 795.6L441.1 776.4L440.1 783.1L439.1 753.1L438.1 821.6L437.1 784.6L436.1 795.3L435.1 779L434.1 798.3L433.1 807L432.1 792.5L431.1 809.3L430.1 787.4L429.1 797.6L428.1 793.6L427.1 778.6L426.1 775L425.1 768.1L424.1 785.1Z" fill="#f9d7d7" stroke="#f9d7d7" stroke-width="0.8"/>
<path d="M424.1 737.6L425.1 745.5L426.1 724.4L427.1 749.4L428.1 755.9L429.1 754.4L430.1 758.1L431.1 772L432.1 766.9L433.1 734.2L434.1 742.8L435.1 750.3L436.1 758.1L437.1 752.9L438.1 778.1L439.1 741.2L440.1 766L441.1 760.9L442.1 749.4L443.1 761.1L444.1 767L445.1 757.5L446.1 739.5L447.1 756L448.1 762.9L449.1 739.4L450.1 754.8L451.1 766.6L452.1 788.5L453.1 779.7L454.1 788.5L455.1 774.5L456.1 756.4L457.1 765.5L458.1 773.5L459.1 759.6L460.1 791.3L461.1 766.1L462.1 774.6L463.1 770.5L464.1 767.5L465.1 791L466.1 770.6L467.1 796.9L468.1 781.5L469.1 784L470.1 811.5L471.1 795.7L472.1 796.2L473.1 790.9L474.1 778.7L475.1 803.3L476.1 773.2L477.1 788L478.1 793.8L479.1 818L480.1 800.4L481.1 794.1L482.1 802.5L483.1 797.2L484.1 814.1L485.1 781.5L486.1 811.8L487.1 817.7L488.1 800.2L489.1 788.1L490.1 797.4L491.1 804.5L492.1 835.1L493.1 812.9L494.1 824.4L495.1 833L496.1 791.3L497 825.7L498 819.4L499 825.4L500 829.3L501 816.7L502 816.6L503 814.4L504 819.6L505 824.1L506 829.8L507 831.3L508 835.7L509 824.7L510 830.3L511 830L512 836.1L513 838L514 827.5L515 839.9L516 827.4L517 831.9L518 836.6L519 842.4L520 847.9L521 847.2L522 842.6L523 851.2L524 849.9L525 846.8L526 857.4L527 842.3L528 847.1L529 845.1L530 850.8L531 854.9L532 851.3L533 855.5L534 848.3L535 857.3L536 849.1L537 857.7L538 852.3L539 861.5L540 860.4L541 871.3L542 861.7L543 862.8L544 861.8L545 865L546 865.3L547 865L548 861.7L549 862.3L550 865.1L551 867.6L552 868L553 869L554 867.3L555 873L556 872.5L557 868.8L558 869.3L559 878.6L560 876.6L561 870L562 875L563 877.6L564 874.9L565 875.9L566 877.2L567 878.6L568 878.4L569 881.1L570 877L571 881.8L572 876.9L573 882.7L574 877.2L575 877.8L576 877.2L577 877.9L578 880.9L579 876.1L580 872.6L581 878.8L582 880.5L583 877.9L584 880.8L585 880.1L586 880.7L587 879.3L588 879.6L589 880.8L590 880.5L591 880.1L592 881.2L593 879.5L594 882.2L595 881.7L596 878.2L597 884L598 882.8L599 884.2L600 882.1L601 879.9L602 879.2L603 880.1L604 881.6L605 882.3L606 882.5L607 883.3L608 878.4L609 878.9L610 881.4L611 883.7L612 880.8L613 879L614 877.5L615 880.8L616 880.5L617 881L618 880.7L619 878.7L620 882L621 879.3L622 883.7L623 880.5L624 882.2L625 880.5L626 885.2L627 882.5L628 878.1L629 881.7L630 882L631 878.6L632 884.1L633 883.8L634 875.1L635 881.1L636 882.2L637 875.5L638 881.5L639 879.5L640 883.2L641 877.3L642 879.4L642.9 882.1L643.9 880.1L644.9 881.8L645.9 882.1L646.9 883.8L647.9 882.9L648.9 882.9L649.9 881.4L650.9 879.5L651.9 880.6L652.9 881.3L653.9 880.2L654.9 880.2L655.9 882.3L656.9 876.7L657.9 881.2L658.9 881.7L659.9 882.2L660.9 880.7L661.9 881.4L662.9 883.8L663.9 881.1L664.9 880.9L665.9 880.3L666.9 883.6L667.9 883.7L668.9 880.9L669.9 881.1L670.9 881L671.9 882.1L672.9 882.2L673.9 879.9L674.9 875.9L675.9 880.8L676.9 882.9L677.9 882.4L678.9 885.4L679.9 882.1L680.9 884.8L681.9 879.7L682.9 881.6L683.9 879.9L684.9 883.2L685.9 885.9L686.9 881.7L687.9 881.7L688.9 880.3L689.9 880L690.9 882.1L691.9 881.2L692.9 878.7L693.9 877.8L694.9 884.6L695.9 882L696.9 876.6L697.9 880L698.9 883.8L699.9 877.3L700.9 880.4L701.9 879.3L702.9 879.6L703.9 880.3L704.9 878L705.9 877L706.9 875.4L707.9 878.1L708.9 879.9L709.9 876.3L710.9 871.9L711.9 879.3L712.9 877.4L713.9 874.2L714.9 879.4L714.9 886.6L713.9 881.8L712.9 884.6L711.9 888.1L710.9 886.1L709.9 884L708.9 886.1L707.9 882.9L706.9 887.2L705.9 884.8L704.9 880.8L703.9 889.5L702.9 889.5L701.9 886.4L700.9 887.4L699.9 886.4L698.9 885.8L697.9 887.9L696.9 887.8L695.9 887.8L694.9 889.6L693.9 889.9L692.9 884L691.9 885.3L690.9 890.8L689.9 883.8L688.9 886.7L687.9 886.9L686.9 890.3L685.9 884.9L684.9 893L683.9 889.9L682.9 886.1L681.9 885.4L680.9 884L679.9 889.1L678.9 889.9L677.9 890.8L676.9 888.5L675.9 889.7L674.9 888.1L673.9 889.3L672.9 886.7L671.9 888.6L670.9 885.4L669.9 887.7L668.9 889.5L667.9 889.5L666.9 888.6L665.9 888.1L664.9 890.5L663.9 887.7L662.9 893.1L661.9 887.8L660.9 890.1L659.9 890.3L658.9 887.8L657.9 883.4L656.9 884.3L655.9 885.9L654.9 888.5L653.9 892.7L652.9 885.6L651.9 884.7L650.9 885L649.9 886.6L648.9 887.7L647.9 888.8L646.9 886.7L645.9 883.3L644.9 887L643.9 888.5L642.9 885.5L642 886.7L641 886.7L640 887.8L639 883.9L638 888.3L637 888L636 886.9L635 888.4L634 888.1L633 889.8L632 885.5L631 887L630 887.5L629 889.2L628 886.9L627 890.8L626 889.1L625 890.1L624 890.2L623 886.5L622 886.1L621 887.2L620 888.1L619 888.7L618 890.7L617 889.3L616 886.1L615 890L614 887.6L613 884L612 891.1L611 891.1L610 889.5L609 885L608 887.7L607 889.2L606 890.4L605 890.6L604 889.5L603 888.8L602 891L601 888.5L600 886.1L599 889.8L598 887.6L597 891.3L596 889.3L595 888.1L594 890.1L593 890L592 890.3L591 889.1L590 888.6L589 887L588 885.3L587 885.6L586 887.6L585 889.7L584 885.8L583 888.5L582 889.5L581 883.8L580 888.5L579 887.2L578 888.1L577 888.7L576 884.7L575 884.5L574 884.9L573 888.9L572 884.4L571 887.7L570 889.2L569 887.6L568 889.7L567 888.5L566 884.3L565 882.3L564 884.4L563 879.7L562 886.7L561 884.2L560 886.1L559 886.4L558 887.8L557 880.5L556 877.8L555 875L554 878.7L553 874.5L552 878.8L551 878.1L550 880.8L549 878.5L548 880.2L547 872.7L546 880.6L545 876.5L544 874.3L543 876.5L542 873.6L541 876L540 868.3L539 871.5L538 880.2L537 864.8L536 879.7L535 865.5L534 873.6L533 867.3L532 867.4L531 868L530 876.5L529 863.6L528 880.8L527 868.1L526 864.7L525 864.1L524 873.6L523 868.3L522 859.2L521 855.7L520 862L519 872.8L518 859.6L517 851L516 871.2L515 862.4L514 847.5L513 856.1L512 858.1L511 859.7L510 855.9L509 868L508 866.2L507 859.7L506 856.8L505 853L504 845.7L503 865.5L502 838.9L501 833L500 849.5L499 845.9L498 849.6L497 856.2L496.1 838.1L495.1 839.9L494.1 834.9L493.1 861.7L492.1 845.1L491.1 835.3L490.1 837.5L489.1 820.4L488.1 853.8L487.1 828.3L486.1 833.9L485.1 832.9L484.1 848.2L483.1 832.8L482.1 842.2L481.1 850.1L480.1 832.8L479.1 830.1L478.1 855.3L477.1 817.6L476.1 843.2L475.1 843.3L474.1 836.3L473.1 832.5L472.1 826.1L471.1 841.6L470.1 816.3L469.1 835.4L468.1 819.9L467.1 852.8L466.1 835.5L465.1 816.2L464.1 829.6L463.1 820.7L462.1 817.3L461.1 827.4L460.1 798.6L459.1 828.2L458.1 808.4L457.1 819.4L456.1 789L455.1 807.8L454.1 802.4L453.1 855.9L452.1 806.3L451.1 814.7L450.1 800.7L449.1 811.6L448.1 818.5L447.1 849L446.1 839.2L445.1 804.7L444.1 808.3L443.1 820.3L442.1 802.7L441.1 840.8L440.1 818.2L439.1 809.8L438.1 797.8L437.1 818L436.1 800.8L435.1 782.3L434.1 828.5L433.1 826.6L432.1 783.6L431.1 786.1L430.1 786.7L429.1 806.3L428.1 784L427.1 801.5L426.1 774.2L425.1 806.4L424.1 788Z" fill="#b9b7de" stroke="#b9b7de" stroke-width="0.8"/>
<path d="M424.1 758.1L425.1 759.7L426.1 764.2L427.1 767.9L428.1 769.8L429.1 767.9L430.1 779L431.1 777.4L432.1 791L433.1 780.2L434.1 780.2L435.1 784.8L436.1 791.1L437.1 786.7L438.1 792L439.1 792.2L440.1 789.2L441.1 791.4L442.1 795.8L443.1 788.6L444.1 794.4L445.1 796.2L446.1 798.1L447.1 804.8L448.1 800L449.1 794.7L450.1 801.8L451.1 805.2L452.1 799.4L453.1 802.8L454.1 811.8L455.1 803.6L456.1 805.6L457.1 812.6L458.1 800.6L459.1 805.6L460.1 809L461.1 807.8L462.1 805L463.1 809.9L464.1 808.3L465.1 816.2L466.1 807.2L467.1 813.5L468.1 814.8L469.1 817.4L470.1 810.4L471.1 810.8L472.1 821.8L473.1 808.5L474.1 818.5L475.1 819.3L476.1 814.5L477.1 828.1L478.1 816L479.1 818L480.1 814.7L481.1 825.7L482.1 827.1L483.1 820.8L484.1 822.7L485.1 822.1L486.1 831.6L487.1 838.4L488.1 829.5L489.1 825L490.1 830.5L491.1 828.2L492.1 842.1L493.1 839.3L494.1 837.6L495.1 840.5L496.1 843L497 833.5L498 833.8L499 831.4L500 835.2L501 834.9L502 841.3L503 842.1L504 839.2L505 825.2L506 841L507 842.7L508 841.1L509 842.3L510 846.5L511 837.1L512 834.6L513 843.7L514 848.1L515 848.2L516 851.6L517 846.1L518 848.6L519 843.7L520 850.1L521 854.2L522 853.1L523 849.8L524 854.6L525 854L526 853.2L527 849.3L528 852.8L529 853.4L530 859.9L531 849.4L532 854.7L533 863.2L534 858.4L535 862.6L536 858.3L537 863L538 857.8L539 859.2L540 851.7L541 867.7L542 860.4L543 861.4L544 859.7L545 865.7L546 862.9L547 868.3L548 860.8L549 854.4L550 853.7L551 854.4L552 868.6L553 866.4L554 860.4L555 868.8L556 867.4L557 864.4L558 860.4L559 869.5L560 870.6L561 870.6L562 870.7L563 870.4L564 867.9L565 874.5L566 869.6L567 863.6L568 869.1L569 867.7L570 867.4L571 866.5L572 857.5L573 862L574 866.9L575 868L576 865.1L577 867.3L578 858.3L579 868.2L580 866.5L581 870.5L582 876.2L583 868.9L584 867L585 871.2L586 867.2L587 871.6L588 853.9L589 864.1L590 865.5L591 865.4L592 868.8L593 862.7L594 863.9L595 867.9L596 871.2L597 862.8L598 869.5L599 865.1L600 871.5L601 864.7L602 865.8L603 867.2L604 865.7L605 873.3L606 871L607 870L608 868L609 858.1L610 861.7L611 865.4L612 869.3L613 867.8L614 867.2L615 862.5L616 867.8L617 873.8L618 867.3L619 868.1L620 863L621 868.5L622 863.7L623 871.5L624 872.1L625 864.7L626 865.5L627 867.7L628 865L629 871.4L630 869.4L631 869.7L632 857.2L633 873.2L634 865.3L635 866.8L636 858.3L637 872.6L638 863.3L639 867.5L640 867.1L641 871.7L642 867.5L642.9 867.1L643.9 865.7L644.9 862.8L645.9 865.4L646.9 870.3L647.9 861.6L648.9 864.2L649.9 863.2L650.9 870.5L651.9 866.6L652.9 861.7L653.9 858L654.9 872.8L655.9 864.3L656.9 866.7L657.9 865.9L658.9 856.5L659.9 873L660.9 862.9L661.9 869.9L662.9 865.1L663.9 871.4L664.9 872.2L665.9 863L666.9 870.8L667.9 865.5L668.9 866.9L669.9 864.1L670.9 867.5L671.9 869.9L672.9 866.4L673.9 866.8L674.9 868.5L675.9 872L676.9 866.5L677.9 867.5L678.9 865L679.9 866.8L680.9 867.7L681.9 867.9L682.9 863.1L683.9 864.4L684.9 862.5L685.9 864.6L686.9 866.9L687.9 867.7L688.9 865L689.9 860.5L690.9 867.8L691.9 859.5L692.9 866.4L693.9 862.7L694.9 866.4L695.9 858.3L696.9 860L697.9 857.4L698.9 863.4L699.9 858.1L700.9 871.3L701.9 855.7L702.9 865.6L703.9 870.7L704.9 865L705.9 862.6L706.9 864.2L707.9 863.8L708.9 861.4L709.9 866.5L710.9 862.7L711.9 859.6L712.9 863.1L713.9 858.5L714.9 864.4L714.9 876.4L713.9 876.9L712.9 887L711.9 884.4L710.9 883.3L709.9 875.9L708.9 875.7L707.9 883.6L706.9 879.4L705.9 880.1L704.9 879.4L703.9 882.2L702.9 875.7L701.9 876.6L700.9 872.9L699.9 877.9L698.9 886.8L697.9 879.9L696.9 879.7L695.9 886.1L694.9 882.4L693.9 876.9L692.9 878.3L691.9 881.3L690.9 876.8L689.9 875.1L688.9 873.3L687.9 882.6L686.9 881L685.9 877.2L684.9 880.4L683.9 881.2L682.9 877.7L681.9 884.9L680.9 880.4L679.9 887.1L678.9 885.1L677.9 883.4L676.9 883.7L675.9 883.6L674.9 883.5L673.9 882.4L672.9 878.6L671.9 888.2L670.9 879.2L669.9 882.7L668.9 884.7L667.9 881L666.9 876.9L665.9 878.4L664.9 883.5L663.9 886.4L662.9 878L661.9 884L660.9 881.4L659.9 884.5L658.9 877.2L657.9 879.3L656.9 874.4L655.9 880L654.9 877.7L653.9 872.4L652.9 879.3L651.9 878.5L650.9 882.1L649.9 874.5L648.9 882.3L647.9 884.2L646.9 879.2L645.9 881.2L644.9 878.4L643.9 883.3L642.9 883.4L642 880.4L641 879.7L640 876.4L639 882.1L638 886.3L637 881.2L636 889.6L635 880.1L634 887.5L633 876.5L632 879.5L631 876.1L630 882.2L629 880.1L628 880.5L627 884.6L626 887.5L625 886.8L624 883L623 879.2L622 883.6L621 888.5L620 875.7L619 882.7L618 880.9L617 881.6L616 882.3L615 877L614 880.7L613 886.8L612 882.4L611 880.2L610 882.3L609 881.3L608 883L607 873.7L606 885.1L605 886.2L604 877.7L603 881.9L602 880L601 880L600 884.9L599 881.8L598 877.9L597 879.5L596 879.1L595 875.2L594 875.3L593 880.1L592 876.6L591 883.5L590 878.6L589 879.4L588 884.6L587 885.8L586 876.5L585 881.4L584 881L583 888.4L582 879.6L581 877.7L580 885.1L579 883.2L578 878.2L577 885.4L576 881.5L575 877L574 879.2L573 876L572 875.4L571 879.2L570 885.6L569 879L568 885.4L567 880.5L566 878.2L565 877.2L564 890L563 880.2L562 878.8L561 881.7L560 883.4L559 876.7L558 880.3L557 878.3L556 875.9L555 876.2L554 888.8L553 883.6L552 875.2L551 874.3L550 877.8L549 875.3L548 884.8L547 881.1L546 880.4L545 867.5L544 871.9L543 875.4L542 872.1L541 874.1L540 873L539 872.8L538 881.2L537 875.8L536 876.2L535 870.1L534 872.8L533 876.2L532 871.2L531 875.1L530 875.6L529 860.7L528 871.1L527 865.2L526 865L525 869.6L524 866.6L523 876.4L522 866.8L521 860.1L520 865.6L519 865L518 865.2L517 861.8L516 869L515 860.9L514 862.5L513 860.2L512 858.2L511 861.5L510 858.2L509 868.4L508 866L507 858.9L506 856L505 858.8L504 852.7L503 864.9L502 857.7L501 853.1L500 852.3L499 853.1L498 850L497 842.6L496.1 850.3L495.1 849.4L494.1 849.1L493.1 861.2L492.1 847L491.1 849L490.1 853.6L489.1 856.9L488.1 843.1L487.1 850L486.1 852.2L485.1 841.9L484.1 840.4L483.1 844.4L482.1 848.3L481.1 841L480.1 837.6L479.1 845.6L478.1 837.8L477.1 854.5L476.1 837.8L475.1 828.2L474.1 828.9L473.1 839.6L472.1 831.1L471.1 827.4L470.1 845.8L469.1 831.8L468.1 832.1L467.1 839.7L466.1 833.6L465.1 832.9L464.1 835.2L463.1 833.6L462.1 828.5L461.1 823.5L460.1 822.5L459.1 820.2L458.1 830.4L457.1 820.2L456.1 829.2L455.1 836L454.1 822.6L453.1 827.2L452.1 817L451.1 818.8L450.1 835.9L449.1 818.3L448.1 822.8L447.1 824.6L446.1 822.8L445.1 809.7L444.1 814.7L443.1 813L442.1 809.7L441.1 807.5L440.1 804.3L439.1 805.4L438.1 807.9L437.1 804.4L436.1 797.7L435.1 802.3L434.1 804.9L433.1 799.1L432.1 795L431.1 794L430.1 803L429.1 796.1L428.1 791.3L427.1 790.3L426.1 786.1L425.1 796.1L424.1 791.9Z" fill="#2fae3c" stroke="#2fae3c" stroke-width="0.8"/>
<path d="M424.1 754.6L425.1 752.2L426.1 754.4L427.1 759.7L428.1 762.1L429.1 759.6L430.1 757.9L431.1 758.3L432.1 762.7L433.1 761.8L434.1 765.9L435.1 761.8L436.1 759.2L437.1 761.7L438.1 762.9L439.1 761.6L440.1 773.3L441.1 766.3L442.1 770.5L443.1 759.6L444.1 766.2L445.1 767.3L446.1 783.2L447.1 762.2L448.1 767.7L449.1 772.2L450.1 768.6L451.1 773.1L452.1 771.7L453.1 765.6L454.1 769.7L455.1 768.3L456.1 772.7L457.1 778.2L458.1 781.2L459.1 780.8L460.1 770.5L461.1 769.4L462.1 776.2L463.1 779.6L464.1 785.4L465.1 787.8L466.1 780.5L467.1 786.1L468.1 785L469.1 777.2L470.1 783L471.1 794.6L472.1 790.1L473.1 789.2L474.1 788.2L475.1 786.3L476.1 783.6L477.1 797.6L478.1 786.4L479.1 786.1L480.1 792.3L481.1 795.4L482.1 796.1L483.1 795.3L484.1 801.2L485.1 803.3L486.1 793.3L487.1 788.9L488.1 794.4L489.1 804.4L490.1 802.3L491.1 802.3L492.1 799.1L493.1 803.3L494.1 799.7L495.1 808.8L496.1 799.8L497 806L498 808L499 811L500 802.5L501 797.3L502 814.8L503 812.3L504 805.3L505 810.4L506 815.6L507 807.4L508 812.2L509 817.5L510 821L511 814.1L512 821.1L513 827.7L514 818.2L515 822.1L516 817.4L517 816.2L518 812.4L519 826.8L520 829.1L521 824.1L522 816.5L523 832.3L524 829.3L525 829.1L526 834.4L527 833.5L528 828.1L529 837.1L530 838.8L531 841.2L532 834.7L533 835.7L534 838.7L535 829.4L536 834.8L537 840.6L538 835.4L539 840.8L540 838.4L541 835.9L542 845.8L543 838L544 842.8L545 846.6L546 845.5L547 844.6L548 843.3L549 846.2L550 849.6L551 852.8L552 854.6L553 857.7L554 862.1L555 858.6L556 860.7L557 854.8L558 854.4L559 859.7L560 850.9L561 851.8L562 864.5L563 859.1L564 852.7L565 861.2L566 866.2L567 857.1L568 860.4L569 868.7L570 860.8L571 861.3L572 859.8L573 863.3L574 866.9L575 871.2L576 869.4L577 869L578 867.6L579 871L580 870.4L581 863.7L582 869.1L583 868.9L584 870L585 870.5L586 870.2L587 867.5L588 874.2L589 869.5L590 870.4L591 871.8L592 875.7L593 872.8L594 873.8L595 872.6L596 874.9L597 873.3L598 874.9L599 872.7L600 875.4L601 869.2L602 877.6L603 876.1L604 877.8L605 875.8L606 878.5L607 876.4L608 875.9L609 873.5L610 875.4L611 875.5L612 878.4L613 877.6L614 875.5L615 878.5L616 879.3L617 878.8L618 879.1L619 877.1L620 879.6L621 878.2L622 881.4L623 874.7L624 880.3L625 881.4L626 880.9L627 880.1L628 878.3L629 879L630 881.6L631 879.8L632 882.4L633 877.5L634 880L635 882L636 878.7L637 881.3L638 877.6L639 879.4L640 877.8L641 878.6L642 878.7L642.9 877.9L643.9 879.5L644.9 878.5L645.9 879.8L646.9 878.2L647.9 881.3L648.9 880.2L649.9 877.9L650.9 877.5L651.9 882.5L652.9 878.1L653.9 881.5L654.9 877.9L655.9 880.3L656.9 881.3L657.9 878.6L658.9 879.1L659.9 881.1L660.9 879.4L661.9 877.2L662.9 879.6L663.9 878.2L664.9 880.2L665.9 878.8L666.9 877.2L667.9 879.9L668.9 877L669.9 876.1L670.9 877.3L671.9 882.4L672.9 879.1L673.9 881.3L674.9 880.3L675.9 878.3L676.9 880.6L677.9 882.3L678.9 877.6L679.9 881.7L680.9 881.9L681.9 883L682.9 877.6L683.9 881.9L684.9 876.9L685.9 879.4L686.9 883.2L687.9 883L688.9 881L689.9 879.6L690.9 879L691.9 876.7L692.9 879.6L693.9 878.3L694.9 882.6L695.9 877.7L696.9 878L697.9 877.7L698.9 880L699.9 876.2L700.9 876L701.9 876.3L702.9 873L703.9 876.8L704.9 878.6L705.9 878.5L706.9 873.8L707.9 873.8L708.9 880.7L709.9 880L710.9 877.9L711.9 875.7L712.9 875.2L713.9 879.2L714.9 875.8L714.9 884.6L713.9 886L712.9 882.8L711.9 883.1L710.9 882.5L709.9 882.4L708.9 892.7L707.9 886.3L706.9 882.2L705.9 884.6L704.9 884.2L703.9 882.7L702.9 885.2L701.9 885.4L700.9 886L699.9 888.2L698.9 884.1L697.9 885.2L696.9 882.5L695.9 885.7L694.9 885.6L693.9 886.2L692.9 890.4L691.9 888.4L690.9 886.8L689.9 885.8L688.9 890.4L687.9 886.3L686.9 887.9L685.9 888.5L684.9 886.8L683.9 887.1L682.9 889.1L681.9 887.6L680.9 883.8L679.9 889.1L678.9 889.7L677.9 885.3L676.9 885.8L675.9 886.4L674.9 891.5L673.9 886.2L672.9 885.7L671.9 884.5L670.9 886.6L669.9 886.3L668.9 886.4L667.9 885.2L666.9 887L665.9 885.7L664.9 882.7L663.9 883.9L662.9 890.7L661.9 886.1L660.9 883.3L659.9 887.3L658.9 886.5L657.9 884.2L656.9 886.6L655.9 887.3L654.9 885.4L653.9 888.2L652.9 890.7L651.9 886L650.9 883.9L649.9 885.4L648.9 886L647.9 885.1L646.9 888.1L645.9 883.4L644.9 886.5L643.9 889.4L642.9 884.2L642 883.2L641 887.3L640 885.1L639 886.6L638 886.6L637 887.1L636 886.7L635 888L634 884.8L633 885.4L632 883.4L631 888.5L630 884.4L629 885.4L628 893.1L627 886.6L626 883.8L625 882.9L624 886.2L623 888.7L622 883.5L621 886.4L620 886.2L619 887.5L618 886.8L617 885.1L616 884L615 886.8L614 881.1L613 886.8L612 882.4L611 886.8L610 886.3L609 883.8L608 886.2L607 884.3L606 882.5L605 886.7L604 883.2L603 886.1L602 884.9L601 888L600 881.8L599 883.1L598 884L597 886.5L596 882.6L595 887.1L594 883.2L593 881.2L592 878.6L591 884.5L590 883.7L589 876.7L588 885.6L587 881.2L586 884.9L585 880.8L584 882.7L583 879.5L582 879.3L581 878.3L580 875.3L579 877.2L578 878.1L577 882.6L576 875.3L575 880L574 872.7L573 878.1L572 877.9L571 878.5L570 877.7L569 878.3L568 877.6L567 871.3L566 873.9L565 869.5L564 871.7L563 875.7L562 875.6L561 874L560 868.7L559 876.1L558 871.1L557 874.2L556 869L555 871.3L554 880.4L553 864.9L552 873L551 867.7L550 867.9L549 871.6L548 867L547 858.3L546 860.6L545 862.6L544 853.4L543 857.1L542 853.9L541 860.6L540 858.6L539 856.6L538 860.6L537 859.2L536 852.8L535 855L534 849L533 853.5L532 850.6L531 853.8L530 853.6L529 846.7L528 846L527 847.4L526 851.3L525 846.7L524 844.3L523 844L522 846.9L521 848.5L520 845.5L519 843.3L518 840.5L517 833.3L516 840.6L515 837.8L514 840L513 831.9L512 833.5L511 831.9L510 837.1L509 836.9L508 831.1L507 827.4L506 832.6L505 830.1L504 824.9L503 819.4L502 836.2L501 834.2L500 842L499 824.8L498 821.1L497 826.5L496.1 821.6L495.1 819.6L494.1 823.7L493.1 813.4L492.1 820.9L491.1 819.6L490.1 816.5L489.1 821.1L488.1 809L487.1 810.8L486.1 814.3L485.1 819.5L484.1 808.8L483.1 800.2L482.1 817.9L481.1 820.6L480.1 811.8L479.1 819.4L478.1 810.3L477.1 810.6L476.1 807.2L475.1 804.4L474.1 797.7L473.1 802.1L472.1 799L471.1 804L470.1 803.8L469.1 806.5L468.1 804.2L467.1 811.2L466.1 804.3L465.1 794.6L464.1 798.2L463.1 801.5L462.1 794.7L461.1 799.7L460.1 803.1L459.1 793.2L458.1 800.7L457.1 794.1L456.1 804.6L455.1 797.5L454.1 797.7L453.1 788.7L452.1 795.8L451.1 787.2L450.1 788.7L449.1 788L448.1 782.1L447.1 793.6L446.1 792.7L445.1 792.1L444.1 791.7L443.1 779.9L442.1 786.7L441.1 790.6L440.1 781.4L439.1 788.8L438.1 783.5L437.1 776L436.1 777.4L435.1 779.4L434.1 786L433.1 774L432.1 776.7L431.1 778.3L430.1 770.5L429.1 784.2L428.1 773.2L427.1 782.6L426.1 774.7L425.1 780.1L424.1 774.2Z" fill="#e8141c" stroke="#e8141c" stroke-width="0.8"/>
<path d="M424.1 756L425.1 766.2L426.1 762.6L427.1 767.9L428.1 774.5L429.1 770.2L430.1 759L431.1 767.7L432.1 770.4L433.1 770.6L434.1 775.1L435.1 774.4L436.1 778.1L437.1 771.2L438.1 770.2L439.1 773.6L440.1 773.5L441.1 771.1L442.1 781.5L443.1 780.7L444.1 779.5L445.1 777.3L446.1 781.9L447.1 777.9L448.1 781.6L449.1 790.2L450.1 775L451.1 782L452.1 783.3L453.1 771.9L454.1 782.2L455.1 783.9L456.1 782.1L457.1 788.3L458.1 786.1L459.1 790.4L460.1 785L461.1 791.4L462.1 794.9L463.1 796.2L464.1 792.7L465.1 794.7L466.1 793.9L467.1 787.6L468.1 791.9L469.1 803.5L470.1 793.1L471.1 792.6L472.1 795L473.1 804.3L474.1 806L475.1 804.3L476.1 806.9L477.1 810.8L478.1 804.1L479.1 807.6L480.1 811.7L481.1 814.7L482.1 811.1L483.1 814.9L484.1 808.6L485.1 814.7L486.1 817.8L487.1 820L488.1 815.2L489.1 818.8L490.1 827.5L491.1 819.1L492.1 824.9L493.1 820.8L494.1 817.9L495.1 824.9L496.1 822.9L497 823.3L498 823.8L499 821.9L500 833.4L501 828.4L502 828.4L503 821.1L504 832.6L505 830.5L506 836L507 831.4L508 828.4L509 820.7L510 841L511 823.2L512 823.7L513 834.3L514 830.7L515 828.5L516 831.7L517 827.5L518 838.2L519 837L520 837.8L521 847.3L522 852.2L523 849.1L524 852.8L525 850.3L526 854.6L527 857.8L528 849.1L529 853.5L530 851L531 856.5L532 857.6L533 859.1L534 859L535 858.4L536 851.2L537 859.2L538 861.4L539 851.2L540 855.5L541 857.4L542 848.8L543 867.1L544 857.7L545 863.3L546 863L547 866.5L548 871.2L549 868L550 868.7L551 863.7L552 862L553 868.4L554 872.7L555 872.4L556 869.8L557 871.7L558 875.2L559 876.1L560 869L561 870.3L562 867.9L563 877L564 872L565 875.4L566 873.5L567 876L568 874.7L569 873.8L570 876.3L571 874.4L572 873.7L573 878L574 881.1L575 877.1L576 882.9L577 875.5L578 880.1L579 878.8L580 875.5L581 874.7L582 873.1L583 879.5L584 878.9L585 875.1L586 881.9L587 883.1L588 878.9L589 878.9L590 882.2L591 877.4L592 878.9L593 876.5L594 879L595 882.4L596 880.1L597 878.9L598 883.4L599 880.7L600 880L601 883.3L602 883.7L603 878.3L604 876.3L605 880.7L606 882.1L607 874.5L608 883.8L609 884.4L610 881.9L611 881.6L612 879L613 879.5L614 880.1L615 878.8L616 879.2L617 883L618 879L619 879.3L620 881.9L621 882.9L622 880.9L623 882.8L624 880.6L625 881.6L626 880.7L627 880.7L628 877.6L629 879.9L630 882.2L631 881.7L632 879.3L633 877.7L634 882.1L635 881.5L636 879.6L637 881.6L638 880.5L639 881.2L640 882L641 884.3L642 881.4L642.9 879.3L643.9 883.9L644.9 882.5L645.9 880.3L646.9 882.1L647.9 881.5L648.9 882L649.9 879.9L650.9 883L651.9 881.5L652.9 881.1L653.9 881L654.9 878.5L655.9 880.7L656.9 881.9L657.9 880.3L658.9 880L659.9 879.5L660.9 883.3L661.9 882.5L662.9 881.5L663.9 883.1L664.9 880.8L665.9 877.5L666.9 877L667.9 880.3L668.9 881.4L669.9 882.7L670.9 876.9L671.9 881.9L672.9 881.2L673.9 878.1L674.9 876.1L675.9 878.6L676.9 880.5L677.9 881.1L678.9 883L679.9 882L680.9 884.3L681.9 879.6L682.9 881.3L683.9 881.9L684.9 878.8L685.9 879.6L686.9 879.1L687.9 876.7L688.9 873.5L689.9 881.1L690.9 884.3L691.9 883.9L692.9 879.4L693.9 881.4L694.9 882L695.9 879.8L696.9 881.2L697.9 883.4L698.9 878.1L699.9 877.4L700.9 876.6L701.9 881.8L702.9 878.8L703.9 880.8L704.9 883.1L705.9 880.2L706.9 878.2L707.9 876.5L708.9 878.9L709.9 880.4L710.9 879.9L711.9 880L712.9 880.9L713.9 878.4L714.9 874.5L714.9 888.3L713.9 886.3L712.9 882.9L711.9 886.1L710.9 889.4L709.9 885.2L708.9 889.8L707.9 889.8L706.9 885L705.9 891.2L704.9 888.1L703.9 888.8L702.9 888.7L701.9 886.1L700.9 891.2L699.9 888.8L698.9 890L697.9 888.6L696.9 888.6L695.9 888L694.9 887.2L693.9 886.6L692.9 889.2L691.9 886.5L690.9 892.5L689.9 888.2L688.9 888.3L687.9 887.4L686.9 887.1L685.9 886.6L684.9 885L683.9 889.3L682.9 887L681.9 888.2L680.9 889L679.9 891.3L678.9 887.8L677.9 884.9L676.9 889.1L675.9 886.3L674.9 888.5L673.9 889.4L672.9 887.6L671.9 889.5L670.9 887.4L669.9 884.6L668.9 888.1L667.9 887.4L666.9 888.2L665.9 887.9L664.9 884.9L663.9 885.4L662.9 889L661.9 890.6L660.9 885.8L659.9 887.4L658.9 886.5L657.9 886.8L656.9 886.6L655.9 888L654.9 888.6L653.9 889.3L652.9 887.7L651.9 888.5L650.9 885.9L649.9 890.1L648.9 889.7L647.9 889.2L646.9 888.8L645.9 886.5L644.9 889.2L643.9 889.1L642.9 891.8L642 887.3L641 890.4L640 883.9L639 890.5L638 886.6L637 887.8L636 889.4L635 888.8L634 886L633 887.6L632 888.1L631 887.6L630 888.8L629 887.4L628 885.2L627 884.2L626 886.8L625 886L624 887.7L623 886.8L622 887.1L621 886.1L620 885.6L619 887.2L618 889.2L617 888.4L616 888.4L615 886.3L614 888.4L613 887.1L612 887.3L611 890L610 891L609 886.1L608 886.6L607 887.1L606 888.2L605 887.4L604 888.2L603 886.2L602 886.7L601 889.9L600 889.7L599 889.7L598 888.2L597 886.7L596 887.6L595 886.4L594 887.7L593 890.3L592 885.8L591 890.1L590 887L589 887.8L588 889.1L587 887.7L586 886.2L585 887.7L584 889.2L583 885.6L582 888.1L581 885.4L580 885.7L579 887.9L578 884.6L577 886.7L576 891.5L575 886.7L574 886.6L573 885.2L572 887.3L571 888.6L570 888.9L569 889.1L568 886.4L567 885.5L566 885.5L565 889.1L564 883.3L563 884.4L562 888.7L561 887.2L560 881.9L559 886.4L558 882.3L557 881.6L556 878.7L555 884.5L554 881.3L553 880.2L552 878.5L551 879.8L550 875.9L549 879.1L548 875.3L547 874.1L546 876.8L545 891.7L544 876.9L543 878.6L542 875.7L541 877.1L540 878.7L539 876.2L538 871.2L537 873.5L536 879.4L535 880.7L534 867.6L533 875.5L532 867.3L531 872.4L530 872.7L529 865.8L528 866.2L527 862.5L526 872.7L525 867L524 868.9L523 860.2L522 862.5L521 854.8L520 865.1L519 854.4L518 856.4L517 860L516 854.9L515 859.6L514 850.8L513 849L512 860.4L511 855.8L510 856L509 848L508 851L507 838.1L506 847.1L505 849.6L504 853.7L503 840.8L502 846.3L501 850.2L500 848.5L499 843L498 853.3L497 842L496.1 847.1L495.1 848.3L494.1 844.2L493.1 849.2L492.1 848.4L491.1 841.5L490.1 838.7L489.1 837.4L488.1 830.6L487.1 832.4L486.1 824.7L485.1 838.8L484.1 838.5L483.1 833.5L482.1 828.7L481.1 824.6L480.1 831.9L479.1 833L478.1 826.2L477.1 831.5L476.1 822.1L475.1 821.4L474.1 822.3L473.1 814.8L472.1 824.2L471.1 820.1L470.1 810.9L469.1 814.3L468.1 823.9L467.1 813.4L466.1 827.5L465.1 821.8L464.1 818.1L463.1 816.2L462.1 809.4L461.1 813.6L460.1 804.9L459.1 813.4L458.1 806.3L457.1 810.2L456.1 809.6L455.1 800.1L454.1 806L453.1 798.6L452.1 812.6L451.1 794.8L450.1 797.3L449.1 808.9L448.1 810.9L447.1 797.8L446.1 799.4L445.1 798L444.1 793.5L443.1 790.7L442.1 791.8L441.1 787.9L440.1 806.3L439.1 808.8L438.1 783.9L437.1 788.9L436.1 791.8L435.1 811L434.1 795.9L433.1 803.6L432.1 782.8L431.1 787.3L430.1 787.1L429.1 788.6L428.1 776.9L427.1 783.9L426.1 780.7L425.1 783L424.1 769.6Z" fill="#1f4aa2" stroke="#1f4aa2" stroke-width="0.8"/>
</g>
<rect x="424.1" y="743.6" width="290.8" height="145.4" fill="none" stroke="#2e2e2e" stroke-width="1.3"/>
<path d="M424.1 889.0 v-5.0 M424.1 889.0 h5.0 M453.2 889.0 v-2.9 M424.1 874.5 h2.9 M482.3 889.0 v-2.9 M424.1 859.9 h2.9 M511.3 889.0 v-2.9 M424.1 845.4 h2.9 M540.4 889.0 v-2.9 M424.1 830.8 h2.9 M569.5 889.0 v-5.0 M424.1 816.3 h5.0 M598.6 889.0 v-2.9 M424.1 801.8 h2.9 M627.7 889.0 v-2.9 M424.1 787.2 h2.9 M656.7 889.0 v-2.9 M424.1 772.7 h2.9 M685.8 889.0 v-2.9 M424.1 758.1 h2.9 M714.9 889.0 v-5.0 M424.1 743.6 h5.0 " stroke="#222" stroke-width="1" fill="none"/>
<text x="419.10" y="894.60" font-size="15.3" text-anchor="end" fill="#3c3c3c" textLength="18.80" lengthAdjust="spacingAndGlyphs">0.0</text>
<text x="424.10" y="908.10" font-size="15.3" text-anchor="middle" fill="#3c3c3c" textLength="18.80" lengthAdjust="spacingAndGlyphs">0.0</text>
<text x="419.10" y="821.90" font-size="15.3" text-anchor="end" fill="#3c3c3c" textLength="18.80" lengthAdjust="spacingAndGlyphs">0.5</text>
<text x="569.50" y="908.10" font-size="15.3" text-anchor="middle" fill="#3c3c3c" textLength="18.80" lengthAdjust="spacingAndGlyphs">0.5</text>
<text x="419.10" y="749.20" font-size="15.3" text-anchor="end" fill="#3c3c3c" textLength="18.80" lengthAdjust="spacingAndGlyphs">1.0</text>
<text x="714.90" y="908.10" font-size="15.3" text-anchor="middle" fill="#3c3c3c" textLength="18.80" lengthAdjust="spacingAndGlyphs">1.0</text>
<text x="570.00" y="935.60" font-size="19.6" text-anchor="middle" fill="#3c3c3c" textLength="25.80" lengthAdjust="spacingAndGlyphs">x/L</text>
<text x="340.00" y="822.30" font-size="19.8" text-anchor="middle" fill="#3c3c3c" transform="rotate(-90 340.00 822.30)" textLength="98.00" lengthAdjust="spacingAndGlyphs">Normalized</text>
<text x="364.40" y="822.30" font-size="19.8" text-anchor="middle" fill="#3c3c3c" transform="rotate(-90 364.40 822.30)" textLength="75.00" lengthAdjust="spacingAndGlyphs">Reporter</text>
<text x="388.30" y="822.30" font-size="19.8" text-anchor="middle" fill="#3c3c3c" transform="rotate(-90 388.30 822.30)" textLength="117.50" lengthAdjust="spacingAndGlyphs">Fluorescence</text>
<path d="M630.4 758.5 h39.4" stroke="#1f4aa2" stroke-width="1.9"/><text x="679.00" y="763.80" font-size="14.8" text-anchor="start" fill="#3c3c3c" textLength="20.30" lengthAdjust="spacingAndGlyphs">2 X</text>
<path d="M630.4 790.1 h39.4" stroke="#e8141c" stroke-width="1.9"/><text x="679.00" y="795.40" font-size="14.8" text-anchor="start" fill="#3c3c3c" textLength="20.30" lengthAdjust="spacingAndGlyphs">1 X</text>
<path d="M630.4 821.2 h39.4" stroke="#2fae3c" stroke-width="1.9"/><text x="679.00" y="826.50" font-size="14.8" text-anchor="start" fill="#3c3c3c" textLength="24.10" lengthAdjust="spacingAndGlyphs">½ X</text>
<clipPath id="cH2"><rect x="424.6" y="961.2" width="290.6" height="145.6"/></clipPath>
<g clip-path="url(#cH2)" stroke-linejoin="round">
<path d="M424.6 943.6L425.6 960.5L426.6 950L427.6 964.2L428.6 951.8L429.6 990.4L430.6 980.8L431.6 965.7L432.6 979.8L433.6 998.3L434.6 964.7L435.6 976.9L436.6 966.1L437.6 970.6L438.6 984.5L439.6 979.8L440.6 985.6L441.6 976.2L442.6 977.9L443.6 957.2L444.6 983.9L445.6 958.3L446.6 994.3L447.6 982.1L448.6 969.3L449.6 949.5L450.6 989.6L451.6 980.3L452.6 998.3L453.6 1002.1L454.6 994.3L455.6 1016.2L456.6 1031.5L457.6 1019.5L458.6 976L459.6 986.3L460.6 994.4L461.5 981.1L462.5 995.1L463.5 1003.7L464.5 986.5L465.5 1003.5L466.5 1008L467.5 1003.9L468.5 1026.1L469.5 987.6L470.5 1002.6L471.5 1014.5L472.5 993.7L473.5 1020.3L474.5 1003.6L475.5 1014.9L476.5 1013L477.5 1013.7L478.5 1003L479.5 1010.4L480.5 1008.7L481.5 1019.5L482.5 1024.9L483.5 1005.3L484.5 1017L485.5 1028.6L486.5 1008.6L487.5 1014.6L488.5 1017.9L489.5 1025.9L490.5 1029.3L491.5 1027.3L492.5 1024.1L493.5 1032.5L494.5 1028.4L495.5 1016.5L496.5 1023.5L497.5 1043.9L498.5 1040.1L499.5 1029.4L500.5 1047.2L501.5 1036.3L502.5 1028.9L503.5 1052.7L504.5 1047.3L505.5 1043.3L506.5 1029.8L507.5 1045L508.5 1041.4L509.5 1049.4L510.5 1052.2L511.5 1051.3L512.5 1049.4L513.5 1062.9L514.5 1049.7L515.5 1051.9L516.5 1057.6L517.5 1058.7L518.5 1056L519.5 1061.9L520.5 1059.1L521.5 1061.7L522.5 1063.7L523.5 1061.4L524.5 1070.5L525.5 1068.4L526.5 1068.7L527.5 1060.3L528.5 1071.7L529.5 1076L530.5 1069.4L531.5 1077.9L532.5 1079.1L533.5 1076.6L534.4 1082.2L535.4 1082.3L536.4 1084.9L537.4 1083L538.4 1085.7L539.4 1077.3L540.4 1084L541.4 1077L542.4 1085.2L543.4 1079.5L544.4 1082.7L545.4 1088.6L546.4 1082L547.4 1089.4L548.4 1088.2L549.4 1086.5L550.4 1093.2L551.4 1091.1L552.4 1092.4L553.4 1091.9L554.4 1090.9L555.4 1093.1L556.4 1095.3L557.4 1095L558.4 1096.8L559.4 1093.2L560.4 1100L561.4 1095.7L562.4 1099L563.4 1098.7L564.4 1098.8L565.4 1097.8L566.4 1096.8L567.4 1099.6L568.4 1098.7L569.4 1098.4L570.4 1098.8L571.4 1098.4L572.4 1101.8L573.4 1101.7L574.4 1101.1L575.4 1098L576.4 1098.1L577.4 1096.1L578.4 1098.2L579.4 1097.7L580.4 1100.1L581.4 1101.2L582.4 1102L583.4 1100.9L584.4 1103.8L585.4 1099.8L586.4 1098.9L587.4 1102.1L588.4 1099.2L589.4 1101.4L590.4 1101.2L591.4 1103.4L592.4 1102.1L593.4 1102.5L594.4 1099.4L595.4 1103.9L596.4 1101.9L597.4 1102.5L598.4 1101.6L599.4 1100L600.4 1099.9L601.4 1103L602.4 1102.9L603.4 1100.4L604.4 1100.7L605.4 1100.8L606.3 1096.5L607.3 1098.8L608.3 1099.4L609.3 1101.4L610.3 1099.4L611.3 1102.3L612.3 1102.2L613.3 1101L614.3 1100L615.3 1099.4L616.3 1101L617.3 1105L618.3 1099.5L619.3 1100.2L620.3 1103.3L621.3 1103.6L622.3 1102.1L623.3 1103.1L624.3 1104.6L625.3 1099.1L626.3 1103.2L627.3 1103.4L628.3 1101L629.3 1100.4L630.3 1102.8L631.3 1102.7L632.3 1100.6L633.3 1101L634.3 1100.2L635.3 1102.8L636.3 1100.8L637.3 1101.3L638.3 1104.6L639.3 1101.8L640.3 1104.4L641.3 1102.7L642.3 1102.8L643.3 1100.1L644.3 1102.5L645.3 1101.8L646.3 1099.4L647.3 1098.8L648.3 1101.7L649.3 1099.3L650.3 1101.1L651.3 1100.7L652.3 1103L653.3 1102.4L654.3 1101.3L655.3 1100.2L656.3 1100.5L657.3 1101.4L658.3 1101.9L659.3 1101.6L660.3 1099.4L661.3 1102.5L662.3 1101.7L663.3 1101.6L664.3 1100.6L665.3 1102.5L666.3 1103.4L667.3 1102.8L668.3 1098.3L669.3 1100.8L670.3 1104.2L671.3 1102.8L672.3 1101.2L673.3 1101.2L674.3 1105.1L675.3 1103.1L676.3 1101.6L677.3 1101.8L678.3 1101.1L679.2 1102.6L680.2 1102.2L681.2 1103L682.2 1099.3L683.2 1101.6L684.2 1100.6L685.2 1100L686.2 1101.9L687.2 1100.6L688.2 1102.5L689.2 1101.8L690.2 1101.6L691.2 1101L692.2 1100.8L693.2 1102.3L694.2 1100.8L695.2 1102.4L696.2 1099.4L697.2 1099.7L698.2 1101.3L699.2 1102.9L700.2 1101.4L701.2 1102.4L702.2 1102L703.2 1101.4L704.2 1099L705.2 1101.8L706.2 1101.6L707.2 1100.2L708.2 1098.3L709.2 1104L710.2 1099.7L711.2 1103.8L712.2 1102.2L713.2 1103L714.2 1102.5L715.2 1101L715.2 1103.9L714.2 1106.6L713.2 1106.3L712.2 1109.9L711.2 1107.2L710.2 1106.3L709.2 1105.4L708.2 1106.5L707.2 1104.8L706.2 1104.6L705.2 1107.2L704.2 1104.2L703.2 1107.5L702.2 1109L701.2 1105.7L700.2 1106L699.2 1107.9L698.2 1107.5L697.2 1105.6L696.2 1107.8L695.2 1106.4L694.2 1106.2L693.2 1108L692.2 1104.3L691.2 1106L690.2 1106L689.2 1106.6L688.2 1109L687.2 1109.6L686.2 1109L685.2 1105.9L684.2 1108.6L683.2 1106.9L682.2 1107.7L681.2 1110.2L680.2 1108.2L679.2 1106L678.3 1105.8L677.3 1109.2L676.3 1107.5L675.3 1106.9L674.3 1107.4L673.3 1105.9L672.3 1111.5L671.3 1105.8L670.3 1105.7L669.3 1106.7L668.3 1105.4L667.3 1107.3L666.3 1105.1L665.3 1108.9L664.3 1106.2L663.3 1108.9L662.3 1108.2L661.3 1106.5L660.3 1107.1L659.3 1109.6L658.3 1108.9L657.3 1108L656.3 1105.4L655.3 1108.3L654.3 1105.9L653.3 1109.5L652.3 1106.4L651.3 1109.2L650.3 1108.7L649.3 1106.5L648.3 1106.4L647.3 1108.1L646.3 1106L645.3 1107.4L644.3 1106L643.3 1107.4L642.3 1107.7L641.3 1104.4L640.3 1106.4L639.3 1104.6L638.3 1103.9L637.3 1106.5L636.3 1106L635.3 1108.9L634.3 1110.4L633.3 1105.6L632.3 1108.4L631.3 1109.3L630.3 1107.6L629.3 1107.1L628.3 1107L627.3 1107.6L626.3 1106.8L625.3 1108.2L624.3 1104L623.3 1108.8L622.3 1105.1L621.3 1107.3L620.3 1109.4L619.3 1106.6L618.3 1106.2L617.3 1105.2L616.3 1105.5L615.3 1110.8L614.3 1109.7L613.3 1105.8L612.3 1108.4L611.3 1105.5L610.3 1105.7L609.3 1106L608.3 1104.4L607.3 1109.1L606.3 1106.9L605.4 1106.7L604.4 1107.4L603.4 1105.9L602.4 1104.6L601.4 1106.6L600.4 1104.6L599.4 1104.4L598.4 1107.5L597.4 1107.8L596.4 1106.9L595.4 1104.8L594.4 1106L593.4 1106L592.4 1105.2L591.4 1105.2L590.4 1104.4L589.4 1104.8L588.4 1106L587.4 1109.5L586.4 1106.4L585.4 1107.7L584.4 1108.2L583.4 1105.5L582.4 1105.4L581.4 1105.2L580.4 1105.6L579.4 1105.3L578.4 1104.3L577.4 1108.9L576.4 1105L575.4 1108.3L574.4 1108.2L573.4 1105.3L572.4 1110L571.4 1106.7L570.4 1104.7L569.4 1105.9L568.4 1105.1L567.4 1104.5L566.4 1105.1L565.4 1105.6L564.4 1105.2L563.4 1102.8L562.4 1098.8L561.4 1104.5L560.4 1106.2L559.4 1104.3L558.4 1103.9L557.4 1102.4L556.4 1102.8L555.4 1103.6L554.4 1102.4L553.4 1099.7L552.4 1098.7L551.4 1104.3L550.4 1103.3L549.4 1098.8L548.4 1094.6L547.4 1095.5L546.4 1093.2L545.4 1098.4L544.4 1102.5L543.4 1099.3L542.4 1092.3L541.4 1097.7L540.4 1095.8L539.4 1090.2L538.4 1095.4L537.4 1092.1L536.4 1093.8L535.4 1092.5L534.4 1092.7L533.5 1087.9L532.5 1087.4L531.5 1093.1L530.5 1078.9L529.5 1087.7L528.5 1082.7L527.5 1095.1L526.5 1084L525.5 1077.6L524.5 1074.3L523.5 1076L522.5 1079.7L521.5 1082.4L520.5 1076.2L519.5 1070.1L518.5 1075.6L517.5 1077.5L516.5 1089L515.5 1075.4L514.5 1087.7L513.5 1077.6L512.5 1080.1L511.5 1071.8L510.5 1067.1L509.5 1076.7L508.5 1071.2L507.5 1068.9L506.5 1075.8L505.5 1075.7L504.5 1083.7L503.5 1070.9L502.5 1067.1L501.5 1068.1L500.5 1075.7L499.5 1074.3L498.5 1086L497.5 1066.3L496.5 1053.5L495.5 1055.9L494.5 1064.6L493.5 1078.4L492.5 1052.4L491.5 1053.6L490.5 1056.5L489.5 1061L488.5 1069L487.5 1063.9L486.5 1067.3L485.5 1048.7L484.5 1055.9L483.5 1047L482.5 1035.9L481.5 1063.4L480.5 1064.1L479.5 1046L478.5 1057.4L477.5 1051L476.5 1062.8L475.5 1044.9L474.5 1053.4L473.5 1039.4L472.5 1039.3L471.5 1042.6L470.5 1045.9L469.5 1021L468.5 1067.3L467.5 1030.2L466.5 1030.7L465.5 1071.4L464.5 1028.2L463.5 1051.1L462.5 1030.9L461.5 1052.9L460.6 1046.1L459.6 1025.5L458.6 1054.4L457.6 1060.9L456.6 1052.3L455.6 1032.5L454.6 1046.7L453.6 1028L452.6 1030.7L451.6 1026.6L450.6 1025.2L449.6 1022.4L448.6 1045.2L447.6 1029.5L446.6 1051.2L445.6 1016.5L444.6 1019.2L443.6 1028.1L442.6 1026.5L441.6 1023.1L440.6 1041.1L439.6 1022.9L438.6 1036.6L437.6 1026.6L436.6 1025.8L435.6 1028L434.6 1013.5L433.6 1019.5L432.6 1032.8L431.6 1016L430.6 1042L429.6 1031.8L428.6 1032.4L427.6 1004.8L426.6 1014.9L425.6 1030.9L424.6 1026.7Z" fill="#c6e4c6" stroke="#c6e4c6" stroke-width="0.8"/>
<path d="M424.6 979.1L425.6 990.7L426.6 958.1L427.6 990.9L428.6 972.4L429.6 966.6L430.6 985.8L431.6 964.4L432.6 975.1L433.6 1005.2L434.6 956.6L435.6 991.9L436.6 996.3L437.6 1002.8L438.6 979.6L439.6 997.1L440.6 1007L441.6 988.9L442.6 1017.5L443.6 992.3L444.6 1000.6L445.6 991L446.6 998.3L447.6 998.7L448.6 998.8L449.6 1004.7L450.6 1004.7L451.6 1004.6L452.6 996.1L453.6 1006.8L454.6 1017L455.6 997.6L456.6 1003.4L457.6 1013L458.6 995.6L459.6 1011.3L460.6 1016.6L461.5 1017.6L462.5 1027.1L463.5 1017.9L464.5 1003.9L465.5 1017.8L466.5 1023.5L467.5 1031.3L468.5 1035.7L469.5 1014.6L470.5 1025.3L471.5 1026.2L472.5 1024.9L473.5 1027L474.5 1032.5L475.5 1027.9L476.5 1040.8L477.5 1026.2L478.5 1030.8L479.5 1030.6L480.5 1029L481.5 1025.7L482.5 1026.3L483.5 1042.1L484.5 1039.9L485.5 1040.3L486.5 1042.4L487.5 1048.1L488.5 1042.5L489.5 1048L490.5 1046.1L491.5 1048.9L492.5 1047.3L493.5 1039.7L494.5 1047.2L495.5 1050.6L496.5 1055L497.5 1053.4L498.5 1052.3L499.5 1056.4L500.5 1056.5L501.5 1061.3L502.5 1066.2L503.5 1065.4L504.5 1065.5L505.5 1069L506.5 1058.3L507.5 1069.3L508.5 1063L509.5 1069.3L510.5 1062.3L511.5 1073.4L512.5 1075.8L513.5 1071.3L514.5 1071L515.5 1079.5L516.5 1080.1L517.5 1082.2L518.5 1070.4L519.5 1079.1L520.5 1080.4L521.5 1075.8L522.5 1085L523.5 1084.7L524.5 1090.3L525.5 1083.9L526.5 1087.1L527.5 1085.3L528.5 1086.1L529.5 1089.8L530.5 1090.1L531.5 1086.4L532.5 1090.2L533.5 1087.6L534.4 1091.1L535.4 1094L536.4 1094.9L537.4 1091.3L538.4 1090.8L539.4 1094.6L540.4 1095.9L541.4 1096.6L542.4 1099.8L543.4 1096.9L544.4 1095.3L545.4 1099.8L546.4 1097.6L547.4 1093L548.4 1094.7L549.4 1099.4L550.4 1095.6L551.4 1102.1L552.4 1102.6L553.4 1097.9L554.4 1098.4L555.4 1100.2L556.4 1100.2L557.4 1099.5L558.4 1099.9L559.4 1098.5L560.4 1100.4L561.4 1095.6L562.4 1101.4L563.4 1100.1L564.4 1097.7L565.4 1101.9L566.4 1103.6L567.4 1102.5L568.4 1101.1L569.4 1102.7L570.4 1102.7L571.4 1100.1L572.4 1102.4L573.4 1100.3L574.4 1100.1L575.4 1103.1L576.4 1100L577.4 1100.6L578.4 1103.1L579.4 1102.4L580.4 1103.2L581.4 1101.2L582.4 1102.2L583.4 1102.6L584.4 1100.4L585.4 1102.2L586.4 1103.4L587.4 1101.9L588.4 1102.2L589.4 1101.6L590.4 1102.5L591.4 1102.3L592.4 1102.3L593.4 1100.7L594.4 1103.2L595.4 1102.8L596.4 1102.4L597.4 1101.1L598.4 1101.1L599.4 1101.2L600.4 1101L601.4 1102.7L602.4 1100.1L603.4 1100.4L604.4 1099.9L605.4 1103.7L606.3 1102.6L607.3 1100.6L608.3 1103.2L609.3 1103L610.3 1101.5L611.3 1102.3L612.3 1103.4L613.3 1101.9L614.3 1101.6L615.3 1099.9L616.3 1100.8L617.3 1101.1L618.3 1099.2L619.3 1101.5L620.3 1103.5L621.3 1102.2L622.3 1102.4L623.3 1101.1L624.3 1102.1L625.3 1099.4L626.3 1102.3L627.3 1101L628.3 1100.5L629.3 1102.7L630.3 1102.6L631.3 1103.7L632.3 1103.3L633.3 1100.4L634.3 1104.8L635.3 1100.7L636.3 1102.5L637.3 1098.3L638.3 1104.3L639.3 1101L640.3 1101.1L641.3 1103L642.3 1102.1L643.3 1102.6L644.3 1102.4L645.3 1101.1L646.3 1104.5L647.3 1103L648.3 1102L649.3 1102.4L650.3 1102.2L651.3 1103.8L652.3 1103.2L653.3 1103.2L654.3 1102.3L655.3 1094.7L656.3 1101.2L657.3 1101L658.3 1101.1L659.3 1102.2L660.3 1100.6L661.3 1101.3L662.3 1100L663.3 1103L664.3 1102.5L665.3 1104.8L666.3 1102.2L667.3 1101.9L668.3 1103.2L669.3 1101.8L670.3 1100.7L671.3 1104.3L672.3 1101.9L673.3 1101.5L674.3 1101.1L675.3 1102.2L676.3 1103.1L677.3 1101.8L678.3 1102.5L679.2 1101.7L680.2 1103.9L681.2 1101.5L682.2 1103.3L683.2 1104L684.2 1102.9L685.2 1103L686.2 1101.2L687.2 1103.7L688.2 1101.6L689.2 1104L690.2 1101.2L691.2 1103L692.2 1102.4L693.2 1103.1L694.2 1101.1L695.2 1100.6L696.2 1102L697.2 1101.9L698.2 1100.7L699.2 1102.1L700.2 1101.9L701.2 1104.5L702.2 1104.8L703.2 1103.6L704.2 1104.7L705.2 1104.2L706.2 1101.9L707.2 1102.6L708.2 1103.3L709.2 1101.9L710.2 1103.4L711.2 1104.3L712.2 1101.7L713.2 1103L714.2 1104.7L715.2 1098.6L715.2 1104L714.2 1107L713.2 1105.6L712.2 1107.2L711.2 1106.7L710.2 1107.3L709.2 1111.2L708.2 1106.1L707.2 1106.6L706.2 1107.2L705.2 1108.5L704.2 1107.5L703.2 1107.3L702.2 1108.5L701.2 1106.4L700.2 1107.6L699.2 1105.8L698.2 1107L697.2 1105.3L696.2 1105.2L695.2 1105.6L694.2 1106.5L693.2 1105.8L692.2 1106.5L691.2 1109.5L690.2 1105.5L689.2 1105.8L688.2 1106.2L687.2 1107.1L686.2 1107.9L685.2 1108.2L684.2 1108.3L683.2 1106.3L682.2 1107.5L681.2 1108.3L680.2 1106.9L679.2 1106.7L678.3 1106.3L677.3 1107.9L676.3 1107.1L675.3 1105.1L674.3 1104.5L673.3 1104.7L672.3 1106.9L671.3 1107.3L670.3 1108.7L669.3 1106L668.3 1107.3L667.3 1110L666.3 1106.1L665.3 1106.2L664.3 1104.8L663.3 1104L662.3 1103.6L661.3 1106.1L660.3 1106L659.3 1105.1L658.3 1105.7L657.3 1103.9L656.3 1106.3L655.3 1105.7L654.3 1107.2L653.3 1106.8L652.3 1106.6L651.3 1105.4L650.3 1105.3L649.3 1106.6L648.3 1105L647.3 1106.8L646.3 1106.2L645.3 1107.1L644.3 1104.8L643.3 1106.3L642.3 1104.6L641.3 1107.9L640.3 1106.2L639.3 1105.1L638.3 1106.1L637.3 1105.3L636.3 1105.4L635.3 1106.1L634.3 1107.2L633.3 1107.5L632.3 1105L631.3 1106.8L630.3 1104.7L629.3 1108.9L628.3 1106.4L627.3 1106.9L626.3 1108.1L625.3 1107.8L624.3 1106.8L623.3 1106.8L622.3 1104.6L621.3 1107.7L620.3 1104.8L619.3 1105.4L618.3 1104.5L617.3 1105.3L616.3 1103.3L615.3 1108.4L614.3 1103.9L613.3 1106.9L612.3 1107.7L611.3 1107.9L610.3 1104.7L609.3 1108.1L608.3 1105L607.3 1105.7L606.3 1106.8L605.4 1106.2L604.4 1106.5L603.4 1105.2L602.4 1104.7L601.4 1105.5L600.4 1105.1L599.4 1105.5L598.4 1108.1L597.4 1103.7L596.4 1106.3L595.4 1104.6L594.4 1104.7L593.4 1104.4L592.4 1104.7L591.4 1104.2L590.4 1103.8L589.4 1104.6L588.4 1108.2L587.4 1108.6L586.4 1103.8L585.4 1104.8L584.4 1106.4L583.4 1105.2L582.4 1105.7L581.4 1107.3L580.4 1105.6L579.4 1107.7L578.4 1106.3L577.4 1104.3L576.4 1107.5L575.4 1107.6L574.4 1106.7L573.4 1105.3L572.4 1105.3L571.4 1105L570.4 1104.2L569.4 1105.4L568.4 1108.7L567.4 1106.3L566.4 1105.2L565.4 1106.7L564.4 1103.4L563.4 1105L562.4 1104.4L561.4 1105.6L560.4 1106L559.4 1104.9L558.4 1105.5L557.4 1102.5L556.4 1107.2L555.4 1102.7L554.4 1104.9L553.4 1104L552.4 1104.9L551.4 1103.6L550.4 1102.3L549.4 1105.1L548.4 1102.6L547.4 1101.6L546.4 1102L545.4 1104L544.4 1100L543.4 1100.5L542.4 1100.7L541.4 1102.9L540.4 1102.4L539.4 1099.3L538.4 1102.7L537.4 1101.8L536.4 1100.9L535.4 1101.9L534.4 1096.8L533.5 1098.7L532.5 1102.1L531.5 1096.9L530.5 1094.1L529.5 1098L528.5 1091.1L527.5 1095.8L526.5 1089.3L525.5 1094.2L524.5 1090.4L523.5 1094L522.5 1090.5L521.5 1090.7L520.5 1091.7L519.5 1092.8L518.5 1090.1L517.5 1089.3L516.5 1088.7L515.5 1082.1L514.5 1084.6L513.5 1077.7L512.5 1082.8L511.5 1079.2L510.5 1077.4L509.5 1076.4L508.5 1077L507.5 1081.4L506.5 1082.6L505.5 1082.6L504.5 1080.1L503.5 1077.4L502.5 1072.3L501.5 1071.1L500.5 1077.3L499.5 1073.2L498.5 1081.5L497.5 1074.3L496.5 1068.8L495.5 1084.2L494.5 1074.8L493.5 1054.9L492.5 1068.2L491.5 1058.6L490.5 1061.3L489.5 1070.2L488.5 1061.6L487.5 1055.3L486.5 1064L485.5 1053.2L484.5 1061.9L483.5 1044.8L482.5 1051.4L481.5 1060.4L480.5 1074.5L479.5 1059.4L478.5 1079.5L477.5 1077.8L476.5 1059.7L475.5 1068.8L474.5 1052.9L473.5 1054.1L472.5 1049.3L471.5 1051.3L470.5 1046L469.5 1059.8L468.5 1056.8L467.5 1053.2L466.5 1043.8L465.5 1051.8L464.5 1043.4L463.5 1037.3L462.5 1035.1L461.5 1034.8L460.6 1043.9L459.6 1029.3L458.6 1044.6L457.6 1024.3L456.6 1037.5L455.6 1034.7L454.6 1051.4L453.6 1046.9L452.6 1033.5L451.6 1038.6L450.6 1031.5L449.6 1025.7L448.6 1037L447.6 1032.7L446.6 1044L445.6 1020.5L444.6 1035.6L443.6 1025.3L442.6 1043.1L441.6 1039.8L440.6 1033.9L439.6 1043.6L438.6 1014.4L437.6 1023.6L436.6 1054.3L435.6 998.6L434.6 1021.6L433.6 1041.3L432.6 1006.2L431.6 1028L430.6 1019.8L429.6 1019.2L428.6 1028.4L427.6 1043.6L426.6 1026.3L425.6 1012.9L424.6 1038.5Z" fill="#f9d7d7" stroke="#f9d7d7" stroke-width="0.8"/>
<path d="M424.6 986.8L425.6 1014.8L426.6 990.3L427.6 985.9L428.6 978L429.6 987.6L430.6 999.5L431.6 994.9L432.6 1014.4L433.6 993.7L434.6 1001.6L435.6 1016.8L436.6 988.7L437.6 988.7L438.6 995.6L439.6 996.9L440.6 989.2L441.6 1003L442.6 988.4L443.6 993L444.6 1001.8L445.6 998.9L446.6 994.4L447.6 997.2L448.6 1023.7L449.6 1011.9L450.6 1033.5L451.6 1026.8L452.6 990.9L453.6 1016L454.6 1035.1L455.6 1002L456.6 1023.8L457.6 1024L458.6 1011.4L459.6 1032.6L460.6 1033.6L461.5 1028.5L462.5 1040.8L463.5 1052.6L464.5 1029.5L465.5 1032L466.5 1054.7L467.5 1033.7L468.5 1025.8L469.5 1048.1L470.5 1058.9L471.5 1041.6L472.5 1048.3L473.5 1043.6L474.5 1036.2L475.5 1038.3L476.5 1052.9L477.5 1051.9L478.5 1047.2L479.5 1057.1L480.5 1052.2L481.5 1068.5L482.5 1068L483.5 1050.2L484.5 1054.7L485.5 1054.2L486.5 1060.4L487.5 1061.4L488.5 1065.4L489.5 1069.3L490.5 1069.6L491.5 1061.9L492.5 1077.5L493.5 1075.3L494.5 1072.1L495.5 1074.5L496.5 1071.8L497.5 1081.2L498.5 1080.8L499.5 1078.9L500.5 1081.3L501.5 1081.1L502.5 1084.3L503.5 1084L504.5 1080.4L505.5 1077L506.5 1085.9L507.5 1092.7L508.5 1090.2L509.5 1089.9L510.5 1094.5L511.5 1089.7L512.5 1095.7L513.5 1093.7L514.5 1092.9L515.5 1087.1L516.5 1095.7L517.5 1094.1L518.5 1091.9L519.5 1095.2L520.5 1097.4L521.5 1097.1L522.5 1091.8L523.5 1091.1L524.5 1095.5L525.5 1094L526.5 1094L527.5 1097.1L528.5 1097.7L529.5 1100.2L530.5 1097.6L531.5 1099.1L532.5 1096.1L533.5 1098.1L534.4 1101.6L535.4 1101.7L536.4 1100.2L537.4 1099L538.4 1098.5L539.4 1097.9L540.4 1099.7L541.4 1102.8L542.4 1099.8L543.4 1102.5L544.4 1096.8L545.4 1101.6L546.4 1099.3L547.4 1102L548.4 1099.8L549.4 1099.4L550.4 1098.4L551.4 1101L552.4 1099.4L553.4 1097.9L554.4 1097.9L555.4 1098.3L556.4 1095.8L557.4 1101.4L558.4 1101.5L559.4 1101.3L560.4 1104.5L561.4 1099.8L562.4 1098.8L563.4 1100.7L564.4 1100.6L565.4 1099.9L566.4 1099.3L567.4 1101.2L568.4 1099.2L569.4 1101.6L570.4 1101.2L571.4 1097.2L572.4 1097.9L573.4 1102.5L574.4 1103.1L575.4 1099.6L576.4 1100.7L577.4 1099.1L578.4 1101.5L579.4 1100.3L580.4 1101.2L581.4 1100.3L582.4 1093.9L583.4 1099L584.4 1100L585.4 1100.6L586.4 1101.4L587.4 1100.9L588.4 1100.8L589.4 1095.6L590.4 1101.5L591.4 1098.7L592.4 1101.5L593.4 1097.5L594.4 1100.9L595.4 1100.1L596.4 1103.6L597.4 1101.4L598.4 1102.2L599.4 1104.4L600.4 1102.4L601.4 1099.2L602.4 1104.2L603.4 1102L604.4 1100.7L605.4 1103.9L606.3 1103L607.3 1103L608.3 1100.2L609.3 1101L610.3 1101.9L611.3 1103L612.3 1104.9L613.3 1100.5L614.3 1098.8L615.3 1102.4L616.3 1101.8L617.3 1102.6L618.3 1098.7L619.3 1100L620.3 1101L621.3 1097.2L622.3 1101.5L623.3 1098.7L624.3 1101.8L625.3 1102.3L626.3 1100L627.3 1098.1L628.3 1101.1L629.3 1103L630.3 1102.3L631.3 1101.3L632.3 1102.9L633.3 1100.6L634.3 1100.5L635.3 1099.2L636.3 1097.8L637.3 1096.6L638.3 1099L639.3 1101.6L640.3 1103.4L641.3 1100.7L642.3 1103.5L643.3 1102.4L644.3 1100.4L645.3 1104.3L646.3 1100.4L647.3 1101.8L648.3 1100.4L649.3 1099.5L650.3 1104.1L651.3 1102.9L652.3 1096.9L653.3 1100.5L654.3 1104.4L655.3 1103.2L656.3 1102.6L657.3 1101.1L658.3 1101.7L659.3 1100.9L660.3 1102L661.3 1101.1L662.3 1101.2L663.3 1103.1L664.3 1101.1L665.3 1100.9L666.3 1099.7L667.3 1099.6L668.3 1101.1L669.3 1103.4L670.3 1099.7L671.3 1098.8L672.3 1104.7L673.3 1101.1L674.3 1101.9L675.3 1099.6L676.3 1101.2L677.3 1099.3L678.3 1101.5L679.2 1099.9L680.2 1100.5L681.2 1098.5L682.2 1099.6L683.2 1101L684.2 1099L685.2 1100.4L686.2 1100L687.2 1101.9L688.2 1100.3L689.2 1098L690.2 1100.8L691.2 1101.5L692.2 1098.9L693.2 1098.7L694.2 1098.9L695.2 1099.9L696.2 1098.9L697.2 1103.6L698.2 1100L699.2 1100.1L700.2 1098.2L701.2 1103.2L702.2 1100.7L703.2 1094L704.2 1102.3L705.2 1099.7L706.2 1100.1L707.2 1098.4L708.2 1101.7L709.2 1101.3L710.2 1101.1L711.2 1100.5L712.2 1102.2L713.2 1102.3L714.2 1101.2L715.2 1103.1L715.2 1105L714.2 1105.9L713.2 1108L712.2 1106.7L711.2 1113.1L710.2 1107.5L709.2 1106.8L708.2 1107.2L707.2 1107L706.2 1108L705.2 1108.5L704.2 1107.9L703.2 1109.7L702.2 1108.2L701.2 1108L700.2 1104.3L699.2 1107.1L698.2 1106.9L697.2 1111.9L696.2 1100.3L695.2 1108.1L694.2 1109.2L693.2 1104.8L692.2 1108.9L691.2 1106.1L690.2 1106.3L689.2 1106.7L688.2 1102.6L687.2 1105.1L686.2 1109.8L685.2 1108.6L684.2 1109.2L683.2 1108.4L682.2 1106L681.2 1105.4L680.2 1107.5L679.2 1107.6L678.3 1107.4L677.3 1107.7L676.3 1106.7L675.3 1107.5L674.3 1107L673.3 1109.8L672.3 1109.2L671.3 1104.7L670.3 1104L669.3 1108.3L668.3 1113.4L667.3 1110L666.3 1103.8L665.3 1108.6L664.3 1107.5L663.3 1110.8L662.3 1109.1L661.3 1108.2L660.3 1108.8L659.3 1114.7L658.3 1108.7L657.3 1109.2L656.3 1108.2L655.3 1108L654.3 1109.2L653.3 1106.3L652.3 1105.6L651.3 1108.6L650.3 1107.4L649.3 1107L648.3 1107.8L647.3 1110.3L646.3 1106.1L645.3 1109.2L644.3 1108.3L643.3 1105.8L642.3 1107.7L641.3 1107.6L640.3 1107.5L639.3 1107.7L638.3 1108.3L637.3 1107.9L636.3 1105.8L635.3 1109.3L634.3 1107.1L633.3 1104.5L632.3 1107.4L631.3 1110.2L630.3 1103L629.3 1106.9L628.3 1106.2L627.3 1109.5L626.3 1105.4L625.3 1102L624.3 1107.5L623.3 1107.1L622.3 1105.2L621.3 1108.7L620.3 1107.2L619.3 1107.9L618.3 1104.7L617.3 1106.4L616.3 1112.3L615.3 1114L614.3 1106.1L613.3 1107.3L612.3 1110L611.3 1108.4L610.3 1110.6L609.3 1112.2L608.3 1106.4L607.3 1106.3L606.3 1110.4L605.4 1106.9L604.4 1106.5L603.4 1107.9L602.4 1106.1L601.4 1111.4L600.4 1108.9L599.4 1108.5L598.4 1106.5L597.4 1108.1L596.4 1108.7L595.4 1111.1L594.4 1106.6L593.4 1109.4L592.4 1106L591.4 1107.7L590.4 1103.9L589.4 1108.3L588.4 1106.4L587.4 1106.5L586.4 1109.9L585.4 1102.9L584.4 1104.7L583.4 1105.9L582.4 1104.3L581.4 1107.7L580.4 1105.4L579.4 1106.3L578.4 1109.3L577.4 1103.3L576.4 1107.3L575.4 1106.8L574.4 1103.8L573.4 1110.6L572.4 1108.7L571.4 1106.6L570.4 1104.9L569.4 1111.7L568.4 1106.1L567.4 1105.2L566.4 1106.1L565.4 1105.4L564.4 1108.7L563.4 1109.9L562.4 1103L561.4 1107.2L560.4 1108.2L559.4 1108.4L558.4 1106.1L557.4 1106L556.4 1106.4L555.4 1105.7L554.4 1108.2L553.4 1107.8L552.4 1104L551.4 1102.9L550.4 1108.5L549.4 1108.1L548.4 1105.6L547.4 1104.3L546.4 1105.3L545.4 1107L544.4 1108.4L543.4 1108L542.4 1107.4L541.4 1106.3L540.4 1106.6L539.4 1106.5L538.4 1104.5L537.4 1108L536.4 1108.4L535.4 1103.7L534.4 1108.3L533.5 1105.4L532.5 1107.2L531.5 1102.2L530.5 1102.4L529.5 1105.1L528.5 1105.4L527.5 1104L526.5 1103.3L525.5 1106.1L524.5 1108.4L523.5 1103.3L522.5 1104.1L521.5 1107.7L520.5 1106.9L519.5 1101.6L518.5 1105.7L517.5 1104.9L516.5 1106L515.5 1104.2L514.5 1099.9L513.5 1103.7L512.5 1095.7L511.5 1103.5L510.5 1099.2L509.5 1097.5L508.5 1098.8L507.5 1101.4L506.5 1097L505.5 1096L504.5 1090.9L503.5 1101.6L502.5 1106.6L501.5 1093.2L500.5 1099.4L499.5 1096L498.5 1086.6L497.5 1085.1L496.5 1100L495.5 1086.9L494.5 1091.3L493.5 1089.4L492.5 1092.9L491.5 1081L490.5 1089.1L489.5 1091.1L488.5 1089.1L487.5 1076.6L486.5 1089.2L485.5 1072.6L484.5 1087.6L483.5 1082.9L482.5 1083.9L481.5 1079.6L480.5 1072.6L479.5 1072.2L478.5 1080.9L477.5 1078.1L476.5 1084.2L475.5 1064.5L474.5 1066.1L473.5 1066.8L472.5 1085.4L471.5 1065.4L470.5 1069.4L469.5 1078.4L468.5 1065.4L467.5 1060.4L466.5 1064.7L465.5 1075L464.5 1062.9L463.5 1075L462.5 1061.7L461.5 1055.6L460.6 1064.6L459.6 1062L458.6 1062.7L457.6 1064L456.6 1045.1L455.6 1049.3L454.6 1068L453.6 1058.9L452.6 1036.6L451.6 1081.6L450.6 1071L449.6 1056.4L448.6 1032.6L447.6 1071.7L446.6 1064.9L445.6 1077.2L444.6 1034.9L443.6 1035.2L442.6 1044.2L441.6 1051.7L440.6 1044.3L439.6 1052.9L438.6 1059.2L437.6 1031.1L436.6 1024.9L435.6 1023L434.6 1051.6L433.6 1007.1L432.6 1034.6L431.6 1036.3L430.6 1019.6L429.6 1029.1L428.6 1059.6L427.6 1040.6L426.6 1038.1L425.6 1046.2L424.6 1050.5Z" fill="#b9b7de" stroke="#b9b7de" stroke-width="0.8"/>
<path d="M424.6 980.5L425.6 975L426.6 983.4L427.6 989.8L428.6 984.3L429.6 986L430.6 987.4L431.6 989.5L432.6 990.1L433.6 993.6L434.6 989.5L435.6 986.6L436.6 995.6L437.6 994.4L438.6 992.5L439.6 987.6L440.6 1002.7L441.6 994.6L442.6 988.1L443.6 999.8L444.6 997.8L445.6 993.5L446.6 997.3L447.6 999.3L448.6 998.8L449.6 993L450.6 1005.8L451.6 997.4L452.6 999.9L453.6 1007.1L454.6 1004.6L455.6 1007.5L456.6 1014.9L457.6 1010.3L458.6 1004L459.6 1011.7L460.6 1010.2L461.5 997.9L462.5 1009.5L463.5 1007.4L464.5 1013.1L465.5 1009.8L466.5 1015L467.5 1006.1L468.5 1021.6L469.5 1011.3L470.5 1005.8L471.5 1016.8L472.5 1012.2L473.5 1017.2L474.5 1013.6L475.5 1017.9L476.5 1018.7L477.5 1017.2L478.5 1024.4L479.5 1018L480.5 1018.4L481.5 1022.4L482.5 1031.5L483.5 1022.9L484.5 1032.1L485.5 1021.5L486.5 1027.1L487.5 1032.6L488.5 1038L489.5 1031.9L490.5 1028.1L491.5 1037.5L492.5 1035.1L493.5 1038.8L494.5 1035.9L495.5 1031.8L496.5 1046.3L497.5 1042.9L498.5 1039L499.5 1042.2L500.5 1050.1L501.5 1041.9L502.5 1047.1L503.5 1041.6L504.5 1036L505.5 1049.9L506.5 1046.5L507.5 1049.4L508.5 1036.7L509.5 1052.1L510.5 1047.3L511.5 1061.7L512.5 1053.2L513.5 1050.9L514.5 1058L515.5 1054.3L516.5 1065.8L517.5 1055.8L518.5 1056.8L519.5 1063.8L520.5 1066.1L521.5 1061.7L522.5 1070.6L523.5 1064.4L524.5 1071.8L525.5 1060.9L526.5 1070.4L527.5 1063L528.5 1075.1L529.5 1072.4L530.5 1075.6L531.5 1072.5L532.5 1075.7L533.5 1081.1L534.4 1077L535.4 1082.7L536.4 1072.2L537.4 1082.8L538.4 1081.3L539.4 1080.5L540.4 1075.8L541.4 1081.3L542.4 1084L543.4 1090L544.4 1087.3L545.4 1088.4L546.4 1082.6L547.4 1087.2L548.4 1088.5L549.4 1092.8L550.4 1085.5L551.4 1092.9L552.4 1089.8L553.4 1091.5L554.4 1093.7L555.4 1091L556.4 1093.4L557.4 1094L558.4 1094.3L559.4 1094.4L560.4 1096.3L561.4 1094.6L562.4 1096.5L563.4 1097.7L564.4 1097.7L565.4 1098.6L566.4 1095.7L567.4 1093.8L568.4 1099.2L569.4 1097.6L570.4 1097.2L571.4 1097.8L572.4 1097.3L573.4 1099.6L574.4 1099.9L575.4 1099.1L576.4 1100.7L577.4 1101.9L578.4 1098.3L579.4 1102.3L580.4 1102.3L581.4 1100.3L582.4 1103L583.4 1100.7L584.4 1098.9L585.4 1100.9L586.4 1101.3L587.4 1100.8L588.4 1099.9L589.4 1102.2L590.4 1102.6L591.4 1103L592.4 1100.2L593.4 1103L594.4 1098.8L595.4 1101.8L596.4 1101.6L597.4 1101.6L598.4 1102.1L599.4 1100.6L600.4 1101.7L601.4 1102.8L602.4 1102.2L603.4 1104.4L604.4 1098.9L605.4 1102.1L606.3 1102.5L607.3 1101.5L608.3 1101.2L609.3 1102.5L610.3 1101.2L611.3 1102.7L612.3 1103.1L613.3 1102.4L614.3 1102.6L615.3 1102.3L616.3 1102.9L617.3 1101.7L618.3 1100.9L619.3 1102.5L620.3 1100.9L621.3 1102.8L622.3 1102.9L623.3 1103.8L624.3 1104L625.3 1101.6L626.3 1102.7L627.3 1101.2L628.3 1100.9L629.3 1102.6L630.3 1102.9L631.3 1101.5L632.3 1101.7L633.3 1102.2L634.3 1102.1L635.3 1100.1L636.3 1102.8L637.3 1102.8L638.3 1098.7L639.3 1101L640.3 1101.6L641.3 1103L642.3 1103.9L643.3 1101.8L644.3 1102.6L645.3 1102.7L646.3 1100.7L647.3 1102.8L648.3 1102.9L649.3 1103.1L650.3 1102.7L651.3 1102.8L652.3 1104.4L653.3 1101.3L654.3 1102.2L655.3 1102.1L656.3 1102.8L657.3 1102.8L658.3 1101.5L659.3 1101L660.3 1100.3L661.3 1101.3L662.3 1103L663.3 1102.1L664.3 1100.3L665.3 1100.2L666.3 1101.6L667.3 1102.5L668.3 1101.6L669.3 1101L670.3 1102.7L671.3 1102L672.3 1102.1L673.3 1102.2L674.3 1100.9L675.3 1100.2L676.3 1103.2L677.3 1103.4L678.3 1101L679.2 1102.4L680.2 1102.6L681.2 1103L682.2 1103.6L683.2 1101.8L684.2 1100.7L685.2 1099.9L686.2 1101.3L687.2 1101.3L688.2 1103.9L689.2 1103.7L690.2 1102.2L691.2 1103.2L692.2 1102L693.2 1100.6L694.2 1101.6L695.2 1103.5L696.2 1102.2L697.2 1104.3L698.2 1101.8L699.2 1099.7L700.2 1101.9L701.2 1101.8L702.2 1100.7L703.2 1101.3L704.2 1102.2L705.2 1101.2L706.2 1099.7L707.2 1103.5L708.2 1100L709.2 1103L710.2 1100.4L711.2 1102.6L712.2 1102.8L713.2 1102.5L714.2 1102.4L715.2 1102.3L715.2 1106.7L714.2 1106.5L713.2 1106.9L712.2 1107.3L711.2 1108.8L710.2 1107.9L709.2 1105.7L708.2 1106.5L707.2 1106.4L706.2 1108.3L705.2 1105.6L704.2 1109.9L703.2 1106.7L702.2 1104.4L701.2 1105.1L700.2 1108L699.2 1106.6L698.2 1105.6L697.2 1105.9L696.2 1105.4L695.2 1104.2L694.2 1106.6L693.2 1107.7L692.2 1106.4L691.2 1105.9L690.2 1108.4L689.2 1106.1L688.2 1107.8L687.2 1105.6L686.2 1107.2L685.2 1105.7L684.2 1107.1L683.2 1104.1L682.2 1106L681.2 1107.3L680.2 1105.5L679.2 1108.3L678.3 1106.2L677.3 1103.6L676.3 1106.4L675.3 1106.2L674.3 1105.5L673.3 1104.5L672.3 1105.6L671.3 1106.9L670.3 1106.4L669.3 1107.4L668.3 1106L667.3 1107.6L666.3 1106.8L665.3 1105.1L664.3 1106.9L663.3 1105.7L662.3 1107L661.3 1106.1L660.3 1106L659.3 1106.7L658.3 1105.6L657.3 1105.4L656.3 1106.2L655.3 1106.7L654.3 1105.4L653.3 1107.7L652.3 1107.8L651.3 1108L650.3 1107.4L649.3 1106.6L648.3 1107.4L647.3 1107.7L646.3 1106.1L645.3 1106.6L644.3 1105.1L643.3 1106.5L642.3 1104.3L641.3 1107.4L640.3 1106.6L639.3 1105.6L638.3 1106.7L637.3 1104.9L636.3 1105.3L635.3 1106.7L634.3 1105.8L633.3 1109.1L632.3 1106.5L631.3 1107.6L630.3 1109L629.3 1106.9L628.3 1106.6L627.3 1105.8L626.3 1107.9L625.3 1105.8L624.3 1106.7L623.3 1105.9L622.3 1107.2L621.3 1108.2L620.3 1107.9L619.3 1107L618.3 1105.9L617.3 1106.6L616.3 1105.2L615.3 1105.4L614.3 1106L613.3 1105.6L612.3 1105.5L611.3 1105.4L610.3 1107.7L609.3 1105.4L608.3 1105.2L607.3 1105.6L606.3 1106.5L605.4 1103.6L604.4 1106L603.4 1108.3L602.4 1107L601.4 1108.1L600.4 1107.6L599.4 1106.4L598.4 1106.7L597.4 1106.8L596.4 1105.8L595.4 1106.3L594.4 1104.9L593.4 1108L592.4 1106.2L591.4 1105.3L590.4 1106.8L589.4 1107.7L588.4 1106.3L587.4 1107.7L586.4 1107.6L585.4 1106L584.4 1105.3L583.4 1104.2L582.4 1106.7L581.4 1106.5L580.4 1106.6L579.4 1105.8L578.4 1104.8L577.4 1108.9L576.4 1105.7L575.4 1105.1L574.4 1104.6L573.4 1104.2L572.4 1106.6L571.4 1101.4L570.4 1104.8L569.4 1104.6L568.4 1103.2L567.4 1103.4L566.4 1102.6L565.4 1104.3L564.4 1103.5L563.4 1106.4L562.4 1102.3L561.4 1102.6L560.4 1100.6L559.4 1107.6L558.4 1103.8L557.4 1103.7L556.4 1101.3L555.4 1102.7L554.4 1102.7L553.4 1100.9L552.4 1100L551.4 1108.1L550.4 1101.6L549.4 1101.6L548.4 1096L547.4 1099.6L546.4 1100.7L545.4 1097.5L544.4 1095.7L543.4 1095L542.4 1099.1L541.4 1092.5L540.4 1091.9L539.4 1092.9L538.4 1092.1L537.4 1090.9L536.4 1093.8L535.4 1089L534.4 1095.7L533.5 1091.9L532.5 1094.9L531.5 1087.1L530.5 1087.3L529.5 1092.9L528.5 1082L527.5 1082.9L526.5 1090.9L525.5 1084.5L524.5 1085.6L523.5 1085.7L522.5 1081.6L521.5 1081.2L520.5 1077.1L519.5 1083L518.5 1081.6L517.5 1072.4L516.5 1069.6L515.5 1075.9L514.5 1079L513.5 1069.2L512.5 1068.6L511.5 1068.7L510.5 1074.5L509.5 1072.9L508.5 1069.7L507.5 1064.7L506.5 1067L505.5 1058.8L504.5 1063.1L503.5 1054.5L502.5 1054.2L501.5 1059.7L500.5 1059.2L499.5 1057.6L498.5 1062.5L497.5 1061.3L496.5 1046.9L495.5 1064.7L494.5 1051.8L493.5 1053.9L492.5 1050L491.5 1053.1L490.5 1052.1L489.5 1042.5L488.5 1057.4L487.5 1050.8L486.5 1050.1L485.5 1040L484.5 1041.3L483.5 1047.3L482.5 1048.8L481.5 1038.8L480.5 1039.1L479.5 1045.6L478.5 1032.5L477.5 1046.7L476.5 1041.1L475.5 1037.8L474.5 1035.4L473.5 1027.7L472.5 1032.7L471.5 1045.8L470.5 1037.8L469.5 1040.7L468.5 1028.1L467.5 1038.4L466.5 1033.9L465.5 1029.2L464.5 1031.9L463.5 1027.2L462.5 1025.2L461.5 1018.7L460.6 1027.8L459.6 1021.2L458.6 1021.7L457.6 1023.2L456.6 1033.2L455.6 1029.7L454.6 1018.5L453.6 1026.9L452.6 1025.9L451.6 1023.9L450.6 1022.6L449.6 1018.3L448.6 1020.4L447.6 1016.8L446.6 1017.3L445.6 1016.6L444.6 1018.4L443.6 1010.6L442.6 1013L441.6 1022.4L440.6 1012.7L439.6 1019.2L438.6 1015.1L437.6 1011.2L436.6 1008.7L435.6 1005L434.6 1010.4L433.6 1005.4L432.6 1007.2L431.6 1001.1L430.6 998.4L429.6 998.5L428.6 1008.3L427.6 995.7L426.6 1001.9L425.6 1003.6L424.6 995.5Z" fill="#2fae3c" stroke="#2fae3c" stroke-width="0.8"/>
<path d="M424.6 993.5L425.6 990.6L426.6 989.3L427.6 993.6L428.6 993.8L429.6 993.4L430.6 1004.4L431.6 983.5L432.6 989.8L433.6 996.2L434.6 999.3L435.6 996.4L436.6 1000.2L437.6 1001.2L438.6 1004.6L439.6 998.1L440.6 1003L441.6 1010L442.6 1008.8L443.6 1014.8L444.6 1012.1L445.6 1011.9L446.6 1005.4L447.6 999L448.6 1002.5L449.6 1002.3L450.6 1014.8L451.6 1013L452.6 1017.5L453.6 1009.8L454.6 1015.3L455.6 1018.1L456.6 1016.2L457.6 1014.7L458.6 1012.1L459.6 1023.1L460.6 1022.2L461.5 1021.7L462.5 1025L463.5 1025.2L464.5 1020.4L465.5 1026.2L466.5 1026.6L467.5 1029.1L468.5 1025.6L469.5 1024.1L470.5 1028L471.5 1028.4L472.5 1029.8L473.5 1025.9L474.5 1022.5L475.5 1022.9L476.5 1030.2L477.5 1031.6L478.5 1031.3L479.5 1032L480.5 1036L481.5 1044.8L482.5 1042.6L483.5 1036.2L484.5 1046.1L485.5 1050.6L486.5 1048.1L487.5 1049L488.5 1048.2L489.5 1042.7L490.5 1051.9L491.5 1049.5L492.5 1050.9L493.5 1055L494.5 1053.4L495.5 1048.9L496.5 1053.5L497.5 1050.9L498.5 1051.8L499.5 1052.9L500.5 1056.9L501.5 1058L502.5 1060.6L503.5 1056L504.5 1063.5L505.5 1064.8L506.5 1065.6L507.5 1064.2L508.5 1062L509.5 1071.1L510.5 1060.3L511.5 1068.5L512.5 1076.7L513.5 1068.8L514.5 1076.2L515.5 1068.5L516.5 1075.6L517.5 1077.5L518.5 1073.3L519.5 1077.6L520.5 1078.7L521.5 1078.8L522.5 1080.7L523.5 1075.5L524.5 1077.2L525.5 1082.4L526.5 1078.1L527.5 1080.5L528.5 1085.1L529.5 1084.6L530.5 1086.6L531.5 1083.8L532.5 1088.4L533.5 1088.1L534.4 1093.2L535.4 1093L536.4 1093.3L537.4 1092.7L538.4 1087.7L539.4 1093L540.4 1096.6L541.4 1094.4L542.4 1094.8L543.4 1096.9L544.4 1095.8L545.4 1095L546.4 1095L547.4 1094.1L548.4 1097.4L549.4 1095.8L550.4 1096.2L551.4 1094.9L552.4 1094.2L553.4 1100L554.4 1098.9L555.4 1097.2L556.4 1100.8L557.4 1095.7L558.4 1100.3L559.4 1098.3L560.4 1099.3L561.4 1101.4L562.4 1098.7L563.4 1100.2L564.4 1099.8L565.4 1101.2L566.4 1102.4L567.4 1099.8L568.4 1101.9L569.4 1102.7L570.4 1101.3L571.4 1100.9L572.4 1100.6L573.4 1102.2L574.4 1100.3L575.4 1099.7L576.4 1101.6L577.4 1099.9L578.4 1102.5L579.4 1102.4L580.4 1101.3L581.4 1104.3L582.4 1102.3L583.4 1098.2L584.4 1102.4L585.4 1101.3L586.4 1099.8L587.4 1100.8L588.4 1100.6L589.4 1101.9L590.4 1101.7L591.4 1101.4L592.4 1102.6L593.4 1102.9L594.4 1102L595.4 1102.3L596.4 1101.4L597.4 1103L598.4 1100.6L599.4 1100.5L600.4 1100.4L601.4 1101.9L602.4 1101.1L603.4 1099.6L604.4 1102.2L605.4 1102.6L606.3 1100.5L607.3 1103.2L608.3 1102.1L609.3 1099.4L610.3 1102.8L611.3 1102.5L612.3 1102.7L613.3 1101.3L614.3 1100.9L615.3 1103.8L616.3 1103.4L617.3 1102.2L618.3 1102.8L619.3 1102.3L620.3 1100.8L621.3 1103.4L622.3 1100.4L623.3 1102.8L624.3 1100.6L625.3 1102.2L626.3 1102.5L627.3 1103.6L628.3 1101.4L629.3 1103.4L630.3 1101.4L631.3 1101.6L632.3 1102.3L633.3 1102.2L634.3 1100.8L635.3 1100.5L636.3 1102.1L637.3 1103.3L638.3 1101.9L639.3 1101.9L640.3 1103.4L641.3 1102.2L642.3 1103L643.3 1104L644.3 1103.9L645.3 1103.2L646.3 1104.4L647.3 1100.1L648.3 1101.8L649.3 1101.6L650.3 1101.5L651.3 1100.6L652.3 1102.5L653.3 1101.2L654.3 1102.9L655.3 1101L656.3 1100.7L657.3 1100.3L658.3 1101.6L659.3 1102.9L660.3 1099.7L661.3 1103L662.3 1102L663.3 1099.4L664.3 1101.5L665.3 1102.3L666.3 1103.2L667.3 1101.3L668.3 1102.9L669.3 1102.3L670.3 1101.9L671.3 1103.2L672.3 1100.6L673.3 1104L674.3 1102.3L675.3 1103.7L676.3 1102.8L677.3 1102.2L678.3 1100.5L679.2 1102.2L680.2 1102.9L681.2 1102.4L682.2 1103.2L683.2 1103.6L684.2 1101.9L685.2 1104L686.2 1102.1L687.2 1100.3L688.2 1101.4L689.2 1101.6L690.2 1100.6L691.2 1102L692.2 1103.4L693.2 1101.8L694.2 1102.6L695.2 1101L696.2 1101.1L697.2 1101.5L698.2 1099L699.2 1102.5L700.2 1103L701.2 1100L702.2 1104.5L703.2 1102.3L704.2 1104L705.2 1102.6L706.2 1104.2L707.2 1103.5L708.2 1102.8L709.2 1102.4L710.2 1101.8L711.2 1101.7L712.2 1101.8L713.2 1101.2L714.2 1101.6L715.2 1100L715.2 1106L714.2 1105.2L713.2 1106.5L712.2 1106.1L711.2 1105.1L710.2 1105.8L709.2 1105.4L708.2 1105.5L707.2 1108.5L706.2 1105.5L705.2 1106L704.2 1108.6L703.2 1106.8L702.2 1105.4L701.2 1106.4L700.2 1105.7L699.2 1105L698.2 1105.2L697.2 1104.3L696.2 1106.6L695.2 1104.8L694.2 1105.8L693.2 1107.3L692.2 1106.5L691.2 1108.7L690.2 1104.7L689.2 1106.6L688.2 1104.9L687.2 1106L686.2 1105.9L685.2 1105.9L684.2 1106.4L683.2 1105.6L682.2 1105.3L681.2 1106.1L680.2 1104.9L679.2 1106.1L678.3 1106.5L677.3 1105.7L676.3 1105.1L675.3 1106.4L674.3 1105.6L673.3 1108.8L672.3 1106.8L671.3 1104.6L670.3 1107.2L669.3 1106.9L668.3 1105.2L667.3 1105.1L666.3 1106.4L665.3 1108.5L664.3 1108.5L663.3 1106.2L662.3 1104.1L661.3 1107.1L660.3 1105.7L659.3 1106.7L658.3 1106.7L657.3 1106.4L656.3 1105L655.3 1104.2L654.3 1104.3L653.3 1106.4L652.3 1105.7L651.3 1106.8L650.3 1106.4L649.3 1107.7L648.3 1107.4L647.3 1104.5L646.3 1107L645.3 1107.4L644.3 1107.7L643.3 1108.5L642.3 1107.6L641.3 1105.9L640.3 1106.1L639.3 1107L638.3 1103.8L637.3 1108.9L636.3 1106.3L635.3 1104.9L634.3 1104.5L633.3 1105.7L632.3 1107.8L631.3 1107L630.3 1107.1L629.3 1106.3L628.3 1106.9L627.3 1106.9L626.3 1106.2L625.3 1106.9L624.3 1105.4L623.3 1106.6L622.3 1104.7L621.3 1106L620.3 1105.4L619.3 1108L618.3 1106.2L617.3 1106L616.3 1104.5L615.3 1105.3L614.3 1105.9L613.3 1107.3L612.3 1106.4L611.3 1104.8L610.3 1106L609.3 1106.3L608.3 1110.1L607.3 1106.7L606.3 1107.8L605.4 1104.7L604.4 1106.2L603.4 1106.4L602.4 1105.2L601.4 1106.4L600.4 1105.9L599.4 1106L598.4 1104.5L597.4 1108.1L596.4 1105.9L595.4 1106.8L594.4 1106.6L593.4 1106.6L592.4 1105.7L591.4 1104.7L590.4 1108.5L589.4 1106.5L588.4 1105.9L587.4 1104.7L586.4 1106.4L585.4 1105.5L584.4 1107.2L583.4 1104.9L582.4 1106.1L581.4 1104L580.4 1109.5L579.4 1104.9L578.4 1104.1L577.4 1106.7L576.4 1105.2L575.4 1105.2L574.4 1105L573.4 1105.9L572.4 1107.1L571.4 1105.4L570.4 1104.2L569.4 1105.1L568.4 1106.3L567.4 1105.3L566.4 1106.6L565.4 1105.3L564.4 1106.3L563.4 1105.9L562.4 1105.1L561.4 1104.3L560.4 1104.7L559.4 1104.5L558.4 1108.5L557.4 1103.8L556.4 1103.6L555.4 1103.3L554.4 1104.1L553.4 1101.6L552.4 1102.9L551.4 1102.7L550.4 1100.8L549.4 1103.2L548.4 1103L547.4 1099.1L546.4 1101.8L545.4 1104.5L544.4 1103.6L543.4 1105.5L542.4 1106.4L541.4 1105.1L540.4 1105.9L539.4 1104L538.4 1110.6L537.4 1103.9L536.4 1106.1L535.4 1108.1L534.4 1099.6L533.5 1100.2L532.5 1095.9L531.5 1095.4L530.5 1092.4L529.5 1101.9L528.5 1105.4L527.5 1092.3L526.5 1094.3L525.5 1091.5L524.5 1094.8L523.5 1097L522.5 1087.9L521.5 1094.3L520.5 1094.6L519.5 1092.6L518.5 1096L517.5 1094.6L516.5 1089.9L515.5 1091L514.5 1089.3L513.5 1087.8L512.5 1085.9L511.5 1088.6L510.5 1084.9L509.5 1080.2L508.5 1091.3L507.5 1081.4L506.5 1082.7L505.5 1080.7L504.5 1073.4L503.5 1075.7L502.5 1071.7L501.5 1072.3L500.5 1067.3L499.5 1075.1L498.5 1075.7L497.5 1075.1L496.5 1071.3L495.5 1080.7L494.5 1069.8L493.5 1068.9L492.5 1069.8L491.5 1064.1L490.5 1064.1L489.5 1064.2L488.5 1059.7L487.5 1073.3L486.5 1062.3L485.5 1058.4L484.5 1065.7L483.5 1059.7L482.5 1057.7L481.5 1059.3L480.5 1053.8L479.5 1057.7L478.5 1059.8L477.5 1058L476.5 1048.1L475.5 1043L474.5 1044.2L473.5 1042L472.5 1039.4L471.5 1049.3L470.5 1036.1L469.5 1036.9L468.5 1035.3L467.5 1041.2L466.5 1046.5L465.5 1038.3L464.5 1043.2L463.5 1037L462.5 1038.3L461.5 1040.6L460.6 1041.6L459.6 1040.5L458.6 1038.5L457.6 1033.6L456.6 1031.5L455.6 1032.1L454.6 1028.7L453.6 1034.3L452.6 1029.8L451.6 1029.8L450.6 1030.4L449.6 1032.8L448.6 1027.9L447.6 1032.3L446.6 1028L445.6 1024.4L444.6 1030.2L443.6 1018L442.6 1032.4L441.6 1034.2L440.6 1025.7L439.6 1024.4L438.6 1026.9L437.6 1020.8L436.6 1019.9L435.6 1016.7L434.6 1013.5L433.6 1015.2L432.6 1006.1L431.6 1015.7L430.6 1009.5L429.6 1011.1L428.6 1013.2L427.6 1013.7L426.6 1000.2L425.6 1011.9L424.6 1005.9Z" fill="#e8141c" stroke="#e8141c" stroke-width="0.8"/>
<path d="M424.6 1001.4L425.6 1003.2L426.6 1000.7L427.6 1002.6L428.6 1001.9L429.6 1007.3L430.6 993.9L431.6 1009.8L432.6 1000L433.6 1001.3L434.6 1004.4L435.6 1002.5L436.6 1005.5L437.6 1007.9L438.6 1006.7L439.6 1012.4L440.6 1003L441.6 1010.9L442.6 1013.8L443.6 1017.9L444.6 1015.8L445.6 1024.4L446.6 1025.6L447.6 1013.6L448.6 1016L449.6 1014.4L450.6 1021.3L451.6 1016.3L452.6 1020.7L453.6 1028.2L454.6 1012.7L455.6 1034.4L456.6 1025.8L457.6 1026.3L458.6 1029.1L459.6 1029.9L460.6 1027L461.5 1044.2L462.5 1037.8L463.5 1038.9L464.5 1046.6L465.5 1022.1L466.5 1038L467.5 1032.9L468.5 1042.4L469.5 1042.6L470.5 1047.2L471.5 1039.1L472.5 1036.3L473.5 1049.8L474.5 1040.5L475.5 1046.8L476.5 1038.1L477.5 1052.2L478.5 1058.9L479.5 1048.8L480.5 1058.3L481.5 1045.9L482.5 1042.6L483.5 1046.3L484.5 1050.3L485.5 1059.4L486.5 1062.8L487.5 1047.2L488.5 1068L489.5 1063.5L490.5 1067L491.5 1059.2L492.5 1073L493.5 1071.3L494.5 1072L495.5 1075.3L496.5 1073.5L497.5 1071.2L498.5 1067.8L499.5 1070.7L500.5 1077.5L501.5 1073.2L502.5 1082.1L503.5 1082.5L504.5 1083.9L505.5 1073.7L506.5 1081.9L507.5 1082.1L508.5 1087.2L509.5 1084.8L510.5 1089.3L511.5 1087.5L512.5 1088.8L513.5 1086.5L514.5 1090.2L515.5 1088.9L516.5 1092.3L517.5 1091.8L518.5 1094L519.5 1092L520.5 1094.9L521.5 1096.9L522.5 1103.1L523.5 1098.8L524.5 1098.8L525.5 1101.4L526.5 1099.1L527.5 1101.2L528.5 1093.7L529.5 1101.8L530.5 1103L531.5 1096.9L532.5 1101.4L533.5 1097.2L534.4 1102.9L535.4 1101.5L536.4 1096.2L537.4 1099.4L538.4 1098.6L539.4 1101.2L540.4 1101.2L541.4 1101.5L542.4 1098.7L543.4 1100.8L544.4 1101.4L545.4 1100.4L546.4 1102.8L547.4 1099.4L548.4 1098.9L549.4 1099.5L550.4 1100.8L551.4 1103.1L552.4 1101.7L553.4 1101.2L554.4 1101.8L555.4 1098.1L556.4 1097.2L557.4 1100.3L558.4 1098.5L559.4 1096.7L560.4 1105.9L561.4 1101L562.4 1101.6L563.4 1101.2L564.4 1102.1L565.4 1099.8L566.4 1102.1L567.4 1100.7L568.4 1099.4L569.4 1100.4L570.4 1099.5L571.4 1099L572.4 1104.3L573.4 1100.7L574.4 1101.3L575.4 1101.4L576.4 1101.5L577.4 1102.5L578.4 1099.1L579.4 1101.8L580.4 1104.4L581.4 1098L582.4 1101.1L583.4 1102.4L584.4 1101.8L585.4 1099.9L586.4 1099.4L587.4 1101.3L588.4 1099.5L589.4 1099.6L590.4 1102.7L591.4 1103L592.4 1103.1L593.4 1099.5L594.4 1101.3L595.4 1099.4L596.4 1098.9L597.4 1100.5L598.4 1101.4L599.4 1100.2L600.4 1100.2L601.4 1099.3L602.4 1101.8L603.4 1102.9L604.4 1101.6L605.4 1099.9L606.3 1102.2L607.3 1101.6L608.3 1098.6L609.3 1097L610.3 1098.3L611.3 1100.9L612.3 1096.7L613.3 1100.4L614.3 1100.1L615.3 1103.3L616.3 1099.2L617.3 1102.4L618.3 1101L619.3 1100.4L620.3 1099.5L621.3 1099.9L622.3 1101.2L623.3 1100.2L624.3 1099.7L625.3 1102.1L626.3 1102.5L627.3 1102.5L628.3 1100.9L629.3 1102L630.3 1101.2L631.3 1101.1L632.3 1101L633.3 1101.4L634.3 1101.4L635.3 1101L636.3 1101L637.3 1103.3L638.3 1102.7L639.3 1101.3L640.3 1103.5L641.3 1099.4L642.3 1102L643.3 1099.7L644.3 1101.3L645.3 1099.4L646.3 1102.5L647.3 1102.1L648.3 1100.5L649.3 1100.5L650.3 1101.5L651.3 1103.2L652.3 1100.7L653.3 1102L654.3 1100.8L655.3 1100.6L656.3 1099.2L657.3 1099.7L658.3 1103.3L659.3 1103.8L660.3 1100.4L661.3 1100.3L662.3 1100.9L663.3 1102.6L664.3 1099.1L665.3 1099.4L666.3 1099.7L667.3 1102.4L668.3 1101.6L669.3 1099.9L670.3 1098.1L671.3 1097L672.3 1098.4L673.3 1099.7L674.3 1101.9L675.3 1100.3L676.3 1098.2L677.3 1101.6L678.3 1100.4L679.2 1100.5L680.2 1100.9L681.2 1100.2L682.2 1101.6L683.2 1100.6L684.2 1101L685.2 1102.3L686.2 1101.8L687.2 1100.5L688.2 1099.9L689.2 1099.9L690.2 1098.4L691.2 1102.4L692.2 1100.5L693.2 1101.3L694.2 1101.4L695.2 1100.2L696.2 1101.8L697.2 1099.4L698.2 1100.5L699.2 1101.3L700.2 1098.1L701.2 1098.7L702.2 1097.1L703.2 1102.6L704.2 1100.9L705.2 1099L706.2 1098.9L707.2 1100.6L708.2 1099L709.2 1102.5L710.2 1100.3L711.2 1102.8L712.2 1102.3L713.2 1101.6L714.2 1101.1L715.2 1098L715.2 1106.4L714.2 1106.9L713.2 1104.7L712.2 1107.9L711.2 1105.7L710.2 1106.7L709.2 1106.1L708.2 1109.5L707.2 1106.6L706.2 1107.9L705.2 1106.4L704.2 1110.3L703.2 1109L702.2 1106.1L701.2 1107.5L700.2 1105.8L699.2 1108.9L698.2 1105.4L697.2 1106.1L696.2 1109L695.2 1107.7L694.2 1107.9L693.2 1106.7L692.2 1107L691.2 1106.9L690.2 1107.2L689.2 1106.6L688.2 1107.2L687.2 1107.7L686.2 1105.2L685.2 1106.7L684.2 1109.5L683.2 1107L682.2 1107.8L681.2 1106.9L680.2 1105L679.2 1107.1L678.3 1106L677.3 1106.9L676.3 1107L675.3 1108L674.3 1108.5L673.3 1106.1L672.3 1106.4L671.3 1105.4L670.3 1106.4L669.3 1107.4L668.3 1105.6L667.3 1106.7L666.3 1107.4L665.3 1106.3L664.3 1106.5L663.3 1105.9L662.3 1109.2L661.3 1104.8L660.3 1105.1L659.3 1109.1L658.3 1107L657.3 1109L656.3 1110.9L655.3 1108.5L654.3 1106.2L653.3 1108.3L652.3 1108.4L651.3 1107.6L650.3 1107.2L649.3 1106.5L648.3 1107.9L647.3 1110.2L646.3 1108.2L645.3 1105.9L644.3 1107.4L643.3 1105.5L642.3 1105.3L641.3 1108.2L640.3 1106L639.3 1104.4L638.3 1108.5L637.3 1106.7L636.3 1108.4L635.3 1107.1L634.3 1109.9L633.3 1105.8L632.3 1106.5L631.3 1109L630.3 1107.4L629.3 1108.3L628.3 1106.9L627.3 1106.7L626.3 1106.6L625.3 1106.2L624.3 1107.7L623.3 1109L622.3 1106.6L621.3 1110.9L620.3 1107.1L619.3 1103.7L618.3 1105.2L617.3 1106.9L616.3 1106.3L615.3 1107.7L614.3 1106.6L613.3 1104.4L612.3 1105.9L611.3 1106.1L610.3 1106.7L609.3 1106.6L608.3 1107.4L607.3 1108.3L606.3 1111.5L605.4 1105.9L604.4 1105.5L603.4 1107.3L602.4 1108.7L601.4 1109.1L600.4 1106.6L599.4 1107.7L598.4 1105L597.4 1105.2L596.4 1106L595.4 1104.2L594.4 1106.3L593.4 1108.4L592.4 1108.7L591.4 1107.6L590.4 1107.1L589.4 1107.7L588.4 1105.8L587.4 1106L586.4 1106.2L585.4 1108.6L584.4 1111.9L583.4 1107.5L582.4 1108.5L581.4 1108.7L580.4 1107.6L579.4 1108.1L578.4 1105.9L577.4 1108.5L576.4 1109.8L575.4 1108.7L574.4 1105.5L573.4 1105.4L572.4 1106.7L571.4 1106.3L570.4 1106.7L569.4 1106.5L568.4 1103.7L567.4 1106.8L566.4 1105.1L565.4 1107.2L564.4 1108.7L563.4 1109.1L562.4 1108.1L561.4 1106.3L560.4 1108.4L559.4 1110.3L558.4 1108.6L557.4 1108.8L556.4 1105.9L555.4 1105.9L554.4 1108.3L553.4 1108.6L552.4 1108L551.4 1103.3L550.4 1107.3L549.4 1105.4L548.4 1109.3L547.4 1108.4L546.4 1105.7L545.4 1106.1L544.4 1108L543.4 1105.5L542.4 1107.2L541.4 1107.6L540.4 1106.1L539.4 1109.1L538.4 1109.8L537.4 1105L536.4 1108.6L535.4 1108.7L534.4 1103.4L533.5 1106.5L532.5 1107.2L531.5 1106.2L530.5 1103.7L529.5 1106.3L528.5 1109L527.5 1111.8L526.5 1106.2L525.5 1105.6L524.5 1107L523.5 1107.9L522.5 1104.8L521.5 1106.1L520.5 1108.8L519.5 1103.9L518.5 1105.1L517.5 1101.1L516.5 1101.1L515.5 1103.2L514.5 1106L513.5 1100.1L512.5 1102.2L511.5 1096.4L510.5 1100.8L509.5 1098.7L508.5 1098.1L507.5 1099.9L506.5 1097.1L505.5 1104.2L504.5 1098.2L503.5 1098.6L502.5 1106.7L501.5 1099.1L500.5 1094.1L499.5 1102.4L498.5 1089.6L497.5 1092.7L496.5 1089.6L495.5 1100.7L494.5 1088.2L493.5 1087.4L492.5 1086.6L491.5 1090.3L490.5 1075L489.5 1082.4L488.5 1078.7L487.5 1091.7L486.5 1085.3L485.5 1082.3L484.5 1072.5L483.5 1080L482.5 1081.7L481.5 1071L480.5 1071.7L479.5 1072.7L478.5 1070.8L477.5 1068.4L476.5 1068.8L475.5 1072.8L474.5 1070.3L473.5 1062.2L472.5 1063.8L471.5 1067.5L470.5 1077.3L469.5 1061L468.5 1062L467.5 1064.3L466.5 1057.5L465.5 1065.5L464.5 1053.8L463.5 1054.8L462.5 1052.4L461.5 1062.7L460.6 1054.8L459.6 1052.9L458.6 1051.1L457.6 1046.9L456.6 1052.5L455.6 1051.6L454.6 1042.1L453.6 1044.7L452.6 1044.3L451.6 1044.2L450.6 1052.2L449.6 1046.9L448.6 1040.5L447.6 1036.3L446.6 1045.8L445.6 1036.8L444.6 1026.9L443.6 1043.5L442.6 1037.3L441.6 1029.9L440.6 1031.8L439.6 1023.4L438.6 1034.5L437.6 1026.1L436.6 1035.1L435.6 1031.5L434.6 1037.4L433.6 1020.8L432.6 1032.8L431.6 1027.2L430.6 1033.7L429.6 1027.8L428.6 1023L427.6 1019.5L426.6 1027.5L425.6 1025.2L424.6 1015.3Z" fill="#1f4aa2" stroke="#1f4aa2" stroke-width="0.8"/>
</g>
<rect x="424.6" y="961.2" width="290.6" height="145.6" fill="none" stroke="#2e2e2e" stroke-width="1.3"/>
<path d="M424.6 1106.8 v-5.0 M424.6 1106.8 h5.0 M453.7 1106.8 v-2.9 M424.6 1092.2 h2.9 M482.7 1106.8 v-2.9 M424.6 1077.7 h2.9 M511.8 1106.8 v-2.9 M424.6 1063.1 h2.9 M540.8 1106.8 v-2.9 M424.6 1048.6 h2.9 M569.9 1106.8 v-5.0 M424.6 1034.0 h5.0 M599.0 1106.8 v-2.9 M424.6 1019.4 h2.9 M628.0 1106.8 v-2.9 M424.6 1004.9 h2.9 M657.1 1106.8 v-2.9 M424.6 990.3 h2.9 M686.1 1106.8 v-2.9 M424.6 975.8 h2.9 M715.2 1106.8 v-5.0 M424.6 961.2 h5.0 " stroke="#222" stroke-width="1" fill="none"/>
<text x="419.60" y="1112.40" font-size="15.3" text-anchor="end" fill="#3c3c3c" textLength="18.80" lengthAdjust="spacingAndGlyphs">0.0</text>
<text x="424.60" y="1125.90" font-size="15.3" text-anchor="middle" fill="#3c3c3c" textLength="18.80" lengthAdjust="spacingAndGlyphs">0.0</text>
<text x="419.60" y="1039.60" font-size="15.3" text-anchor="end" fill="#3c3c3c" textLength="18.80" lengthAdjust="spacingAndGlyphs">0.5</text>
<text x="569.90" y="1125.90" font-size="15.3" text-anchor="middle" fill="#3c3c3c" textLength="18.80" lengthAdjust="spacingAndGlyphs">0.5</text>
<text x="419.60" y="966.80" font-size="15.3" text-anchor="end" fill="#3c3c3c" textLength="18.80" lengthAdjust="spacingAndGlyphs">1.0</text>
<text x="715.20" y="1125.90" font-size="15.3" text-anchor="middle" fill="#3c3c3c" textLength="18.80" lengthAdjust="spacingAndGlyphs">1.0</text>
<text x="570.40" y="1153.40" font-size="19.6" text-anchor="middle" fill="#3c3c3c" textLength="25.80" lengthAdjust="spacingAndGlyphs">x/L</text>
<text x="340.00" y="1040.00" font-size="19.8" text-anchor="middle" fill="#3c3c3c" transform="rotate(-90 340.00 1040.00)" textLength="98.00" lengthAdjust="spacingAndGlyphs">Normalized</text>
<text x="364.40" y="1040.00" font-size="19.8" text-anchor="middle" fill="#3c3c3c" transform="rotate(-90 364.40 1040.00)" textLength="75.00" lengthAdjust="spacingAndGlyphs">Reporter</text>
<text x="388.30" y="1040.00" font-size="19.8" text-anchor="middle" fill="#3c3c3c" transform="rotate(-90 388.30 1040.00)" textLength="117.50" lengthAdjust="spacingAndGlyphs">Fluorescence</text>
<path d="M630.4 977.2 h39.4" stroke="#1f4aa2" stroke-width="1.9"/><text x="679.00" y="982.50" font-size="14.8" text-anchor="start" fill="#3c3c3c" textLength="20.30" lengthAdjust="spacingAndGlyphs">2 X</text>
<path d="M630.4 1008.4 h39.4" stroke="#e8141c" stroke-width="1.9"/><text x="679.00" y="1013.70" font-size="14.8" text-anchor="start" fill="#3c3c3c" textLength="20.30" lengthAdjust="spacingAndGlyphs">1 X</text>
<path d="M630.4 1039.4 h39.4" stroke="#2fae3c" stroke-width="1.9"/><text x="679.00" y="1044.70" font-size="14.8" text-anchor="start" fill="#3c3c3c" textLength="24.10" lengthAdjust="spacingAndGlyphs">½ X</text>
<clipPath id="cH3"><rect x="426.8" y="1175.8" width="291.0" height="145.4"/></clipPath>
<g clip-path="url(#cH3)" stroke-linejoin="round">
<path d="M426.8 1199.6L427.8 1205.6L428.8 1216.1L429.8 1200L430.8 1202L431.8 1208.8L432.8 1214.2L433.8 1212.8L434.8 1218.9L435.8 1220.1L436.8 1226.1L437.8 1227.9L438.8 1219.4L439.8 1228L440.8 1236.3L441.8 1231L442.8 1229.8L443.8 1236.5L444.8 1225.6L445.8 1239.3L446.8 1240.8L447.8 1219.3L448.8 1235.1L449.8 1224.9L450.8 1236.5L451.8 1229L452.8 1223.4L453.8 1244.8L454.8 1211.5L455.8 1230.1L456.8 1238.6L457.8 1233.4L458.8 1236L459.8 1240.6L460.8 1247.4L461.8 1244.1L462.8 1244.6L463.8 1238.4L464.8 1253.8L465.8 1241.3L466.8 1229.5L467.8 1249.2L468.8 1250.5L469.8 1235.4L470.8 1243.3L471.8 1244.1L472.8 1245.2L473.8 1242.5L474.8 1241.6L475.8 1244L476.8 1241.3L477.8 1251.3L478.8 1236.4L479.8 1250.2L480.8 1245.9L481.8 1251.5L482.8 1258.5L483.8 1251.7L484.8 1252.8L485.8 1252.1L486.8 1249L487.8 1254.6L488.8 1247.8L489.8 1257.9L490.8 1241.3L491.8 1259.9L492.8 1265.3L493.8 1260.7L494.8 1257L495.8 1254.6L496.8 1248.7L497.8 1251.7L498.8 1261.3L499.8 1247.7L500.8 1264.4L501.8 1248.3L502.8 1264L503.8 1259.7L504.8 1261.4L505.8 1257.6L506.8 1259L507.8 1254.8L508.8 1260.1L509.8 1264.6L510.8 1260L511.8 1260.4L512.8 1260.4L513.8 1260.8L514.8 1257.1L515.8 1263.7L516.8 1261.4L517.8 1265.6L518.8 1251.2L519.8 1268.3L520.8 1258.4L521.8 1264.9L522.8 1265.1L523.8 1272.4L524.8 1264L525.8 1268.3L526.8 1270.6L527.8 1263.5L528.8 1271.3L529.8 1272.9L530.8 1276.5L531.8 1271.7L532.8 1274.2L533.8 1269.8L534.8 1267.8L535.8 1273.9L536.8 1277L537.8 1270.7L538.8 1280.2L539.8 1271.8L540.8 1280.4L541.8 1281.1L542.8 1278.4L543.8 1275.1L544.8 1282.7L545.8 1284L546.8 1280L547.8 1288.9L548.8 1283.5L549.8 1289.4L550.8 1284.9L551.8 1291.4L552.8 1291L553.8 1287.3L554.8 1292.6L555.8 1289.8L556.8 1291L557.8 1297.2L558.8 1297.6L559.8 1293.5L560.8 1299.6L561.8 1299.6L562.8 1297.6L563.8 1296.5L564.8 1299L565.8 1301.9L566.8 1304.3L567.8 1304L568.8 1302.2L569.8 1300.4L570.8 1304.5L571.8 1303.2L572.8 1306.8L573.8 1304.5L574.8 1305.2L575.8 1302.4L576.8 1306.1L577.8 1306.6L578.8 1306.8L579.8 1308.1L580.8 1307.1L581.8 1310.6L582.8 1309.4L583.8 1308.9L584.8 1308.3L585.8 1311L586.8 1309.8L587.8 1310.3L588.8 1310.4L589.8 1311.2L590.8 1311.9L591.8 1310.4L592.8 1313.6L593.8 1313.1L594.8 1316.1L595.8 1314.1L596.8 1312.5L597.8 1315.1L598.8 1315.1L599.8 1315.8L600.8 1312.1L601.8 1313L602.8 1316.6L603.8 1314.8L604.8 1311.7L605.8 1313.9L606.8 1313.1L607.8 1317.1L608.8 1315.4L609.8 1313.3L610.8 1316.8L611.8 1312.8L612.8 1312.9L613.8 1314.4L614.8 1313.5L615.8 1314.7L616.8 1315.3L617.8 1316.9L618.8 1315.4L619.8 1314.5L620.8 1317.6L621.8 1317.1L622.8 1316.2L623.8 1314.4L624.8 1314.6L625.8 1317.2L626.8 1316.2L627.8 1313.8L628.8 1315.8L629.8 1316.2L630.8 1316.6L631.8 1315.8L632.8 1317.1L633.8 1318.2L634.8 1315.8L635.8 1314.9L636.8 1315.4L637.8 1316.6L638.8 1315.3L639.8 1316.3L640.8 1317.6L641.8 1315.8L642.8 1316.9L643.8 1315.4L644.8 1315L645.8 1315.7L646.8 1315.2L647.8 1317.5L648.8 1315.5L649.8 1318.7L650.8 1314.5L651.8 1314.6L652.8 1314.8L653.8 1315.9L654.8 1318.4L655.8 1316.6L656.8 1315.7L657.8 1317L658.8 1317.4L659.8 1314.2L660.8 1316L661.8 1316.2L662.8 1316.1L663.8 1316.8L664.8 1315.8L665.8 1316.2L666.8 1318.5L667.8 1315.9L668.8 1314.2L669.8 1315.1L670.8 1315.5L671.8 1316L672.8 1315.2L673.8 1315.8L674.8 1315.7L675.8 1314.2L676.8 1316.6L677.8 1316.2L678.8 1315.4L679.8 1317L680.8 1316.8L681.8 1316.8L682.8 1315.1L683.8 1317.8L684.8 1315.2L685.8 1316.8L686.8 1317.5L687.8 1316.8L688.8 1317.2L689.8 1314.8L690.8 1316.1L691.8 1316.7L692.8 1317L693.8 1317.4L694.8 1317.2L695.8 1318.5L696.8 1318.2L697.8 1315.8L698.8 1313.6L699.8 1317.2L700.8 1315.6L701.8 1316.7L702.8 1317.5L703.8 1317.2L704.8 1315.4L705.8 1318.5L706.8 1315.4L707.8 1314.1L708.8 1317.3L709.8 1316L710.8 1316.7L711.8 1317.3L712.8 1316.9L713.8 1315.1L714.8 1316.8L715.8 1315.4L716.8 1317.2L717.8 1317L717.8 1318.8L716.8 1320.7L715.8 1321.6L714.8 1319.3L713.8 1321.6L712.8 1320.8L711.8 1319.2L710.8 1321.7L709.8 1320.5L708.8 1320.4L707.8 1320.9L706.8 1319.2L705.8 1323.4L704.8 1319.2L703.8 1319.9L702.8 1319.6L701.8 1321.7L700.8 1319.5L699.8 1319.3L698.8 1322.2L697.8 1320.6L696.8 1320.9L695.8 1321.3L694.8 1320.3L693.8 1321.2L692.8 1321.4L691.8 1321.3L690.8 1319.7L689.8 1321.5L688.8 1320.4L687.8 1320.2L686.8 1323L685.8 1319.4L684.8 1319.8L683.8 1320.4L682.8 1322.9L681.8 1320.4L680.8 1320.5L679.8 1321.9L678.8 1320.4L677.8 1320.7L676.8 1319.6L675.8 1320.5L674.8 1318.9L673.8 1320.4L672.8 1318.8L671.8 1319.6L670.8 1320.6L669.8 1321.3L668.8 1320.8L667.8 1318.9L666.8 1320.3L665.8 1318.6L664.8 1320.3L663.8 1319.7L662.8 1320.7L661.8 1320.2L660.8 1320.5L659.8 1319.7L658.8 1321.9L657.8 1320.9L656.8 1320.5L655.8 1319.9L654.8 1320L653.8 1319.8L652.8 1320.7L651.8 1319.3L650.8 1322L649.8 1319.5L648.8 1320.6L647.8 1318.9L646.8 1320.9L645.8 1319L644.8 1320.3L643.8 1318.9L642.8 1319.3L641.8 1321.1L640.8 1319.6L639.8 1317.2L638.8 1319.4L637.8 1319.1L636.8 1319.3L635.8 1319.5L634.8 1322.1L633.8 1318.9L632.8 1321.4L631.8 1317.9L630.8 1319.4L629.8 1321.9L628.8 1320.4L627.8 1319.1L626.8 1318.3L625.8 1318.4L624.8 1319.3L623.8 1321.8L622.8 1318.1L621.8 1319.6L620.8 1319L619.8 1320.5L618.8 1320L617.8 1319.3L616.8 1317.5L615.8 1321L614.8 1318.5L613.8 1318.5L612.8 1319.5L611.8 1319.3L610.8 1318.1L609.8 1319.2L608.8 1317.3L607.8 1317.3L606.8 1317.9L605.8 1318.4L604.8 1318.7L603.8 1320.2L602.8 1318.3L601.8 1320.3L600.8 1316.2L599.8 1317.7L598.8 1315.8L597.8 1319.9L596.8 1317.6L595.8 1317.4L594.8 1319.5L593.8 1320.4L592.8 1318.4L591.8 1318.5L590.8 1312.7L589.8 1316.1L588.8 1314.5L587.8 1313.5L586.8 1314.7L585.8 1316.4L584.8 1314.4L583.8 1317.8L582.8 1315.8L581.8 1313L580.8 1314.7L579.8 1314.7L578.8 1313.6L577.8 1316.7L576.8 1311.9L575.8 1310.8L574.8 1311.5L573.8 1308.6L572.8 1310.3L571.8 1312.7L570.8 1314L569.8 1307.4L568.8 1312.2L567.8 1304.4L566.8 1313.3L565.8 1306.1L564.8 1309.9L563.8 1305L562.8 1305.1L561.8 1305.4L560.8 1304.9L559.8 1299.7L558.8 1303.9L557.8 1304.8L556.8 1299L555.8 1299.1L554.8 1301.1L553.8 1295L552.8 1297.3L551.8 1297.1L550.8 1295.2L549.8 1299.5L548.8 1294.3L547.8 1290.9L546.8 1295.4L545.8 1294.4L544.8 1294.5L543.8 1292.2L542.8 1286.1L541.8 1288.3L540.8 1287.9L539.8 1285.4L538.8 1284.7L537.8 1285.2L536.8 1286.1L535.8 1288.3L534.8 1286L533.8 1286L532.8 1282.2L531.8 1288.7L530.8 1292.9L529.8 1286.6L528.8 1276.5L527.8 1281.3L526.8 1273.6L525.8 1277.5L524.8 1285.9L523.8 1280.3L522.8 1275.6L521.8 1271.5L520.8 1281.5L519.8 1282.3L518.8 1285L517.8 1281.9L516.8 1274.2L515.8 1269.3L514.8 1281.4L513.8 1273.4L512.8 1277.5L511.8 1277.3L510.8 1283.6L509.8 1271.7L508.8 1284.7L507.8 1277.2L506.8 1274.8L505.8 1277.9L504.8 1274.5L503.8 1273.4L502.8 1269.8L501.8 1268.9L500.8 1272.3L499.8 1266.5L498.8 1270.6L497.8 1275.4L496.8 1269.4L495.8 1263.3L494.8 1273.8L493.8 1280.4L492.8 1275.1L491.8 1265.3L490.8 1268.1L489.8 1278.7L488.8 1275.3L487.8 1267.9L486.8 1270.4L485.8 1276.6L484.8 1268.2L483.8 1268.8L482.8 1272.6L481.8 1268L480.8 1266.1L479.8 1269.8L478.8 1266.5L477.8 1260L476.8 1265.8L475.8 1260.7L474.8 1262.4L473.8 1270.3L472.8 1276.2L471.8 1262.7L470.8 1259.5L469.8 1252.9L468.8 1264.1L467.8 1269.6L466.8 1259.1L465.8 1277.1L464.8 1252.5L463.8 1249.5L462.8 1276.2L461.8 1268.5L460.8 1265.1L459.8 1262.3L458.8 1247.7L457.8 1257.1L456.8 1255L455.8 1256.3L454.8 1246.8L453.8 1250L452.8 1246.6L451.8 1264.6L450.8 1266.6L449.8 1246.7L448.8 1261.5L447.8 1243.8L446.8 1270.4L445.8 1256.3L444.8 1248.4L443.8 1260L442.8 1254.7L441.8 1240.2L440.8 1253.1L439.8 1256L438.8 1231.4L437.8 1245.6L436.8 1248.3L435.8 1246.7L434.8 1234.4L433.8 1238.7L432.8 1253L431.8 1241.8L430.8 1248.3L429.8 1233.1L428.8 1232.9L427.8 1220.4L426.8 1241Z" fill="#c6e4c6" stroke="#c6e4c6" stroke-width="0.8"/>
<path d="M426.8 1211.8L427.8 1159.5L428.8 1177.8L429.8 1178.1L430.8 1189L431.8 1188L432.8 1167.2L433.8 1177.4L434.8 1178.3L435.8 1170.8L436.8 1170L437.8 1150.2L438.8 1173.6L439.8 1191.5L440.8 1182.9L441.8 1188.1L442.8 1173.5L443.8 1197.7L444.8 1186L445.8 1207.1L446.8 1183.3L447.8 1178.3L448.8 1180.1L449.8 1180.5L450.8 1188.9L451.8 1199.7L452.8 1181.1L453.8 1169.1L454.8 1171.5L455.8 1208.7L456.8 1184.8L457.8 1178.4L458.8 1203.4L459.8 1189.1L460.8 1142.8L461.8 1191.3L462.8 1200.8L463.8 1211.2L464.8 1193.1L465.8 1191.2L466.8 1186.9L467.8 1210.9L468.8 1209.4L469.8 1204.1L470.8 1220.1L471.8 1202.1L472.8 1204.8L473.8 1208.4L474.8 1196.6L475.8 1200.2L476.8 1197.8L477.8 1206.2L478.8 1207.1L479.8 1198.4L480.8 1204.2L481.8 1199.3L482.8 1200.5L483.8 1197.2L484.8 1214.8L485.8 1192.6L486.8 1216L487.8 1209L488.8 1226.6L489.8 1198.9L490.8 1195.4L491.8 1210.3L492.8 1220.8L493.8 1220.1L494.8 1224.1L495.8 1211.8L496.8 1202.6L497.8 1228.6L498.8 1208.7L499.8 1202.6L500.8 1230.2L501.8 1242.2L502.8 1219.2L503.8 1230.2L504.8 1200.1L505.8 1230.9L506.8 1226.1L507.8 1198.3L508.8 1211.9L509.8 1206.9L510.8 1237.5L511.8 1239.6L512.8 1220.8L513.8 1232.5L514.8 1252L515.8 1239.7L516.8 1220.9L517.8 1211.7L518.8 1235.5L519.8 1230.1L520.8 1238.1L521.8 1224.7L522.8 1235.6L523.8 1235.2L524.8 1246.1L525.8 1235.8L526.8 1244.7L527.8 1243.2L528.8 1256.7L529.8 1257.9L530.8 1252.8L531.8 1247L532.8 1252.4L533.8 1247.5L534.8 1236.5L535.8 1250.7L536.8 1263.6L537.8 1254.9L538.8 1245.7L539.8 1273.7L540.8 1266.8L541.8 1259.3L542.8 1261.6L543.8 1268.5L544.8 1261L545.8 1268L546.8 1271.5L547.8 1281.8L548.8 1280.1L549.8 1275.8L550.8 1278.7L551.8 1277.5L552.8 1285.3L553.8 1278.8L554.8 1282.1L555.8 1276.9L556.8 1284.7L557.8 1286.2L558.8 1281L559.8 1284.7L560.8 1289.6L561.8 1289.3L562.8 1294.7L563.8 1290.1L564.8 1288.1L565.8 1291.4L566.8 1300.8L567.8 1302.4L568.8 1301L569.8 1300.7L570.8 1296.8L571.8 1298.3L572.8 1302.5L573.8 1300.1L574.8 1302.8L575.8 1306.7L576.8 1301.5L577.8 1306.3L578.8 1294.5L579.8 1305.2L580.8 1306.7L581.8 1306.8L582.8 1305.9L583.8 1303.7L584.8 1305.2L585.8 1302.9L586.8 1305.9L587.8 1305.2L588.8 1308.6L589.8 1308.7L590.8 1308.7L591.8 1310.7L592.8 1310.8L593.8 1310.5L594.8 1310.3L595.8 1310.7L596.8 1311L597.8 1312.1L598.8 1312.4L599.8 1309.1L600.8 1312.8L601.8 1312.8L602.8 1313.4L603.8 1313.1L604.8 1313.8L605.8 1311L606.8 1314L607.8 1312.5L608.8 1314L609.8 1312.5L610.8 1311.1L611.8 1314.7L612.8 1315.8L613.8 1311.6L614.8 1314.6L615.8 1312L616.8 1313.9L617.8 1313.4L618.8 1313.2L619.8 1313L620.8 1308.4L621.8 1315.1L622.8 1312.1L623.8 1315.6L624.8 1312.3L625.8 1311.2L626.8 1313.5L627.8 1313L628.8 1314.9L629.8 1314.8L630.8 1314.5L631.8 1313.9L632.8 1311.2L633.8 1315.8L634.8 1313.8L635.8 1313.7L636.8 1313.1L637.8 1313.8L638.8 1314.5L639.8 1312.9L640.8 1314.7L641.8 1315L642.8 1313.6L643.8 1314.5L644.8 1313.7L645.8 1315L646.8 1316.1L647.8 1314.3L648.8 1316.3L649.8 1315.7L650.8 1316.4L651.8 1314.8L652.8 1316.2L653.8 1316L654.8 1312.8L655.8 1315.5L656.8 1314.1L657.8 1315.5L658.8 1313.8L659.8 1314.8L660.8 1312.6L661.8 1313.6L662.8 1312.5L663.8 1317.3L664.8 1313.2L665.8 1315.1L666.8 1314.2L667.8 1314.6L668.8 1315.4L669.8 1316.6L670.8 1313.2L671.8 1314.5L672.8 1316L673.8 1311.6L674.8 1315.5L675.8 1314.4L676.8 1314L677.8 1314.5L678.8 1315.2L679.8 1312.8L680.8 1314.2L681.8 1315.6L682.8 1317L683.8 1314.4L684.8 1315.6L685.8 1316.4L686.8 1315.3L687.8 1313.9L688.8 1314.2L689.8 1314.4L690.8 1315.1L691.8 1313.6L692.8 1314L693.8 1315.8L694.8 1315.4L695.8 1317.7L696.8 1314.2L697.8 1314L698.8 1312.4L699.8 1316L700.8 1315.2L701.8 1314.5L702.8 1312.6L703.8 1316.1L704.8 1316L705.8 1313.6L706.8 1313.8L707.8 1315.2L708.8 1313.6L709.8 1315.1L710.8 1314.9L711.8 1316.4L712.8 1314.1L713.8 1314.5L714.8 1316L715.8 1315.9L716.8 1315.3L717.8 1313L717.8 1320.4L716.8 1318.9L715.8 1318.8L714.8 1318.1L713.8 1319.3L712.8 1320L711.8 1320L710.8 1320L709.8 1321.7L708.8 1320.4L707.8 1323.1L706.8 1319.4L705.8 1320.5L704.8 1322.7L703.8 1318.5L702.8 1323.6L701.8 1319.9L700.8 1319.6L699.8 1318.4L698.8 1317.5L697.8 1320L696.8 1319.5L695.8 1318.7L694.8 1320.6L693.8 1318L692.8 1318.2L691.8 1319.1L690.8 1318.5L689.8 1319.7L688.8 1321.9L687.8 1319.7L686.8 1320.2L685.8 1320.3L684.8 1320.3L683.8 1320.3L682.8 1322.5L681.8 1320.3L680.8 1321.4L679.8 1320.7L678.8 1317.5L677.8 1318.6L676.8 1317L675.8 1319L674.8 1321.7L673.8 1321.8L672.8 1320L671.8 1319.6L670.8 1317.8L669.8 1319.5L668.8 1320.1L667.8 1320.8L666.8 1318.4L665.8 1318.3L664.8 1319.6L663.8 1317.2L662.8 1318.7L661.8 1319.3L660.8 1319.6L659.8 1317.6L658.8 1319.5L657.8 1321.1L656.8 1319.6L655.8 1320.6L654.8 1317.5L653.8 1322.3L652.8 1318.6L651.8 1319.1L650.8 1322.2L649.8 1323L648.8 1321.2L647.8 1321.2L646.8 1316.9L645.8 1321.6L644.8 1319.1L643.8 1318.5L642.8 1321.5L641.8 1319.1L640.8 1318.8L639.8 1317.2L638.8 1321.5L637.8 1317.3L636.8 1320.4L635.8 1317.2L634.8 1320.2L633.8 1319.7L632.8 1320.5L631.8 1319.6L630.8 1319L629.8 1319.2L628.8 1322.6L627.8 1318.2L626.8 1317.5L625.8 1321.3L624.8 1319.8L623.8 1318.1L622.8 1317.3L621.8 1317L620.8 1320.9L619.8 1320.9L618.8 1317.7L617.8 1317.8L616.8 1319.7L615.8 1317.1L614.8 1317.8L613.8 1320.2L612.8 1316.4L611.8 1317.9L610.8 1316L609.8 1315.2L608.8 1320.3L607.8 1318.4L606.8 1319.5L605.8 1317.1L604.8 1317.4L603.8 1316.3L602.8 1319.6L601.8 1318L600.8 1320.3L599.8 1318L598.8 1315.9L597.8 1316.1L596.8 1317.3L595.8 1317.8L594.8 1317.6L593.8 1314L592.8 1319.8L591.8 1311.9L590.8 1314.8L589.8 1318.8L588.8 1316.5L587.8 1315.3L586.8 1316.6L585.8 1316.7L584.8 1310L583.8 1311.3L582.8 1313.3L581.8 1313L580.8 1313.9L579.8 1315.4L578.8 1315.5L577.8 1312.1L576.8 1313.1L575.8 1312.9L574.8 1313.9L573.8 1310.4L572.8 1307.7L571.8 1307.7L570.8 1308.5L569.8 1303L568.8 1306.3L567.8 1307.8L566.8 1299.1L565.8 1300.6L564.8 1297.9L563.8 1300L562.8 1302.3L561.8 1302.1L560.8 1302.3L559.8 1301.3L558.8 1304.2L557.8 1303.3L556.8 1298.9L555.8 1294.9L554.8 1297L553.8 1293.5L552.8 1294.4L551.8 1298.2L550.8 1286.9L549.8 1293.5L548.8 1295.5L547.8 1293.7L546.8 1293L545.8 1294.7L544.8 1293L543.8 1282.7L542.8 1285.3L541.8 1278.1L540.8 1295L539.8 1280.5L538.8 1278L537.8 1291L536.8 1274.7L535.8 1279.3L534.8 1282.2L533.8 1283.8L532.8 1279.6L531.8 1275.5L530.8 1288.3L529.8 1279.1L528.8 1264.6L527.8 1264.3L526.8 1281.2L525.8 1282.8L524.8 1278.2L523.8 1266.8L522.8 1259L521.8 1269.7L520.8 1270.5L519.8 1265.3L518.8 1278.6L517.8 1264.6L516.8 1269.6L515.8 1268.9L514.8 1279.4L513.8 1261.8L512.8 1264.1L511.8 1263.4L510.8 1268.4L509.8 1260.1L508.8 1262.9L507.8 1258.9L506.8 1255.2L505.8 1255L504.8 1255.6L503.8 1268.8L502.8 1264L501.8 1254.4L500.8 1252.7L499.8 1262.3L498.8 1253L497.8 1247.1L496.8 1252.4L495.8 1261.6L494.8 1243.7L493.8 1248.9L492.8 1237.7L491.8 1264.2L490.8 1258.3L489.8 1253.1L488.8 1250.8L487.8 1249.6L486.8 1250.7L485.8 1258.7L484.8 1250L483.8 1251.8L482.8 1266.8L481.8 1254.7L480.8 1236.8L479.8 1235.3L478.8 1241.4L477.8 1241.6L476.8 1241L475.8 1248.5L474.8 1236.7L473.8 1250.9L472.8 1256L471.8 1255.9L470.8 1235.1L469.8 1236.5L468.8 1242L467.8 1274L466.8 1234.7L465.8 1232.7L464.8 1220.8L463.8 1239.6L462.8 1244.2L461.8 1248.8L460.8 1241.4L459.8 1232.6L458.8 1225.9L457.8 1239.5L456.8 1236.5L455.8 1229.1L454.8 1224.8L453.8 1258.1L452.8 1229L451.8 1219.2L450.8 1244.1L449.8 1226.9L448.8 1234.5L447.8 1255.9L446.8 1222.8L445.8 1246.1L444.8 1247.3L443.8 1239.5L442.8 1219.2L441.8 1228.9L440.8 1206.6L439.8 1236.6L438.8 1216.7L437.8 1225.6L436.8 1226L435.8 1227.8L434.8 1223.7L433.8 1235.9L432.8 1206.4L431.8 1218.5L430.8 1218.1L429.8 1222.4L428.8 1240.8L427.8 1227.1L426.8 1233.8Z" fill="#f9d7d7" stroke="#f9d7d7" stroke-width="0.8"/>
<path d="M426.8 1200.5L427.8 1190.2L428.8 1170.5L429.8 1185.6L430.8 1178.2L431.8 1184.8L432.8 1182.2L433.8 1199.5L434.8 1176.3L435.8 1182.2L436.8 1181.8L437.8 1171.3L438.8 1201.2L439.8 1208.6L440.8 1221.3L441.8 1206.3L442.8 1198.3L443.8 1208.3L444.8 1217.5L445.8 1203.9L446.8 1198.1L447.8 1195.2L448.8 1210.5L449.8 1196.9L450.8 1206.4L451.8 1217.5L452.8 1198.4L453.8 1179.9L454.8 1219.7L455.8 1201.2L456.8 1200L457.8 1192.1L458.8 1203.4L459.8 1219.5L460.8 1200.5L461.8 1217.4L462.8 1191.9L463.8 1194.4L464.8 1190.7L465.8 1193.9L466.8 1214.2L467.8 1209.8L468.8 1215.2L469.8 1195.3L470.8 1203.9L471.8 1211.9L472.8 1200L473.8 1215.4L474.8 1200.3L475.8 1209.8L476.8 1214.4L477.8 1197.6L478.8 1211.5L479.8 1219.4L480.8 1216L481.8 1234L482.8 1211.9L483.8 1222.7L484.8 1244L485.8 1217.7L486.8 1214.3L487.8 1223.4L488.8 1217.7L489.8 1231.5L490.8 1222.5L491.8 1215.6L492.8 1230.3L493.8 1238.5L494.8 1215.6L495.8 1232.6L496.8 1214.9L497.8 1233.6L498.8 1253.1L499.8 1227.4L500.8 1226L501.8 1235.7L502.8 1255.1L503.8 1259.4L504.8 1236.9L505.8 1236.8L506.8 1253.3L507.8 1237L508.8 1235.1L509.8 1232.2L510.8 1258.5L511.8 1255.8L512.8 1256.2L513.8 1235.7L514.8 1253.3L515.8 1252L516.8 1242.8L517.8 1252.7L518.8 1263.4L519.8 1254.7L520.8 1260.1L521.8 1266.4L522.8 1253.4L523.8 1265.3L524.8 1267.7L525.8 1245.3L526.8 1270.4L527.8 1251L528.8 1260.1L529.8 1277.8L530.8 1277L531.8 1272.7L532.8 1249.7L533.8 1267.5L534.8 1267.8L535.8 1282L536.8 1276.7L537.8 1274L538.8 1279.6L539.8 1283.2L540.8 1281.8L541.8 1280.8L542.8 1283.7L543.8 1284.5L544.8 1277.5L545.8 1280.4L546.8 1283.2L547.8 1291.5L548.8 1280.9L549.8 1291.9L550.8 1291.7L551.8 1288.8L552.8 1291.4L553.8 1284L554.8 1291.8L555.8 1290.4L556.8 1297.1L557.8 1292L558.8 1290.3L559.8 1295.9L560.8 1302.9L561.8 1298.9L562.8 1295.8L563.8 1299.2L564.8 1298.9L565.8 1295.2L566.8 1300.6L567.8 1299.5L568.8 1296L569.8 1301.8L570.8 1295.7L571.8 1298.1L572.8 1307.7L573.8 1300.1L574.8 1302.1L575.8 1306L576.8 1306.7L577.8 1305.5L578.8 1300.9L579.8 1308.6L580.8 1305.2L581.8 1304.9L582.8 1307L583.8 1305.8L584.8 1311.8L585.8 1304.9L586.8 1309.5L587.8 1311.4L588.8 1304.9L589.8 1305.6L590.8 1302L591.8 1308.3L592.8 1309.8L593.8 1311.9L594.8 1309.9L595.8 1307.2L596.8 1312.2L597.8 1311.1L598.8 1309.3L599.8 1306.5L600.8 1307.1L601.8 1307.7L602.8 1311.6L603.8 1309.6L604.8 1309.3L605.8 1310.2L606.8 1310.2L607.8 1310.1L608.8 1310.3L609.8 1310.3L610.8 1309.7L611.8 1309L612.8 1310.6L613.8 1306.1L614.8 1306.8L615.8 1310.1L616.8 1305.6L617.8 1310.4L618.8 1308.9L619.8 1309.8L620.8 1308.4L621.8 1313.1L622.8 1310.1L623.8 1310.8L624.8 1306.3L625.8 1313L626.8 1312.7L627.8 1307.3L628.8 1309.2L629.8 1313.5L630.8 1310.9L631.8 1306.3L632.8 1309.7L633.8 1308.2L634.8 1311.9L635.8 1312.5L636.8 1309.7L637.8 1306.2L638.8 1309.1L639.8 1311.3L640.8 1308.4L641.8 1313.3L642.8 1307.3L643.8 1313.5L644.8 1311.1L645.8 1310.4L646.8 1310.8L647.8 1310.5L648.8 1312.9L649.8 1316.3L650.8 1313L651.8 1308.9L652.8 1307L653.8 1311.5L654.8 1307.2L655.8 1312.2L656.8 1314.9L657.8 1308.6L658.8 1310.5L659.8 1308.2L660.8 1304L661.8 1306.9L662.8 1307.9L663.8 1309.3L664.8 1314.1L665.8 1308.9L666.8 1311.2L667.8 1310.2L668.8 1310.2L669.8 1308.7L670.8 1314.7L671.8 1307.6L672.8 1314L673.8 1315.1L674.8 1315.1L675.8 1306.2L676.8 1313L677.8 1309.4L678.8 1310.4L679.8 1314.6L680.8 1310.3L681.8 1308.6L682.8 1313.5L683.8 1308.7L684.8 1311.9L685.8 1311.2L686.8 1311L687.8 1312.3L688.8 1311.4L689.8 1313.3L690.8 1309.6L691.8 1312L692.8 1311.1L693.8 1310.8L694.8 1310.4L695.8 1308.8L696.8 1310.5L697.8 1311.4L698.8 1311.4L699.8 1313.3L700.8 1313.5L701.8 1312.9L702.8 1312.8L703.8 1312.5L704.8 1312.6L705.8 1311.3L706.8 1314.7L707.8 1307.4L708.8 1316.1L709.8 1312L710.8 1314.6L711.8 1305.5L712.8 1309.9L713.8 1308.5L714.8 1307.5L715.8 1309.6L716.8 1308.3L717.8 1312.1L717.8 1317.6L716.8 1318.5L715.8 1317.7L714.8 1316.8L713.8 1319.4L712.8 1319L711.8 1317.1L710.8 1317.5L709.8 1319.8L708.8 1321.7L707.8 1324.8L706.8 1320.8L705.8 1319.4L704.8 1326.7L703.8 1317.4L702.8 1320.7L701.8 1321.8L700.8 1318.5L699.8 1324.1L698.8 1321.4L697.8 1318.3L696.8 1317.8L695.8 1320.2L694.8 1320.2L693.8 1317.1L692.8 1320.4L691.8 1318.2L690.8 1324.1L689.8 1318.6L688.8 1317.9L687.8 1319.2L686.8 1317.6L685.8 1321.7L684.8 1317.2L683.8 1321.6L682.8 1319L681.8 1319.7L680.8 1319.8L679.8 1318.7L678.8 1315.6L677.8 1320.6L676.8 1318.7L675.8 1315L674.8 1317.7L673.8 1318.8L672.8 1319.2L671.8 1319.9L670.8 1318.5L669.8 1314.8L668.8 1313.6L667.8 1315.7L666.8 1320L665.8 1321.3L664.8 1316.9L663.8 1316.1L662.8 1319.5L661.8 1316.5L660.8 1317.4L659.8 1319.7L658.8 1318.2L657.8 1315.8L656.8 1318.7L655.8 1318.1L654.8 1318.5L653.8 1319.2L652.8 1317.3L651.8 1318.5L650.8 1319.7L649.8 1316.8L648.8 1320.7L647.8 1318.5L646.8 1322.7L645.8 1318.2L644.8 1321.7L643.8 1319.4L642.8 1320.1L641.8 1319.3L640.8 1317.7L639.8 1323.7L638.8 1313.4L637.8 1319.2L636.8 1321.8L635.8 1316.9L634.8 1322.1L633.8 1319.6L632.8 1317.3L631.8 1318.8L630.8 1319L629.8 1315.4L628.8 1320.3L627.8 1317.1L626.8 1321.6L625.8 1317.2L624.8 1317.8L623.8 1318L622.8 1317.9L621.8 1317.1L620.8 1318.9L619.8 1318.3L618.8 1319.1L617.8 1316.3L616.8 1320.9L615.8 1317.7L614.8 1320.1L613.8 1315.2L612.8 1321.4L611.8 1319.8L610.8 1317.5L609.8 1313.9L608.8 1317.9L607.8 1317.5L606.8 1323.8L605.8 1317.9L604.8 1317.4L603.8 1318.3L602.8 1315.3L601.8 1315.3L600.8 1317.4L599.8 1315.6L598.8 1316.5L597.8 1317.6L596.8 1316.4L595.8 1320L594.8 1317.9L593.8 1317.9L592.8 1317.4L591.8 1316.6L590.8 1315L589.8 1314.7L588.8 1319.6L587.8 1314.6L586.8 1314.8L585.8 1314.5L584.8 1314.8L583.8 1314.2L582.8 1314.6L581.8 1319.5L580.8 1310.8L579.8 1317.5L578.8 1313.6L577.8 1316.7L576.8 1309L575.8 1312.3L574.8 1312.5L573.8 1307.5L572.8 1319.2L571.8 1313L570.8 1306.4L569.8 1307.4L568.8 1311.7L567.8 1312.5L566.8 1307L565.8 1312.3L564.8 1306.8L563.8 1310.7L562.8 1306.7L561.8 1313.7L560.8 1308.5L559.8 1316.9L558.8 1307.2L557.8 1311.1L556.8 1310L555.8 1305.5L554.8 1300.5L553.8 1296.5L552.8 1310.1L551.8 1309.8L550.8 1300L549.8 1303.9L548.8 1299.4L547.8 1304L546.8 1305.2L545.8 1298.1L544.8 1306.2L543.8 1292.5L542.8 1297.8L541.8 1293.4L540.8 1296.9L539.8 1293.1L538.8 1296.5L537.8 1302L536.8 1295.1L535.8 1289.9L534.8 1287.8L533.8 1294.5L532.8 1279.8L531.8 1288.2L530.8 1291.8L529.8 1289.7L528.8 1288.5L527.8 1277.8L526.8 1292.2L525.8 1287.3L524.8 1293.1L523.8 1284.1L522.8 1283.8L521.8 1273.2L520.8 1284.8L519.8 1281.7L518.8 1292.4L517.8 1281.5L516.8 1289.4L515.8 1273.2L514.8 1262.8L513.8 1265.1L512.8 1282.2L511.8 1275.3L510.8 1268L509.8 1270.6L508.8 1271.6L507.8 1265.9L506.8 1285.1L505.8 1260.7L504.8 1267.2L503.8 1269.7L502.8 1261.5L501.8 1273.9L500.8 1260.7L499.8 1282.4L498.8 1274L497.8 1259.7L496.8 1246L495.8 1254.2L494.8 1257.4L493.8 1264.5L492.8 1270.9L491.8 1256.9L490.8 1268.9L489.8 1261.5L488.8 1258.3L487.8 1258.3L486.8 1250.5L485.8 1260.9L484.8 1265.2L483.8 1267.3L482.8 1263.7L481.8 1252L480.8 1252.8L479.8 1241L478.8 1250.6L477.8 1246.8L476.8 1251.1L475.8 1252.9L474.8 1254.9L473.8 1255.7L472.8 1252.7L471.8 1245.7L470.8 1237.6L469.8 1242.2L468.8 1229.8L467.8 1233.8L466.8 1229.3L465.8 1215.6L464.8 1237.5L463.8 1240.3L462.8 1247.9L461.8 1242.5L460.8 1221.6L459.8 1241L458.8 1238.5L457.8 1241.6L456.8 1237.9L455.8 1249.4L454.8 1233.1L453.8 1235.5L452.8 1236.2L451.8 1260.9L450.8 1237.7L449.8 1242.3L448.8 1229.5L447.8 1248.3L446.8 1241.5L445.8 1268.4L444.8 1235.7L443.8 1240.7L442.8 1215.9L441.8 1230.1L440.8 1235.9L439.8 1243.3L438.8 1240L437.8 1240.9L436.8 1240L435.8 1221.7L434.8 1234.4L433.8 1242.2L432.8 1241L431.8 1225L430.8 1226.3L429.8 1236.7L428.8 1243.9L427.8 1203.6L426.8 1240.8Z" fill="#b9b7de" stroke="#b9b7de" stroke-width="0.8"/>
<path d="M426.8 1209.6L427.8 1209L428.8 1211.6L429.8 1213.4L430.8 1212.2L431.8 1209.9L432.8 1219.3L433.8 1224.4L434.8 1220.1L435.8 1224.8L436.8 1225.2L437.8 1232.9L438.8 1225.1L439.8 1227.9L440.8 1238.1L441.8 1229L442.8 1231.5L443.8 1234.7L444.8 1232.8L445.8 1233.9L446.8 1230.1L447.8 1233.5L448.8 1239.9L449.8 1232.6L450.8 1232L451.8 1234.6L452.8 1233.7L453.8 1229.7L454.8 1235.3L455.8 1236.3L456.8 1235.1L457.8 1234.5L458.8 1237.9L459.8 1239.1L460.8 1231.3L461.8 1238.4L462.8 1241.8L463.8 1237.2L464.8 1245.2L465.8 1237.5L466.8 1244.1L467.8 1248.8L468.8 1242.9L469.8 1241.6L470.8 1240L471.8 1239.6L472.8 1238.5L473.8 1247.9L474.8 1245.5L475.8 1239.4L476.8 1252.4L477.8 1242.4L478.8 1243.1L479.8 1243.6L480.8 1243.7L481.8 1240L482.8 1239L483.8 1254L484.8 1245.2L485.8 1248.2L486.8 1243.1L487.8 1249.9L488.8 1250.3L489.8 1252.3L490.8 1255.4L491.8 1244.2L492.8 1248.4L493.8 1259.1L494.8 1256.3L495.8 1249.3L496.8 1252.7L497.8 1255L498.8 1252.2L499.8 1259.6L500.8 1248.5L501.8 1263.9L502.8 1262.6L503.8 1246.7L504.8 1256.5L505.8 1259.6L506.8 1260.7L507.8 1264.9L508.8 1263.5L509.8 1257L510.8 1265.2L511.8 1255.2L512.8 1263.7L513.8 1264.2L514.8 1257.3L515.8 1252.5L516.8 1270.9L517.8 1265.5L518.8 1265.6L519.8 1269.8L520.8 1270.2L521.8 1256.8L522.8 1264.7L523.8 1268.2L524.8 1268L525.8 1272.4L526.8 1266.1L527.8 1266L528.8 1272L529.8 1273.7L530.8 1272.1L531.8 1273L532.8 1271.1L533.8 1267.5L534.8 1271.6L535.8 1271.1L536.8 1274.2L537.8 1277.4L538.8 1281.5L539.8 1276.6L540.8 1281.1L541.8 1277.1L542.8 1277.6L543.8 1275.9L544.8 1284.3L545.8 1282.9L546.8 1286.1L547.8 1285.5L548.8 1291L549.8 1284.3L550.8 1292.8L551.8 1289L552.8 1287.9L553.8 1293.2L554.8 1288.3L555.8 1285.9L556.8 1295.7L557.8 1292.4L558.8 1293.1L559.8 1290.9L560.8 1290.1L561.8 1291.8L562.8 1295L563.8 1295.1L564.8 1289.8L565.8 1297.7L566.8 1299.6L567.8 1299.4L568.8 1298.2L569.8 1300.6L570.8 1297.8L571.8 1292.3L572.8 1302.8L573.8 1302L574.8 1300.7L575.8 1300.2L576.8 1301.7L577.8 1303.3L578.8 1306.5L579.8 1306.6L580.8 1306.8L581.8 1305.1L582.8 1307.2L583.8 1311.8L584.8 1309.8L585.8 1310.2L586.8 1310.1L587.8 1308.6L588.8 1310.6L589.8 1310.1L590.8 1311.8L591.8 1312.6L592.8 1309.3L593.8 1311L594.8 1311.3L595.8 1310.9L596.8 1314.7L597.8 1315.2L598.8 1309.8L599.8 1313.5L600.8 1314.4L601.8 1310.8L602.8 1314.1L603.8 1313.1L604.8 1314.8L605.8 1314.5L606.8 1313.4L607.8 1314.4L608.8 1314.6L609.8 1314L610.8 1314.3L611.8 1312.8L612.8 1315L613.8 1313.8L614.8 1315.9L615.8 1314.4L616.8 1315.6L617.8 1315.7L618.8 1315.7L619.8 1314.8L620.8 1312.8L621.8 1314.6L622.8 1313.9L623.8 1315.2L624.8 1315.4L625.8 1314.1L626.8 1315.7L627.8 1314L628.8 1317.3L629.8 1315.2L630.8 1316L631.8 1316.2L632.8 1315.4L633.8 1315.4L634.8 1311.1L635.8 1315.7L636.8 1316.7L637.8 1315.9L638.8 1315.4L639.8 1314.7L640.8 1315.8L641.8 1316.1L642.8 1316.5L643.8 1315.2L644.8 1315.7L645.8 1315L646.8 1316.3L647.8 1315.1L648.8 1318.1L649.8 1317.6L650.8 1317.4L651.8 1318.2L652.8 1316.9L653.8 1316.7L654.8 1316.1L655.8 1314.8L656.8 1315.3L657.8 1315.1L658.8 1316.1L659.8 1313.1L660.8 1315.3L661.8 1316.4L662.8 1317.1L663.8 1315L664.8 1315.2L665.8 1314.3L666.8 1316.4L667.8 1316.7L668.8 1316.9L669.8 1315.6L670.8 1315.3L671.8 1315.8L672.8 1316.5L673.8 1316.4L674.8 1316.5L675.8 1316.3L676.8 1317.5L677.8 1317.7L678.8 1316.2L679.8 1315.1L680.8 1316.5L681.8 1317.2L682.8 1315.1L683.8 1312.8L684.8 1317.5L685.8 1316.1L686.8 1318L687.8 1315.7L688.8 1316.6L689.8 1317L690.8 1314.2L691.8 1315.2L692.8 1316.4L693.8 1315.2L694.8 1318.3L695.8 1315.1L696.8 1317L697.8 1313.5L698.8 1316.9L699.8 1316L700.8 1314.9L701.8 1315.1L702.8 1317.7L703.8 1316.7L704.8 1316.8L705.8 1315.7L706.8 1316.2L707.8 1316.7L708.8 1316.6L709.8 1317.5L710.8 1314.9L711.8 1316.7L712.8 1315L713.8 1316.8L714.8 1315.9L715.8 1315.7L716.8 1315.6L717.8 1315.8L717.8 1319.5L716.8 1319.9L715.8 1319.4L714.8 1320.9L713.8 1320.3L712.8 1320.8L711.8 1319.5L710.8 1318.6L709.8 1320.9L708.8 1319.4L707.8 1322L706.8 1320L705.8 1319.8L704.8 1322.1L703.8 1319.6L702.8 1321.6L701.8 1319.6L700.8 1319.6L699.8 1321.2L698.8 1318.6L697.8 1320.8L696.8 1319.8L695.8 1317.9L694.8 1319.1L693.8 1321.3L692.8 1318.2L691.8 1319.9L690.8 1319.3L689.8 1319.9L688.8 1319.7L687.8 1322.4L686.8 1320.1L685.8 1321.4L684.8 1320.1L683.8 1321.4L682.8 1319.7L681.8 1321.3L680.8 1321L679.8 1321.6L678.8 1319.6L677.8 1318.9L676.8 1324.6L675.8 1319.8L674.8 1322.3L673.8 1318.9L672.8 1320.5L671.8 1322.7L670.8 1320.4L669.8 1319.3L668.8 1319.6L667.8 1320.2L666.8 1321.2L665.8 1320.8L664.8 1320.6L663.8 1323.6L662.8 1320L661.8 1321.5L660.8 1319.3L659.8 1320.3L658.8 1318.9L657.8 1322.4L656.8 1321L655.8 1318.8L654.8 1320L653.8 1320L652.8 1321.4L651.8 1321.5L650.8 1320.5L649.8 1320.4L648.8 1321.7L647.8 1322.2L646.8 1322.5L645.8 1319.8L644.8 1322.1L643.8 1320.2L642.8 1320L641.8 1321.6L640.8 1321.8L639.8 1319.8L638.8 1319L637.8 1319.4L636.8 1320.1L635.8 1318.3L634.8 1320.1L633.8 1320.7L632.8 1320L631.8 1318.1L630.8 1318.8L629.8 1319.4L628.8 1323.1L627.8 1318.1L626.8 1317.8L625.8 1320.1L624.8 1320.8L623.8 1319.8L622.8 1319.7L621.8 1319.1L620.8 1320.1L619.8 1322.7L618.8 1320.6L617.8 1319.2L616.8 1318.4L615.8 1319.9L614.8 1320.5L613.8 1318.5L612.8 1318.5L611.8 1317.3L610.8 1318L609.8 1317.2L608.8 1318.4L607.8 1322L606.8 1321.8L605.8 1319.3L604.8 1319.6L603.8 1318.3L602.8 1319.9L601.8 1318.6L600.8 1316.5L599.8 1319L598.8 1318.3L597.8 1320.1L596.8 1318.6L595.8 1317.5L594.8 1319.8L593.8 1318.7L592.8 1317.9L591.8 1318.4L590.8 1318.8L589.8 1316.8L588.8 1315.7L587.8 1317.1L586.8 1317.9L585.8 1316.4L584.8 1314.9L583.8 1317.9L582.8 1319.2L581.8 1314.7L580.8 1319.5L579.8 1315.1L578.8 1314.3L577.8 1314L576.8 1312.4L575.8 1318.6L574.8 1310.1L573.8 1313.9L572.8 1314.8L571.8 1316.1L570.8 1315.6L569.8 1307.9L568.8 1309.3L567.8 1309.9L566.8 1310.4L565.8 1307L564.8 1310.7L563.8 1308.9L562.8 1305.9L561.8 1307L560.8 1304.5L559.8 1303.6L558.8 1303.1L557.8 1302.4L556.8 1304.4L555.8 1309.7L554.8 1301.2L553.8 1301.7L552.8 1302.8L551.8 1300.3L550.8 1306.6L549.8 1301.5L548.8 1301.2L547.8 1301.4L546.8 1303.3L545.8 1302.9L544.8 1300L543.8 1293.8L542.8 1301.6L541.8 1299L540.8 1296.7L539.8 1286.1L538.8 1294.6L537.8 1287.8L536.8 1288.6L535.8 1291.8L534.8 1291.1L533.8 1295.9L532.8 1291.5L531.8 1285.8L530.8 1279.2L529.8 1279L528.8 1284.1L527.8 1281.3L526.8 1284.8L525.8 1280L524.8 1287.2L523.8 1283.6L522.8 1277.2L521.8 1284L520.8 1282.5L519.8 1279.3L518.8 1281.2L517.8 1284.1L516.8 1285.1L515.8 1280L514.8 1274.5L513.8 1277.3L512.8 1274.3L511.8 1284.2L510.8 1276.4L509.8 1284L508.8 1281L507.8 1279.6L506.8 1273.7L505.8 1273L504.8 1273.5L503.8 1274.6L502.8 1267.8L501.8 1266.9L500.8 1274.9L499.8 1272.8L498.8 1267.1L497.8 1271.5L496.8 1273.1L495.8 1269.5L494.8 1270.7L493.8 1272.3L492.8 1269.8L491.8 1273.3L490.8 1261.7L489.8 1272.7L488.8 1268L487.8 1271.2L486.8 1274.8L485.8 1265.6L484.8 1260.7L483.8 1263.2L482.8 1269.1L481.8 1267L480.8 1260.3L479.8 1261.6L478.8 1264.1L477.8 1264.3L476.8 1267.6L475.8 1257.4L474.8 1263.6L473.8 1263.6L472.8 1262.4L471.8 1257L470.8 1255.1L469.8 1257L468.8 1255.6L467.8 1257.7L466.8 1256.9L465.8 1267.5L464.8 1263.5L463.8 1253.2L462.8 1259.5L461.8 1252.2L460.8 1255.3L459.8 1257.2L458.8 1247.6L457.8 1254.9L456.8 1255L455.8 1254.8L454.8 1257L453.8 1251L452.8 1249.4L451.8 1250.5L450.8 1250.1L449.8 1245.4L448.8 1245.3L447.8 1253.9L446.8 1250.5L445.8 1252.2L444.8 1250.3L443.8 1248.3L442.8 1248.9L441.8 1242.2L440.8 1247.4L439.8 1241.7L438.8 1241.3L437.8 1249L436.8 1236.7L435.8 1244.3L434.8 1230.8L433.8 1237.4L432.8 1236.7L431.8 1234.3L430.8 1235.2L429.8 1232.6L428.8 1236.4L427.8 1235.7L426.8 1220.5Z" fill="#2fae3c" stroke="#2fae3c" stroke-width="0.8"/>
<path d="M426.8 1191.7L427.8 1199.9L428.8 1186.4L429.8 1193.4L430.8 1197.1L431.8 1201.1L432.8 1199L433.8 1201.2L434.8 1198.8L435.8 1200.5L436.8 1199.5L437.8 1200.1L438.8 1204.5L439.8 1201.5L440.8 1203L441.8 1195.4L442.8 1202.1L443.8 1200.9L444.8 1213.8L445.8 1201.9L446.8 1197.9L447.8 1207.3L448.8 1202.7L449.8 1206.8L450.8 1202.2L451.8 1198.8L452.8 1197.3L453.8 1202.7L454.8 1205.6L455.8 1187.8L456.8 1210.9L457.8 1206.2L458.8 1209.1L459.8 1203.9L460.8 1211.4L461.8 1211L462.8 1209.9L463.8 1217.9L464.8 1202.9L465.8 1204.4L466.8 1205.4L467.8 1200.5L468.8 1209.4L469.8 1219.7L470.8 1214.7L471.8 1206.4L472.8 1211.4L473.8 1218.8L474.8 1216.3L475.8 1210L476.8 1218.5L477.8 1215.6L478.8 1219.5L479.8 1214.4L480.8 1220.9L481.8 1215.2L482.8 1215L483.8 1217.6L484.8 1217.6L485.8 1225.1L486.8 1225.8L487.8 1230.1L488.8 1222.1L489.8 1230.5L490.8 1226.2L491.8 1230.5L492.8 1219.4L493.8 1222.6L494.8 1226.1L495.8 1229.3L496.8 1232.9L497.8 1233L498.8 1231.3L499.8 1225.3L500.8 1230.5L501.8 1225.9L502.8 1230.4L503.8 1229.3L504.8 1233.3L505.8 1228.5L506.8 1234.6L507.8 1228.7L508.8 1247.6L509.8 1238.8L510.8 1245.7L511.8 1242.5L512.8 1241.2L513.8 1240.1L514.8 1249L515.8 1235.1L516.8 1251.2L517.8 1242.6L518.8 1246.8L519.8 1246.5L520.8 1243.8L521.8 1246.5L522.8 1243.2L523.8 1242.2L524.8 1251L525.8 1252.9L526.8 1260.1L527.8 1251.6L528.8 1254.2L529.8 1248.2L530.8 1251.6L531.8 1255.9L532.8 1257L533.8 1262.2L534.8 1263.4L535.8 1265.9L536.8 1260L537.8 1257.3L538.8 1251.9L539.8 1267.2L540.8 1268.8L541.8 1270.5L542.8 1267.8L543.8 1270.8L544.8 1266.3L545.8 1277L546.8 1271L547.8 1265.6L548.8 1272.9L549.8 1273.8L550.8 1283.4L551.8 1278.1L552.8 1277.3L553.8 1282.8L554.8 1278.7L555.8 1272.1L556.8 1285L557.8 1293.3L558.8 1289.5L559.8 1284.5L560.8 1291.6L561.8 1289L562.8 1287.9L563.8 1292.7L564.8 1287.4L565.8 1290.8L566.8 1293.1L567.8 1291L568.8 1295.8L569.8 1293.4L570.8 1298.5L571.8 1287.2L572.8 1301.7L573.8 1304.9L574.8 1299.8L575.8 1304L576.8 1298L577.8 1296.7L578.8 1296.5L579.8 1294.8L580.8 1301.5L581.8 1299.4L582.8 1302.6L583.8 1304.9L584.8 1309L585.8 1306.1L586.8 1307.5L587.8 1304.4L588.8 1305.6L589.8 1299.5L590.8 1307.7L591.8 1309.1L592.8 1309.3L593.8 1309.3L594.8 1308L595.8 1311.3L596.8 1309.2L597.8 1306.5L598.8 1311.2L599.8 1312.1L600.8 1314.2L601.8 1311.5L602.8 1311.6L603.8 1311.6L604.8 1311.5L605.8 1311L606.8 1309.9L607.8 1311L608.8 1313.6L609.8 1314.3L610.8 1315L611.8 1312.4L612.8 1312.8L613.8 1311.8L614.8 1313L615.8 1311.8L616.8 1315.4L617.8 1311.5L618.8 1313.4L619.8 1313.6L620.8 1315.5L621.8 1316L622.8 1314.9L623.8 1313.4L624.8 1313.9L625.8 1312.7L626.8 1315.3L627.8 1312.2L628.8 1314.1L629.8 1315.5L630.8 1315L631.8 1311.8L632.8 1307L633.8 1311.4L634.8 1315.1L635.8 1310.4L636.8 1313.2L637.8 1315L638.8 1312.6L639.8 1313.6L640.8 1311.7L641.8 1315L642.8 1313.3L643.8 1314.2L644.8 1315.7L645.8 1315.3L646.8 1316.4L647.8 1312.6L648.8 1313.1L649.8 1310.8L650.8 1315.1L651.8 1312.8L652.8 1313.5L653.8 1315.5L654.8 1316.5L655.8 1315.1L656.8 1314.6L657.8 1315L658.8 1313.6L659.8 1314.7L660.8 1314.6L661.8 1314.5L662.8 1313.1L663.8 1310.7L664.8 1313.4L665.8 1316.4L666.8 1314.1L667.8 1314.7L668.8 1313L669.8 1314.8L670.8 1316.3L671.8 1315.4L672.8 1315.4L673.8 1315.9L674.8 1316.8L675.8 1316.5L676.8 1316.7L677.8 1315.8L678.8 1316.8L679.8 1315.2L680.8 1316.8L681.8 1314.9L682.8 1314.1L683.8 1313.1L684.8 1315.5L685.8 1313.6L686.8 1314.2L687.8 1314.8L688.8 1316.7L689.8 1312.8L690.8 1313.7L691.8 1315.1L692.8 1313L693.8 1315.9L694.8 1315.8L695.8 1315.2L696.8 1313.4L697.8 1312.8L698.8 1313.4L699.8 1315.4L700.8 1314.3L701.8 1316.8L702.8 1313.8L703.8 1316.3L704.8 1315.1L705.8 1318.7L706.8 1313.6L707.8 1316.3L708.8 1314.3L709.8 1315.3L710.8 1312.7L711.8 1313.5L712.8 1313.9L713.8 1315.7L714.8 1313.6L715.8 1316.6L716.8 1313.8L717.8 1313.3L717.8 1320.2L716.8 1319.5L715.8 1320.3L714.8 1320.8L713.8 1319.3L712.8 1320.8L711.8 1319.2L710.8 1320.6L709.8 1320.1L708.8 1320.1L707.8 1319.4L706.8 1320.9L705.8 1321.5L704.8 1322.4L703.8 1320.2L702.8 1324L701.8 1318.7L700.8 1317.9L699.8 1317.8L698.8 1320.5L697.8 1319.3L696.8 1321.7L695.8 1318.2L694.8 1320.9L693.8 1319.2L692.8 1319.3L691.8 1318.4L690.8 1317.3L689.8 1318.5L688.8 1318.7L687.8 1320.5L686.8 1319.1L685.8 1319.1L684.8 1319.3L683.8 1321.3L682.8 1319.6L681.8 1323L680.8 1319.1L679.8 1320.4L678.8 1318.8L677.8 1320.3L676.8 1320.4L675.8 1319.4L674.8 1320.5L673.8 1321.6L672.8 1317L671.8 1320.2L670.8 1319.4L669.8 1321.1L668.8 1318L667.8 1319.8L666.8 1318.9L665.8 1321L664.8 1320.1L663.8 1318.3L662.8 1318.4L661.8 1318.7L660.8 1320.1L659.8 1320.8L658.8 1318.5L657.8 1317.1L656.8 1321.4L655.8 1317L654.8 1320.6L653.8 1320.3L652.8 1321.2L651.8 1319.4L650.8 1320.3L649.8 1317.5L648.8 1318.3L647.8 1318.6L646.8 1318.5L645.8 1318.3L644.8 1319.7L643.8 1320.1L642.8 1321.2L641.8 1319.5L640.8 1319.5L639.8 1316.9L638.8 1318L637.8 1318.4L636.8 1317.3L635.8 1321.7L634.8 1320.9L633.8 1321.8L632.8 1319.1L631.8 1319.5L630.8 1321.3L629.8 1318.6L628.8 1319.5L627.8 1319.5L626.8 1318.9L625.8 1317.7L624.8 1316.4L623.8 1319L622.8 1319.5L621.8 1320.3L620.8 1320.8L619.8 1319.2L618.8 1321.1L617.8 1320.3L616.8 1315.8L615.8 1318.7L614.8 1320.3L613.8 1320.6L612.8 1319.2L611.8 1315.9L610.8 1317.4L609.8 1320L608.8 1319.5L607.8 1317.1L606.8 1320.4L605.8 1317.8L604.8 1319.8L603.8 1319.1L602.8 1319.1L601.8 1317.5L600.8 1317.8L599.8 1320.8L598.8 1318.4L597.8 1317.1L596.8 1319.3L595.8 1316.8L594.8 1319.2L593.8 1314L592.8 1320.4L591.8 1318L590.8 1313.7L589.8 1316.9L588.8 1314.9L587.8 1315.5L586.8 1313.7L585.8 1316.7L584.8 1312.8L583.8 1314.4L582.8 1313.5L581.8 1313.6L580.8 1309.4L579.8 1316L578.8 1312.2L577.8 1310.2L576.8 1308.6L575.8 1310.6L574.8 1308.6L573.8 1315.8L572.8 1305.3L571.8 1309.1L570.8 1307.1L569.8 1306.8L568.8 1319.1L567.8 1302.3L566.8 1302.2L565.8 1306L564.8 1308.8L563.8 1302L562.8 1308L561.8 1304.2L560.8 1298.6L559.8 1304.1L558.8 1303.2L557.8 1301.7L556.8 1306.4L555.8 1292.4L554.8 1294.5L553.8 1300L552.8 1297.1L551.8 1296.5L550.8 1294.1L549.8 1291.1L548.8 1287.6L547.8 1284.8L546.8 1287.4L545.8 1290.6L544.8 1287.3L543.8 1285L542.8 1289.2L541.8 1277.2L540.8 1285L539.8 1277.6L538.8 1283.9L537.8 1289.7L536.8 1280.6L535.8 1281.8L534.8 1280L533.8 1273.7L532.8 1270.4L531.8 1275.4L530.8 1270.5L529.8 1276.9L528.8 1269.9L527.8 1271.5L526.8 1269.2L525.8 1263.5L524.8 1258.8L523.8 1263L522.8 1267.1L521.8 1258.1L520.8 1255.5L519.8 1256.6L518.8 1265.6L517.8 1262.7L516.8 1263.5L515.8 1260L514.8 1260.1L513.8 1264.4L512.8 1265.7L511.8 1269.3L510.8 1255.9L509.8 1258.6L508.8 1251.4L507.8 1258.9L506.8 1249.6L505.8 1253.6L504.8 1246.6L503.8 1242.9L502.8 1251L501.8 1240.1L500.8 1251.9L499.8 1252.5L498.8 1242.5L497.8 1245.8L496.8 1245.5L495.8 1243.2L494.8 1248.8L493.8 1250.3L492.8 1249L491.8 1250.5L490.8 1245.6L489.8 1246.8L488.8 1237.9L487.8 1236.3L486.8 1243.2L485.8 1232.5L484.8 1238.9L483.8 1242.2L482.8 1231.9L481.8 1232L480.8 1230.8L479.8 1232.2L478.8 1236.2L477.8 1224L476.8 1233L475.8 1229.8L474.8 1231.5L473.8 1231.8L472.8 1224L471.8 1223.5L470.8 1229.1L469.8 1226.9L468.8 1228.1L467.8 1218.7L466.8 1223.1L465.8 1219.4L464.8 1226.4L463.8 1221.6L462.8 1231.4L461.8 1227.2L460.8 1233.8L459.8 1223.3L458.8 1219.4L457.8 1222.6L456.8 1229.2L455.8 1216.1L454.8 1222L453.8 1219.3L452.8 1221.8L451.8 1219.9L450.8 1230.5L449.8 1223.9L448.8 1225.4L447.8 1226.7L446.8 1219L445.8 1223.8L444.8 1226.7L443.8 1216.9L442.8 1216.4L441.8 1224.5L440.8 1214.8L439.8 1216.2L438.8 1219.8L437.8 1218.3L436.8 1219.6L435.8 1217.1L434.8 1221.9L433.8 1213.4L432.8 1211.6L431.8 1224.4L430.8 1215.2L429.8 1218.2L428.8 1223.8L427.8 1215.7L426.8 1213.8Z" fill="#e8141c" stroke="#e8141c" stroke-width="0.8"/>
<path d="M426.8 1190.3L427.8 1201.5L428.8 1190.9L429.8 1211.5L430.8 1216.2L431.8 1202.2L432.8 1202.4L433.8 1203.8L434.8 1197.9L435.8 1195.1L436.8 1196.9L437.8 1207.2L438.8 1201.2L439.8 1201.1L440.8 1197L441.8 1204.1L442.8 1200.2L443.8 1202.5L444.8 1203.4L445.8 1212.8L446.8 1209.2L447.8 1211.1L448.8 1209.7L449.8 1215.9L450.8 1211.6L451.8 1211.7L452.8 1215.5L453.8 1219.1L454.8 1208.7L455.8 1214.7L456.8 1214.1L457.8 1193.2L458.8 1205.8L459.8 1224.7L460.8 1219.9L461.8 1212.7L462.8 1206.8L463.8 1213.4L464.8 1213.7L465.8 1227L466.8 1209.5L467.8 1217.1L468.8 1219.5L469.8 1214.5L470.8 1206.2L471.8 1220.6L472.8 1215L473.8 1201.7L474.8 1218.7L475.8 1220.7L476.8 1222.8L477.8 1223.6L478.8 1232.1L479.8 1226.9L480.8 1226.9L481.8 1231.8L482.8 1226.5L483.8 1225.9L484.8 1214L485.8 1213.1L486.8 1231.7L487.8 1220.9L488.8 1221L489.8 1231.1L490.8 1225.1L491.8 1239.2L492.8 1232.8L493.8 1235.8L494.8 1235.7L495.8 1236.8L496.8 1235.5L497.8 1239.2L498.8 1243.8L499.8 1241.3L500.8 1236L501.8 1239.2L502.8 1237.6L503.8 1243.9L504.8 1239.9L505.8 1241.4L506.8 1249.1L507.8 1247L508.8 1238.3L509.8 1251.9L510.8 1250.6L511.8 1250.1L512.8 1253.3L513.8 1245.3L514.8 1246.3L515.8 1251.9L516.8 1253L517.8 1259.7L518.8 1255.4L519.8 1253.9L520.8 1261.3L521.8 1259L522.8 1263.3L523.8 1274.4L524.8 1259L525.8 1261.4L526.8 1243.7L527.8 1261.4L528.8 1276L529.8 1273.2L530.8 1263.4L531.8 1266.2L532.8 1269.6L533.8 1274L534.8 1277.1L535.8 1269L536.8 1280.3L537.8 1282.4L538.8 1275.8L539.8 1270.8L540.8 1274.6L541.8 1271L542.8 1281.2L543.8 1280.2L544.8 1282.9L545.8 1280.9L546.8 1286L547.8 1290.2L548.8 1278.7L549.8 1286L550.8 1276L551.8 1283.1L552.8 1287.6L553.8 1286L554.8 1293.6L555.8 1294.5L556.8 1288.8L557.8 1287.8L558.8 1292.1L559.8 1298.9L560.8 1291.2L561.8 1294.3L562.8 1295.6L563.8 1293.9L564.8 1296.1L565.8 1289.4L566.8 1292.3L567.8 1303.8L568.8 1302.8L569.8 1301.5L570.8 1297L571.8 1302.4L572.8 1298.6L573.8 1300.6L574.8 1298.9L575.8 1298L576.8 1299.9L577.8 1304.9L578.8 1303L579.8 1298.9L580.8 1306.3L581.8 1305.2L582.8 1300.9L583.8 1306.8L584.8 1305.2L585.8 1307L586.8 1303.4L587.8 1304.8L588.8 1308.8L589.8 1310.5L590.8 1303.9L591.8 1306.2L592.8 1312.3L593.8 1304.9L594.8 1301.9L595.8 1299.8L596.8 1302.9L597.8 1310.2L598.8 1307.4L599.8 1309.3L600.8 1307.4L601.8 1307.4L602.8 1310.8L603.8 1310.9L604.8 1311.4L605.8 1310.5L606.8 1310.3L607.8 1309.5L608.8 1307.1L609.8 1313L610.8 1310.4L611.8 1310.8L612.8 1308.4L613.8 1302.5L614.8 1310.4L615.8 1310.6L616.8 1311.9L617.8 1310.4L618.8 1311.9L619.8 1312.7L620.8 1313.8L621.8 1312.8L622.8 1309.9L623.8 1309.3L624.8 1307.9L625.8 1309.1L626.8 1308.8L627.8 1311.3L628.8 1309.7L629.8 1310.4L630.8 1310.6L631.8 1312.5L632.8 1312L633.8 1312.1L634.8 1308.1L635.8 1314.3L636.8 1309.6L637.8 1312.3L638.8 1314.3L639.8 1312L640.8 1311L641.8 1307.3L642.8 1309.3L643.8 1312.2L644.8 1308.8L645.8 1309.9L646.8 1312.6L647.8 1309.7L648.8 1313.9L649.8 1310.2L650.8 1309.2L651.8 1310.8L652.8 1314.6L653.8 1312L654.8 1309.5L655.8 1312L656.8 1314L657.8 1315.3L658.8 1312.9L659.8 1305.8L660.8 1312.3L661.8 1310.7L662.8 1314.8L663.8 1308.6L664.8 1309.7L665.8 1312.3L666.8 1316.8L667.8 1314.2L668.8 1312L669.8 1312.1L670.8 1312.8L671.8 1311.3L672.8 1316.3L673.8 1311.5L674.8 1310.8L675.8 1308.5L676.8 1314.4L677.8 1310.3L678.8 1309.6L679.8 1309.8L680.8 1309.2L681.8 1312.5L682.8 1312.3L683.8 1312.1L684.8 1311.5L685.8 1311.3L686.8 1310.2L687.8 1314.6L688.8 1314.7L689.8 1313.9L690.8 1312.9L691.8 1312L692.8 1312L693.8 1311.5L694.8 1311.1L695.8 1313.3L696.8 1314.1L697.8 1312.2L698.8 1309L699.8 1311.4L700.8 1305.4L701.8 1309.2L702.8 1311.7L703.8 1313.2L704.8 1313.9L705.8 1312.9L706.8 1313.2L707.8 1312.4L708.8 1313.8L709.8 1314.9L710.8 1311.7L711.8 1314.8L712.8 1312.8L713.8 1310.4L714.8 1312.7L715.8 1309.5L716.8 1311.2L717.8 1310.8L717.8 1318.9L716.8 1317.1L715.8 1322.3L714.8 1324.9L713.8 1319.1L712.8 1317.7L711.8 1326.9L710.8 1322.7L709.8 1318.3L708.8 1316.3L707.8 1325L706.8 1320.7L705.8 1324.6L704.8 1318.1L703.8 1324.2L702.8 1318.5L701.8 1318.1L700.8 1318.8L699.8 1316.6L698.8 1317.7L697.8 1315.3L696.8 1321.1L695.8 1317L694.8 1317.1L693.8 1321.4L692.8 1320.3L691.8 1321.7L690.8 1321.8L689.8 1322.4L688.8 1316.6L687.8 1320.8L686.8 1319.6L685.8 1318.1L684.8 1319.6L683.8 1315.6L682.8 1315.8L681.8 1320L680.8 1317.5L679.8 1322.4L678.8 1324L677.8 1319.5L676.8 1320.1L675.8 1320.4L674.8 1320.6L673.8 1320L672.8 1324.1L671.8 1319.3L670.8 1317.6L669.8 1319.4L668.8 1325.9L667.8 1321.4L666.8 1321.7L665.8 1322.6L664.8 1322.9L663.8 1319.7L662.8 1317.5L661.8 1320.5L660.8 1322.2L659.8 1320.9L658.8 1321.7L657.8 1314.7L656.8 1318.2L655.8 1318.9L654.8 1322.2L653.8 1321.8L652.8 1324.3L651.8 1318.2L650.8 1318.4L649.8 1323.8L648.8 1320.6L647.8 1320.6L646.8 1317.9L645.8 1314.9L644.8 1320.7L643.8 1321.8L642.8 1321.9L641.8 1320.1L640.8 1318L639.8 1316.8L638.8 1321.5L637.8 1320.3L636.8 1319.1L635.8 1321L634.8 1319.2L633.8 1317.8L632.8 1316.3L631.8 1316.6L630.8 1319.6L629.8 1314.8L628.8 1317.9L627.8 1320.5L626.8 1318L625.8 1321.3L624.8 1318L623.8 1320.5L622.8 1318.6L621.8 1324.4L620.8 1319L619.8 1321.9L618.8 1320.5L617.8 1320.3L616.8 1320.4L615.8 1319.9L614.8 1315.9L613.8 1318.5L612.8 1322.2L611.8 1318.9L610.8 1319L609.8 1324.4L608.8 1323.3L607.8 1322.9L606.8 1320.3L605.8 1318.6L604.8 1317.9L603.8 1321.5L602.8 1321.8L601.8 1312.5L600.8 1319.4L599.8 1318.8L598.8 1319.4L597.8 1318L596.8 1320.3L595.8 1314.1L594.8 1321.1L593.8 1318.5L592.8 1320.3L591.8 1318.2L590.8 1315.9L589.8 1314.2L588.8 1315L587.8 1321.1L586.8 1313.1L585.8 1313.7L584.8 1317.7L583.8 1321L582.8 1316L581.8 1310.7L580.8 1314L579.8 1321L578.8 1320.9L577.8 1317.6L576.8 1317.2L575.8 1311.5L574.8 1321.7L573.8 1319.4L572.8 1313.8L571.8 1325.2L570.8 1317L569.8 1318.4L568.8 1315.7L567.8 1318.5L566.8 1312L565.8 1312.5L564.8 1310.4L563.8 1310.3L562.8 1317.3L561.8 1312.5L560.8 1307.8L559.8 1309.9L558.8 1308.1L557.8 1315.5L556.8 1310.4L555.8 1319.6L554.8 1308L553.8 1302.2L552.8 1304.8L551.8 1299.2L550.8 1299.4L549.8 1306.8L548.8 1314.2L547.8 1307.6L546.8 1295L545.8 1303.3L544.8 1300.5L543.8 1296.4L542.8 1298.5L541.8 1301L540.8 1298.9L539.8 1295L538.8 1283.7L537.8 1292.9L536.8 1295.9L535.8 1289.9L534.8 1292.5L533.8 1282.4L532.8 1283.4L531.8 1282.4L530.8 1283.2L529.8 1286.8L528.8 1297.9L527.8 1280.5L526.8 1296.6L525.8 1281.8L524.8 1284.5L523.8 1291.7L522.8 1281.3L521.8 1287L520.8 1278.7L519.8 1285.1L518.8 1286L517.8 1274.1L516.8 1279.6L515.8 1288L514.8 1273L513.8 1266.8L512.8 1275.2L511.8 1275.3L510.8 1278.4L509.8 1269.3L508.8 1261.6L507.8 1274.7L506.8 1267.1L505.8 1266.7L504.8 1261.9L503.8 1258.3L502.8 1268.2L501.8 1271.9L500.8 1261.5L499.8 1263.4L498.8 1258.1L497.8 1263L496.8 1261.3L495.8 1267.8L494.8 1261.5L493.8 1256.8L492.8 1253.7L491.8 1255.1L490.8 1262.5L489.8 1255.4L488.8 1251.5L487.8 1245.8L486.8 1245L485.8 1246.5L484.8 1240.8L483.8 1248.7L482.8 1250.8L481.8 1250.7L480.8 1250.9L479.8 1253.6L478.8 1250.6L477.8 1238.6L476.8 1250.2L475.8 1248.1L474.8 1231L473.8 1236.4L472.8 1237.9L471.8 1242L470.8 1231.6L469.8 1242.8L468.8 1230.9L467.8 1228.5L466.8 1244.1L465.8 1240.9L464.8 1249L463.8 1227.5L462.8 1239.7L461.8 1235.3L460.8 1235.4L459.8 1232.1L458.8 1231.7L457.8 1222.8L456.8 1227L455.8 1232.1L454.8 1230.9L453.8 1234.1L452.8 1237.5L451.8 1226.8L450.8 1227.2L449.8 1227.5L448.8 1234.2L447.8 1239.5L446.8 1228.5L445.8 1232.7L444.8 1229.3L443.8 1224.4L442.8 1227.6L441.8 1233.1L440.8 1229.4L439.8 1227.5L438.8 1215.3L437.8 1220.6L436.8 1226.3L435.8 1225.8L434.8 1215.5L433.8 1236.1L432.8 1230.4L431.8 1224.7L430.8 1227.5L429.8 1221.4L428.8 1226.2L427.8 1219.1L426.8 1224.9Z" fill="#1f4aa2" stroke="#1f4aa2" stroke-width="0.8"/>
</g>
<rect x="426.8" y="1175.8" width="291.0" height="145.4" fill="none" stroke="#2e2e2e" stroke-width="1.3"/>
<path d="M426.8 1321.2 v-5.0 M426.8 1321.2 h5.0 M455.9 1321.2 v-2.9 M426.8 1306.7 h2.9 M485.0 1321.2 v-2.9 M426.8 1292.1 h2.9 M514.1 1321.2 v-2.9 M426.8 1277.6 h2.9 M543.2 1321.2 v-2.9 M426.8 1263.0 h2.9 M572.3 1321.2 v-5.0 M426.8 1248.5 h5.0 M601.4 1321.2 v-2.9 M426.8 1234.0 h2.9 M630.5 1321.2 v-2.9 M426.8 1219.4 h2.9 M659.6 1321.2 v-2.9 M426.8 1204.9 h2.9 M688.7 1321.2 v-2.9 M426.8 1190.3 h2.9 M717.8 1321.2 v-5.0 M426.8 1175.8 h5.0 " stroke="#222" stroke-width="1" fill="none"/>
<text x="421.80" y="1326.80" font-size="15.3" text-anchor="end" fill="#3c3c3c" textLength="18.80" lengthAdjust="spacingAndGlyphs">0.0</text>
<text x="426.80" y="1340.30" font-size="15.3" text-anchor="middle" fill="#3c3c3c" textLength="18.80" lengthAdjust="spacingAndGlyphs">0.0</text>
<text x="421.80" y="1254.10" font-size="15.3" text-anchor="end" fill="#3c3c3c" textLength="18.80" lengthAdjust="spacingAndGlyphs">0.5</text>
<text x="572.30" y="1340.30" font-size="15.3" text-anchor="middle" fill="#3c3c3c" textLength="18.80" lengthAdjust="spacingAndGlyphs">0.5</text>
<text x="421.80" y="1181.40" font-size="15.3" text-anchor="end" fill="#3c3c3c" textLength="18.80" lengthAdjust="spacingAndGlyphs">1.0</text>
<text x="717.80" y="1340.30" font-size="15.3" text-anchor="middle" fill="#3c3c3c" textLength="18.80" lengthAdjust="spacingAndGlyphs">1.0</text>
<text x="572.80" y="1367.80" font-size="19.6" text-anchor="middle" fill="#3c3c3c" textLength="25.80" lengthAdjust="spacingAndGlyphs">x/L</text>
<text x="342.60" y="1254.50" font-size="19.8" text-anchor="middle" fill="#3c3c3c" transform="rotate(-90 342.60 1254.50)" textLength="98.00" lengthAdjust="spacingAndGlyphs">Normalized</text>
<text x="367.00" y="1254.50" font-size="19.8" text-anchor="middle" fill="#3c3c3c" transform="rotate(-90 367.00 1254.50)" textLength="75.00" lengthAdjust="spacingAndGlyphs">Reporter</text>
<text x="390.90" y="1254.50" font-size="19.8" text-anchor="middle" fill="#3c3c3c" transform="rotate(-90 390.90 1254.50)" textLength="117.50" lengthAdjust="spacingAndGlyphs">Fluorescence</text>
<path d="M630.4 1191.6 h39.4" stroke="#1f4aa2" stroke-width="1.9"/><text x="679.00" y="1196.90" font-size="14.8" text-anchor="start" fill="#3c3c3c" textLength="24.10" lengthAdjust="spacingAndGlyphs">½ X</text>
<path d="M630.4 1222.9 h39.4" stroke="#e8141c" stroke-width="1.9"/><text x="679.00" y="1228.20" font-size="14.8" text-anchor="start" fill="#3c3c3c" textLength="20.30" lengthAdjust="spacingAndGlyphs">1 X</text>
<path d="M630.4 1254.4 h39.4" stroke="#2fae3c" stroke-width="1.9"/><text x="679.00" y="1259.70" font-size="14.8" text-anchor="start" fill="#3c3c3c" textLength="20.30" lengthAdjust="spacingAndGlyphs">2 X</text>
<defs>
<filter id="gnS" x="0" y="0" width="100%" height="100%" color-interpolation-filters="sRGB"><feTurbulence type="fractalNoise" baseFrequency="0.63 0.57" numOctaves="3" seed="41" result="n"/><feColorMatrix in="n" type="matrix" values="0.6 0 0 0 0.2  0.6 0 0 0 0.2  0.6 0 0 0 0.2  0 0 0 0 1" result="n2"/><feComposite in="SourceGraphic" in2="n2" operator="arithmetic" k1="1" k2="0" k3="0" k4="0"/></filter>
<linearGradient id="igf1"><stop offset="0%" stop-color="#34e054"/><stop offset="10%" stop-color="#2cc44c"/><stop offset="20%" stop-color="#1e8c38"/><stop offset="30%" stop-color="#145c24"/><stop offset="40%" stop-color="#104018"/><stop offset="50%" stop-color="#0c3012"/><stop offset="70%" stop-color="#0a240e"/><stop offset="100%" stop-color="#081c0c"/></linearGradient>
<linearGradient id="igf2"><stop offset="0%" stop-color="#34dc54"/><stop offset="15%" stop-color="#28a844"/><stop offset="30%" stop-color="#186028"/><stop offset="40%" stop-color="#0c3014"/><stop offset="50%" stop-color="#061408"/><stop offset="100%" stop-color="#040804"/></linearGradient>
<linearGradient id="igf3"><stop offset="0%" stop-color="#1e8040"/><stop offset="30%" stop-color="#186030"/><stop offset="60%" stop-color="#124c24"/><stop offset="100%" stop-color="#104420"/></linearGradient>
<linearGradient id="igd1"><stop offset="0%" stop-color="#28a050"/><stop offset="10%" stop-color="#26964a"/><stop offset="20%" stop-color="#20783c"/><stop offset="30%" stop-color="#1c6230"/><stop offset="50%" stop-color="#1a582c"/><stop offset="100%" stop-color="#1a542a"/></linearGradient>
<linearGradient id="igd2"><stop offset="0%" stop-color="#1a642e"/><stop offset="10%" stop-color="#1a5e2a"/><stop offset="20%" stop-color="#144c22"/><stop offset="35%" stop-color="#103416"/><stop offset="50%" stop-color="#0c2610"/><stop offset="100%" stop-color="#0a220e"/></linearGradient>
<linearGradient id="igd3"><stop offset="0%" stop-color="#28a050"/><stop offset="10%" stop-color="#26944a"/><stop offset="20%" stop-color="#1e7238"/><stop offset="35%" stop-color="#144c22"/><stop offset="50%" stop-color="#103a1a"/><stop offset="100%" stop-color="#103216"/></linearGradient>
<linearGradient id="igs1"><stop offset="0%" stop-color="#10441e"/><stop offset="8%" stop-color="#1c6c34"/><stop offset="20%" stop-color="#165628"/><stop offset="40%" stop-color="#0e3014"/><stop offset="60%" stop-color="#0a1e0e"/><stop offset="95%" stop-color="#08180a"/><stop offset="100%" stop-color="#060e06"/></linearGradient>
<linearGradient id="igs2"><stop offset="0%" stop-color="#186030"/><stop offset="5%" stop-color="#228c46"/><stop offset="20%" stop-color="#1e7238"/><stop offset="40%" stop-color="#124420"/><stop offset="60%" stop-color="#0e3014"/><stop offset="100%" stop-color="#0a220e"/></linearGradient>
<linearGradient id="igs3"><stop offset="0%" stop-color="#186030"/><stop offset="5%" stop-color="#207c3e"/><stop offset="20%" stop-color="#1a6432"/><stop offset="40%" stop-color="#12401e"/><stop offset="60%" stop-color="#0e2c12"/><stop offset="95%" stop-color="#0a220e"/><stop offset="100%" stop-color="#061208"/></linearGradient>
</defs>
<rect x="773.1" y="744.2" width="307.4" height="46.8" fill="#030a04"/><rect x="773.1" y="744.2" width="307.4" height="46.8" fill="url(#igf1)" filter="url(#gnS)"/>
<rect x="773.1" y="792.8" width="157.4" height="47.9" fill="#030a04"/><rect x="773.1" y="792.8" width="157.4" height="47.9" fill="url(#igf2)" filter="url(#gnS)"/>
<rect x="773.1" y="843.3" width="69.5" height="47.5" fill="#030a04"/><rect x="773.1" y="843.3" width="69.5" height="47.5" fill="url(#igf3)" filter="url(#gnS)"/>
<path d="M790.0 744.2 V791 M805.5 744.2 V791 M821.0 744.2 V791 M836.5 744.2 V791 M852.0 744.2 V791 M867.5 744.2 V791 M883.0 744.2 V791 M898.5 744.2 V791 M914.0 744.2 V791 M929.5 744.2 V791 M945.0 744.2 V791 M960.5 744.2 V791 M976.0 744.2 V791 M991.5 744.2 V791 M1007.0 744.2 V791 M1022.5 744.2 V791 M1038.0 744.2 V791 M1053.5 744.2 V791 M1069.0 744.2 V791 M773.1 760 H1080.5 M773.1 775.6 H1080.5 " stroke="#000" stroke-width="0.8" opacity="0.22"/>
<path d="M794 843.3 V890.8 M810 843.3 V890.8 M826 843.3 V890.8 M773.1 859 H842.6 M773.1 875 H842.6" stroke="#000" stroke-width="0.8" opacity="0.25"/>
<text x="1087.20" y="773.00" font-size="19" text-anchor="start" fill="#222" textLength="125.00" lengthAdjust="spacingAndGlyphs">2X field length</text>
<text x="936.50" y="822.40" font-size="19" text-anchor="start" fill="#222" textLength="125.60" lengthAdjust="spacingAndGlyphs">1X field length</text>
<text x="849.00" y="872.10" font-size="19" text-anchor="start" fill="#222" textLength="132.00" lengthAdjust="spacingAndGlyphs">½X field length</text>
<text x="1054.50" y="777.00" font-size="13.7" text-anchor="middle" fill="#fff" textLength="45.30" lengthAdjust="spacingAndGlyphs" stroke="#fff" stroke-width="0.4">0.5 cm</text>
<path d="M1037.8 783.9 H1071.4" stroke="#d6d6ce" stroke-width="1.9" fill="none"/><path d="M1037.8 779.9 V788 M1071.4 779.9 V788" stroke="#d6d6ce" stroke-width="1.7" fill="none"/>
<rect x="773.1" y="962.0" width="157.4" height="47.1" fill="#030a04"/><rect x="773.1" y="962.0" width="157.4" height="47.1" fill="url(#igd1)" filter="url(#gnS)"/>
<text x="1052.80" y="991.10" font-size="19" text-anchor="end" fill="#222" textLength="110.70" lengthAdjust="spacingAndGlyphs">2X Degrader</text>
<rect x="773.1" y="1012.1" width="157.4" height="47.5" fill="#030a04"/><rect x="773.1" y="1012.1" width="157.4" height="47.5" fill="url(#igd2)" filter="url(#gnS)"/>
<text x="1052.80" y="1041.20" font-size="19" text-anchor="end" fill="#222" textLength="110.70" lengthAdjust="spacingAndGlyphs">1X Degrader</text>
<rect x="773.1" y="1062.2" width="157.4" height="47.9" fill="#030a04"/><rect x="773.1" y="1062.2" width="157.4" height="47.9" fill="url(#igd3)" filter="url(#gnS)"/>
<text x="1052.80" y="1091.40" font-size="19" text-anchor="end" fill="#222" textLength="116.30" lengthAdjust="spacingAndGlyphs">½X Degrader</text>
<rect x="773.1" y="1177.0" width="157.4" height="47.1" fill="#030a04"/><rect x="773.1" y="1177.0" width="157.4" height="47.1" fill="url(#igs1)" filter="url(#gnS)"/>
<text x="1066.70" y="1206.10" font-size="19" text-anchor="end" fill="#222" textLength="130.20" lengthAdjust="spacingAndGlyphs">½X Diffusibility</text>
<rect x="773.1" y="1227.1" width="157.4" height="47.5" fill="#030a04"/><rect x="773.1" y="1227.1" width="157.4" height="47.5" fill="url(#igs2)" filter="url(#gnS)"/>
<text x="1066.70" y="1256.20" font-size="19" text-anchor="end" fill="#222" textLength="124.60" lengthAdjust="spacingAndGlyphs">1X Diffusibility</text>
<rect x="773.1" y="1277.2" width="157.4" height="47.9" fill="#030a04"/><rect x="773.1" y="1277.2" width="157.4" height="47.9" fill="url(#igs3)" filter="url(#gnS)"/>
<text x="1066.70" y="1306.40" font-size="19" text-anchor="end" fill="#222" textLength="124.60" lengthAdjust="spacingAndGlyphs">2X Diffusibility</text>

</svg>
</body></html>
